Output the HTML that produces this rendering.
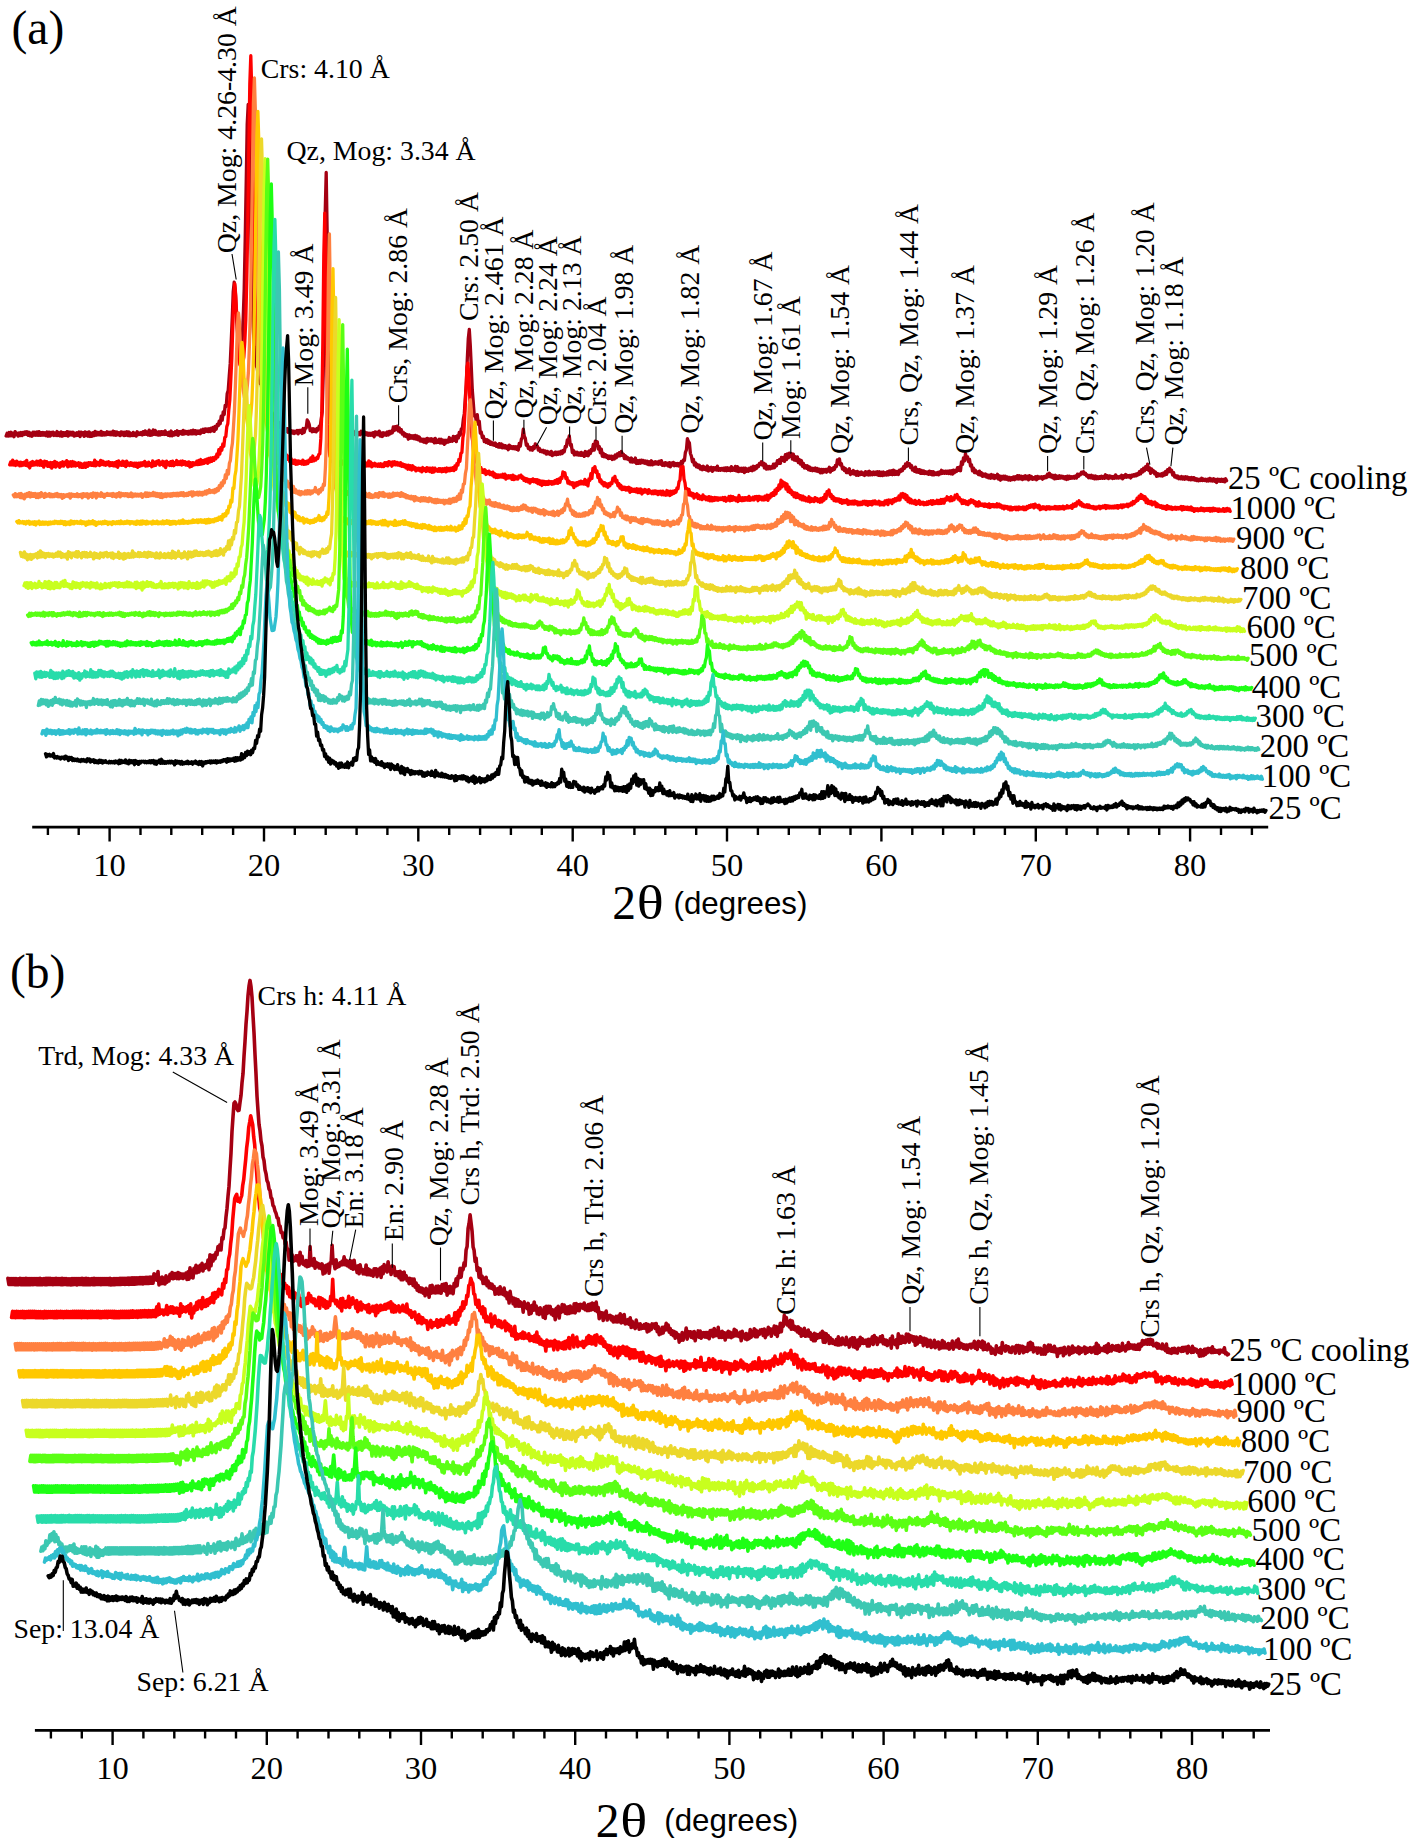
<!DOCTYPE html>
<html lang="en"><head><meta charset="utf-8"><title>XRD patterns</title><style>html,body{margin:0;padding:0;background:#fff}svg{display:block}</style></head><body>
<svg width="1417" height="1846" viewBox="0 0 1417 1846" font-family="'Liberation Serif', serif" fill="#000">
<rect width="1417" height="1846" fill="#fff"/>

<g fill="none" stroke-linejoin="round" stroke-linecap="round">
<path stroke="#A50012" stroke-width="3.30" d="M6.1 436.0l1-2.8l1 2.9l1-3.6l1 3.3l1-3.5l1 3.5l1-2.5l1 3.4l1-5.1l1 3l1-1.4l1 2.9l1-3.2l1 2.7l1-3.1l1 3.1l1-3.2l1 2.1l1-2.6l1 2.5l1-2.7l1 3.6l1-3l1 3.5l1-2.6l1 3l1-4.1l1 3l1-2.9l1 3l1-3.3l1 3.5l1-3.7l1 3.7l1-2.8l1 2.6l1-2.7l1 2.8l1-2.5l1 2.9l1-3.7l1 4.2l1-4.1l1 4l1-3.7l1 2.6l1-2.9l1 3.4l1-2.5l1 2.5l1-4l1 4l1-2.7l1 3.1l1-4l1 4.3l1-3.5l1 2.8l1-2.9l1 2.9l1-3.8l1 4.4l1-4.1l1 3l1-2.7l1 2.8l1-2.8l1 3.8l1-2.9l1 2.4l1-2.8l1 2.5l1-3.3l1 4.7l1-4.6l1 2.7l1-2.2l1 3.7l1-4.4l1 3.7l1-3.2l1 3.8l1-4.3l1 4.6l1-3.4l1 3.1l1-3.6l1 3l1-4.2l1 3.8l1-3l1 2.7l1-2.4l1 2.5l1-3.6l1 3.8l1-2.7l1 2.5l1-2.3l1 2.1l1-3.1l1 2.8l1-2.3l1 2.5l1-2.4l1 2.5l1-3.6l1 3.9l1-3.3l1 3.4l1-3.2l1 2.8l1-2.1l1 2.9l1-3.7l1 2.8l1-2.4l1 3.3l1-3.5l1 3.2l1-3.5l1 3.8l1-3.6l1 3.8l1-2.3l1 2l1.1-3.1l1 3.1l1-2.4l1 3l1-4.3l1 2.8l1-1.6l1 1.5l1-2.1l1 2.6l1-3.3l1 2.7l1-3.5l1 3.5l1-2.4l1 3l1-4.9l1 5.3l1-3.7l1 3.3l1-5.1l1 4.5l1-4l1 4.2l1-2.5l1 3l1-3.3l1 3.2l1-3.3l1 2.7l1-2.7l1 2.8l1-3.6l1 3.5l1-1.7l1 2.7l1-3.2l1 3.5l1-4.7l1 4.8l1-3.2l1 2.4l1-3.2l1 2.8l1-3.8l1 4.5l1-3.6l1 1.8l1-2.1l1 2.9l1-3.9l1 3.6l1-2.7l1 2.3l1-2.2l1 2.8l1-3l1 2.6l1-3l1 3.1l1-3.7l1 3.5l1-3.1l1 3.5l1-3.1l1 2.4l1-2.4l1 2.7l1-3.7l1 2.2l1-3l1 3.2l1-3.5l1 2.4l1-2.4l1 2.7l1-2.9l1 2.9l1-3.5l1 2.6l1-3.3l1 4l1-5.1l1 2.9l1-4.7l1 1.3l1-4.6l1 2.5l1-7.6l1 4.1l1-8.2l1 2.5l1-9.2l1 1.4l1-13.3l1-3l1-13.8l1-12.9l1-21.8l1-23l1-26.9l1-9.8l1 7.2l1 21l1 16.4l1 14.1l1 5.1l1 3.8l1-4.7l1-6.3l1-20.6l1-29.4l1-49.8l1-56.4l1-58.6l1-19.7l1 29.5l1 60.7l1 56.7l1 46.9l1 28.7l1 20l1 9.1l1 10l1 2.2l1 8l1 1.5l1 6.2l1 0.9l1 6.8l1-2.5l1 8.6l1-1.5l1 5.7l1-1.4l1 6.2l1-3.5l1 8.6l1-2l1 4.9l1-0.8l1 7l1-3.5l1 5.1l1-2.5l1 7.7l1-4.9l1 4.7l1-2.7l1 4.4l1-2.6l1 3.9l1-2.1l1 3.3l1-3l1 3.6l1-3.3l1 4l1-2.3l1 2.5l1-2l1 2.4l1-2.3l1 1.6l1-2.4l1 3.4l1-3.4l1 1.8l1-2.1l1 3.4l1-5l1 4l1-4.4l1-0.1l1-8l1 1.7l1 2.6l1 6.4l1-2l1 3.1l1-3l1 2.7l1-2.2l1 2.6l1-3.5l1 1.6l1-3.8l1 0.5l1-7.4l1-7.3l1-36.6l1-66.8l1-96.6l1-39.5l1 63.4l1 94.9l1 56.7l1 29.2l1 4l1 7.8l1-2.6l1 4.9l1-2l1 3.3l1-1.8l1 2.6l1-3.6l1 3.2l1-2.1l1 2.6l1-2.6l1 4.3l1-3.2l1 3.3l1-3.1l1 3.1l1-3.8l1 3.1l1-2.4l1 2.9l1-3.7l1 3.7l1-2.1l1 2.3l1-1.9l1 1.9l1-2.3l1 2.2l1-3.4l1 2.6l1-1.7l1 2.7l1-2.7l1 2.5l1-1.7l1 2.3l1-2.1l1 2l1-1.9l1 2.1l1-2.8l1 4.2l1-5l1 2.9l1.1-2.4l1 2.5l1-3.7l1 5l1-3.1l1 3.5l1-3.7l1 2.2l1-1.9l1 2.2l1-3.3l1 3l1-3.6l1 2.4l1-2.6l1 1.6l1-5.8l1 3.6l1-3.9l1 2.9l1-3.4l1 4.8l1-3.1l1 4.1l1-2.4l1 4.6l1-2l1 3.8l1-2.2l1 2.8l1-1.8l1 4.4l1-4.3l1 3.3l1-2.5l1 2.6l1-2.6l1 3l1-3.3l1 3.8l1-3.2l1 3.7l1-2.7l1 4.1l1-2.2l1 2.6l1-2.3l1 3.1l1-3.2l1 3.7l1-4.4l1 2.8l1-2.3l1 2.2l1-2.4l1 2.6l1-2.1l1 3.7l1-4.6l1 4.3l1-2.4l1 2.1l1-3.1l1 3.8l1-3.7l1 3.7l1-2.7l1 4l1-4l1 2.5l1-2.7l1 2l1-4.6l1 3.8l1-2.3l1 2.2l1-4.8l1 4l1-3.8l1 5.1l1-5.9l1 2.3l1-5.7l1 2.7l1-6.3l1-0.2l1-9.2l1-5.7l1-16l1-13.2l1-25.6l1-20.5l1-9l1 16.3l1 21.7l1 22.6l1 12.6l1 13.4l1-0.7l1 6.1l1-6.8l1 9.7l1-2.9l1 11.7l1-1.1l1 5.7l1-1.6l1 5.6l1-2.4l1 3.2l1-2.8l1 3.5l1-2.3l1 3.4l1-2.1l1 2.5l1-1.6l1 2.3l1-2.4l1 3.3l1-1.7l1 2.5l1-3.4l1 3.5l1-3.3l1 3.9l1-2.7l1 2.8l1-2.3l1 2.7l1-2.2l1 3.6l1-4.6l1 3.1l1-1.7l1 2.1l1-2l1 2.2l1-2.1l1 2.5l1-2.4l1 3.3l1-6.8l1 3l1-6.9l1-1.8l1-8.4l1 7l1 2l1 7.1l1-1.3l1 4.5l1-1.6l1 3l1-2.3l1 2.6l1-3.6l1 1.9l1-4.7l1 2.3l1-0.2l1 4.1l1-1.8l1 3.3l1-1.3l1 1.7l1-1.6l1 2.5l1-1.8l1 3.1l1-2.7l1 2.5l1-1.6l1 2.2l1-3.1l1 4.2l1-2.6l1 1.6l1-2.5l1 2.7l1-2.6l1 2l1-2.3l1 2.1l1-2.9l1 2.4l1-3.1l1 1.4l1-5.4l1 0.4l1-6.8l1 0.5l1-4.7l1 9.5l1-0.9l1 8.1l1-2.2l1 4.7l1-2.9l1 2.7l1-2.5l1 2.8l1-2.2l1 2.4l1-2.9l1 3l1-2.3l1 3.3l1-4.9l1 3.9l1-3.4l1 3.7l1-4.7l1 2.5l1-4l1 1.1l1-6.2l1 5.7l1-8.9l1 3.4l1-2.9l1 7.4l1-2.5l1 6.2l1-3.7l1 7.2l1-3.1l1 3.5l1-2.1l1 2.7l1-1.6l1 2.9l1-2.5l1 2.1l1-2.1l1 3.4l1-3.1l1 2.6l1-4l1 2.8l1-3.9l1 2.2l1-3.5l1 3.1l1.1-4.2l1 3.7l1-1l1 4.4l1-2.8l1 3l1-1.5l1 2.2l1-1l1 3.3l1-3.8l1 4.1l1-2.3l1 2.2l1-4l1 5.5l1-3l1 2.9l1-3l1 2.8l1-3.1l1 2.4l1-2.1l1 2.8l1-2.2l1 2.7l1-2.5l1 3.4l1-2.9l1 3.1l1-4l1 4l1-2.6l1 1.8l1-2.3l1 2l1-1.7l1 2.3l1-3.1l1 2.8l1-3.3l1 4.6l1-2.2l1 2.4l1-2.9l1 2.4l1-1.8l1 2.9l1-3.5l1 4.3l1-3.9l1 2.1l1-2.7l1 3.3l1-2.2l1 2l1-2.1l1 2.6l1-2.6l1 2.7l1-4.6l1 2l1-3.6l1 0.6l1-8.2l1-2.5l1-11.1l1 2.8l1 1.5l1 10.5l1 2.6l1 5.7l1-2.5l1 5.8l1-2.4l1 4.2l1-2.4l1 3.1l1-2.4l1 3.9l1-2.4l1 3l1-3.4l1 2.9l1-1.7l1 2.6l1-4.1l1 5l1-3.2l1 2.2l1-2.8l1 4.1l1-3.6l1 2.1l1-2l1 2.2l1-3.9l1 4.3l1-2l1 1.8l1-1.8l1 1.6l1-1.8l1 2.4l1-2.7l1 2.8l1-3l1 2.7l1-2.2l1 2.5l1-4l1 3.7l1-2.3l1 2.2l1-3.9l1 4.6l1-4.4l1 5.1l1-3.4l1 2.8l1-2.9l1 3.2l1-3.3l1 4.5l1-4.5l1 3.3l1-2.4l1 2.3l1-3.1l1 2.2l1-3.1l1 3.4l1-4.4l1 3.5l1-3.4l1 2.1l1-3.1l1 1.3l1-3.3l1 1.2l1-2.8l1 3.3l1-2.2l1 5.1l1-3.8l1 5l1-3l1 2.7l1-2.4l1 2.3l1-2.1l1 1.4l1-3.9l1 3.5l1-3.7l1 1.9l1-5.3l1 2.9l1-3.7l1 3.6l1-5.9l1 2.9l1-3l1 4l1-6.7l1 5l1-5.8l1 3.9l1-4.7l1 3.1l1-2.7l1 5.6l1-4.9l1 6l1-3.4l1 3.8l1-3.7l1 5.7l1-3l1 4.5l1-3.6l1 5.8l1-3l1 4.7l1-2.4l1 2.7l1-2.5l1 3.9l1-2.8l1 3.5l1-2.3l1 2.6l1-2.3l1 2.2l1-2.6l1 3.1l1-2.6l1 3.1l1-2.4l1 3.6l1-3.4l1 3.3l1-3.2l1 2.3l1-2.3l1 2.7l1-3l1 1.8l1-3.7l1 4.8l1-3.6l1 1.8l1-2.5l1 1.6l1-3.9l1 1.1l1-6.8l1 4l1-5l1 6.3l1-1.5l1 5.4l1-1.8l1 3.4l1-2.1l1 4.1l1-2.6l1 2.6l1-3.8l1 5.7l1-2.9l1 2l1-3.1l1 3.5l1-2.3l1 3.5l1-3.8l1 3.9l1-2.9l1 2.2l1-2.6l1 2.5l1-1.6l1 2.6l1.1-3.8l1 2.9l1-2.7l1 3.1l1-3.7l1 3.5l1-2.3l1 2.2l1-2.7l1 2.6l1-2.5l1 2.5l1-2.9l1 3.7l1-3.6l1 3.7l1-3.2l1 3.3l1-3.6l1 3.1l1-2.3l1 2.2l1-3.2l1 3.1l1-3.9l1 3.3l1-3.5l1 3.9l1-4.5l1 4.3l1-3.3l1 3l1-2.8l1 3.1l1-4.3l1 1.5l1-2.5l1 1.5l1-3.9l1 1.5l1-4.3l1 2.5l1-4l1 3l1-1.8l1 3.9l1-2.2l1 4.8l1-2.1l1 3.1l1-4.1l1 5l1-2.5l1 2.8l1-2.8l1 3.8l1-3l1 3l1-2.5l1 2.7l1-1.9l1 1.8l1-1.5l1 2.2l1-3.1l1 3.1l1-2.6l1 3.3l1-3.1l1 3l1-1.8l1 1.5l1-2.1l1 2.5l1-3l1 2l1-3.6l1 3.1l1-2.1l1 1.9l1-2.1l1 2.1l1-1.9l1 2.2l1-2.6l1 2.8l1-2.9l1 3.3l1-4l1 2.6l1-2.3l1 1.2l1-3.9l1 2.7l1-3.2l1 3.5l1-8.9l1 2.6l1-6.6l1 3.2l1-7.5l1 5.4l1-2.2l1 4.9l1-2.3l1 6.7l1-1.2l1 6.1l1-2.9l1 4.7l1-2.5l1 2.8l1-1.1l1 2.7l1-3.4l1 3.8l1-2.3l1 3.6l1-2.4l1 2.1l1-2.1l1 3.1l1-2l1 2.9l1-2.6l1 2.9l1-3.7l1 3.3l1-2.7l1 3.4l1-2.7l1 2l1-3.5l1 4.8l1-3.2l1 4.3l1-3.8l1 2.6l1-2.9l1 3l1-2.8l1 3l1-2.3l1 3l1-2.6l1 2.9l1-2.7l1 2l1-2.7l1 2.8l1-3l1 2.2l1-3.3l1 3.4l1-3.2l1 3.1l1-2.7l1 3.4l1-3.2l1 2.5l1-3.2l1 3.2l1-2.7l1 3.7l1-4.2l1 3l1-2.2l1 2.9l1-1.7l1 1.2l1-2.2l1 3l1-3.3l1 2.2l1-1.6l1 1l1-1.3l1 2.5l1-2.6l1 1.5l1-2l1 1.5l1-3.5l1 2.4l1-3.2l1 3.4l1-1.7l1 2.7l1-2.2l1 3.4l1-3.6l1 3.2l1-2.3l1 2.1l1-2.5l1 2.3l1-2l1 1.9l1-1.4l1 2.1l1-2.1l1 2.9l1-3.4l1 2.9l1-2.8l1 2.2l1-1.7l1 1.4l1-1.5l1 1.6l1-2.2l1 2.1l1-4l1 2.3l1-2.3l1 0.6l1-2.5l1 1.5l1-2l1 2.7l1-1.1l1 2.7l1-0.9l1 2.6l1-2.2l1 2.4l1-2.6l1 2.9l1-2.2l1 2.9l1-2.9l1 2.7l1-1.9l1 1.8l1-2l1 1.7l1-2l1 1.9l1-1.8l1 1.8l1-3.4l1 3.1l1-2.1l1 2.8l1.1-2.7l1 1.9l1-1.4l1 2.1l1-1.9l1 1.6l1-3.3l1 3.1l1-1.5l1 1.6l1-1.7l1 1.3l1-2.4l1 3.5l1-3l1 1.6l1-2.9l1 2.7l1-1.7l1 1.5l1-1.5l1 2.5l1-2.9l1 1.3l1-1.7l1 1.4l1-2l1 1.6l1-2.3l1 1.3l1-3.2l1 2.4l1-4.1l1 2.2l1-3.7l1 2.4l1-3.9l1 2.6l1-5.2l1 6.1l1-2.6l1 5.7l1-4.6l1 3.2l1-1.3l1 3.1l1-1.7l1 4.3l1-2.8l1 2.2l1-1.5l1 1.5l1-2.1l1 2.4l1-3.1l1 2.1l1-3.6l1 2.9l1-4.8l1 2.2l1-3.6l1 3.4l1-1.3l1 4.7l1-2.4l1 4.4l1-1.4l1 2.3l1-1.9l1 2.7l1-1.8l1 1.9l1-2.4l1 2.7l1-2.2l1 2.3l1-2.4l1 2l1-1.7l1 2.5l1-1.9l1 2.2l1-2.4l1 2.1l1-2l1 2.5l1-1.7l1 2.1l1-1.4l1 1.7l1-1.5l1 1.2l1-2.2l1 2.2l1-1.4l1 1.3l1-1.2l1 1.9l1-1.8l1 1.6l1-2.5l1 2.5l1-1.8l1 1.9l1-2.3l1 2.5l1-1.7l1 3l1-3.3l1 1.9l1-1.7l1 2l1-2.2l1 2.1l1-1.9l1 2.5l1-3.2l1 2"/>
<path stroke="#FF0000" stroke-width="3.30" d="M9.7 464.9l1-2.9l1 2.9l1-4.8l1 4.9l1-3.1l1 3.6l1-4.4l1 3.8l1-2.5l1 3.4l1-3.7l1 3.5l1-3l1 2.4l1-3.1l1 3.5l1-5l1 5.6l1-2.4l1 4.4l1-5.7l1 3.2l1-4l1 3.6l1-2.7l1 2.3l1-3.6l1 3.9l1-3.6l1 3.8l1-4.7l1 4.8l1-3.3l1 5.1l1-5.9l1 3.8l1-3.4l1 4.8l1-3.5l1 3.7l1-4.1l1 5.6l1-5.5l1 3.9l1-5.2l1 5.9l1-4.8l1 3.5l1-2.5l1 3.9l1-4.5l1 3.2l1-4.2l1 4.3l1-3.9l1 2.4l1-4l1 6.2l1-4.8l1 4.1l1-4.3l1 4.4l1-4.7l1 4.3l1-3.5l1 3.7l1-2.7l1 2.1l1-2.6l1 4.3l1-3.8l1 4.1l1-3.3l1 3.1l1-4.1l1 4.3l1-4.3l1 3.3l1-3.8l1 2.5l1-2.4l1 2.7l1-2.5l1 2.7l1-5.4l1 5.7l1-3.9l1 2.7l1-2.3l1 3.1l1-5.2l1 4.2l1-3.4l1 3.8l1-2.7l1 3l1-2.9l1 2.3l1-2.9l1 4.1l1-3.2l1 2.8l1-2.6l1 3.1l1-3.3l1 3.5l1-4.5l1 5.7l1-6.3l1 4.1l1-2.5l1 2.8l1-4.3l1 4.2l1-3.4l1 4.8l1-5.6l1 4.1l1-2l1 2.4l1-3l1 2.8l1-2.1l1 2.8l1-3l1 3.2l1-3.1l1 4.1l1-4.2l1 3.1l1-3.3l1 2.7l1-2.9l1 2.4l1-3.7l1 4.7l1-3.1l1 2.9l1-3.7l1 3.1l1-1.6l1 3.1l1-6l1 5l1-3.4l1 3l1-4l1 2.2l1-3l1 4.6l1-2.8l1 1.8l1-2.9l1 4.5l1-3.9l1 5.7l1-6.5l1 3.8l1-2.1l1 2.7l1-3.9l1 3.9l1-4.3l1 4.5l1-3.1l1 2l1-4.1l1 4.1l1-2.7l1 2.6l1.1-3.2l1 3.7l1-4l1 3.2l1-2.6l1 3.4l1-2.6l1 3l1-3.5l1 5.1l1-4.2l1 3.4l1-3.5l1 2.4l1-2.2l1 1.6l1-3.2l1 3.3l1-4.1l1 3.8l1-4.8l1 4.5l1-3.4l1 2.9l1-3.6l1 2.7l1-3.5l1 4.2l1-5l1 3.7l1-4l1 3.4l1-3.6l1 2.6l1-3.1l1 1.5l1-4.5l1 2.7l1-7.3l1 4.4l1-6.4l1 2.5l1-6.3l1 2.4l1-8.8l1-1l1-9.9l1-2.9l1-13.9l1-10l1-20.1l1-21.1l1-32l1-26.8l1-16.1l1 12.8l1 21l1 23.5l1 13l1 10.5l1 2.1l1 2l1-5.6l1-5.7l1-15.3l1-22.2l1-41.1l1-55.6l1-73.1l1-65.9l1-28.4l1 38.1l1 66.4l1 70.9l1 50.8l1 37.7l1 19.6l1 15l1 6.6l1 9l1 3.8l1 6.9l1 2.2l1 6.3l1 2.7l1 6.7l1 2.6l1 6.4l1 1.5l1 7.3l1 1.1l1 6.5l1-0.4l1 6.8l1-1.7l1 6.8l1 0.4l1 7.3l1-2.6l1 7.5l1-4.6l1 8l1-3.4l1 6.1l1-1.7l1 6.2l1-3.3l1 4.2l1-2.9l1 5.1l1-3.5l1 5.1l1-2.9l1 3.1l1-3.3l1 4.3l1-3.5l1 3.1l1-3l1 2.4l1-1.8l1 2.4l1-3.9l1 4.3l1-2.9l1 2.6l1-2.9l1 2.4l1-3.5l1 1.6l1-3.8l1 3.5l1-5.4l1 4.8l1-2.4l1 1.6l1-2.5l1 0.9l1-3.9l1-0.6l1-15l1-26.5l1-68.6l1-89l1-41.7l1 64.5l1 87.3l1 59.5l1 20.4l1 11.2l1-0.6l1 5.8l1-2.3l1 2.6l1-1.9l1 2.9l1-2.5l1 4l1-2.4l1 3.6l1-3.3l1 2.4l1-3.3l1 2.8l1-2.6l1 2.8l1-2.3l1 2.4l1-2.8l1 3.7l1-3.1l1 2.8l1-3l1 3.7l1-3l1 3l1-4l1 4.6l1-2.5l1 1.6l1-2.4l1 3.1l1-2.6l1 1.9l1-3l1 4l1-2.8l1 2.6l1-5l1 4.9l1-3.8l1 4.8l1-3.1l1 2.2l1-2.6l1 2.7l1-1.8l1 2l1-2.2l1 2.2l1-2.4l1 2.8l1-2.5l1 2.4l1-3.8l1 2.6l1-2.7l1 3.3l1-4.2l1 2.9l1-2.3l1 3.9l1-4.3l1 2.9l1-3.1l1 3.2l1-2.5l1 2.7l1-2.2l1 2.6l1-2.7l1 3.6l1-2.3l1 2.4l1-1.8l1 3l1-2.5l1 4l1-3.9l1 3.9l1-3.4l1 4.2l1-4.2l1 3.2l1-1.6l1 3.5l1-2.7l1 1.9l1-1.8l1 2.4l1-2.3l1 3.4l1-4.3l1 3l1.1-1.8l1 2.8l1-3.9l1 3.3l1-2.8l1 3.4l1-3.2l1 4l1-4.3l1 4l1-3.8l1 2.7l1-1.4l1 1.8l1-2.7l1 2.7l1-2.6l1 3.1l1-3.1l1 2.6l1-2.8l1 3.3l1-3.8l1 3l1-2.6l1 2.4l1-2.5l1 2l1-2.7l1 3l1-4.6l1 3.3l1-5.7l1 1.6l1-5.8l1 1.8l1-7.9l1-0.8l1-14.7l1-5.5l1-19.2l1-21.1l1-24.3l1-4.5l1 12.6l1 25.9l1 17.3l1 17.5l1 6l1 12.7l1-2.9l1 9.9l1-4.6l1 8.3l1-2l1 4.7l1-1.1l1 4.9l1-2.5l1 2.9l1-3.1l1 4.8l1-3l1 1.9l1-2.3l1 3.5l1-2.1l1 2.5l1-2.9l1 4.6l1-2.9l1 3.7l1-2.6l1 2.6l1-2.5l1 2l1-2.1l1 2.1l1-2.8l1 3.3l1-3.3l1 4.9l1-3.3l1 2.3l1-2.4l1 2.2l1-2.1l1 3.6l1-4.2l1 4.4l1-3.3l1 2.7l1-2l1 2.1l1-3.1l1 1.1l1-2l1 3.2l1-1.4l1 3.5l1-2.2l1 3.1l1-2.6l1 3l1-2.2l1 3.6l1-3.4l1 1.7l1-2.5l1 2.8l1-2.1l1 2.7l1-2.7l1 4l1-3.3l1 3.9l1-3.2l1 4.5l1-4.4l1 3.3l1-2.9l1 3l1-2.8l1 2.7l1-3.2l1 2.6l1-2.2l1 2.7l1-2.5l1 2l1-3.2l1 2.6l1-3.6l1 3.7l1-4.3l1 3.4l1-5l1 1.2l1-6.6l1 3.5l1-2.8l1 5.9l1-1.2l1 5.7l1-2.2l1 3l1-1.4l1 2.3l1-2l1 4.9l1-4.5l1 2.7l1-3.3l1 2.4l1-3.1l1 2.2l1-3l1 2.8l1-2.2l1 2.3l1-4.7l1 5.1l1-3.4l1 4.9l1-7l1 1.4l1-6.7l1 4.9l1-10.2l1 3l1-4.7l1 5.8l1-1.6l1 6.8l1-3l1 7.3l1-2.1l1 3.9l1-1.5l1 3.5l1-2.9l1 3.3l1-2.2l1 3.3l1-3.4l1 2l1-3.2l1 1l1-5.5l1 2.1l1-3.8l1 5.8l1-1.9l1 5.5l1-2.2l1 4.5l1-2.8l1 4.3l1-2.5l1 2.3l1-2.2l1 2.9l1-2.5l1 2.5l1-2.8l1 5l1-4l1 3.1l1-2.2l1 2l1-2l1 2.7l1-3.1l1 3.8l1-3.4l1 3.3l1-3.5l1 5l1-3.8l1 2l1-2.7l1 2.6l1-1.8l1 3.2l1-3.8l1 3.2l1-1.6l1 2.4l1-2.6l1 2.7l1-2.9l1 2.7l1-2.4l1 3.4l1-3.2l1 2.6l1-2.7l1 3.4l1-3.6l1 3.8l1-2.5l1 2.8l1-4.7l1 4.4l1.1-3.6l1 4.2l1-4.2l1 3l1-3.2l1 2.2l1-2.6l1 1.5l1-4.2l1 0.6l1-6.8l1-1.8l1-13l1 0.7l1-1.2l1 12.5l1 3.8l1 8.8l1-3l1 6.2l1-5.4l1 5.8l1-2.4l1 3.1l1-2.4l1 4.6l1-3.6l1 2.3l1-3l1 4.7l1-3.1l1 3.6l1-2.4l1 3l1-4.8l1 3.8l1-1.8l1 2.9l1-2.4l1 2.8l1-3.5l1 4.3l1-3.8l1 3.8l1-3.1l1 2.7l1-3l1 2.5l1-2.2l1 2.4l1-2.3l1 1.7l1-1.7l1 1.6l1-1.9l1 2.9l1-3.1l1 3.8l1-2.7l1 1.6l1-3.6l1 4.4l1-4.6l1 4l1-3.6l1 3l1-1.9l1 2.9l1-2.7l1 3.5l1-6l1 4.9l1-2.6l1 2.9l1-2.9l1 2.7l1-2.9l1 2.4l1-2.4l1 2.6l1-3.8l1 3.9l1-2.2l1 1.7l1-2.6l1 2.8l1-3.4l1 2.3l1-2.4l1 4.2l1-4.3l1 2.8l1-2.3l1 3l1-2.8l1 2.9l1-3.7l1 3.2l1-4.3l1 5.2l1-4.9l1 2.4l1-4l1 2.1l1-3.2l1 2.6l1-5.3l1 3.8l1-5.6l1 2.1l1-5.6l1 4.1l1-8.8l1 6.8l1-5l1 3.7l1-2.6l1 6.2l1-5.2l1 7.5l1-4.3l1 5.3l1-2.4l1 4.4l1-2.3l1 4.5l1-3.8l1 4.7l1-4.2l1 3.9l1-2.2l1 3.7l1-3.1l1 4.2l1-3.7l1 3.9l1-2.7l1 3.4l1-2.4l1 2.8l1-4.4l1 5.2l1-3.6l1 2.8l1-2.3l1 2.7l1-3.9l1 2.9l1-2.1l1 3l1-2.4l1 3.1l1-3.7l1 3.3l1-4.2l1 2.6l1-5.7l1 4.1l1-6.9l1 1.6l1-3.3l1 6.4l1-2.2l1 4.4l1-2.1l1 4.1l1-2.3l1 2.8l1-2.4l1 2.3l1-2l1 3.4l1-2.8l1 3.7l1-2.9l1 2.4l1-2.3l1 2.1l1-2.8l1 4.6l1-3.3l1 2.9l1-2.6l1 2.6l1-2.9l1 3l1-3.1l1 2.7l1-1.9l1 3.1l1-2.7l1 2.5l1-2.4l1 2.3l1-3.2l1 2.5l1-2.6l1 3.3l1-3.1l1 3.7l1-3.6l1 2.6l1-2.6l1 3.3l1-3.8l1 2.6l1-2.8l1 3l1-1.9l1 1.9l1-2.6l1 3.7l1-2.7l1 2.4l1-2.3l1 2.6l1-4.1l1 2.7l1-3.2l1 4.2l1-4.6l1 2.4l1-2.2l1 3.4l1-3.9l1 2.2l1-3.2l1 2.2l1-2.8l1 1.9l1-4l1 4l1-6.1l1 2.9l1-3.3l1 4.2l1-3.3l1 5.3l1-4.2l1 6.2l1-3.5l1 4.5l1-3.3l1 3.7l1.1-2.2l1 2.6l1-3.1l1 4l1-2.7l1 1.7l1-2.9l1 3.8l1-2.1l1 1.8l1-1.8l1 2.6l1-2l1 1.7l1-2.5l1 2.3l1-2.8l1 2.1l1-2.8l1 3.6l1-3.7l1 3l1-2.2l1 1.9l1-3.1l1 3.3l1-3.1l1 3l1-4l1 3.7l1-3.8l1 3.8l1-4.2l1 1.2l1-3.4l1 2.9l1-1.9l1 3.1l1-4.3l1 4l1-2.2l1 1.3l1-4.4l1 1.9l1-2.7l1 4.6l1-1.9l1 3.7l1-1.4l1 4l1-3.3l1 3l1-2.5l1 3.4l1-2.4l1 2.9l1-3.7l1 2l1-3.2l1 2.4l1-1.6l1 3l1-1.8l1 4.2l1-3.4l1 3.6l1-4.3l1 3.7l1-1.6l1 1.6l1-1.5l1 2.4l1-2.4l1 2.3l1-1.8l1 2.6l1-3.2l1 3.6l1-2.9l1 2l1-2.1l1 2.4l1-2.1l1 2.1l1-3.1l1 3l1-2.7l1 3l1-1.9l1 2.9l1-2l1 2.9l1-2.7l1 1.7l1-1.4l1 2.4l1-2.1l1 3l1-2.9l1 2.9l1-2.3l1 1.4l1-1.8l1 2.5l1-2.4l1 2.4l1-2.7l1 2.1l1-1.5l1 1.5l1-2.2l1 2.9l1-2.6l1 2.3l1-3l1 1.7l1-2.6l1 1.7l1-2.3l1 1.8l1-2.2l1 3.3l1-3.7l1 2.6l1-1.3l1 2.2l1-2.5l1 4.5l1-2.6l1 1.8l1-2.2l1 2.2l1-1.8l1 2.4l1-2.7l1 1.9l1-2l1 2.4l1-1.8l1 1.3l1-1.3l1 1.4l1-2.3l1 2.6l1-2.2l1 2.3l1-2.5l1 2.2l1-2.1l1 1.8l1-2.3l1 2.9l1-2.4l1 1.4l1-2.3l1 2.1l1-1.5l1 1.2l1-1.9l1 2.7l1-4.1l1 2.3l1-2.9l1 2.4l1-4.1l1 1.6l1-2.8l1 4.1l1-2.3l1 3.5l1-1.8l1 2.4l1-1.5l1 1.9l1-2.3l1 2.7l1-2.5l1 2.8l1-1.2l1 1.5l1-1.6l1 2.4l1-1.9l1 2.1l1-2.1l1 0.9l1-1.7l1 2.5l1-2.2l1 1.2l1-1.8l1 1.7l1-2.1l1 3l1-2.7l1 2.1l1-1.8l1 1.8l1-1.6l1 1.6l1-1.7l1 1.7l1-2l1 1.9l1-2.2l1 2.6l1-2.5l1 1.5l1-2.3l1 2.9l1-2.9l1 1.8l1-1.7l1 1.2l1-1.9l1 2.4l1-2.4l1 1.1l1-2.5l1 2l1-3.4l1 2l1-2.4l1 0.5l1-3.3l1 1.9l1-4l1 2.2l1-3.9l1 3.8l1-2.4l1 3.8l1-2.9l1 5.9l1-3.7l1 4.5l1-2.2l1 2.6l1-2.5l1 3.5l1-2.7l1 1.7l1-1.8l1 4.5l1.1-2.8l1 3l1-1.5l1 2.1l1-1.7l1 2.5l1-2l1 2.4l1-2.1l1 2.9l1-3.8l1 3.2l1-2l1 2l1-1.9l1 2.6l1-1.8l1 1.2l1-1.7l1 2.1l1-1.8l1 1.4l1-1.5l1 1.5l1-2.4l1 3.5l1-3.3l1 2.7l1-2.2l1 2.2l1-2.3l1 2.5l1-2.1l1 2.4l1-2.9l1 3.3l1-1.9l1 3l1-2.7l1 1.7l1-1.7l1 2.1l1-1.9l1 1.5l1-2.4l1 2.5l1-2.1l1 2.6l1-2.2l1 1.5l1-1.7l1 1.8l1-1.9l1 2.8l1-2.8l1 2.5l1-2.9l1 2.5l1-1.9l1 1.8l1-1.4l1 2.3l1-2.4l1 2.1l1-1.2l1 1.2l1-2.5l1 2.8l1-2.5l1 2.2l1-2.7l1 2.3l1-1.7l1 2.4"/>
<path stroke="#FF8040" stroke-width="3.30" d="M13.3 495.0l1 1.8l1-3.2l1 3.2l1-2.3l1 2.1l1-2.9l1 3.9l1-4.1l1 4.3l1-2.9l1 3.9l1-4.6l1 2.6l1-3.4l1 2.8l1-3.5l1 4.3l1-3.8l1 3.2l1-2.8l1 2.8l1-2.9l1 4l1-3.6l1 3.7l1-3.9l1 3.2l1-4.3l1 3.5l1-2l1 3.3l1-4l1 3.1l1-2.1l1 1.7l1-2.5l1 3.2l1-2.6l1 2.6l1-2.3l1 2.1l1-2.7l1 2.3l1-2.7l1 3.2l1-2.2l1 2.3l1-2.3l1 3.9l1-3.7l1 2.5l1-2.3l1 1.3l1-1.6l1 1.9l1-2.6l1 4.2l1-4.2l1 2.3l1-1.8l1 1.9l1-1.7l1 1.8l1-2.7l1 3l1-2.1l1 1.8l1-2.3l1 3.6l1-4l1 2.5l1-2.2l1 2.6l1-2.8l1 4.2l1-3.7l1 2l1-2.6l1 3.7l1-4.5l1 3.1l1-2.6l1 4.6l1-4.7l1 2.8l1-1.9l1 2.1l1-3.5l1 3.6l1-2.2l1 3l1-3l1 1.3l1-2.1l1 2l1-1.3l1 1.4l1-1.7l1 2.7l1-3l1 2.7l1-2.1l1 3l1-3.5l1 2.4l1-3.2l1 4.1l1-3.6l1 2.3l1-1.8l1 1.9l1-2.1l1 2.3l1-2.2l1 2.9l1-2.6l1 2.2l1-3.2l1 3.9l1-2.8l1 1.9l1-2.1l1 2.2l1-1.9l1 1.8l1-1.7l1 1.7l1-2.2l1 3.6l1-2.9l1 1.5l1-3.1l1 3.6l1-3.5l1 3.3l1-3l1 2.5l1-2.4l1 2.1l1-3.1l1 3.3l1-2.6l1 3.1l1-2.7l1 3l1-2.8l1 3.7l1-3.8l1 4l1-3.3l1 2.3l1-2.7l1 2.7l1-2.7l1 1.9l1-1.9l1 2.4l1-2.5l1 2.2l1-2.6l1 2.1l1-2l1 2.3l1-2.6l1 2.7l1-2.8l1 2.1l1-2.5l1 2.8l1-2.9l1 3.3l1-2.2l1 1.8l1-2.2l1 1.9l1-2.7l1 1.9l1-2.5l1 4.2l1-4.2l1 3.1l1-2.2l1 1.7l1-2.3l1 2.9l1-3l1 2.6l1-2.3l1 2.7l1-2.9l1 1.8l1-2.8l1 2.9l1-3.3l1 2.1l1-3.2l1 2.8l1-1.8l1 1.5l1-2.1l1 2.7l1-3.4l1 2.3l1-3.3l1 2.2l1-4.9l1 2.4l1-5.2l1 3l1-5.2l1 2.2l1-7.9l1 3.4l1-8.1l1.1 3.8l1-10.9l1-2.8l1-10.9l1-6.2l1-15.2l1-16.4l1-26.5l1-28l1-32.1l1-12.3l1 9l1 25.5l1 19.9l1 16.9l1 7.5l1 6l1-2l1-1.8l1-8.8l1-12.5l1-27.1l1-37.7l1-61.3l1-72.1l1-70.9l1-25.4l1 34.9l1 74.5l1 68.5l1 55.7l1 34.3l1 24.3l1 11.5l1 11l1 4.6l1 8.1l1 3.5l1 6.9l1 2.4l1 6.1l1 3.2l1 6.2l1 0.4l1 7.5l1 0.9l1 8.1l1-0.6l1 7.4l1-1.6l1 7.9l1-0.7l1 9.3l1-3.6l1 8.2l1-5.6l1 9.2l1-2.7l1 7.3l1-4l1 5.7l1-2.9l1 5.3l1-3.7l1 5.5l1-4.7l1 6.1l1-3l1 3.6l1-1.8l1 2.8l1-2.8l1 3.7l1-3.2l1 2.2l1-1.6l1 1.7l1-3l1 3l1-3.3l1 3l1-2.9l1 3.3l1-3.1l1 2l1-2.4l1 0.9l1-4l1 4.6l1-1.6l1 3.3l1-4.1l1 2.3l1-3.9l1 1.8l1-5.7l1 1.3l1-17.5l1-27.6l1-70.3l1-91.5l1-44.6l1 67.5l1 90.6l1 61.8l1 18.9l1 14.7l1-1.8l1 5.3l1-2.1l1 4.8l1-2.6l1 2.8l1-2.8l1 2.8l1-2.3l1 3.3l1-2.4l1 2.1l1-3l1 3l1-1.5l1 1.8l1-2.6l1 3.2l1-3.5l1 3.4l1-2.1l1 2.9l1-2.9l1 2.1l1-2.5l1 2.7l1-2.9l1 4.3l1-5.4l1 4.4l1-3.2l1 3.5l1-2.1l1 2.8l1-3.5l1 3.8l1-2.5l1 2.7l1-2.4l1 1.8l1-3.2l1 3.1l1-3.1l1 3.7l1-4.8l1 3l1-2.7l1 3.2l1-3.6l1 4.1l1-2.6l1 1.7l1-1.5l1 3.1l1-3.4l1 3.3l1-3.1l1 2.5l1-3.6l1 2.9l1-2.4l1 1.9l1-2.1l1 2.2l1-2.1l1 3l1-3.8l1 3.5l1-2.3l1 2.9l1-2.1l1 3.1l1-2.1l1 2.5l1-1.7l1 2.3l1-2.5l1 2.9l1-2.5l1 4.3l1-4.2l1 3.3l1-2l1 2.4l1-1.8l1 2.6l1-3.4l1 2.9l1-3.1l1 3.1l1-2.8l1 3.2l1-2.3l1 2.8l1-3.7l1 2.9l1-2l1 3.1l1-2.1l1 2.8l1-3.1l1 3.2l1-3.3l1 3l1-2.3l1 2.2l1-1.9l1 2.1l1-2.2l1 3.6l1-3.5l1 2.5l1-2.4l1 2.6l1-3.9l1 4.1l1-4l1 2.7l1-3.6l1 3.2l1-3.3l1 2.9l1-4.8l1 3.2l1-5.7l1 5.1l1-8.8l1 2.1l1-8.3l1-0.2l1-10.3l1-4.8l1-21.8l1-18.9l1-24l1-4.1l1 11.7l1.1 24.9l1 16.7l1 16.7l1 5.5l1 9.8l1 0l1 6.3l1-1.4l1 5.9l1-2.3l1 6.1l1-2.7l1 5.3l1-2.4l1 4.2l1-3.7l1 3.1l1-3.6l1 4.8l1-2.2l1 3.2l1-2.9l1 3.5l1-3.8l1 3.5l1-2.4l1 3.2l1-3l1 3.3l1-1.8l1 2.5l1-2.8l1 3.4l1-2.3l1 2.6l1-2.8l1 3l1-2.3l1 3.6l1-2.6l1 3l1-3.3l1 3l1-2.3l1 2.1l1-2.7l1 3.1l1-3l1 1.9l1-3.4l1 3.2l1-4.4l1 3.6l1-3l1 4.5l1-2.5l1 3.3l1-2.4l1 2.6l1-2.7l1 4l1-4.1l1 2.6l1-2.3l1 3.6l1-2.6l1 3.7l1-3.1l1 3.6l1-3.1l1 3l1-3.9l1 5.5l1-4.4l1 2.8l1-1.7l1 2.3l1-1.8l1 1.9l1-2.4l1 3.2l1-3.8l1 4.4l1-3.1l1 1.9l1-3.4l1 4.2l1-3.8l1 1.9l1-3.5l1 2.6l1-4l1 1.8l1-6.4l1 0.4l1-5.1l1 6.8l1-0.6l1 5l1-0.5l1 4.3l1-3.1l1 4.6l1-3.1l1 3.6l1-2.1l1 2.3l1-2.4l1 2.2l1-2.1l1 1.9l1-2.9l1 2.8l1-3.3l1 2.3l1-1.8l1 1.6l1-3.9l1 2.3l1-3.7l1 3.5l1-6.4l1 1.7l1-6.3l1 2l1-6.4l1 7.7l1-5.6l1 7l1-1.9l1 5.3l1-1.7l1 5.4l1-2l1 2.9l1-1.5l1 2.5l1-1.7l1 3.1l1-2l1 1.3l1-3.7l1 4.1l1-4.9l1 0.5l1-5.2l1 3.8l1-1.3l1 5.8l1-2.5l1 4.7l1-1.4l1 2.5l1-2.8l1 3.8l1-3.4l1 3.5l1-1.9l1 4.4l1-4.8l1 3l1-2.8l1 2.9l1-2.7l1 3.1l1-1.2l1 2.4l1-2.3l1 3.2l1-4.4l1 4.9l1-5l1 3.4l1-2.4l1 1.8l1-2.1l1 2.5l1-1.9l1 2.6l1-2l1 3.3l1-2.7l1 3l1-3.1l1 3.1l1-3.3l1 3.6l1-3.4l1 2.8l1-1.8l1 3.4l1-3.4l1 3.5l1-3.3l1 2.3l1-3.8l1 4.2l1-2.3l1 3.5l1-3.8l1 2.2l1-3.3l1 3.2l1-2.3l1 1.5l1-3.3l1 3.7l1-5.5l1 2.3l1-5.7l1-0.3l1-10.3l1-1.5l1-11.6l1 10.2l1 3.8l1 10.3l1 0.6l1 5.9l1-2l1 5.7l1-2.8l1 3.8l1-3.4l1 3.8l1-3.2l1 2.8l1-1.5l1 3.3l1-2.7l1 2.8l1-2.2l1 2.1l1-2l1 2l1-3.4l1 3.5l1-1.9l1 2.4l1-4l1 3.8l1-2.1l1 1.8l1-1.7l1.1 3l1-2.7l1 2.3l1-2.2l1 2.1l1-1.9l1 3.3l1-3.5l1 2.5l1-2.3l1 1.9l1-2.5l1 3.2l1-3.6l1 3.1l1-2.1l1 1.8l1-2.3l1 4.3l1-4.9l1 2.9l1-2.1l1 2.1l1-2.4l1 2.6l1-2.2l1 1.8l1-1.9l1 3.3l1-3.6l1 2.6l1-2.5l1 2.9l1-2.8l1 1.7l1-2.8l1 3.3l1-3.7l1 3.5l1-3.9l1 2l1-2.3l1 2.2l1-1.5l1 2.6l1-2.4l1 2.3l1-2.9l1 2.7l1-2l1 2.5l1-3.6l1 2.7l1-2.6l1 3.4l1-4.2l1 3.3l1-3.4l1 2.4l1-3.9l1 3.3l1-6.4l1 3.9l1-3.5l1 2.4l1-5.8l1 4.9l1-6.9l1 4.4l1-6.9l1 5.9l1-5.7l1 5l1-4.1l1 8.5l1-6.4l1 6.2l1-4.4l1 7.7l1-4.6l1 4.2l1-3l1 4.4l1-2.3l1 2.5l1-1.4l1 2.4l1-2.7l1 4.3l1-2.5l1 3.1l1-2.4l1 2.8l1-1.5l1 1.9l1-3.2l1 3.4l1-2.5l1 2.1l1-2.3l1 2.6l1-1.6l1 1.8l1-2.3l1 1.9l1-2.5l1 2.6l1-3.9l1 3.5l1-3.3l1 3l1-3.1l1 2.7l1-6.5l1 3.9l1-6.9l1 4.5l1-1.5l1 4.9l1-2l1 4.2l1-2.1l1 4l1-4.3l1 3.9l1-1.8l1 2.2l1-2.8l1 2.5l1-2.1l1 3.1l1-2.5l1 2.6l1-2.7l1 2.4l1-2.3l1 3.6l1-2.7l1 2.2l1-2l1 2.2l1-3.3l1 3.5l1-2.9l1 3.2l1-2.6l1 3.3l1-4.5l1 3.3l1-2.8l1 3.7l1-2.9l1 2.4l1-2.2l1 2.8l1-2.2l1 1.9l1-1.7l1 2.4l1-3.2l1 3l1-3.2l1 2.9l1-1.9l1 3.6l1-4.5l1 3.8l1-3.5l1 4l1-3.3l1 2.8l1-2.3l1 1.8l1-2l1 2.6l1-4.1l1 3.9l1-4.5l1 2.8l1-2.3l1 1.8l1-2.7l1 1.3l1-2.7l1 2.4l1-4.3l1 2l1-3.7l1 1.9l1-4.5l1 3l1-2.2l1 5.1l1-2.7l1 4.4l1-3.3l1 6.3l1-3.4l1 3.5l1-4l1 4l1-2.7l1 3.7l1-4.8l1 3.9l1-2.4l1 3l1-2.1l1 2.8l1-3.7l1 3.2l1-2.8l1 3.5l1-3.5l1 2.8l1-2.9l1 3.1l1-3.1l1 2l1-1.6l1 2.1l1-3.3l1 2.9l1-2.7l1 3.1l1-2.8l1 3l1-2.5l1 2.2l1-3l1 2.7l1-3.4l1 1.5l1-5l1 2.7l1-3.9l1 4.1l1-2.2l1 4.8l1-3.3l1 2.1l1-4l1 2.3l1-3.8l1.1 2.3l1-1.7l1 4.6l1-1.8l1 4.2l1-2.7l1 3.1l1-2.3l1 2.7l1-2.9l1 2.8l1-3l1 2l1-4l1 3.8l1-4.1l1 4.5l1-2.8l1 4.8l1-2.6l1 2.5l1-1.9l1 2.5l1-2.3l1 2.7l1-1.7l1 1.8l1-2.1l1 2.3l1-2.4l1 2.7l1-1.7l1 2.7l1-2.8l1 4l1-4l1 4.2l1-3.6l1 2.2l1-2.7l1 2.8l1-1.8l1 3.2l1-2.5l1 2.9l1-2.9l1 3.8l1-3.7l1 2.4l1-1.7l1 2l1-1.8l1 2l1-2.3l1 1.9l1-2.4l1 2.2l1-2.9l1 3.5l1-2.5l1 2.6l1-2.6l1 1.8l1-1.7l1 2.1l1-2.8l1 3l1-2.8l1 2.6l1-2.8l1 2.8l1-2.1l1 1.9l1-2.2l1 1.9l1-2.2l1 2l1-2.6l1 1.5l1-1.7l1 4.2l1-3.2l1 1.7l1-3.1l1 4l1-1.9l1 1.7l1-1.9l1 1.9l1-3l1 3.1l1-2.4l1 2.1l1-3.6l1 3.2l1-2.6l1 3.3l1-3l1 3.1l1-2.2l1 2.6l1-2.8l1 2.3l1-2.7l1 3.1l1-2.7l1 1.3l1-1.6l1 1.6l1-1.6l1 3.1l1-3.5l1 3.1l1-2.9l1 2.5l1-3.1l1 1.6l1-2.6l1 2.3l1-4.1l1 1.3l1-2.9l1 2.1l1-1.5l1 3.7l1-1.4l1 3l1-1.8l1 2.8l1-2.3l1 2l1-3.4l1 3.6l1-1.9l1 2l1-2.3l1 2.5l1-1.9l1 2.4l1-1.9l1 2.4l1-2.5l1 2l1-2.1l1 2.8l1-3.4l1 3.3l1-3.3l1 1.8l1-1.9l1 2l1-2.4l1 3.3l1-3.5l1 2.5l1-2.1l1 1.8l1-2.3l1 2.6l1-2.1l1 1.9l1-1.7l1 2.4l1-2.2l1 1.2l1-2.2l1 3.3l1-3.1l1 1.8l1-2l1 1.8l1-2.8l1 2.1l1-2.8l1 2.2l1-3.4l1 1.8l1-2.8l1 1.6l1-3.7l1 4.4l1-5.9l1 2.4l1-5.2l1 4.3l1-2.2l1 3.6l1-2.8l1 3.3l1-2.4l1 4l1-2.3l1 3l1-1.8l1 2.7l1-2.7l1 2.3l1-1.5l1 2.2l1-1.6l1 2.9l1-1.3l1 2.3l1-1.5l1 2l1-1.2l1 1.8l1-1.9l1 3.3l1-2.7l1 2.4l1-3.7l1 3l1-1.3l1 1.4l1-1.8l1 3.7l1-3.5l1 1.6l1-1.1l1 2l1-3.6l1 3.1l1-1.7l1 1.9l1-2.3l1 2.7l1-1.5l1 1.9l1-1.5l1 2l1-3.2l1 3l1-3.3l1 2.7l1-1.9l1 2.1l1-2l1 1.6l1-1.2l1 1.7l1-1.6l1 1.5l1-1.1l1.1 2.4l1-2.7l1 2.5l1-2.5l1 1.3l1-1.2l1 1.9l1-1.6l1 2l1-2.1l1 1.9l1-2.8l1 3.6l1-3.1l1 2.6l1-2.2l1 3l1-2.1l1 1.7l1-2l1 2.5l1-2.1l1 1.2l1-1.4l1 1.7l1-2.1l1 2.1l1-1.8l1 2.2l1-2.1"/>
<path stroke="#FFC800" stroke-width="3.30" d="M16.8 521.5l1 1.4l1-2.3l1 2.4l1-1.3l1 1.1l1-1.2l1 1.8l1-1.6l1 2.2l1-2.5l1 1.6l1-1.9l1 3l1-2.2l1.1 1.8l1-1.9l1 2.5l1-2.6l1 3.2l1-3l1 1.3l1-2.2l1 3.4l1-2.2l1 1.9l1-2.3l1 2.3l1-2.1l1 1.8l1-1.6l1 2.3l1-2.5l1 1.9l1-1.9l1 1.6l1-1.6l1 1.5l1-2.4l1 1.9l1-1.5l1 1.9l1-1.8l1 1.9l1-2.4l1 2.1l1-1.7l1 2.9l1-2.9l1 3.1l1-2.6l1 1.9l1-1.9l1 2.4l1-3.6l1 2.9l1-2.4l1 2.5l1-2.4l1 1.6l1-1.6l1 1.8l1-1.4l1 1.5l1-2.4l1 2.8l1-2.1l1 1.9l1-1.5l1 3.2l1-3.3l1 2.3l1-3.1l1 2.7l1-2.3l1 1.9l1-2.7l1 3.2l1-2.3l1 3.7l1-3l1 1.5l1-1.8l1 1.4l1-1.5l1 1.9l1-2.2l1 1.9l1-2.4l1 2.2l1-1.6l1 2.7l1-2.4l1 1.5l1-1.4l1 2.3l1-2.9l1 1.9l1-1.4l1 1.6l1-2l1 1.9l1-2.2l1 2.3l1-2.7l1 2.5l1-1.6l1 1.7l1-1.9l1 1.6l1-2.2l1 2l1-1.7l1 2.6l1-2.4l1 1.5l1-1.3l1 1.9l1-1.7l1 2.4l1-3.3l1 2.7l1-2.3l1 2.8l1-3.2l1 3l1-3.1l1 2.5l1-2l1 2.6l1-2.8l1 2.4l1-1.8l1 1.2l1-1.2l1 2.1l1-2.9l1 2.4l1-1.7l1 1.6l1-2.3l1 2.8l1-2l1 1.7l1-1.6l1 1.7l1-2.7l1 2.9l1-2.4l1 1.8l1-2.6l1 2.6l1-2.2l1 3.2l1-2.7l1 2.4l1-2.6l1 2.1l1-2l1 2.5l1-2l1 1l1-1.9l1 2.4l1-2.6l1 2.3l1-3.3l1 3.5l1-2.1l1 1.7l1-1.6l1 1.8l1-1.9l1 1.5l1-1.6l1 1.5l1-2.8l1 2.5l1-1.8l1 1.5l1-2.1l1 2.6l1-2.6l1 2l1-2.3l1 2.5l1-2l1 2.2l1-2.6l1 3.3l1-3.5l1 3.1l1-3.4l1 3.2l1-2.7l1 2l1-2.1l1 2.1l1-2.9l1 1.9l1-2.4l1 1.9l1-3.1l1 2.2l1-2.8l1 3.5l1-5.6l1 2.2l1-3.1l1 2.1l1-5l1 2.4l1-7l1 1.2l1-7.2l1 1.9l1-14.2l1 0.6l1-12.4l1-5.2l1-14.3l1-16.1l1-26.3l1-28.9l1-31.3l1-11.6l1 8.4l1 25.1l1 20.4l1 16.6l1 7.3l1 5.8l1-1.4l1-0.9l1-9.9l1-12.4l1-25.7l1-38.7l1-59.5l1-71.5l1-70.3l1-24.1l1 33.3l1 72.8l1 68.1l1 54.7l1 34.8l1 23.4l1 11.2l1 11.9l1 4.5l1 7.5l1 3.4l1 6.5l1 3.2l1 5.8l1 2.3l1 6.1l1 2l1.1 6.7l1 0.1l1 7.8l1-1l1 8.7l1 0.7l1 8.2l1-2.5l1 9l1-2.5l1 7.8l1-4l1 6.8l1-5.2l1 8.7l1-3.8l1 6l1-3.1l1 4.4l1-3.5l1 5.6l1-2.1l1 4.2l1-3.5l1 4.2l1-2.2l1 2.3l1-3l1 5.3l1-3.8l1 2.4l1-2.4l1 3l1-1.8l1 2.8l1-2.8l1 2l1-2.4l1 2.1l1-3.2l1 2.2l1-2.7l1 1.4l1-4.4l1 5l1-2.7l1 3l1-3.1l1 2.1l1-3.3l1 0.6l1-5.1l1 2.4l1-17.4l1-25.5l1-71.2l1-89.9l1-41.7l1 65.4l1 87.8l1 60.5l1 19.1l1 13.4l1-0.5l1 5.4l1-3.6l1 4.5l1-2.9l1 3.6l1-2.7l1 4.2l1-4.1l1 5.1l1-3.1l1 2.5l1-2.8l1 3l1-3.4l1 4.4l1-3.2l1 2.2l1-2.1l1 2.5l1-2.8l1 2.2l1-2.7l1 3.9l1-3.1l1 3.1l1-3.6l1 3.1l1-2.3l1 1.8l1-2.5l1 2.6l1-2.9l1 3.3l1-2.7l1 2.2l1-1.7l1 2.6l1-2.3l1 2.3l1-2.5l1 1.5l1-2.1l1 3.6l1-4.4l1 4.4l1-4.5l1 4.4l1-2.8l1 3.8l1-3.7l1 1.8l1-1.8l1 2.3l1-2.3l1 3.3l1-5l1 5l1-3.1l1 2.6l1-2.9l1 2.5l1-2.9l1 2l1-2.6l1 3.4l1-3.7l1 3.5l1-1.8l1 2.3l1-2l1 2.9l1-2.5l1 3.1l1-2.6l1 2.5l1-2.2l1 3.6l1-3.4l1 3.5l1-2.2l1 2.4l1-2.8l1 3.3l1-3.8l1 3.1l1-2.9l1 3l1-1.6l1 2.8l1-3.5l1 3.7l1-2.6l1 3.1l1-2.2l1 3.2l1-3.6l1 3.6l1-2.6l1 1.8l1-2.3l1 2.7l1-3l1 3.1l1-2.6l1 2.4l1-2.6l1 2.1l1-2.8l1 3l1-2.4l1 2.6l1-3.7l1 3.7l1-1.9l1 1.7l1-2.6l1 3.9l1-3.1l1 2.4l1-4.6l1 3.5l1-3.3l1 2.7l1-6l1 2.7l1-6.6l1 4.5l1-7.3l1 0.5l1-8.1l1-2.3l1-18.5l1-12l1-23.7l1-19.6l1-10.1l1 16.6l1 21.5l1 22.4l1 9.9l1 14l1 3.2l1 7.2l1-0.8l1 8.9l1-3.8l1 5.1l1-1.9l1 4.9l1-2.5l1 3.4l1-1.2l1 3.6l1-2.9l1 2.8l1-3.4l1 4.1l1-2.2l1 3.2l1-2.9l1 4.4l1-5.1l1 4l1-1.6l1 2.7l1-2.5l1 2.8l1-3.8l1 5.5l1-3.9l1 2.6l1-2.7l1 3l1-2.1l1 3.2l1-2.4l1 2.1l1-2.5l1 3.1l1-3.4l1.1 2.5l1-2.1l1 2.6l1-2.7l1 2.5l1-2.4l1 1.5l1-4.4l1 3.2l1-0.7l1 4.3l1-4.4l1 3.9l1-1.7l1 2.9l1-2.7l1 2.6l1-1.7l1 2.4l1-2.8l1 4.2l1-2.6l1 3l1-3.7l1 3.5l1-3.2l1 2.6l1-2.5l1 3l1-3.8l1 5.4l1-4.2l1 4l1-4.3l1 4.7l1-3l1 3.2l1-3.6l1 3.4l1-2.6l1 2.2l1-3l1 2.6l1-3.2l1 2.9l1-2.5l1 1l1-3.6l1 1.3l1-8l1 3.9l1-6.8l1 6.8l1-1.3l1 5.3l1-1.4l1 5l1-2.2l1 4.8l1-2.9l1 2.5l1-2.3l1 2.7l1-3.2l1 3.3l1-3.6l1 4.6l1-3l1 2.3l1-3l1 2.5l1-3.5l1 2l1-4.4l1 3.8l1-4.5l1 1.2l1-6.2l1 3.2l1-6.8l1 1.6l1-5.7l1 4.9l1-4.3l1 9l1-3l1 7.3l1-2.6l1 6.4l1-2.7l1 2.7l1-1.5l1 2.8l1-3l1 3.1l1-1.8l1 3l1-4.1l1 3l1-3.6l1 0.6l1-4.9l1 3l1-3.1l1 8.5l1-2.4l1 4.4l1-3.1l1 4.1l1-3.7l1 2.9l1-1.8l1 2.6l1-3.5l1 3.7l1-2.9l1 3.8l1-3.1l1 2.4l1-1.4l1 2.4l1-1.9l1 2.3l1-2.9l1 3.6l1-2.9l1 2.7l1-3.6l1 3.7l1-1.8l1 3.1l1-3l1 2.7l1-2.2l1 3.4l1-2.8l1 1.9l1-1.8l1 2.3l1-2.9l1 2.7l1-1.9l1 3l1-2.6l1 1.9l1-3l1 3.4l1-3.2l1 2.9l1-1.8l1 2.4l1-2l1 1.8l1-1.3l1 2l1-2l1 3l1-2.7l1 1.9l1-4.5l1 3.8l1-2.2l1 1.3l1-4.4l1 2.2l1-6.2l1 1.1l1-11l1-4.3l1-9.2l1 11.2l1 1.5l1 12.4l1-1.7l1 7.7l1-1.7l1 4.2l1-2.1l1 2.9l1-2l1 2.6l1-2l1 2.3l1-2.7l1 3.9l1-2.4l1 3.1l1-3.4l1 4.5l1-3.7l1 2.5l1-2.9l1 2.6l1-2.7l1 4l1-2.3l1 2.4l1-2.2l1 3.2l1-2.8l1 2.8l1-2.1l1 1.7l1-3.8l1 5.4l1-4.3l1 4.1l1-3.7l1 2l1-3.6l1 4l1-2.4l1 3.3l1-3.6l1 2.5l1-3.1l1 3.6l1-2.2l1 2.6l1-2.6l1 2.4l1-3.4l1 3.8l1-2.9l1 2.1l1-2.3l1 2.1l1-2l1 2l1-1.8l1 1.9l1-2l1 2l1-1.9l1 2l1-3.3l1 3.4l1-3.2l1 2.3l1-3l1 2.1l1-1.8l1 4.4l1-3.7l1.1 3.5l1-3.4l1 1.9l1-2.7l1 2.3l1-2.6l1 2.3l1-3.7l1 2l1-2.9l1 3.1l1-2.5l1 4.7l1-6l1 3.4l1-3.5l1 2.8l1-4.7l1 3.2l1-5.5l1 3.8l1-6.5l1 2.8l1-6.8l1 5.6l1-6.4l1 4.6l1-3.2l1 5.3l1-6l1 6.6l1-3.1l1 8.2l1-6.3l1 5.5l1-2.6l1 4.6l1-3.5l1 4.3l1-1.9l1 2.5l1-1.9l1 3.3l1-2.9l1 3.4l1-2l1 2.6l1-1.8l1 2.6l1-3l1 3.6l1-2.4l1 2.2l1-1.9l1 2.8l1-3.8l1 4.1l1-3l1 2.7l1-3.5l1 3.7l1-4l1 2.3l1-1.8l1 2.6l1-3.8l1 3l1-4.3l1 2.1l1-4.6l1 0.5l1-4.8l1 4.3l1-1.6l1 5.5l1-0.8l1 3.6l1-1.2l1 3.6l1-3.7l1 3.9l1-3.3l1 3.7l1-3l1 3.2l1-3.6l1 3.9l1-2.7l1 2.9l1-3.6l1 3.1l1-1.9l1 1.9l1-2.6l1 3.1l1-3.5l1 3.4l1-1.7l1 2.7l1-2.5l1 2.6l1-2.6l1 2.8l1-2.7l1 2.7l1-1.9l1 1.7l1-2.4l1 2.7l1-3l1 3.8l1-4.3l1 2.6l1-2.4l1 3.3l1-3.6l1 3.8l1-2.5l1 2.9l1-3.9l1 3.3l1-3l1 2.6l1-3.3l1 3.6l1-3.7l1 2.7l1-2.7l1 3.3l1-2.9l1 2.3l1-2.7l1 3.6l1-4.3l1 2.8l1-2.6l1 2.5l1-2l1 2.1l1-2.5l1 1.2l1-4.8l1 5.5l1-6.2l1 2.2l1-4.3l1 3.4l1-7.5l1 7.7l1-3.8l1 5l1-1.7l1 4.1l1-3.4l1 4.4l1-2.7l1 4.1l1-2.8l1 2.3l1-1.8l1 3.9l1-3.5l1 2.2l1-2.9l1 2.7l1-2.1l1 1.9l1-3.1l1 4.2l1-3.7l1 3.6l1-2.5l1 2l1-2.1l1 2.4l1-2.3l1 2.4l1-2.9l1 2l1-1.8l1 2.2l1-3.2l1 2.4l1-2.8l1 3.1l1-3.2l1 2.1l1-2.9l1 2.5l1-4.6l1 3l1-4.1l1 3.8l1-1.8l1 4.9l1-4.6l1 3.3l1-3.7l1 3.6l1-8.4l1 5.1l1-3.1l1 5.2l1-0.6l1 2.8l1-2l1 3.1l1-3.9l1 3.4l1-2.3l1 2.1l1-4.3l1 3.6l1-3.7l1 2.9l1-3.4l1 4.4l1-0.7l1 3.8l1-3.3l1 2.6l1-2.4l1 3.6l1-2.1l1 2.6l1-2.6l1 1.6l1-2.7l1 3.9l1-3.7l1 3.7l1-3l1 3.7l1-3.3l1 2.6l1-1.4l1 3.4l1-3.1l1 1.8l1-2.8l1 3.4l1-2.1l1 2l1-2.6l1.1 3.3l1-2.7l1 1.6l1-2l1 2l1-2.1l1 3.2l1-3.5l1 3.2l1-2.2l1 3.1l1-3.1l1 2.2l1-2.4l1 3l1-1.8l1 2.4l1-2.9l1 2.6l1-3.1l1 2.3l1-2.2l1 2.4l1-2l1 1.7l1-1.4l1 1.8l1-2.8l1 2.4l1-2.8l1 3.2l1-3.7l1 3.7l1-3.6l1 2.6l1-2.9l1 2.7l1-0.7l1 2l1-2.6l1 2.5l1-1.8l1 2.1l1-2.5l1 2.5l1-1.8l1 1.5l1-1.8l1 1.9l1-2.4l1 2.2l1-2.2l1 2.2l1-2l1 2.9l1-3.6l1 3l1-2.8l1 2.1l1-2.1l1 1.8l1-1.8l1 2.2l1-3.4l1 3.3l1-2.4l1 2.3l1-2.6l1 2.1l1-2.6l1 3.2l1-3.1l1 2l1-2.7l1 1.4l1-2.5l1 1.1l1-3.5l1 2.8l1-3.4l1 4.4l1-1.6l1 3.3l1-2.2l1 2.2l1-2.3l1 2.9l1-2.5l1 2.7l1-2l1 2.7l1-2.1l1 2.4l1-2l1 2.5l1-3.4l1 2.6l1-2.4l1 2.8l1-2.3l1 2.5l1-2.8l1 2.5l1-2.1l1 1.8l1-2.2l1 2.3l1-2.4l1 2.3l1-1.9l1 1.4l1-1.4l1 1.6l1-2.2l1 3.1l1-2.7l1 2.4l1-2.1l1 2.1l1-1.8l1 1.5l1-2.2l1 1.7l1-1.8l1 0.9l1-1.7l1 2l1-2.9l1 1.5l1-2.1l1 1.3l1-3.1l1 2.1l1-3.4l1 3.2l1-3.5l1 2.1l1-4.7l1 1.9l1-3.1l1 2.7l1-3l1 4.1l1-2l1 3.8l1-2.3l1 3.5l1-1.5l1 2.5l1-1.9l1 2.3l1-2.8l1 1.8l1-2.4l1 2.8l1-2.5l1 4.3l1-1.4l1 2.3l1-1.3l1 2.2l1-1.3l1 2.1l1-2.2l1 2.6l1-2.8l1 2.3l1-1.9l1 2.1l1-1.4l1 2.9l1-2.1l1 1.4l1-1.3l1 2.2l1-2.2l1 1.8l1-2.7l1 2.8l1-2.2l1 1.9l1-1.6l1 2l1-1.7l1 2.3l1-2.4l1 2.2l1-3.1l1 2.4l1-1.6l1 1.8l1-1.9l1 3.6l1-3l1 2.3l1-2.3l1 1.7l1-2.4l1 2.8l1-2.3l1 1.7l1-1.6l1 2.3l1-1.5l1 1.4l1-1.3l1 1.6l1-1.6l1 1.9l1-2l1 1.8l1-1.8l1 2.3l1-2.8l1 1.7l1-1.9l1 2.2l1-2.2l1 2.6l1-1.9l1 2.6l1-3.5l1 3.2l1-1.9l1 2.7l1-2.6l1 2.4l1-2.3l1 1.5l1-2"/>
<path stroke="#ECD82A" stroke-width="3.30" d="M20.4 552.4l1 3.9l1-3.1l1 3.8l1-5.2l1 6l1-3.7l1 5.7l1-5l1 4.1l1-4.5l1 4.9l1-4.5l1 3.1l1-3.5l1 2.2l1-2.9l1 4.3l1-5.6l1 4.8l1-6.4l1 6.1l1-4.4l1 4.2l1-3.3l1 4.2l1-4l1 2.5l1-2.7l1 3.1l1-2.5l1 2.4l1-2.4l1 3.1l1-2.9l1 2.1l1-3.2l1 3.2l1-4.3l1 4.1l1-3.8l1 5.2l1-3.8l1 3.2l1-2.4l1 2.6l1-3.2l1 5.3l1-7.5l1 4.5l1-3.4l1 5l1-4.7l1 2.5l1-2.7l1 3.7l1-4.9l1 5.5l1-5.6l1.1 4.5l1-2.3l1 4.1l1-5.2l1 3.5l1-3.8l1 4.5l1-4.3l1 4.5l1-3.3l1 2.7l1-4.2l1 4l1-2.3l1 4.9l1-6l1 4.8l1-4l1 3.9l1-3.2l1 3.8l1-5.4l1 3.7l1-3.1l1 3.7l1-4.2l1 2.7l1-3.2l1 4.5l1-3.2l1 2.4l1-2.9l1 4.5l1-4.9l1 5.7l1-4.3l1 2.9l1-2.3l1 2.5l1-5.1l1 6.2l1-4.6l1 4l1-3.5l1 4.8l1-5.8l1 5l1-4.2l1 3l1-3.6l1 3.8l1-3.4l1 3.2l1-6.3l1 6.2l1-3.9l1 3.2l1-2.2l1 2.1l1-3.7l1 4.2l1-3.9l1 3.5l1-2.6l1 2.5l1-3.8l1 4.3l1-3.8l1 4.4l1-5.1l1 4l1-3.5l1 3.6l1-2.9l1 2.8l1-2.3l1 3.9l1-5l1 4.8l1-3.3l1 3.8l1-5.3l1 4.3l1-2.2l1 2.5l1-3.8l1 4.1l1-3.4l1 2.8l1-3.8l1 4.2l1-3.8l1 4.4l1-7l1 6.3l1-5.1l1 5.8l1-4.8l1 2.9l1-5l1 5.1l1-2.5l1 4.3l1-4.3l1 3.4l1-5.4l1 5.1l1-2.9l1 4.9l1-7l1 5l1-4.7l1 4.9l1-4.7l1 3.9l1-5.1l1 4.3l1-4.5l1 4.4l1-2.8l1 2.8l1-3.1l1 2.5l1-2.4l1 3.2l1-2.8l1 2.6l1-3.6l1 3l1-3.7l1 3.9l1-2.7l1 4.1l1-4l1 3.1l1-4.4l1 4.2l1-4.8l1 5.2l1-4.9l1 3.9l1-6l1 4.9l1-3.3l1 4.9l1-6.4l1 2.4l1-4.4l1 2.6l1-8.5l1 8.2l1-8.9l1 4.7l1-7.4l1 1.7l1-8.9l1 2.9l1-10.7l1-0.6l1-11.1l1-4.7l1-16.3l1-15.2l1-25.6l1-26.7l1-31.1l1-11.2l1 7.6l1 24.3l1 19.5l1 16l1 6.4l1 5.3l1-1.2l1-1.6l1-10.1l1-11.9l1-27.1l1-38.4l1-61.1l1-72.1l1-71.2l1-25.5l1 35.1l1 74.2l1 68.1l1 55.6l1 34.3l1 24.4l1 12.5l1 11.7l1 3.3l1 8.2l1 2l1 8.7l1 1.7l1 6.1l1 2.4l1 7.4l1 1.3l1 6.4l1 0.5l1 8.1l1-1.1l1 8.9l1 0.1l1 8.6l1-2.5l1 9.7l1-3.7l1 7.3l1-6l1 8.1l1-2.5l1 7.3l1-2.8l1 6.4l1-5.5l1 6.9l1-2.2l1 6.2l1-6.6l1 4.7l1-2.9l1 4.2l1-3l1 3.3l1-1.5l1 2.8l1-2.8l1 3.3l1-3.2l1 4.3l1-4.8l1 3.8l1-3.9l1 2.6l1-2.1l1 3.5l1-3.2l1 4.4l1-5.4l1 1.4l1-3.8l1.1 4.1l1-3.1l1 2.9l1-4.5l1 3.6l1-5.5l1 2.2l1-9.3l1-5.8l1-35.9l1-65l1-96.6l1-38.8l1 62.3l1 95.4l1 55l1 28.3l1 4.7l1 7.2l1-2.8l1 5.7l1-2.8l1 5l1-3.6l1 4l1-3.4l1 3.7l1-4l1 3.6l1-3l1 2.9l1-2.2l1 2.8l1-2.8l1 2.7l1-3.2l1 2.2l1-2l1 3.4l1-3.9l1 3.9l1-3.6l1 3.4l1-2l1 2.8l1-2.8l1 2.9l1-2.5l1 4l1-4l1 2.4l1-2.9l1 1.7l1-2.3l1 3.9l1-4l1 2.8l1-2.8l1 2.2l1-2.4l1 3.5l1-3.8l1 4.3l1-3.3l1 4.5l1-3.9l1 3.3l1-3.6l1 2.6l1-2.8l1 3.7l1-3.9l1 3.4l1-3.7l1 4.4l1-5.4l1 3.9l1-3.2l1 5.5l1-4.6l1 4.5l1-4.4l1 2.3l1-3.6l1 4.2l1-3.5l1 3.5l1-4.6l1 5.7l1-3.4l1 2.8l1-2.6l1 3.2l1-2.5l1 2.6l1-3.8l1 4.8l1-2.7l1 3.5l1-4.2l1 4.2l1-2l1 2.3l1-2.1l1 2l1-4.5l1 5l1-2.2l1 4.1l1-6.4l1 5.4l1-3.2l1 2.6l1-2.2l1 2.6l1-1.9l1 2.3l1-2.1l1 2.8l1-3.9l1 4.2l1-2.9l1 2.6l1-5l1 5.2l1-5.2l1 5.6l1-3.9l1 3.4l1-2.6l1 3l1-3.3l1 4.1l1-4.9l1 3.6l1-2.9l1 2.2l1-3.2l1 3.2l1-4.2l1 4.1l1-4.2l1 1.8l1-3.2l1 3.6l1-7l1 1.9l1-7.1l1-0.1l1-9.9l1-0.7l1-16.9l1-13.9l1-23.4l1-20.4l1-9.1l1 16.9l1 20.4l1 24.4l1 10.8l1 13.3l1-1.4l1 9.9l1-2.6l1 10.3l1-1.8l1 6.3l1-5l1 6.3l1-3.1l1 6.4l1-5l1 4.4l1-1.6l1 2.7l1-1.8l1 3.4l1-3.8l1 3.5l1-2.4l1 4l1-2.6l1 3.9l1-4.4l1 4.4l1-3.5l1 2.4l1-2l1 2.2l1-3.7l1 3.6l1-3.6l1 3.6l1-3.8l1 4.3l1-2.5l1 3.2l1-2l1 2.9l1-3.1l1 2.7l1-3.4l1 4.4l1-4.3l1 4l1-4.2l1 3.6l1-4.5l1 2.7l1-1.6l1 4.7l1-2.7l1 3.7l1-3.1l1 3.4l1-4.4l1 5.2l1-3.8l1 2.8l1-2.2l1 2.9l1-2.3l1 3.7l1-3.7l1 3.7l1-4.6l1 4.7l1-3.6l1 3.1l1-2.7l1 3.8l1-3.3l1 2.3l1-2.3l1 3.6l1-5.6l1 5.9l1-3.2l1 2.7l1-2.1l1 4.5l1-4.6l1 2.5l1-4l1.1 3.6l1-4.1l1 1.6l1-3.5l1 0.6l1-6.7l1 2.8l1-5.6l1 5.7l1-2l1 7.2l1-1.8l1 4.4l1-1.9l1 2.7l1-2.4l1 3.7l1-3l1 4.1l1-3.1l1 5l1-6.4l1 5l1-2.7l1 2.3l1-3.4l1 3.4l1-3.8l1 2l1-3.4l1 1.4l1-3.7l1 2.9l1-5l1 1.7l1-4.8l1 0.4l1-7.5l1 4.7l1-3.3l1 8.3l1-3.9l1 8.5l1-2.8l1 4.8l1-1.8l1 3.8l1-1.7l1 3.1l1-2.2l1 3.5l1-3.5l1 2.8l1-3.7l1 2.1l1-4.2l1 2.2l1-6l1 4.6l1-3.7l1 7.8l1-2.4l1 3.9l1-1.9l1 4l1-3.3l1 3.3l1-2.3l1 2.3l1-1.6l1 2.7l1-2.2l1 3.4l1-5.2l1 6.1l1-6.1l1 5.3l1-2.4l1 3l1-4.2l1 3.2l1-3.7l1 3.7l1-4.1l1 3.8l1-3.8l1 5.1l1-2.9l1 3.5l1-3l1 2.9l1-2l1 2.8l1-3l1 2.8l1-2.6l1 2.3l1-2l1 4l1-4.5l1 3.1l1-3.4l1 3.9l1-4l1 3.9l1-2.7l1 2.6l1-3.2l1 2.5l1-3l1 3.8l1-3.1l1 2.8l1-2.1l1 2l1-3.1l1 3.1l1-3l1 2.2l1-4.9l1 1.3l1-5.2l1 0.2l1-12.6l1-1.3l1-10.4l1 9.8l1 5l1 11.9l1-2.3l1 6.7l1-1.9l1 4.1l1-1.6l1 3.4l1-3.1l1 3.6l1-1.8l1 3.6l1-3.6l1 3.7l1-3.3l1 4.1l1-4.5l1 3.8l1-3.3l1 4.5l1-3.1l1 3.5l1-2.6l1 3.7l1-3.3l1 2.9l1-2.3l1 2.9l1-3.2l1 2.8l1-2.7l1 2.7l1-4.8l1 4.4l1-3.1l1 3.2l1-4l1 4l1-2.9l1 2.7l1-2.7l1 4.4l1-5.2l1 3.6l1-2.8l1 2.9l1-4.1l1 4.1l1-3l1 3.3l1-2.7l1 3.3l1-2.7l1 2.3l1-1.9l1 2.4l1-2.6l1 2l1-3.8l1 3.3l1-3.3l1 2.9l1-2.9l1 3l1-2l1 4.8l1-4.8l1 1.9l1-3.4l1 3.3l1-4.2l1 4l1-4.2l1 4.8l1-3.6l1 1.8l1-2.7l1 4.3l1-5.5l1 4.4l1-2.8l1 4.4l1-5.1l1 3.1l1-3.2l1 4.3l1-5.1l1 2.5l1-4.4l1 3.2l1-4.8l1 2.1l1-4.5l1 4.5l1-7.8l1 4.7l1-5.4l1 3.3l1-3.7l1 3.2l1-7.6l1 7.8l1-4.8l1 8.6l1-4.7l1 6.6l1-4.4l1 5.3l1-2.1l1 5l1-3.4l1 4.5l1-4l1 3.2l1-4.5l1 5.4l1-1.7l1.1 4.1l1-3.8l1 2.8l1-3.6l1 3.6l1-3.4l1 3.5l1-3l1 4.6l1-3.1l1 4.1l1-4.6l1 2.7l1-3l1 3l1-2.9l1 3.5l1-3.5l1 2.4l1-3.1l1 3l1-3.3l1 2.9l1-3.4l1 3.2l1-5.7l1 1.2l1-5.7l1 6.7l1-5.1l1 7.2l1-1.8l1 4.2l1-2.7l1 2.8l1-1.6l1 2.7l1-1.9l1 4.1l1-4.4l1 3.5l1-2.3l1 2.9l1-3.7l1 2.7l1-3.7l1 4.6l1-5.8l1 6l1-4.2l1 4.4l1-2.8l1 3.5l1-3.8l1 5.3l1-4.5l1 2.9l1-2.1l1 2.7l1-4.4l1 4l1-3.9l1 3.7l1-3.1l1 2.3l1-2.6l1 3.2l1-3l1 2.7l1-1.9l1 1.7l1-3.1l1 3.6l1-2.5l1 2.7l1-3.7l1 3.6l1-3.3l1 2.4l1-2.4l1 2.4l1-3.3l1 4.9l1-4.6l1 5.8l1-5.6l1 3.5l1-2.6l1 4.4l1-4.8l1 1.8l1-4.3l1 4.4l1-3.3l1 3.9l1-5l1 3.3l1-5.1l1 5.1l1-7.8l1 6.3l1-8.1l1 8.1l1-8.1l1 5.7l1-2.4l1 3.3l1-2.1l1 4l1-2.6l1 4.1l1-5.6l1 5.9l1-3.5l1 4.2l1-2.6l1 2.3l1-2.1l1 2.9l1-4.1l1 5l1-3.7l1 3.9l1-3.5l1 3.2l1-2.4l1 3.2l1-5.1l1 4.1l1-4.5l1 4.5l1-3.4l1 3.4l1-4.2l1 3.5l1-3.5l1 4.5l1-3.4l1 2.8l1-2.7l1 2.9l1-3.5l1 3.8l1-5.8l1 4.2l1-5.2l1 2.2l1-4.8l1 4.9l1-1.6l1 4.5l1-4.7l1 3.9l1-4.6l1 3l1-4.7l1 3.4l1-1.5l1 3.7l1-2.4l1 4.4l1-3.1l1 3l1-3.6l1 2.9l1-3l1 3.5l1-5.2l1 3.3l1-3.8l1 4.9l1-4.9l1 4.3l1-3.1l1 4.8l1-2.8l1 4l1-2.9l1 4.5l1-3.6l1 4.5l1-3.6l1 2.5l1-2.6l1 3.3l1-3.7l1 3.7l1-2.5l1 3.6l1-3.9l1 2.9l1-1.9l1 3.2l1-3.7l1 2.8l1-2.9l1 5.5l1-4.4l1 3.3l1-4.1l1 2.7l1-2.1l1 3l1-3.3l1 4.6l1-3.4l1 2.4l1-2.4l1 3l1-2.9l1 2.7l1-2.4l1 2.8l1-3.4l1 3.2l1-2.6l1 2.6l1-2.8l1 2.7l1-3.8l1 3.4l1-2.4l1 2.4l1-3.3l1 3.5l1-2.1l1 2.6l1-2.8l1 2.4l1-2.2l1 1.6l1-2.6l1 1.8l1-3.3l1 2.1l1-2.6l1 3.6l1-2.3l1 4.3l1-2.8l1 2.7l1-3l1 2.6l1-2.6l1.1 2.8l1-1.9l1 2.6l1-3l1 2.8l1-2.7l1 1.8l1-1.8l1 1.7l1-1.3l1 2.2l1-2.6l1 2.6l1-2.9l1 2.6l1-2.9l1 1.9l1-1.7l1 2.5l1-3.7l1 3.1l1-2.2l1 2.4l1-2.3l1 1.7l1-2.5l1 2l1-2.3l1 2.7l1-2.9l1 1.5l1-3l1 1l1-2.7l1 3.4l1-3l1 3.7l1-2l1 2.6l1-2.3l1 3.3l1-1.5l1 1.8l1-1.7l1 1.9l1-1.8l1 2.4l1-3.2l1 2.7l1-2.3l1 2.7l1-2.1l1 1.7l1-2.1l1 2.5l1-2.2l1 2.9l1-2.5l1 1.8l1-2.3l1 2.5l1-2.1l1 2.1l1-2.6l1 2.8l1-3.2l1 2.3l1-2.3l1 1.7l1-2.3l1 2.4l1-2.4l1 3l1-3.1l1 2l1-1.2l1 1.6l1-1.9l1 1.9l1-1.9l1 2.1l1-3.6l1 2.5l1-1.8l1 1.7l1-2.6l1 1.5l1-2.1l1 1.4l1-2.8l1 1.6l1-3.7l1 1.5l1-3.5l1 1.3l1-3.2l1 3.3l1-3.5l1 2.8l1-2.1l1 4.2l1-1.8l1 2.8l1-2.4l1 3.8l1-1.2l1 2.3l1-2.1l1 1.9l1-2.2l1 2.8l1-1.1l1 2.3l1-1.1l1 2l1-1.9l1 3.2l1-2.2l1 2.7l1-2.3l1 1.8l1-1.8l1 2.6l1-2l1 2l1-1.2l1 2.1l1-2.2l1 2l1-1.7l1 2.1l1-1.7l1 2.3l1-2.5l1 2.1l1-2.4l1 2l1-1.2l1 1.5l1-2.1l1 1.8l1-1.3l1 2.1l1-1.9l1 2.2l1-2.6l1 1.8l1-2.4l1 2.5l1-2.8l1 2.4l1-1.6l1 1.9l1-1.6l1 1.4l1-1.9l1 2.7l1-2.4l1 2.9l1-2.7l1 1.8l1-1.6l1 2.4l1-3.8l1 3.7l1-1.9l1 1.9l1-2.7l1 3.7l1-2.5l1 1.6l1-1.2l1 2.3l1-2.1l1 1.6l1-2.4l1 2.2l1-1.9l1 2.6l1-2.6l1 1.8l1-1.4l1 1.4l1-2.1l1 1.6l1-1.5"/>
<path stroke="#C8FF1E" stroke-width="3.30" d="M24.0 585.8l1-2.9l1 4.3l1-4.5l1 5.7l1-5.5l1 4.6l1-4.8l1 5.8l1-4.5l1 3.1l1-3.8l1 4.6l1-3.8l1 3.2l1-5.8l1 4.9l1-2.8l1 4.2l1-3.6l1 3l1-5.6l1 5.8l1-5.3l1 6.3l1-7l1 7.5l1-6.5l1 5.7l1-4.2l1 4.7l1-6.2l1 5.2l1-5.1l1 5.1l1-2.8l1 3l1-5.5l1 3.5l1-4.6l1 5.3l1-6l1 5.7l1-2.6l1 3l1-2.4l1 3.9l1-3.4l1 3.9l1-6.6l1 5.1l1-4.3l1 4.8l1-4.6l1 4.1l1-3.3l1 4.6l1-5.2l1 3.2l1-3.9l1 3.4l1-2.8l1 3.9l1-4.1l1 4l1-3.3l1 4.5l1-5.7l1 4.5l1-3.7l1 3.7l1-3.4l1 4.5l1-5.2l1 5.1l1-2.6l1 3.5l1-4.8l1 4.6l1-3.5l1 2.4l1-4.1l1 4.2l1-3.3l1 2.5l1-3.1l1 3.9l1-4.3l1 2.6l1-2.9l1 2.4l1-2.6l1 3.2l1-3l1 4.2l1-4.5l1 3.8l1-3l1 2.7l1-2.8l1 3.6l1-3.7l1 3.4l1.1-4.8l1 5l1-4.6l1 4.5l1-3.6l1 3.7l1-2.4l1 2.6l1-4.8l1 6.2l1-6.4l1 5.5l1-3.8l1 3.9l1-4.8l1 7.1l1-7.8l1 5.6l1-4.7l1 3.3l1-4.8l1 4.8l1-3.8l1 3.3l1-3.4l1 4.4l1-3.5l1 3.9l1-2.3l1 2.6l1-2.8l1 2.3l1-3.1l1 2.9l1-5.4l1 6.4l1-3.5l1 3.4l1-4l1 3.8l1-3.5l1 3.8l1-4.6l1 3.8l1-3.4l1 2.9l1-3.3l1 4.2l1-4.1l1 3.5l1-2.7l1 4.8l1-6.2l1 4.8l1-5.1l1 4.4l1-4.1l1 5.2l1-5l1 4.9l1-4.6l1 5.3l1-6.9l1 5.1l1-3l1 3.9l1-4.3l1 3.9l1-3.5l1 4.6l1-6.1l1 6l1-4.5l1 4l1-4.8l1 3.5l1-5.5l1 6.1l1-6.3l1 4.2l1-4.1l1 2.9l1-2.2l1 3.5l1-3.1l1 5.3l1-4.5l1 4.3l1-5.1l1 3.5l1-3.9l1 3.4l1-4.5l1 3.5l1-3l1 2.3l1-2.6l1 2.2l1-3.9l1 5.4l1-7.4l1 3.9l1-4.6l1 4.6l1-8.1l1 5.6l1-5.2l1 3.4l1-7.7l1 5.3l1-10.3l1 2.3l1-9.1l1-0.4l1-9.2l1-2.8l1-13.5l1-8.9l1-20.6l1-21.8l1-31.4l1-27.5l1-15.4l1 12.1l1 20.4l1 24.9l1 11.8l1 10.8l1 1.4l1 1.3l1-5.2l1-6.4l1-17l1-23.1l1-44l1-57.3l1-77.6l1-69.6l1-29.4l1 39.5l1 71.2l1 74.3l1 53.6l1 40.2l1 19.5l1 17l1 7.2l1 8.2l1 4.1l1 7.1l1 1.5l1 8.8l1 1.7l1 6.1l1 2.6l1 6.2l1 2.1l1 6.7l1-0.4l1 8.6l1-1.1l1 9l1-1.6l1 9.2l1-5l1 10.8l1-3.6l1 7.1l1-2.1l1 6.2l1-2.9l1 7l1-3.7l1 6l1-3.7l1 3.9l1-3.1l1 4.8l1-4.3l1 6.1l1-6.3l1 8l1-6.4l1 4.9l1-3.3l1 4l1-5.4l1 5l1-2.3l1 2.4l1-3.2l1 3.5l1-2.8l1 2.9l1-3.8l1 5.4l1-6.3l1 2.9l1-4.8l1 3.4l1-2.2l1 4l1-3.2l1 4.9l1-6.7l1 2.3l1-7.1l1 0.8l1-15.5l1-27.5l1-73l1-94l1-44.4l1 68.4l1 91.7l1 64.4l1 19.5l1 15.3l1-2.7l1 7.6l1-5l1 5.4l1-2.7l1 3.7l1-3.2l1 3.9l1-3.2l1 2.8l1-3.8l1 4.1l1-2.8l1 2.9l1-2.9l1 4l1-4l1 3.9l1-2.9l1 2.9l1-3l1 3.2l1-3l1 2.5l1-3.7l1 3.6l1.1-2.8l1 2.6l1-2.7l1 4.2l1-3.5l1 3.6l1-5.2l1 5l1-2.6l1 2.3l1-2.9l1 2.7l1-5l1 5.4l1-3.4l1 2.9l1-2.5l1 3l1-3.4l1 2.5l1-4.6l1 4l1-2.5l1 2.7l1-3.4l1 5.2l1-3.5l1 3.6l1-3.6l1 4l1-6.7l1 6.3l1-5l1 3.8l1-2.9l1 2.9l1-3.2l1 2.4l1-4.7l1 4.8l1-3.6l1 3.3l1-2.2l1 3.4l1-2.6l1 3.6l1-4.1l1 4.5l1-2.4l1 2.6l1-1.9l1 4.7l1-4l1 2.9l1-2.7l1 3.2l1-3.3l1 4.4l1-4.5l1 3.8l1-3.4l1 4.1l1-5.2l1 3.6l1-2.4l1 2.7l1-2.1l1 3.3l1-2.8l1 4l1-3.9l1 3.9l1-3.3l1 3.3l1-4.2l1 5.1l1-3.6l1 4.8l1-3.8l1 3.3l1-3.4l1 2.9l1-4.2l1 3.4l1-3.9l1 4l1-2.8l1 2.7l1-2.4l1 2.6l1-2.2l1 4.5l1-5.3l1 2.3l1-2.5l1 1.7l1-3.8l1 2.8l1-5.4l1 3.5l1-7.6l1 5.1l1-7l1 2.8l1-13.3l1 3.5l1-16.5l1-4.4l1-18.8l1-19.9l1-25.1l1-4.2l1 12l1 26.3l1 17.7l1 18.7l1 4.6l1 10l1-0.2l1 8.9l1-2.6l1 7.9l1-2.4l1 6.5l1-3.8l1 4.6l1-3.5l1 5l1-2.8l1 4.2l1-3.4l1 5.3l1-4.7l1 5.3l1-5.2l1 6l1-5.2l1 4.5l1-3.8l1 3.3l1-3.3l1 4.2l1-3.3l1 4.1l1-2.9l1 5l1-3.9l1 3l1-4.5l1 4.9l1-4.1l1 2.2l1-3.5l1 4.7l1-4.6l1 4.5l1-2.6l1 3.4l1-2.8l1 4.3l1-7.6l1 5.8l1-4.2l1 1.9l1-2.9l1 4.3l1-4.5l1 5.9l1-2.8l1 3l1-3l1 3.1l1-3.9l1 4.2l1-2.3l1 3.1l1-3.5l1 4.2l1-3.1l1 5.1l1-6l1 5.3l1-3.8l1 3.3l1-2.6l1 2.4l1-4.7l1 5l1-2.2l1 3l1-3.3l1 2.8l1-2.6l1 4.2l1-4.7l1 4.1l1-3.8l1 5.8l1-6l1 3.5l1-5l1 4.6l1-3.2l1 1.6l1-5.5l1 2.3l1-9.4l1 4.9l1-2.9l1 7.2l1-1.3l1 5.4l1-1.8l1 3.8l1-2.1l1 2.9l1-4.4l1 4.9l1-4.2l1 3.9l1-3l1 2.7l1-2.8l1 3.6l1-3.3l1 2l1-3.4l1 2.9l1-4l1 5.5l1-5.6l1 3.4l1-5.4l1 1.8l1-6.4l1 1.5l1-7.3l1 3.5l1-7.5l1 9.4l1-3.6l1 7.5l1-3.7l1 7.7l1.1-1.5l1 5.8l1-4.6l1 5.8l1-3.9l1 6.4l1-6l1 4.6l1-3.8l1 2.4l1-3.5l1 2.2l1-6.4l1 5.6l1-6.5l1 6.1l1-1.7l1 6.9l1-4.8l1 3.7l1-2.4l1 3.9l1-2.6l1 3.5l1-3.9l1 3.6l1-2.3l1 2.1l1-3.2l1 4l1-4.9l1 4.6l1-3.7l1 3.3l1-2.5l1 4l1-3.2l1 3.2l1-3.3l1 4.3l1-2.8l1 3.9l1-3.4l1 3.2l1-3.8l1 3l1-3.2l1 3.7l1-2.9l1 2.3l1-3l1 4l1-3.6l1 4.1l1-3l1 2.8l1-2.4l1 3l1-3.6l1 4.1l1-3l1 4l1-3.2l1 3l1-4.3l1 2.8l1-3.1l1 2.5l1-4l1 3.8l1-4.1l1 3.7l1-3.2l1 3.9l1-4.5l1 4.3l1-6.8l1 3.4l1-11.1l1 1.5l1-14.3l1 0.7l1-0.1l1 13.9l1-0.2l1 9.4l1-1.4l1 5.9l1-2.3l1 2.7l1-3l1 4.7l1-5.4l1 5.2l1-3.2l1 5l1-4.2l1 4.4l1-3.2l1 2.9l1-2.3l1 2.2l1-2.3l1 3.5l1-3.3l1 2.6l1-3l1 3.3l1-3.7l1 4.1l1-4.5l1 4.5l1-2.4l1 3.7l1-3.4l1 2.6l1-2.4l1 2.6l1-1.9l1 3l1-3.4l1 3.7l1-4.4l1 3.5l1-3.7l1 4l1-4.3l1 6l1-5.2l1 2.8l1-2.5l1 3.4l1-5.1l1 5.5l1-3.6l1 2.4l1-2.9l1 3.3l1-2.9l1 5.2l1-5.1l1 3.1l1-3.7l1 4.7l1-4.9l1 3.4l1-3.2l1 2.3l1-2.9l1 3.4l1-2.8l1 3.7l1-3.4l1 2.8l1-3.9l1 6.1l1-6.4l1 3.4l1-3.7l1 4.6l1-4l1 2.3l1-3.1l1 3.2l1-3.2l1 2.1l1-4.6l1 4.3l1-2.9l1 2.5l1-4.7l1 3l1-4.5l1 5l1-6.8l1 3.4l1-6.3l1 6l1-6.4l1 3.7l1-5.4l1 2.8l1-5.1l1 5l1-4.6l1 7.5l1-7.2l1 7.5l1-2.4l1 5.2l1-2.7l1 8.9l1-6.3l1 4.5l1-2.8l1 3.2l1-2.8l1 4.1l1-4.6l1 5l1-2.3l1 3.1l1-4.1l1 2.9l1-3.3l1 4.3l1-4.2l1 3.9l1-2.2l1 2.4l1-2.1l1 2.8l1-3.2l1 5.9l1-6.3l1 3.3l1-2.6l1 4.6l1-5.5l1 3.6l1-3.5l1 1.6l1-3l1 3.3l1-4.8l1 2.3l1-6.2l1 3.3l1-4.1l1 6.7l1-3l1 7.1l1-4.3l1 4.4l1-3.4l1 4.2l1-3.1l1 3.9l1-2.4l1 3.5l1-4.2l1 4.6l1-2.9l1 2.5l1.1-2.1l1 3.1l1-4.7l1 5.4l1-4.6l1 4.4l1-3.3l1 2.2l1-2.9l1 3.2l1-2.9l1 3.2l1-4.2l1 3.5l1-2.1l1 2.2l1-4.3l1 5.7l1-3.5l1 3.8l1-4.4l1 3.4l1-2.9l1 4.6l1-3.6l1 4.6l1-3.7l1 3l1-4.2l1 3.1l1-2.8l1 3.2l1-3.9l1 3l1-3.4l1 2.9l1-2.7l1 2.5l1-3.5l1 4.4l1-4.3l1 5.3l1-7.2l1 5.5l1-3.8l1 3l1-3.3l1 3.6l1-5.3l1 4.4l1-4.4l1 2.6l1-4.1l1 3l1-5.2l1 2.8l1-5l1 4.1l1-5.9l1 6.9l1-3l1 4.7l1-2.3l1 5.4l1-4.2l1 4.3l1-3.1l1 3.8l1-4.1l1 4.8l1-3.4l1 3.9l1-3.4l1 4.2l1-3.7l1 2.4l1-3l1 3.4l1-3.9l1 3.6l1-4l1 4.1l1-2.3l1 3.3l1-3.3l1 2.9l1-2.2l1 2.5l1-4l1 3.8l1-3.2l1 3.3l1-3.6l1 3l1-4.8l1 5.8l1-4.7l1 2.6l1-3.5l1 1.9l1-3.6l1 1.6l1-3.9l1 3.1l1-2.2l1 4l1-4.2l1 4.5l1-4.7l1 4.8l1-5.1l1 3.5l1-5.5l1 6.9l1-2.7l1 3.4l1-1.8l1 4.5l1-4.1l1 3.6l1-3.9l1 4.1l1-3.3l1 3.3l1-3.8l1 2.8l1-4.3l1 4.8l1-3.2l1 4.3l1-3.2l1 4.6l1-3.6l1 3.7l1-4.1l1 4l1-1.9l1 2.7l1-2.5l1 3.8l1-3.8l1 3.1l1-3.6l1 2.9l1-4.3l1 4.4l1-3.4l1 5.1l1-3.4l1 2.4l1-2.2l1 2.5l1-2.1l1 1.9l1-3.1l1 3.2l1-1.7l1 2.4l1-3.7l1 3.8l1-2.7l1 3.1l1-3.5l1 3.3l1-3l1 3.1l1-2l1 4l1-3.9l1 2.4l1-2.3l1 2.5l1-3.1l1 3.1l1-3.5l1 3.6l1-3.3l1 3.1l1-3.1l1 2.8l1-2.8l1 3.1l1-3.4l1 4l1-4.2l1 2.4l1-2.4l1 2.4l1-1.9l1 1.9l1-3.4l1 3.3l1-2l1 2.3l1-2.8l1 3.5l1-3.8l1 4.4l1-2.9l1 2.4l1-4.2l1 5.1l1-3.5l1 2.5l1-2.4l1 3.1l1-2.8l1 2l1-2.7l1 2.8l1-1.9l1 2.8l1-3.2l1 2.9l1-2.5l1 1.8l1-2.2l1 1.8l1-2.6l1 2.7l1-2.2l1 2.5l1-2.7l1 2.4l1-3.2l1 3.2l1-3.1l1 1.7l1-2.3l1 1.8l1-3.3l1 1.9l1-3.7l1 1.4l1-1.7l1 2.8l1-2.9l1 4.7l1-1.1l1 3.1l1-1.8l1 2.1l1-1.7l1 2.1l1.1-1.6l1 1.9l1-2.5l1 1.7l1-1.6l1 1.3l1-1.4l1 1.2l1-1.9l1 2.1l1-1.7l1 2.5l1-2.1l1 1.6l1-1.8l1 2l1-1.7l1 1.4l1-1.7l1 2.1l1-2.3l1 2l1-3l1 2.1l1-1.9l1 2.6l1-2.7l1 1.9l1-2.2l1 2.3l1-2l1 2.3l1-2.3l1 1.8l1-2.2l1 1.7l1-1.8l1 1.7l1-2l1 2.6l1-3l1 1.4l1-1.9l1 1.6l1-2.5l1 1.1l1-3.9l1 2.3l1-4.4l1 1.2l1-3.1l1 4.7l1-5.6l1 2.7l1-1.6l1 4l1-2.4l1 4.6l1-2.3l1 3.3l1-1.6l1 1.7l1-2.2l1 3l1-2.5l1 2l1-2.3l1 4l1-2.1l1 2.7l1-1.2l1 2l1-2.4l1 3.5l1-2l1 2.9l1-2.9l1 2.2l1-2.3l1 3.3l1-2.8l1 2.7l1-2.6l1 3.8l1-2.3l1 1.2l1-1.8l1 2.4l1-1.2l1 1.1l1-2l1 1.9l1-2l1 2.6l1-2.5l1 2.2l1-2.7l1 3.5l1-3.6l1 2.7l1-2l1 2.2l1-1.9l1 2.2l1-2.6l1 2.7l1-3.4l1 2.8l1-1.2l1 1.4l1-2.1l1 2.4l1-3l1 2.9l1-1.9l1 1.9l1-1.6l1 1.9l1-1.5l1 1.7l1-1.6l1 1.3l1-2l1 3.4l1-3.4l1 2.6l1-2.3l1 2.6l1-2.1l1 2l1-2.4l1 2.2l1-2.3l1 2.9l1-4.5l1 3.5l1-3.1l1 4.5l1-3l1 2.9l1-2.5l1 2.3"/>
<path stroke="#5AFF14" stroke-width="3.30" d="M27.6 615.0l1 1.5l1-3.2l1 2.8l1-2.8l1 2.1l1-1.6l1 1.1l1-2l1 2.5l1-2.3l1 2l1-1.9l1 2.5l1-2.5l1 2.5l1-3.4l1 3.9l1-3.2l1 2.1l1-2l1 2.4l1-2.8l1 2.1l1-2.2l1 3.3l1-3.3l1 2.8l1-1.5l1 2.3l1-2.6l1 1.7l1-1.6l1 1.9l1-2.4l1 1.7l1-2.2l1 2.4l1-2.2l1 1.5l1-2.2l1 2.3l1-2.4l1 2.9l1-1.9l1 2.6l1-3.1l1 2.1l1-1.8l1 2.7l1-2l1 3l1-4.4l1 4.3l1-3l1 2.5l1-3.5l1 2.9l1-2.9l1 3.2l1-3.2l1 1.9l1-1.3l1 1.9l1-1.8l1 1.7l1-1.4l1 2.3l1-2.5l1 1.4l1-2l1 2.2l1-2.3l1 2.8l1-2l1 3.1l1-3.7l1 2.8l1-1.9l1 1.5l1-1.8l1 1.8l1-2.2l1 2l1-1.9l1 2.3l1-1.8l1 1.2l1-1.5l1 1.4l1-1.7l1 1.7l1-2.4l1 3.3l1-2.9l1 3.6l1-3l1 3.2l1-2.7l1 1.4l1-1.4l1 1.5l1-1.9l1 1.4l1-1.7l1 1.4l1-1.5l1 2.4l1-2.9l1 2.1l1-1.4l1 2.2l1-2.9l1 2.9l1-1.6l1 3l1-3.7l1 2.8l1-2.4l1 1.7l1-2.9l1 2.7l1-3.4l1 3.9l1-3.2l1 2.8l1-2.6l1 3.1l1-2.9l1 2.3l1-1.5l1 3.1l1-3.8l1 2.1l1-1.4l1 1.3l1-1.2l1 2.1l1-2.6l1 2.1l1-1.8l1 1.7l1-1.8l1 2.2l1-2.2l1 2l1-2.4l1.1 1.9l1-1.6l1 2.1l1-3.2l1 2.6l1-2.4l1 2.1l1-1.8l1 2.5l1-2.8l1 2.3l1-2.1l1 2.6l1-2l1 2.3l1-2.5l1 2.1l1-1.5l1 2.5l1-3l1 1.7l1-2.9l1 3.3l1-2l1 1.4l1-2.3l1 2.8l1-2.2l1 1.5l1-2.6l1 2.5l1-1.5l1 2.2l1-2.6l1 1.5l1-1.8l1 3.6l1-3.5l1 2.5l1-2.2l1 2.9l1-3.1l1 2.2l1-2.9l1 3.3l1-3.9l1 2l1-2.5l1 2.4l1-2.5l1 2.2l1-3l1 2.4l1-2.9l1 1.3l1-2.7l1 1.1l1-4.3l1 3.9l1-4.9l1 2.1l1-4.6l1 1.8l1-5l1 2l1-7.6l1 1.5l1-7.9l1 1.6l1-9l1-3.4l1-10.7l1-7l1-14.1l1-15.4l1-23.6l1-26l1-28.3l1-11.4l1 5.1l1 20.1l1 14.6l1 13l1 3.8l1 2.4l1-4.7l1-6.2l1-17.1l1-24.2l1-44.8l1-59.7l1-79.9l1-71.6l1-30.1l1 40.2l1 73.7l1 76l1 54.9l1 40.1l1 21.6l1 16.8l1 7.2l1 9.2l1 3.9l1 8.2l1 2.8l1 7l1 2.7l1 6.9l1 2.4l1 6.8l1 2.4l1 7.6l1 1.4l1 8.9l1 0.3l1 8.3l1 0l1 7.1l1-0.3l1 6.8l1-0.8l1 7.5l1-2.4l1 6.3l1-2l1 9.8l1-3.7l1 8.2l1-4.4l1 4.9l1-1.8l1 5.6l1-3.7l1 5.2l1-4.1l1 4l1-2l1 2.9l1-2.3l1 3.5l1-1.8l1 3.1l1-2.6l1 3.1l1-3.4l1 2.7l1-2.1l1 1.8l1-3.4l1 3.7l1-3.8l1 2.2l1-3l1 0.7l1-2.7l1 3.5l1-1.9l1 2.8l1-5.1l1 2.7l1-4.1l1 1.1l1-8.2l1-8.6l1-38.1l1-74.7l1-106.9l1-45.1l1 71.5l1 105.4l1 62.8l1 32.2l1 2.4l1 8.4l1-0.8l1 4.9l1-3l1 2.9l1-2.2l1 3.4l1-1.8l1 3.2l1-3l1 4.1l1-3.2l1 3.6l1-3l1 2.7l1-3l1 2.9l1-2.5l1 2.6l1-3.7l1 4.5l1-2.8l1 3.2l1-3.1l1 2.8l1-2.4l1 2.7l1-2.9l1 2.8l1-2.6l1 2.5l1-3.3l1 2.6l1-2.3l1 1.9l1-2l1 2.1l1-4l1 4.1l1-3.1l1 3l1-2.3l1 2.9l1-3.2l1 2.9l1-2.7l1 4.5l1-3.3l1 4.7l1-5.1l1 3.8l1-4l1 2.2l1-2.1l1 2.7l1-2.7l1 2.2l1-2.6l1 2.7l1-2.1l1 2.6l1-4.3l1 2.7l1-3.7l1 4.2l1-3.2l1 2.3l1-3.1l1 3.2l1-2.6l1.1 4.9l1-2.1l1 2.7l1-2.7l1 3.6l1-3.3l1 3.1l1-2l1 2.5l1-1.8l1 3.2l1-3.8l1 3.5l1-2.6l1 2.6l1-2.7l1 2.5l1-1.5l1 2l1-2.2l1 2.5l1-1.5l1 1.8l1-2.7l1 2.9l1-1.6l1 2.6l1-3.4l1 3.8l1-3.5l1 2.5l1-3.1l1 3.6l1-3.4l1 3.2l1-3.6l1 4.1l1-1.8l1 2.6l1-3.7l1 3l1-2.2l1 2.1l1-2.7l1 2.2l1-3.3l1 2.8l1-2.2l1 3.3l1-4.9l1 4l1-3l1 3.6l1-5.6l1 2.8l1-3.8l1 2.1l1-6.3l1 2.2l1-7.6l1 3.6l1-12.3l1-1.7l1-17.6l1-15l1-25l1-20.9l1-9l1 16.7l1 23l1 23.6l1 10.6l1 13.9l1 0.2l1 13.1l1-5.6l1 8.4l1-4.4l1 7.1l1-1.2l1 5.7l1-2.5l1 4.5l1-3l1 4.8l1-3.2l1 3.9l1-2.7l1 2.6l1-1.8l1 3.5l1-3.2l1 3.8l1-2.5l1 3.2l1-2.4l1 2.2l1-2.3l1 2.9l1-2.1l1 2.6l1-2.4l1 2.4l1-2.7l1 2.6l1-2.9l1 3.1l1-2.9l1 2.8l1-1.9l1 2.2l1-1.3l1 2.4l1-2.4l1 2.3l1-1.7l1 1.8l1-2.9l1 2.1l1-4.7l1 3l1-4.6l1 2.4l1-0.8l1 4.3l1-1.4l1 3.6l1-2.7l1 2.6l1-2.2l1 3.4l1-4.2l1 2.5l1-2.1l1 3.4l1-2l1 5l1-4.1l1 3.8l1-2.3l1 2.3l1-1.9l1 3.9l1-3.7l1 1.9l1-2.6l1 2.6l1-2.4l1 3l1-2l1 1.8l1-3.4l1 4.2l1-2.9l1 2.2l1-2.4l1 2.6l1-2.6l1 2.1l1-2.7l1 2.1l1-4l1 1.5l1-6.1l1 1l1-6.9l1 6l1-1.5l1 6.7l1-2.6l1 5.9l1-2.9l1 5.1l1-4.7l1 4.6l1-3.7l1 3.4l1-2l1 2.3l1-2.7l1 2.8l1-3.2l1 3.2l1-5.1l1 5l1-3.8l1 2.6l1-4.1l1 2.8l1-5.9l1 1.1l1-7.5l1 3.9l1-6.9l1 6.1l1-4.8l1 6.4l1-0.3l1 6.1l1-3.3l1 7.1l1-3.7l1 4.2l1-1.8l1 2.9l1-2.6l1 3.3l1-3l1 2.4l1-2l1 2.2l1-2l1 2.2l1-3l1 0.9l1-4l1 0.6l1-1.9l1 5l1-2.9l1 6.2l1-2.6l1 3.6l1-3.7l1 4.9l1-2.9l1 4.5l1-4.8l1 3.1l1-2.3l1 2.7l1-3.1l1 2.9l1-2.8l1 3.1l1-2.2l1 3l1-2.7l1 2.7l1-1.7l1 2.5l1-2.3l1 2.5l1-2.3l1.1 3.6l1-3l1 2l1-1.4l1 2.5l1-2.6l1 2l1-2.2l1 2.7l1-2.3l1 3.6l1-3.1l1 2.1l1-2.9l1 3.9l1-3.5l1 2.2l1-2l1 2l1-2.5l1 2.9l1-2.4l1 1.7l1-1.7l1 2.6l1-2.5l1 2.7l1-2.4l1 2.2l1-3.1l1 2.9l1-2.3l1 1.3l1-2.8l1 2.4l1-5.6l1 1.3l1-7.7l1-2.2l1-12l1 2.1l1 2.2l1 13.2l1 0.3l1 9l1-3.5l1 4.7l1-1.3l1 2.9l1-4l1 6.1l1-3l1 3.1l1-3.2l1 3.1l1-2.1l1 2.4l1-3.9l1 3.6l1-2.4l1 3.3l1-3.3l1 3.7l1-2.4l1 1.9l1-1.7l1 3.8l1-5.3l1 3.8l1-2.5l1 2l1-2.9l1 3l1-1.9l1 2.3l1-2.1l1 2.7l1-2.4l1 2.6l1-2.2l1 2.2l1-2.5l1 2.2l1-2.1l1 2.8l1-3.7l1 2.8l1-2.2l1 2.6l1-2.6l1 2.6l1-2.9l1 2.4l1-2.5l1 2.9l1-3.2l1 2.6l1-4.3l1 4.8l1-3.6l1 3.4l1-2.2l1 1.9l1-4.5l1 3.7l1-2.3l1 1.8l1-2.3l1 2.2l1-3l1 2.7l1-4.1l1 2.6l1-2.6l1 3l1-2l1 2.9l1-1.7l1 1.9l1-2.2l1 3l1-3.3l1 2.3l1-2.7l1 2l1-2.6l1 2.1l1-3.7l1 2.1l1-3.7l1 3.1l1-6.1l1 3.6l1-5.3l1 3.4l1-4.2l1 1.6l1-3.9l1 5.8l1-7.7l1 5.5l1-3.7l1 8.1l1-5.1l1 6.2l1-4.5l1 5.9l1-5.3l1 7.2l1-3.6l1 3l1-2.6l1 3.7l1-1.5l1 3.2l1-1.6l1 2.5l1-2l1 2.6l1-1.7l1 2.3l1-2.4l1 1.9l1-2.9l1 3.3l1-2.5l1 2.2l1-2.6l1 2.9l1-1.9l1 3.2l1-3.7l1 3.8l1-3.5l1 2.7l1-1.9l1 1.8l1-3.8l1 3.8l1-1.7l1 2.1l1-2.9l1 1.2l1-2.3l1 1.4l1-5.9l1 3l1-7.9l1 5.2l1-4.2l1 7.9l1-2.4l1 5l1-2.3l1 3.9l1-2.3l1 3.2l1-2l1 3l1-2.4l1 2.6l1-3.1l1 2.2l1-2.7l1 2.8l1-2.9l1 3.4l1-1.9l1 2l1-2.4l1 2.9l1-1.8l1 2.6l1-4.1l1 3.2l1-2.6l1 2.8l1-2.8l1 3.3l1-3.1l1 3.7l1-4l1 3.3l1-2.9l1 3.5l1-3.6l1 3.5l1-3.4l1 4.4l1-4.8l1 3.8l1-3.3l1 3.9l1-4.9l1 3.7l1-2.8l1 3.3l1-2.1l1 3.5l1-3.9l1 2.1l1-2.1l1 3.4l1-3.5l1.1 1.4l1-2.7l1 2.4l1-2.7l1 2.7l1-2.8l1 4.1l1-5l1 1.7l1-2.9l1 2.9l1-4.9l1 1.3l1-3.7l1 2.5l1-4.7l1 6.2l1-4.1l1 5.3l1-1.9l1 4.2l1-2.9l1 3.6l1-2.1l1 3.4l1-2.6l1 3.6l1-4.6l1 3.4l1-3.1l1 5.7l1-3.4l1 3.1l1-3.1l1 2.5l1-3.3l1 3.1l1-4.2l1 3.7l1-2.3l1 2.1l1-2.4l1 3l1-3.1l1 2.6l1-3.1l1 5.6l1-4.6l1 2.4l1-3l1 3.4l1-4.8l1 4.4l1-2.8l1 2.5l1-4.8l1 3.5l1-2.1l1 2.6l1-3.5l1 1.3l1-3.3l1 3.6l1-5.1l1 3.5l1-7l1 5.7l1-5.4l1 7.2l1-6l1 4.2l1-5.9l1 3.6l1-4.3l1 5.9l1-2l1 3.3l1-2.3l1 4.5l1-3.8l1 4l1-3.4l1 2l1-2.1l1 4.2l1-2.3l1 3.1l1-2.1l1 3.9l1-2.9l1 3l1-1.8l1 2.1l1-2.7l1 3.3l1-1.9l1 2l1-2.3l1 2.6l1-1.9l1 3.6l1-3.2l1 3l1-2.3l1 2.2l1-2.1l1 3.9l1-4.3l1 2.7l1-3.4l1 4.5l1-3.3l1 2.2l1-2l1 2.7l1-2.2l1 2.5l1-2.3l1 2.5l1-3.3l1 2.7l1-1.8l1 3.1l1-4.8l1 4.2l1-3.9l1 4l1-2.5l1 2.5l1-2.9l1 3.7l1-3.6l1 2.2l1-1.6l1 2.7l1-2.8l1 1.6l1-2.3l1 2.5l1-2.3l1 2.7l1-2.2l1 2.2l1-3.2l1 2.3l1-1.9l1 1.9l1-1.6l1 1.7l1-2.2l1 1.5l1-2.8l1 2.8l1-2.3l1 2.7l1-2.2l1 3.2l1-2.4l1 2.1l1-2l1 2.4l1-2.6l1 2.8l1-1.9l1 2.1l1-2l1 1.6l1-2l1 2.5l1-2.5l1 1.8l1-3.8l1 3.1l1-2.3l1 3l1-2.9l1 3l1-2.2l1 2.2l1-2.2l1 1.4l1-2.2l1 2.1l1-2.3l1 1.7l1-3.4l1 1.7l1-2.8l1 1.4l1-2.7l1 3.1l1-2.9l1 3.6l1-2.4l1 3.5l1-2.2l1 2.7l1-1.7l1 2.6l1-2.2l1 2.1l1-1.5l1 2.3l1-2.9l1 3.5l1-3.3l1 2.8l1-1.7l1 1.6l1-1.9l1 2.3l1-2.1l1 1.8l1-3.1l1 3l1-2.2l1 1.6l1-1.6l1 1.9l1-2.5l1 2.7l1-2.2l1 2.1l1-2.3l1 1.4l1-2.2l1 3.1l1-2.3l1 1.8l1-2.4l1 2.2l1-1.7l1 1.7l1-2.1l1 1.3l1-2.5l1 2.4l1-1.6l1 1.3l1-2.4l1 2.1l1-3.1l1 1.7l1-2.5l1.1 2.4l1-3.4l1 1.7l1-5l1 4.6l1-5l1 1.8l1-3.1l1 2.4l1-3.7l1 5.3l1-1.7l1 4.4l1-2.5l1 3.5l1-2.1l1 2.9l1-2.7l1 2.8l1-1.6l1 2.8l1-3.9l1 3.4l1-3.6l1 3.7l1-3.8l1 1.6l1-1.8l1 3.1l1-1.8l1 2.8l1-1.4l1 2.5l1-2.3l1 3.8l1-2l1 2.1l1-2.2l1 2.3l1-2.1l1 2.8l1-3.3l1 2.5l1-2l1 2.1l1-1.4l1 2.1l1-1.8l1 1.6l1-2.4l1 3.3l1-2l1 2.5l1-2.9l1 2l1-1.6l1 2.4l1-2.3l1 1.4l1-1.6l1 2.6l1-2.4l1 1.7l1-2.4l1 3.1l1-2.1l1 2.7l1-2.9l1 2.5l1-1.5l1 1.7l1-1.3l1 1.1l1-1.7l1 1.7l1-1.6l1 1.5l1-2.6l1 2.5l1-1.3l1 1.7l1-2.1l1 1.8l1-1.7l1 2.1l1-1.7l1 1.7l1-3.3l1 3.3l1-1.7l1 1.2l1-1.3l1 1.3l1-1.3l1 1.6l1-0.8l1 1.9l1-2.1"/>
<path stroke="#1EFF14" stroke-width="3.30" d="M31.2 642.8l1 1.9l1-2.5l1 2.5l1-1.9l1 2.3l1-2.9l1 2.6l1-3.8l1 3.7l1-2.1l1 2.1l1-1.9l1 1.3l1-2l1 2.3l1-3.5l1 3.9l1-2.2l1 1.7l1-2.1l1 2.9l1-2.3l1 1.8l1-3.2l1 4.2l1-2.7l1 3.4l1-3.8l1 2.6l1-1.7l1 2.5l1-5.2l1 4.5l1-1.9l1 2.8l1-4.3l1 3.5l1-3.1l1 2.4l1-2.1l1 3.2l1-2.5l1 2.2l1-2.2l1 2.7l1-4.1l1 3.5l1-2.2l1 1.6l1-3.1l1 4.3l1-3.5l1 2.6l1-2.5l1 2.4l1-2l1 3.5l1-3.3l1 3.4l1-3.9l1 2.8l1-3.2l1 4.2l1-4.3l1 3.3l1-2.9l1 2.2l1-3.5l1 2.6l1-2.3l1 2.4l1-1.9l1 2.4l1-2.8l1 4.6l1-4.9l1 4.6l1-4.6l1 3.6l1-2.5l1 2.4l1-3.2l1 3l1-2.7l1 3.1l1-2.6l1 3.1l1-2.5l1 3.3l1-3.1l1 2.8l1-2.8l1 2.4l1-3.5l1 3.6l1-4.9l1 3.9l1-2.7l1 2.9l1-3.1l1 2.9l1-2.2l1 2.4l1-2.3l1 2.6l1-2.4l1 2.1l1-2.6l1 3.1l1-3.6l1 2.7l1-2.3l1 1.9l1-2l1 3.5l1-4.1l1 4.1l1-3l1 2.4l1-2.2l1 3.6l1-2.7l1 1.9l1-2.4l1 2l1-3.4l1 3.2l1-3.8l1 3.3l1-2.3l1 2.6l1-2.8l1 3.6l1-4l1 3.4l1-3.7l1 4l1-3.6l1 3.6l1-3.3l1 2.9l1-2.1l1 1.7l1-4.2l1 4.8l1-2.8l1 2.5l1-5.1l1 4.8l1-2.2l1 2.7l1-4.3l1 4.4l1-3.1l1 3.5l1-3l1 3.5l1-4.1l1 2.7l1-3.4l1 3.7l1-3.3l1 3.4l1-2.1l1 2.6l1-2.7l1 1.9l1-2.9l1 2.6l1-2.6l1 3.8l1-3.9l1 2.3l1-3l1 2.9l1-3.5l1 3.3l1-2.4l1 2.6l1-1.9l1 2.1l1-2.4l1 2.5l1-3.3l1 3l1-3.8l1 3.2l1-2.9l1 2.9l1-2.8l1.1 2.4l1-2.8l1 3.5l1-3.6l1 2.1l1-3.4l1 2.7l1-3.2l1 2.9l1-3.4l1 4.1l1-5.7l1 2.4l1-5.4l1 2.6l1-4.3l1 2.5l1-5.1l1 5.9l1-7.7l1 1.4l1-7.5l1 2.1l1-7.6l1-0.8l1-11.5l1-2.8l1-12l1-7.9l1-18.4l1-18.3l1-27.4l1-23.5l1-13.6l1 9.4l1 14.2l1 17.6l1 8.1l1 6.7l1-0.4l1 0.1l1-8.1l1-7.3l1-17.7l1-26.1l1-45.1l1-61.6l1-81.5l1-72.8l1-30.8l1 40.6l1 74.5l1 77.5l1 55.7l1 41.4l1 22.1l1 16.1l1 7.7l1 9.3l1 4.5l1 7l1 3.2l1 6.4l1 3l1 7.1l1 2.7l1 7.7l1 1.5l1 6.4l1 2.8l1 7.4l1-0.2l1 8.1l1 1.3l1 7.7l1-0.1l1 7.4l1-0.7l1 7.9l1-1.9l1 7.5l1-3.1l1 6.5l1-2.1l1 5.5l1-1.6l1 4.4l1-4.1l1 6.4l1-2.9l1 3.7l1-2.3l1 3.4l1-2.1l1 3.8l1-2.5l1 4.7l1-3.7l1 3.9l1-3.2l1 3.1l1-2.6l1 2.6l1-2l1 2.9l1-4.1l1 3.2l1-3.2l1 2.1l1-3.9l1 4.4l1-5.2l1 3.9l1-4.3l1 4.3l1-3.8l1 3.4l1-4.3l1 3.6l1-9.4l1 1.9l1-16.6l1-33.4l1-80.4l1-104.6l1-48.6l1 75.8l1 101.4l1 68.7l1 24.3l1 13l1 0.2l1 6.5l1-1.2l1 3.3l1-2.2l1 3.8l1-3l1 2.6l1-2.1l1 2.2l1-2.5l1 3.5l1-2.7l1 2.7l1-2.7l1 3.3l1-3l1 3.6l1-4.6l1 5.5l1-3.6l1 2.8l1-2.6l1 3.7l1-3.3l1 2.5l1-1.9l1 2.7l1-4l1 4.2l1-3.4l1 2.9l1-2.7l1 2.9l1-3.6l1 3.1l1-2.3l1 2.6l1-2.8l1 2.9l1-1.7l1 1.8l1-2.3l1 2.4l1-2.4l1 3.3l1-3.2l1 1.7l1-3l1 5.2l1-3.7l1 1.5l1-3.5l1 3.6l1-3.1l1 2.9l1-4l1 3.2l1-2.5l1 5l1-5.3l1 3.1l1-1.9l1 1.2l1-2.3l1 2.1l1-1.8l1 2.2l1-2.6l1 4.3l1-2.4l1 3.1l1-2.2l1 2.9l1-2.2l1 3.8l1-2.7l1 2.3l1-2.9l1 3.6l1-4.4l1 3.4l1-1.8l1 3.5l1-3.5l1 2.3l1-1.4l1 3.5l1-4.4l1 4.9l1-3.9l1 3.9l1-3.5l1 2.1l1-1.7l1 2.1l1-2.2l1 2.7l1-2.4l1 3l1-3.2l1 3.4l1-4.1l1 4.5l1-3l1 1.8l1-1.7l1 2.7l1-2.7l1 2.7l1-3.6l1 4.5l1-3.8l1.1 2.5l1-4l1 2.8l1-1.8l1 1.7l1-2.2l1 1.6l1-2.9l1 3.2l1-5.1l1 3.8l1-4.3l1 1.6l1-7.2l1 3.4l1-7.5l1 1.5l1-10.6l1-4.3l1-15.2l1-14.7l1-25.8l1-22l1-9.3l1 17.6l1 23.6l1 23.8l1 10.1l1 16.7l1 0l1 13.8l1-4.6l1 5.8l1-6.6l1 8.3l1-2.7l1 8.2l1-4.3l1 5.9l1-1.6l1 3.4l1-1.9l1 3.8l1-3.6l1 4.4l1-2.3l1 2.2l1-1.8l1 2.8l1-2.1l1 2.1l1-3.1l1 2.9l1-1.1l1 2.9l1-2.5l1 1.9l1-1.7l1 2.8l1-2.5l1 2.7l1-3.5l1 4.2l1-2.8l1 3.2l1-3l1 2l1-3.6l1 4.1l1-2.1l1 2.2l1-2.7l1 2.7l1-2.6l1 2.2l1-3l1 0.3l1-7.2l1 4.2l1-5l1 6.7l1-0.2l1 4.2l1-1.7l1 3.1l1-2l1 3.7l1-5.2l1 3.1l1-2.7l1 2.7l1-2.7l1 3.9l1-3.2l1 5.5l1-3.2l1 3.4l1-1.9l1 3.3l1-3.1l1 2.3l1-3.5l1 3.5l1-3l1 3.4l1-4.9l1 5.1l1-2.2l1 2.5l1-2.3l1 2.7l1-2.5l1 2.3l1-2.5l1 1.4l1-2.9l1 2.7l1-3l1 2.1l1-6.1l1 3.1l1-8l1 1.5l1-6.4l1 8.7l1-1.2l1 7.9l1-2.7l1 5.8l1-3.7l1 4l1-3.5l1 2.3l1-1.8l1 1.4l1-2.6l1 4.1l1-3l1 2.7l1-3.2l1 4.1l1-5.6l1 3.4l1-4.5l1 2.1l1-5.9l1 3.5l1-7.5l1 1.6l1-8.7l1 6.4l1-3.7l1 10.3l1-2.7l1 6.1l1-1.2l1 3.7l1-1.7l1 3.7l1-1.3l1 4.5l1-3.9l1 3l1-2.9l1 2.7l1-3.7l1 3.7l1-1.9l1 1.8l1-3l1 2.4l1-3.1l1 1.4l1-5.2l1 3.1l1-3.3l1 6.8l1-1.5l1 5.2l1-3.8l1 3.7l1-1.8l1 1.8l1-2.7l1 3.1l1-1.9l1 2l1-1.8l1 2.6l1-2.3l1 2.9l1-3.1l1 2.3l1-2l1 2.5l1-2.4l1 2.9l1-2.9l1 4.4l1-3.7l1 2.8l1-2.2l1 4.2l1-4.7l1 3.5l1-3.4l1 2.9l1-3l1 2.9l1-1.9l1 2.1l1-2.3l1 2.8l1-2.1l1 2.5l1-2.3l1 2.9l1-3.3l1 3.2l1-3.3l1 3.1l1-1.9l1 1.3l1-3.5l1 3l1-2.5l1 2.2l1-1.7l1 2.9l1-2.5l1 2l1-2.1l1 3l1-3.6l1 1.9l1-3.3l1 2l1-5.2l1 1.4l1-6.3l1-3.3l1-12.4l1 4.8l1 1.1l1.1 12.9l1-0.9l1 8l1-0.9l1 3.6l1-1.4l1 3.2l1-1.5l1 2.5l1-1.7l1 2.1l1-1.8l1 2.2l1-2.3l1 3.4l1-4.1l1 3.2l1-2l1 2.5l1-2.6l1 3.6l1-2.4l1 2.8l1-3.1l1 2.5l1-1.9l1 1.7l1-1.8l1 2.7l1-4.1l1 2.8l1-3.2l1 3.2l1-2.8l1 4.2l1-2.5l1 2.9l1-2.6l1 2l1-2.9l1 3.8l1-2.7l1 2l1-2.1l1 2.3l1-2.2l1 2.7l1-3.9l1 2.7l1-2.6l1 2.4l1-2.5l1 2.9l1-2.4l1 2.7l1-3.1l1 2.7l1-2.8l1 2.5l1-3.4l1 3.6l1-3.3l1 3.1l1-3.6l1 2.7l1-2.2l1 2.6l1-4.6l1 2.1l1-3l1 2.2l1-3.3l1 3.4l1-1.8l1 3.4l1-2.9l1 4l1-3.7l1 3.4l1-4.4l1 3.1l1-3.4l1 4l1-5l1 2.4l1-4.1l1 4.8l1-7.5l1 3.2l1-4.9l1 2.1l1-5l1 3.2l1-4.8l1 4.9l1-4.6l1 3.8l1-2.8l1 5.4l1-2.2l1 7.2l1-3.5l1 5.8l1-3.8l1 4.1l1-2.3l1 3.4l1-3.5l1 2.9l1-2.7l1 3l1-1.4l1 2.1l1-2.5l1 3.2l1-2.4l1 4.3l1-3.3l1 2.9l1-3.4l1 4.2l1-3.1l1 3l1-4.2l1 4.5l1-2.5l1 2.4l1-3.3l1 4.6l1-3.6l1 2.8l1-3l1 2.6l1-2.8l1 2.1l1-2.7l1 2.4l1-3.2l1 2.8l1-1.8l1 2l1-3.1l1 2.6l1-5.2l1 1.8l1-6.5l1 3.4l1-2.8l1 6.3l1-1.6l1 4.1l1-0.9l1 3.2l1-2.5l1 3.2l1-2.9l1 4l1-3.2l1 3l1-2.8l1 2.2l1-2.3l1 3.2l1-2.5l1 1.9l1-3.1l1 4.4l1-3.3l1 3.9l1-4.3l1 4.1l1-3.2l1 2.8l1-3.7l1 3.3l1-2.8l1 4.2l1-4.3l1 3.1l1-2.9l1 3l1-3.3l1 3.1l1-3.3l1 2.6l1-1.9l1 2.3l1-1.8l1 2.9l1-4.3l1 4.3l1-3.9l1 3l1-2.2l1 2.7l1-2.5l1 2.6l1-2.7l1 2.2l1-1.9l1 1.9l1-2.4l1 1.4l1-3.1l1 2.3l1-2.5l1 2.5l1-2.8l1 2.8l1-4.3l1 2.1l1-4.7l1 2.3l1-3.9l1 2.9l1-4l1 7.4l1-3.8l1 4l1-3.1l1 4.3l1-1.6l1 2.4l1-2.5l1 3.2l1-2.6l1 3l1-2.7l1 3.3l1-2.7l1 2.8l1-1.9l1 2.2l1-2.3l1 2.5l1-4.5l1 4.7l1-4l1 2.9l1-2.7l1 2.9l1-3.8l1 3l1-2l1.1 2.5l1-2.1l1 3.1l1-3l1 2.9l1-4l1 4.5l1-4l1 3.4l1-3.4l1 2.3l1-1.9l1 3.4l1-3.2l1 1.8l1-2.4l1 4.4l1-5l1 2.9l1-3.5l1 2.2l1-3.1l1 4.2l1-6.2l1 1.6l1-4.6l1 4.5l1-6l1 3.5l1-4.7l1 6.6l1-6.6l1 4.4l1-3.8l1 7.1l1-4l1 3.8l1-3.5l1 5.4l1-3.8l1 5.2l1-3.7l1 3.7l1-1.9l1 3.7l1-4l1 4.4l1-2l1 3l1-2l1 2.1l1-1.6l1 3.1l1-3l1 3.2l1-2.6l1 2.1l1-1.8l1 1.8l1-2.4l1 2.8l1-1.8l1 3.1l1-2.8l1 2.3l1-2.6l1 2.5l1-1.8l1 2.3l1-2.9l1 3.1l1-2.1l1 2.5l1-2l1 2.4l1-3.3l1 2.7l1-1.2l1 1.1l1-2.3l1 3l1-2l1 3.7l1-4.5l1 2l1-1.8l1 2.2l1-2l1 3l1-2.7l1 2.3l1-3.8l1 3.7l1-2.4l1 2.1l1-2.4l1 2l1-1.7l1 2l1-1.6l1 2.1l1-2.8l1 2.1l1-2.2l1 2.4l1-2l1 1.5l1-1.9l1 1.2l1-3.3l1 3.6l1-3.1l1 3l1-2l1 3.3l1-2.7l1 2.4l1-1.9l1 2.4l1-2.6l1 3.2l1-3l1 2.8l1-3l1 2.7l1-2.9l1 2.3l1-1.5l1 2.4l1-2.4l1 1.7l1-3.3l1 3l1-3.3l1 2.3l1-2.3l1 2.9l1-3l1 2.1l1-2.8l1 1.8l1-2.1l1 1.1l1-3.3l1 2.1l1-3.8l1 4l1-3l1 5.2l1-2.3l1 2.7l1-1.5l1 2.1l1-1.4l1 2.4l1-2.4l1 3l1-2.1l1 1.8l1-2.8l1 2.8l1-2.3l1 2.2l1-1.7l1 1.4l1-1.4l1 1.3l1-1.7l1 2.1l1-2l1 1.4l1-1.5l1 2.1l1-1.8l1 1.4l1-2.8l1 2.4l1-1.6l1 2.2l1-2.1l1 1.8l1-3.2l1 2.8l1-2.5l1 3.5l1-4l1 3l1-2.1l1 1.7l1-2l1 2.2l1-1.7l1 1.5l1-2.2l1 2.2l1-3.2l1 2l1-2.3l1 1.2l1-2.1l1 1.7l1-3.3l1 2.4l1-4l1 1.4l1-4.6l1 2.7l1-3.5l1 3.3l1-4.8l1 5.7l1-2.3l1 4.6l1-2.8l1 4.1l1-1.4l1 2.2l1-1.5l1 2.3l1-1.8l1 2.6l1-2.2l1 2.6l1-3.3l1 2.9l1-1.9l1 1.4l1-2.3l1 1.7l1-3.6l1 2.7l1-2.9l1 3.3l1-1l1 2.9l1-1.8l1 3.6l1-3.2l1 3l1-1.7l1 1.8l1-1.8l1 2.5l1-1.9l1.1 2.7l1-2l1 1.8l1-2.2l1 2.4l1-2l1 2.5l1-2.7l1 1.7l1-1.8l1 2.3l1-3.4l1 3.4l1-1.2l1 2l1-2.7l1 4l1-3.1l1 2.5l1-2.2l1 2.2l1-2.8l1 2.4l1-2.8l1 2.8l1-1.9l1 1.9l1-2.2l1 1.7l1-1.8l1 1.9l1-2.1l1 1.9l1-2l1 2.7l1-2.3l1 3l1-2.5l1 2.8l1-2l1 2.4l1-2.9l1 1.6l1-1.8l1 1.8l1-1.8l1 2.4l1-3.2l1 3l1-2l1 1.7l1-1.4l1 1.1l1-1.8"/>
<path stroke="#28DCAA" stroke-width="3.30" d="M34.8 673.1l1 5.7l1-7l1 4.8l1-4.4l1 5l1-5.8l1 5.9l1-4.5l1 3.7l1-4.2l1 4.2l1-3.7l1 2.8l1-2.5l1 4.2l1-7l1 7.1l1-5.3l1 6.4l1-5.3l1 5.3l1-5.5l1 5.2l1-5.4l1 4l1-3.7l1 5.6l1-7.6l1 6.7l1-4.8l1 2.9l1-4.5l1 4l1-4.8l1 4.8l1-3.5l1 4l1-4.5l1 6.7l1-5l1 4.6l1-3.8l1 4.3l1-5.6l1 7.6l1-6l1 4l1-4.4l1 1.9l1-4.7l1 6l1-4.9l1 4.1l1-3.1l1 3.6l1-7l1 7.4l1-5.4l1 5.4l1-4.7l1 4.7l1-4.5l1 4.1l1-6.4l1 4.8l1-4.8l1 5.8l1-4.6l1 5.4l1-5.1l1 4.1l1-3.3l1 3.6l1-4l1 4.3l1-5.4l1 4.7l1-4.5l1 5.2l1-3.5l1 4.5l1-3.5l1 3.4l1-4.1l1 4.9l1-4.7l1 5.7l1-5.8l1 4.7l1-6l1 4.7l1-5.1l1 5.6l1-4.8l1 3l1-4l1 5.6l1-7.4l1 5.1l1-3l1 5.3l1-6.1l1 5.2l1-4.6l1 5l1-5.9l1 3.1l1-4.1l1 6.7l1-6.1l1 4.6l1-4.6l1 5.3l1-4.3l1 4.3l1-3.1l1 3.9l1-5.8l1 5.5l1-3.2l1 2.6l1-3.3l1 3.2l1-5.4l1 7.9l1-5.9l1 4.3l1-6l1 5.3l1-3.5l1 3l1-2.9l1 3.6l1-4.6l1 5.3l1-6.5l1 5l1-2.6l1 4.1l1-7.8l1 6.9l1-2.9l1 5.5l1-6.7l1 7.3l1-7.3l1 5.6l1-6.4l1 6.5l1-5.5l1 4.9l1-4.7l1 5.3l1-5.9l1 4.7l1-4.8l1 5.1l1-4.6l1 3.8l1-3.2l1 4.3l1-4.4l1 2.9l1-3.1l1 3.4l1-4.4l1 3.5l1-3.7l1 3.9l1-3l1 3.4l1-3.5l1 3.5l1-3.6l1 4.9l1-5.7l1 4.4l1-4.8l1 5.6l1-4.1l1 2.7l1-3.3l1 3.4l1-3.9l1 4.8l1-5.9l1 5.5l1-4l1 4.4l1-3.5l1 5.3l1-5.3l1 5.4l1-8.5l1 4.7l1-3.2l1 1.6l1-3.1l1 2.9l1-4.5l1 5.6l1-7.1l1 4.1l1-6.8l1 4.7l1-5.9l1 3.9l1-7.4l1 5.2l1-8.3l1 5l1-9.8l1 3.5l1-9.5l1 2l1-10l1 2.5l1-13.4l1-4.8l1-14.2l1-12.1l1-21.3l1-22.5l1-25.3l1-10l1 3l1 17.4l1 11.9l1 11.1l1 2.2l1 1.6l1-6.2l1-7l1-17.1l1.1-24.6l1-45.8l1-60.2l1-79.8l1-71.6l1-30.8l1 40.2l1 72.5l1 77.7l1 54.1l1 40.6l1 21.9l1 17l1 7.1l1 9.3l1 4.1l1 7l1 3.2l1 7.4l1 2.7l1 6.5l1 1.6l1 8.4l1 1.6l1 6.4l1 2.9l1 7.4l1-0.2l1 10.9l1-1.3l1 8.4l1-2l1 10.6l1-5l1 9l1-2.6l1 12.8l1-6.8l1 6.7l1-2.8l1 6.1l1-4.7l1 6l1-3.9l1 6.8l1-3.2l1 4.7l1-1.7l1 4.5l1-3.7l1 6.6l1-4.7l1 4.8l1-4l1 3.3l1-2.9l1 5.5l1-5.4l1 3.3l1-4.8l1 4.4l1-4.4l1 3.2l1-4.2l1 3.3l1-4.2l1 1.8l1-3.9l1 6.3l1-1.9l1 3.2l1-3.5l1 2l1-4.7l1 4l1-9.5l1 4.5l1-9l1-7l1-40.7l1-74.8l1-109.5l1-44.6l1 72.5l1 106.2l1 63.5l1 34.5l1 2.6l1 8.3l1-3.9l1 7.1l1-3.2l1 4.7l1-4.9l1 5.7l1-3l1 3.9l1-2.8l1 4.6l1-5.8l1 5.1l1-2.6l1 2.6l1-3.8l1 3.6l1-2.6l1 2.8l1-2.5l1 3.9l1-5l1 5.8l1-5.8l1 4.3l1-2.5l1 2.9l1-3.2l1 2.3l1-4.1l1 4.7l1-3.3l1 3.9l1-4.2l1 3.3l1-3.5l1 3.9l1-5l1 4.8l1-2.7l1 3.4l1-3.7l1 3.2l1-2.9l1 3.8l1-5.1l1 7.3l1-5.7l1 3.5l1-2.4l1 3.5l1-4.7l1 2.9l1-3.7l1 4.2l1-5.2l1 5.3l1-5.3l1 6l1-4.3l1 4.6l1-6.5l1 4.9l1-5.5l1 4.3l1-3.8l1 5.5l1-4.8l1 5l1-3.7l1 3.7l1-3.2l1 3.5l1-3.3l1 3.8l1-4.6l1 5.2l1-3.7l1 5.2l1-4.2l1 2.8l1-2.4l1 3.1l1-2.7l1 3.8l1-4.1l1 5.6l1-3.9l1 1.7l1-2.5l1 3.3l1-3.3l1 2.7l1-2.5l1 3.9l1-4.7l1 4.9l1-4.3l1 4.1l1-3.4l1 5l1-4.9l1 4.8l1-4.8l1 4.5l1-3.6l1 4.2l1-3.4l1 1.7l1-3.2l1 3.4l1-4.4l1 3.9l1-3.3l1 4.2l1-4l1 3.8l1-3.5l1 3l1-5.6l1 3.8l1-4.4l1 2.5l1-4.9l1 3.9l1-7.3l1 4l1-8.9l1 0.5l1-10.1l1-2.7l1-16.5l1-15.4l1-26.5l1-22.4l1-9l1 17.1l1 24l1 23.8l1 11.5l1 17.5l1 0l1 11.9l1-5.3l1 8.9l1-5.1l1 5.5l1-4.5l1 10.7l1-4.5l1 10.4l1-6.7l1 4.8l1-4.1l1 6.4l1-5.4l1.1 4.6l1-3.2l1 4.8l1-3.6l1 4.4l1-3.6l1 3.8l1-4.8l1 4.9l1-2l1 3.8l1-3.4l1 5.1l1-5.6l1 4l1-2.9l1 2.7l1-4l1 4.7l1-3.7l1 2.9l1-1.8l1 3.3l1-3.7l1 3.8l1-3.8l1 3.9l1-2.7l1 2.1l1-3.8l1 4.4l1-5.8l1 4.5l1-7.2l1 2.2l1-9.2l1 5.9l1-0.4l1 5.5l1-2.9l1 6l1-1.7l1 3.9l1-4.1l1 3.2l1-2.6l1 1.8l1-3.6l1 6.9l1-4.4l1 4.1l1-3.1l1 4.9l1-5.8l1 5.7l1-3l1 2.7l1-4l1 4.7l1-3.5l1 4.2l1-3.8l1 2l1-2.8l1 4.2l1-2.8l1 2.9l1-3.5l1 3.9l1-3.7l1 3.8l1-4.5l1 3.6l1-3l1 2.3l1-4l1 2.8l1-7.8l1 2.2l1-9.3l1 4.9l1-3.2l1 10l1-1.8l1 5.9l1-4.3l1 6l1-3.7l1 3.2l1-2.8l1 3.5l1-2.1l1 3l1-3.4l1 3.2l1-4.2l1 4l1-7.5l1 5.5l1-5.9l1 4l1-7.3l1 3.8l1-8.6l1 3.4l1-6l1 3.9l1-2.1l1 9l1-5.2l1 9.5l1-2.8l1 5.9l1-4l1 5.9l1-5.5l1 5.7l1-4.4l1 2.9l1-2.6l1 3.2l1-4.9l1 6.5l1-3.6l1 2.6l1-2.5l1 2.7l1-3.8l1 3.6l1-6.1l1 4.3l1-5.8l1 4.1l1-2.3l1 6.1l1-2.3l1 5.1l1-3.9l1 3.4l1-2.4l1 4.8l1-4.1l1 3.5l1-3.5l1 3.7l1-3.6l1 5.4l1-4.3l1 3.6l1-4.4l1 4.7l1-2.6l1 2.5l1-3.2l1 4.2l1-3.9l1 3.7l1-3.4l1 5.7l1-7.3l1 4.7l1-2.6l1 4l1-4.3l1 3.4l1-2.8l1 2.9l1-2.4l1 5.2l1-5.3l1 3.4l1-4.3l1 3.2l1-4.4l1 6l1-3.4l1 4.5l1-5.7l1 4.6l1-3.8l1 3l1-2.9l1 3.7l1-3.7l1 3.5l1-3.8l1 3.6l1-2.8l1 2.6l1-3.3l1 2.4l1-4.5l1 3.3l1-6l1 4.9l1-9.3l1 3l1-12.4l1-3l1-5.1l1 11.9l1 0.6l1 9.8l1-1.1l1 6.7l1-3.9l1 5l1-2.1l1 4.6l1-2.8l1 4.1l1-4.3l1 5.4l1-3.8l1 4.2l1-3.6l1 3.1l1-2.1l1 3.4l1-4.3l1 3.3l1-3.2l1 3.4l1-3.9l1 3.3l1-2.8l1 3.3l1-3.4l1 4.8l1-4.7l1 3.2l1-2.2l1 3.1l1-3.2l1 4.4l1-3.9l1 4l1-4.6l1 6.2l1-5.2l1 3.2l1-3.7l1 5l1-4.1l1.1 3.4l1-4.9l1 3.3l1-2.2l1 2.2l1-3.5l1 2.7l1-2.5l1 3l1-3l1 4l1-5.4l1 5.3l1-3.1l1 2.7l1-3.8l1 4.4l1-3.7l1 3.6l1-3.7l1 3.2l1-3.8l1 3.9l1-4.9l1 3.9l1-6.3l1 2.4l1-4.2l1 5.6l1-4.3l1 3.6l1-2.3l1 3l1-5.5l1 4.9l1-3.8l1 4.1l1-4l1 3.1l1-3.3l1 4.6l1-6.5l1 5.3l1-6.5l1 2.8l1-6.2l1 4.3l1-8.3l1 6.3l1-7.4l1 5l1-5l1 9.8l1-8.8l1 6.7l1-2.9l1 5.9l1-2.3l1 4.9l1-3l1 4.9l1-2.4l1 4.9l1-3.4l1 3.2l1-2.6l1 3.9l1-3.3l1 3.2l1-4.1l1 5.8l1-5.2l1 7.7l1-4.9l1 4.1l1-5.7l1 4.6l1-4.3l1 4l1-3.4l1 3.5l1-3.7l1 4.7l1-4l1 3.2l1-3.5l1 2.7l1-3.4l1 3l1-2.5l1 2.5l1-2.1l1 2.2l1-3.6l1 3.6l1-3.1l1 4.3l1-3.8l1 2.1l1-5.4l1 6.2l1-8.6l1 3.5l1-7l1 5.8l1-3.9l1 9.5l1-5.1l1 4.8l1-2.3l1 3.2l1-3.1l1 5.1l1-3.4l1 5l1-5.4l1 5.5l1-4.6l1 3.1l1-3.7l1 3.7l1-2.3l1 2.9l1-3.2l1 3.4l1-3.7l1 3.3l1-2.9l1 2.7l1-2.5l1 3.6l1-3.5l1 3.6l1-3l1 4l1-4.2l1 4l1-3.6l1 3.5l1-4.9l1 4l1-3.7l1 4.2l1-3.7l1 3.4l1-3.1l1 2.6l1-4.4l1 4.5l1-2.2l1 3.3l1-3.1l1 3.5l1-3.9l1 4.9l1-5.5l1 2.5l1-5l1 4.4l1-2.9l1 5.7l1-6.1l1 3.5l1-5.2l1 3.6l1-4.6l1 1.8l1-4l1 2.1l1-4.5l1 4.5l1-3.2l1 5.6l1-5.5l1 6.3l1-3.5l1 7l1-4.5l1 3.1l1-4.3l1 5.3l1-4.3l1 4.2l1-4l1 4.7l1-4.3l1 3.7l1-2.5l1 4.2l1-5.6l1 4.5l1-2.4l1 3.3l1-4.3l1 4.9l1-4.5l1 3.7l1-3.9l1 3.9l1-3l1 3l1-3l1 3.8l1-5l1 4.7l1-5.4l1 5.7l1-4.6l1 3l1-2.7l1 4.6l1-4.3l1 2.7l1-3.9l1 4.8l1-5.2l1 4.6l1-4.4l1 2.7l1-4.4l1 3.3l1-5.1l1 3.8l1-3.1l1 2.6l1-5.5l1 3.5l1-7.2l1 2l1-5.9l1 6.7l1-5.5l1 6.1l1-4.5l1 7.2l1-3.9l1 4.6l1-4.6l1 4.6l1-3.1l1 5.2l1-5.1l1 7.2l1-3.1l1.1 5.6l1-3.5l1 3.4l1-3l1 4.1l1-4.4l1 6l1-3.6l1 2.8l1-2.1l1 3.5l1-3.7l1 3.3l1-3.7l1 3.4l1-2.5l1 3l1-3l1 3.5l1-3.5l1 4.2l1-3.7l1 2.6l1-2.8l1 2.9l1-1.9l1 2.3l1-3l1 3.2l1-3.2l1 4.4l1-3.1l1 3.4l1-3.4l1 2.7l1-2l1 3.2l1-5.1l1 3.4l1-2.3l1 2.9l1-3.8l1 3.5l1-3.2l1 3.4l1-2.3l1 3.4l1-3.3l1 3.7l1-4.9l1 3.8l1-1.6l1 3l1-3.5l1 3.5l1-4l1 2.7l1-2.1l1 1.9l1-2.6l1 3.4l1-3.8l1 2.7l1-2.7l1 2.8l1-3.1l1 2.2l1-2.7l1 1.6l1-1.8l1 3.5l1-2.6l1 3.2l1-3.9l1 3.4l1-1.9l1 2.7l1-3.4l1 3.7l1-3.7l1 2.2l1-2l1 1.7l1-1.7l1 1.8l1-2l1 2.9l1-2l1 1.9l1-2l1 1.2l1-2l1 1.8l1-3.3l1 2.4l1-2.8l1 1.7l1-2.2l1 1.7l1-4.2l1 2.3l1-3.4l1 3.6l1-3.3l1 3.7l1-1.3l1 3.1l1-1.1l1 2.1l1-1.1l1 3.1l1-3.1l1 1.8l1-1.4l1 1.3l1-1.6l1 2.1l1-1.7l1 1.9l1-1.8l1 1.6l1-1.7l1 2.6l1-3.7l1 3.7l1-2l1 1.3l1-2.2l1 2.5l1-2.5l1 3.2l1-3.6l1 2.2l1-2.4l1 2.2l1-2.1l1 1.9l1-2.3l1 2.3l1-1.8l1 1.9l1-1.9l1 1.7l1-2.5l1 2.5l1-2.4l1 3l1-2.5l1 1.3l1-1.7l1 1.8l1-2.3l1 1.1l1-2.2l1 1.3l1-3l1 3.2l1-4.6l1 2.4l1-3.7l1 2.8l1-4.3l1 1.6l1-5.1l1 5.5l1-2.6l1 3.9l1-2.5l1 3.6l1-1.4l1 3.8l1-2.9l1 2.7l1-0.6l1 2.2l1-1.4l1 1.9l1-1.4l1 1.8l1-2.9l1 3.4l1-1.9l1 1.4l1-2.2l1 1.4l1-3.2l1 1.2l1-2.8l1 1.3l1-2l1 4.2l1-1.9l1 2.9l1-0.7l1 3.2l1-2.1l1 2.6l1-2.2l1 2.8l1-2.4l1 2l1-1.4l1 1.9l1-2.1l1 2.4l1-2.4l1 2.2l1-3.1l1 3l1-1.8l1 1.4l1-1.8l1 2.1l1-1.5l1 2.8l1-2.8l1 1.9l1-1.6l1 2.1l1-1.6l1 2l1-2l1 1.9l1-2.3l1 2l1-1.9l1 2l1-1.9l1 3.2l1-3l1 1.6l1-1.8l1 2l1-1.7l1 1.9l1-2.9l1 2.6l1-2.7l1 2.7l1-2.9l1 3.4l1-2.1l1 2.1l1-1.6l1.1 2l1-2.8l1 2.8l1-1.9l1 1.9l1-1.8l1 2.1l1-2.4l1 2.2l1-2.1"/>
<path stroke="#3CC8B2" stroke-width="3.30" d="M38.3 705.5l1-4.7l1 4.2l1-5.6l1 4.5l1-4.1l1 3.8l1-3.5l1 4.7l1-4.5l1 6.1l1-5.2l1 3.7l1-4.6l1 5l1-6l1 3.7l1-5.6l1 4.9l1-2.5l1 3l1-3.6l1 4.9l1-4.2l1 5.1l1-4.8l1 3.4l1-2.7l1 4.1l1-4.5l1 4.8l1-4.2l1 4.9l1-3.9l1 4l1.1-3.5l1 2.5l1-4.5l1 5.6l1-7.3l1 4.2l1-2.6l1 4.7l1-4.2l1 3.8l1-3.3l1 2.7l1-2.2l1 5.5l1-5.7l1 2.2l1-2.5l1 3.2l1-3.5l1 2.8l1-5.5l1 5.8l1-4.3l1 3.2l1-3.7l1 4.8l1-4.1l1 3.9l1-4.2l1 5.1l1-4.7l1 3.8l1-3.7l1 4l1-4.7l1 5.2l1-2.4l1 4.2l1-5.6l1 5.9l1-6.4l1 4.5l1-4.6l1 5l1-4.3l1 3.8l1-5.7l1 5.9l1-4.5l1 5.3l1-5.7l1 4.3l1-4.5l1 3.9l1-5.6l1 6.2l1-4l1 5.2l1-5.5l1 5.4l1-4.3l1 4.5l1-4.9l1 2.2l1-4.6l1 4.8l1-4.6l1 4.7l1-3.3l1 3.4l1-4.4l1 6.1l1-5.3l1 2.9l1-3l1 3.7l1-2.4l1 3l1-5.1l1 6l1-3.1l1 3.8l1-4.6l1 4.7l1-5.8l1 4.4l1-2.4l1 2.5l1-3.9l1 2.8l1-2.9l1 2.9l1-2.7l1 2.5l1-4.6l1 4.6l1-4.4l1 4l1-2.9l1 3.7l1-4.3l1 5.4l1-4.3l1 3.7l1-4.6l1 4.6l1-3.8l1 2.8l1-2.2l1 2.8l1-3.6l1 3l1-2.9l1 5.1l1-5.1l1 3.6l1-3.9l1 4.3l1-4.2l1 4.3l1-3l1 3.2l1-3.9l1 3.8l1-4.9l1 4l1-4.4l1 4.8l1-3l1 5l1-6.1l1 5.3l1-4.8l1 5l1-5l1 2.9l1-4.3l1 6.5l1-5.3l1 3l1-2.9l1 2.7l1-4.4l1 4.4l1-3.3l1 4.1l1-5.7l1 5.2l1-4.7l1 4.1l1-4.4l1 3l1-3.2l1 3.1l1-3.6l1 3.5l1-2.3l1 2.1l1-2l1 3.1l1-4.2l1 3.8l1-3.3l1 3.4l1-5.4l1 2.9l1-5.4l1 4.4l1-5.2l1 3.7l1-4.9l1 3.4l1-5l1 3.3l1-5.7l1 3l1-6.5l1 1.7l1-7.4l1 6.5l1-13.2l1 1.5l1-13.2l1-1.3l1-13.2l1-6.6l1-17.1l1-17.2l1-25.3l1-21l1-13.3l1 7.1l1 12.4l1 14.4l1 5.9l1 6.7l1-3l1-1.4l1-11.5l1-13.3l1-28.6l1-40.3l1-64l1-75.1l1-75.5l1-27l1 36.8l1 76.9l1 69.6l1 59.8l1 36.7l1 24.8l1 12.3l1 12.2l1 4.2l1 8.8l1 3.5l1 8.2l1 2.3l1 6.6l1 2.7l1 6.6l1 2.1l1 6.4l1 2.9l1 6.4l1 0.8l1 7.7l1 2l1 8l1-0.4l1 7.2l1-1.4l1 9.2l1-2.7l1 7.7l1-2l1 7.5l1-4.5l1 8.6l1-3.8l1 6.4l1-3.2l1 6.6l1.1-5.3l1 10.1l1-6.2l1 6.6l1-5.1l1 4.5l1-4.3l1 5.6l1-4.6l1 3.8l1-1.7l1 4l1-3l1 3.3l1-3l1 3.1l1-3.9l1 3.5l1-2.8l1 2.9l1-5.3l1 2.8l1-5.8l1 3.9l1-2.5l1 4.8l1-3.7l1 4l1-4.2l1 2.7l1-3.6l1 3l1-7.2l1 3l1-10.8l1-3.8l1-39.9l1-73.9l1-106.2l1-44.2l1 68.7l1 105.2l1 62.6l1 31.3l1 4.5l1 8l1-2.7l1 8.9l1-5.4l1 4.6l1-3.6l1 4.9l1-3.8l1 3.5l1-2.6l1 2.9l1-4l1 4.7l1-4.4l1 3.8l1-2.9l1 3.8l1-3.9l1 2.5l1-2.9l1 4.4l1-4.7l1 4.1l1-4.1l1 4.8l1-3.3l1 3.1l1-3.1l1 3.3l1-2.8l1 3.9l1-4.2l1 3.9l1-4.6l1 4.4l1-3.3l1 2.2l1-2.7l1 2.8l1-3l1 3.4l1-3.4l1 4.3l1-3.4l1 3.2l1-4.5l1 3.8l1-5.1l1 6.5l1-4.2l1 2.4l1-1.9l1 1.9l1-2.9l1 3.7l1-3.5l1 2.6l1-4.5l1 4.6l1-4.8l1 6.8l1-5.6l1 5.2l1-4.7l1 3.3l1-3.4l1 3.2l1-3.3l1 4.6l1-2.5l1 2.8l1-2.9l1 3.5l1-3.8l1 4.8l1-4.6l1 3.3l1-3.7l1 4.3l1-4.1l1 6.2l1-3.7l1 3.7l1-3.6l1 4.9l1-3.4l1 3.3l1-3.5l1 4.1l1-3.9l1 3.1l1-3.6l1 3.6l1-3.9l1 5.6l1-5.4l1 2.7l1-2l1 6l1-6.4l1 3.6l1-3.1l1 3l1-3.4l1 3l1-3.2l1 3.1l1-3.7l1 4.6l1-4.1l1 3.2l1-4.4l1 4.9l1-1.9l1 2.3l1-4.7l1 5.1l1-5.2l1 3.9l1-3.3l1 2.3l1-4l1 4.5l1-8.4l1 2.1l1-9.2l1 3.6l1-7.5l1 0l1-13.7l1-9.1l1-21.3l1-23.6l1-26.7l1-5.7l1 13.2l1 31.1l1 19.2l1 19.5l1 3.6l1 17.2l1-1.7l1 7.8l1-3.4l1 4.7l1-6.1l1 4.5l1-4.4l1 9.2l1-2.9l1 6.6l1-2.8l1 5.1l1-1.5l1 5.8l1-4.5l1 4.4l1-3.2l1 4.3l1-4.8l1 5.5l1-4.9l1 4.5l1-3.7l1 3.8l1-4l1 4.9l1-3.9l1 3.2l1-3.5l1 6.5l1-5.9l1 4.6l1-2.7l1 3l1-2.8l1 3.2l1-3.3l1 4.3l1-5.6l1 4.2l1-4.3l1 6.2l1-4.3l1 2.3l1-4.8l1 4.3l1-3.9l1 2.2l1-8.4l1 2.4l1-5.5l1 5.6l1 0.5l1 6.8l1-3.4l1 5.5l1-4.7l1 5.6l1.1-2.4l1 3l1-3.9l1 0.8l1-4.7l1 8.1l1-5.8l1 7.7l1-5l1 4l1-2.7l1 2.6l1-3.5l1 3.4l1-3.6l1 4.8l1-3.8l1 3.5l1-2.7l1 2.8l1-3.1l1 5.7l1-4.6l1 2.8l1-2.6l1 4.7l1-5.1l1 3.8l1-4l1 2.7l1-4.2l1 4.4l1-5.9l1 3.7l1-6.9l1 1.3l1-9.7l1 8.1l1-8.7l1 10.6l1-1.6l1 5.8l1-1.3l1 4l1-2.8l1 4.4l1-3.6l1 3.3l1-3l1 5.2l1-6.7l1 4.9l1-2.9l1 3.6l1-6l1 2.8l1-3.9l1 2.3l1-6.3l1 2.8l1-7.3l1 3.2l1-5.5l1 6.7l1-5.8l1 8.4l1-3.8l1 6.3l1-3.1l1 6.7l1-2.8l1 5.2l1-2.1l1 3.9l1-4.7l1 4l1-3.8l1 5.1l1-3.6l1 4.6l1-4.2l1 4.9l1-6.1l1 4.9l1-5.5l1 4.2l1-4.5l1 5.2l1-7.9l1 5.1l1-2.8l1 5.1l1-1.6l1 5.5l1-6.2l1 5.7l1-3.5l1 3.4l1-2.8l1 3.4l1-3.1l1 4.4l1-4.9l1 5.6l1-4.7l1 3l1-2.4l1 4.6l1-5.9l1 4.4l1-4.6l1 5.9l1-6.3l1 5.5l1-2.7l1 3.7l1-4.3l1 3.6l1-4l1 3.6l1-2.2l1 2.8l1-3.5l1 4.7l1-4.2l1 4l1-2.9l1 4.1l1-3l1 2.9l1-3.9l1 4.3l1-3.2l1 3.4l1-2.8l1 2.5l1-4.2l1 3.4l1-2.7l1 4.2l1-3.6l1 2.6l1-3.1l1 4.5l1-4.2l1 3.4l1-3.5l1 3.3l1-4.1l1 4.5l1-5.1l1 1.6l1-7.8l1 3.9l1-12l1-1.7l1-12.1l1 13.2l1 1.1l1 15.7l1-7.6l1 7.8l1-1.1l1 3.7l1-3.5l1 5.2l1-3.2l1 3.5l1-2.6l1 3.8l1-3.2l1 4l1-3.4l1 2.2l1-2.2l1 3.7l1-4.1l1 3.5l1-2.9l1 6.4l1-6.3l1 3.9l1-2.3l1 3.6l1-3.3l1 3.9l1-5.4l1 3.3l1-2.1l1 2.8l1-3.4l1 4.4l1-5.4l1 4.4l1-3.3l1 2.8l1-3.9l1 4.9l1-5.9l1 4.8l1-3.3l1 4.1l1-5.3l1 5l1-3.6l1 3l1-3.7l1 3.7l1-2.6l1 3.6l1-3.8l1 2.6l1-2.3l1 2.1l1-3l1 2.5l1-4.6l1 5.7l1-3l1 1.9l1-2.2l1 3.4l1-4l1 2.3l1-2.9l1 2.4l1-3.4l1 1.8l1-5.4l1 3.6l1-2.4l1 4.5l1-3l1 4.8l1-3.3l1 4l1-4.5l1 2.4l1-3.4l1 3.9l1-4.2l1 2l1-4l1 3l1.1-5.3l1 4.2l1-6.2l1 2.6l1-6.9l1 8.3l1-9l1 5.1l1-5.5l1 4.8l1-3.1l1 8.9l1-7.6l1 6.3l1-2.7l1 4.2l1-4.1l1 6.4l1-2.9l1 3.7l1-2.6l1 4.9l1-5.6l1 6.7l1-2.9l1 3.1l1-3l1 5.5l1-4.9l1 2.7l1-2.9l1 3.2l1-2.8l1 4.2l1-3.9l1 3.1l1-2.4l1 2.4l1-2.9l1 3.5l1-2.9l1 3.6l1-3.4l1 2.8l1-3.1l1 3.3l1-2.8l1 3.5l1-4.2l1 2.4l1-2.9l1 3l1-3.4l1 3.9l1-4.7l1 4.8l1-4.4l1 4.3l1-5.1l1 1.5l1-6.3l1 2.8l1-7.1l1 7.8l1-1.1l1 6.6l1-2.6l1 3.5l1-3.3l1 4.4l1-4.7l1 7.3l1-4.8l1 4l1-3.3l1 3.6l1-3.9l1 4.1l1-6.1l1 6l1-4.4l1 4.4l1-3.8l1 2.7l1-3.8l1 4.5l1-4.5l1 5.8l1-3.3l1 3.6l1-3.6l1 2.6l1-3.1l1 4.1l1-4.1l1 4.1l1-4.6l1 3.4l1-2.7l1 3.5l1-4l1 3.2l1-3.5l1 4l1-3.2l1 2.5l1-2.6l1 3.1l1-3.7l1 4.9l1-4.8l1 3.2l1-3.8l1 3.2l1-3.5l1 2.4l1-2.6l1 2.5l1-3.2l1 3.3l1-5.2l1 4.8l1-6.2l1 5.2l1-7.1l1 3.9l1-4.6l1 3.7l1-5.9l1 6.2l1-3.2l1 5.3l1-2.7l1 4.1l1-3.8l1 5.5l1-2.6l1 3.3l1-4.5l1 4.9l1-3.2l1 2.7l1-3.3l1 4l1-3l1 4.2l1-4.6l1 3.5l1-2.2l1 2l1-3.1l1 2.9l1-3.4l1 3.8l1-3.1l1 3.1l1-3.2l1 3.6l1-3.9l1 4.1l1-4.6l1 2.9l1-3.4l1 3.8l1-3.8l1 4.8l1-3.1l1 3.2l1-4.2l1 4.7l1-5l1 6l1-4.9l1 3.4l1-4.1l1 3.6l1-4l1 2.7l1-3.6l1 3.2l1-4.6l1 4.2l1-4.6l1 1.5l1-5.7l1 4.4l1-5.7l1 3.7l1-6.6l1 4.5l1-4.4l1 5.7l1-5.2l1 5.6l1-3.7l1 6l1-4.2l1 6.4l1-2.1l1 5.7l1-5.2l1 5.4l1-3.3l1 5.1l1-2.6l1 2.4l1-1.9l1 2.8l1-2.9l1 3.5l1-3.9l1 4.5l1-2.7l1 1.8l1-2.3l1 2.3l1-2.2l1 3.7l1-3.2l1 2.6l1-2.1l1 3l1-3.1l1 4.3l1-4.5l1 4.2l1-3.5l1 2.3l1-2.2l1 3.1l1-3.2l1 5.4l1-5l1 2.9l1-1.9l1 2.9l1-3.8l1 3.6l1-3.8l1 4l1-3.7l1 3.2l1-2.7l1 3.6l1.1-2.6l1 1.7l1-2.1l1 2.7l1-2.6l1 2l1-2.3l1 3.9l1-3.8l1 1.8l1-2.9l1 2.3l1-2.2l1 2.5l1-2.1l1 2.4l1-2.3l1 2l1-2l1 2l1-2.1l1 1.9l1-3.3l1 3.1l1-2.4l1 2l1-3.1l1 3.2l1-2.1l1 2.2l1-1.9l1 1.9l1-1.3l1 2.1l1-2.9l1 3.3l1-3.4l1 2.6l1-2.4l1 2.2l1-2.5l1 3.2l1-2.4l1 2.7l1-2.7l1 1.4l1-1.5l1 1.4l1-2.2l1 2.2l1-1.9l1 1.9l1-2l1 1.6l1-3.8l1 2.7l1-4l1 2l1-2.7l1 2.1l1-1.7l1 3.1l1-0.9l1 3.3l1-3.8l1 3.5l1-1.8l1 3.1l1-2.2l1 1.8l1-1.9l1 2.4l1-2.8l1 2.5l1-3.2l1 3.2l1-2l1 2.2l1-2.5l1 2.8l1-2.5l1 2.6l1-2.1l1 1.7l1-2.5l1 4.1l1-3.8l1 2.9l1-3.3l1 2l1-1.3l1 2.7l1-2.8l1 1.5l1-1.8l1 2.8l1-2.7l1 1.8l1-2l1 1.8l1-1.6l1 1.5l1-3.3l1 3.7l1-2.3l1 1.7l1-2.8l1 2.8l1-3.3l1 1.6l1-2.1l1 1.7l1-2.3l1 1l1-2.8l1 3.5l1-4.7l1 1.8l1-4l1 2.1l1-5.7l1 5.9l1-5.6l1 4.1l1-1.6l1 4.9l1-2.5l1 3.9l1-2.4l1 3.9l1-2.7l1 4.3l1-2.1l1 1.8l1-1.8l1 1.7l1-1.7l1 2.4l1-2.2l1 1.7l1-2.1l1 2.1l1-2.5l1 1.1l1-3.6l1 1.7l1-3.8l1 3.5l1-1.7l1 4.2l1-2.3l1 3.9l1-1.3l1 1.9l1-1l1 2l1-2l1 2.9l1-2.7l1 2.3l1-1.1l1 1.6l1-2.5l1 2.8l1-1.5l1 1.9l1-2.3l1 1.8l1-1.8l1 2.5l1-2.7l1 2.1l1-1.9l1 2.1l1-2.3l1 2.5l1-2l1 1.8l1-2.3l1 2.6l1-1.6l1 1.7l1-2l1 1.7l1-2.1l1 2.4l1-1.4l1 2l1-2.4l1 2.2l1-2l1 2.6l1-2.1l1 1.6l1-1.1l1 1.7l1-2.3l1 1.7l1-2.5l1 2.6l1-2.1l1 2.2l1-2.2l1 2l1-1.3l1 2l1-1.8l1 1.7l1-2.4l1 1.8"/>
<path stroke="#30BFCF" stroke-width="3.30" d="M41.9 733.9l1-3.3l1 2.5l1-2.5l1 4.7l1-6.2l1 4.1l1-2.8l1 2.8l1-3l1 3.6l1-3.1l1 2.7l1-2.7l1 3.7l1-3.5l1 2.2l1-3.3l1 4.7l1-3.9l1 3.5l1-3.4l1 3.1l1-2.5l1 2l1-2.4l1 2.3l1-3.5l1 4.4l1-4l1 2.9l1-2.8l1 3l1-3.8l1 2.7l1-2.3l1 4.2l1-6.1l1 5.7l1-2.5l1 2.8l1-3.9l1 3.5l1-3.9l1 5.3l1-5.3l1 3.6l1-2l1 2.3l1-3.5l1 4l1-3.1l1 2.2l1-2.4l1 2.3l1-3.6l1 3.3l1-2.2l1 2.4l1-2.6l1 2.4l1-2.1l1 2.2l1-2.7l1 4.3l1-4.7l1 3.5l1-2.1l1 2.9l1-3.2l1 2.6l1-2.9l1 3l1-2.3l1 2.4l1-4l1 4.1l1-3.5l1 4.4l1.1-3.8l1 2.5l1-2.2l1 2.6l1-3l1 3.4l1-2.8l1 3.5l1-3.8l1 2.2l1-1.9l1 1.8l1-1.9l1 3.1l1-6l1 5.3l1-3.1l1 2.4l1-3.2l1 3.3l1-2.9l1 4.8l1-4.9l1 2.4l1-1.6l1 1.9l1-2.3l1 4.5l1-4.1l1 2.6l1-3.3l1 2.5l1-2.3l1 2.7l1-2.6l1 3.3l1-2.8l1 3.1l1-3l1 3l1-3.1l1 4.4l1-4.9l1 3l1-2.2l1 3.1l1-3.3l1 3.2l1-2.9l1 2.8l1-3.1l1 2.5l1-3.3l1 3.8l1-2.9l1 2.7l1-2.8l1 4.9l1-5.1l1 3.8l1-4.4l1 3.6l1-4.2l1 2.4l1-3l1 3.4l1-4.1l1 3.6l1-2.6l1 3.6l1-3.6l1 3.7l1-3l1 2.2l1-2.6l1 4.3l1-3.4l1 3.5l1-3.6l1 1.9l1-2l1 2.8l1-4l1 2.9l1-2.2l1 2.4l1-3.1l1 4.5l1-4.2l1 2.5l1-2.5l1 2.8l1-2.8l1 3.8l1-2.6l1 2.2l1-2l1 1.9l1-1.9l1 3.8l1-4.8l1 2.5l1-2.5l1 3.7l1-3.6l1 4.3l1-4l1 2l1-2.8l1 2.7l1-3.7l1 3l1-1.9l1 2.8l1-4.8l1 4.4l1-3.8l1 1.5l1-3.7l1 5.4l1-4.1l1 2l1-3.4l1 3.9l1-4.6l1 2.6l1-4.9l1 4.8l1-8.3l1 2.9l1-5.4l1 6l1-10.3l1 3.2l1-10l1 5.8l1-8.6l1 4.7l1-13.5l1-2.2l1-11.8l1-6.6l1-15.8l1-17.2l1-24.4l1-20.5l1-12.7l1 7.5l1 12.3l1 14.9l1 6.4l1 6.5l1-0.1l1-0.5l1-6.6l1-6.6l1-14.9l1-19.8l1-37.9l1-48.6l1-65l1-57.2l1-25.3l1 34l1 57.6l1 60.8l1 43.5l1 32.5l1 17.1l1 13.8l1 6l1 9l1 2.1l1 6.3l1 3.4l1 5.8l1 2.6l1 6.9l1 3l1 6.1l1 2.5l1 6.4l1 2.4l1 7.6l1 1.6l1 7.4l1-0.5l1 8.8l1-1.2l1 11.8l1-4.4l1 7.5l1-3.1l1 8.5l1-2.6l1 6.3l1-2.5l1 6.1l1-4.3l1 5.4l1-3l1 5.2l1-1.9l1 4.9l1-2l1 2.9l1-2.1l1 4.1l1-3.1l1 4.4l1-4.7l1 3.6l1-1.7l1 2.5l1-2.4l1 2l1-1.6l1 2.5l1-2.9l1 1.5l1-2.8l1 2.1l1-4.9l1 2.2l1-0.4l1 3.8l1-3.7l1 3.6l1-2.4l1 1.1l1-3.5l1 3.4l1-5.6l1 0.5l1-9.4l1-6.1l1-39.9l1-76.1l1-107.2l1-45.4l1 72l1 106.3l1 62.6l1 30.8l1.1 5.5l1 9l1-1.2l1 3.9l1-2.5l1 3.6l1-1.9l1 3l1-2.1l1 2.9l1-3l1 3.1l1-3.4l1 3l1-2l1 2.7l1-2.1l1 1.9l1-2.1l1 3l1-3.5l1 3.5l1-4.2l1 4.5l1-2.3l1 2.7l1-2.9l1 2.9l1-3.2l1 2.3l1-3.1l1 4.1l1-3.6l1 3.2l1-2.3l1 2.2l1-2.6l1 3.1l1-2.4l1 3.8l1-4.3l1 2.5l1-3.9l1 4.7l1-4l1 3.3l1-2.8l1 4l1-4.4l1 3.7l1-3.1l1 2.6l1-2.4l1 2.6l1-2.1l1 1.9l1-2.2l1 2.2l1-2.1l1 2.5l1-4.4l1 4.1l1-4l1 3l1-2.7l1 2.2l1-2.7l1 3.9l1-3.1l1 5.8l1-4l1 3.3l1-3l1 5.1l1-5.1l1 3.4l1-2.6l1 4l1-2.9l1 2.1l1-1.7l1 2.8l1-2.3l1 3.1l1-3.3l1 3.7l1-3.2l1 3.3l1-2.8l1 2.2l1-2.1l1 2.6l1-2.3l1 3l1-3l1 4.4l1-5.8l1 5l1-3.5l1 3.1l1-1.6l1 1.2l1-2.9l1 3.5l1-2.8l1 2.4l1-2.1l1 2.1l1-1.8l1 2.7l1-3.4l1 2.6l1-2.1l1 2.7l1-3.4l1 3.1l1-2.7l1 2.6l1-2.7l1 2.7l1-3.1l1 2.9l1-4.5l1 2.3l1-5.6l1 3.4l1-4.8l1 4.1l1-8l1 3.3l1-9.4l1 0.4l1-15.1l1-5.7l1-19.5l1-21l1-24.2l1-5.9l1 12.5l1 27l1 17.7l1 17.6l1 5.6l1 10.2l1 1.3l1 5.6l1-4.4l1 5.4l1-5.9l1 8l1-1.4l1 9.6l1-4.4l1 7.3l1-3.5l1 3.1l1-2.2l1 3l1-1.6l1 3.2l1-3l1 3.9l1-3.9l1 3.3l1-1.5l1 2.1l1-1.6l1 2.3l1-2l1 3.7l1-4.1l1 4.3l1-2.3l1 2.5l1-2.4l1 1.7l1-2.2l1 3.4l1-2.8l1 2.5l1-3l1 3.8l1-2.3l1 2.2l1-3.6l1 2.8l1-1.8l1 2.1l1-2.8l1 1.7l1-4.4l1 0.7l1-7l1-0.4l1-4.8l1 9.7l1 0.2l1 6.9l1-3.8l1 5.6l1-4.4l1 4.5l1-4.8l1 2.9l1-3.5l1 3.2l1-5l1 4.8l1-1.1l1 5.2l1-2.5l1 3l1-2.2l1 2.1l1-3l1 3l1-1.5l1 1.9l1-2l1 2.6l1-2.2l1 2.5l1-2.5l1 3.1l1-2.4l1 1.4l1-1.8l1 2.9l1-2.7l1 2.4l1-4.2l1 4l1-3.6l1 2.8l1-5.1l1 1.1l1-5.4l1-0.3l1-8.3l1 6.3l1-2.6l1 8.1l1 0l1 5.6l1.1-3l1 3.8l1-1.2l1 4.2l1-4.4l1 3.7l1-2.9l1 2.8l1-4.1l1 2.7l1-1.8l1 1.6l1-2.5l1 4l1-5.1l1 1.6l1-3.9l1 1.1l1-6.6l1 4.6l1-7.9l1 3.2l1-2.2l1 6.8l1-2.8l1 6l1-1.3l1 5l1-2.6l1 3.4l1-1.4l1 3.3l1-3l1 2.4l1-1.8l1 3.8l1-3.3l1 2.6l1-1.8l1 2.5l1-2.8l1 3.2l1-2.6l1 1.6l1-3.5l1 2.5l1-5.4l1 3.8l1-1.8l1 4.8l1-1.1l1 2.4l1-1.3l1 2.6l1-2.6l1 1.9l1-1.5l1 1.5l1-2.2l1 3.1l1-2.2l1 3.6l1-3.1l1 2.9l1-3.1l1 3.6l1-2l1 2.9l1-3.2l1 2.3l1-2l1 2l1-2l1 2.9l1-2.3l1 1.8l1-1.5l1 2.1l1-2.4l1 1.9l1-3.2l1 3.8l1-2.5l1 2.6l1-2.6l1 2.6l1-2.3l1 4.3l1-3.5l1 2.2l1-2.1l1 2.3l1-1.9l1 2.7l1-3.2l1 2.4l1-2.7l1 3.1l1-2.4l1 2.5l1-3.4l1 3.7l1-3.2l1 2.1l1-3.3l1 3.5l1-3.7l1 2.2l1-4.1l1 2.3l1-8.1l1 0.9l1-10.9l1-0.9l1-8.8l1 12l1 0.3l1 12.3l1-1.4l1 7.9l1-2.6l1 3.6l1-1.1l1 2.9l1-2l1 3.4l1-4.2l1 3.9l1-2.2l1 2.9l1-2.9l1 2.8l1-2.3l1 2.3l1-2l1 2.7l1-3.3l1 2l1-1.7l1 2.4l1-2l1 2.5l1-2.8l1 2.5l1-2.7l1 3l1-3.1l1 2.7l1-2.3l1 2.5l1-4.5l1 4.5l1-3.2l1 2.8l1-2.3l1 4.1l1-3.7l1 2.6l1-2.6l1 3.6l1-3.9l1 2.1l1-1.8l1 2.6l1-3.4l1 2.9l1-2.3l1 2l1-2.4l1 3.2l1-2.7l1 2.7l1-2.8l1 2.5l1-1.9l1 1.5l1-1.9l1 2.2l1-2.3l1 1.4l1-3.1l1 1.9l1-4.3l1 5l1-5.5l1 1l1-5.7l1 4.3l1-3.4l1 5l1-2.1l1 4.2l1-3.2l1 3l1-2.5l1 3l1-4.2l1 4.6l1-4.9l1 2.6l1-3.8l1 2.7l1-4.2l1 3.6l1-7.4l1 5.3l1-4.6l1 4.6l1-7.7l1 5.8l1-5.7l1 6.3l1-6.7l1 6l1-2.6l1 3.5l1-4.2l1 8.2l1-5.9l1 4l1-2.3l1 4.7l1-3.7l1 3.3l1-2.6l1 4l1-2.2l1 3.4l1-2.2l1 5.2l1-4.1l1 3.2l1-2.4l1 5.2l1-4.8l1 3.2l1-4l1 4.6l1-2.7l1 3l1-2.2l1 2.2l1-2.3l1 2l1.1-2.8l1 2.8l1-3.8l1 4l1-2.8l1 2.3l1-2.3l1 3.2l1-4.3l1 3.8l1-3l1 3.3l1-3l1 2.8l1-2.3l1 2l1-4.7l1 3l1-7.1l1 2.1l1-5l1 4l1-3l1 9.5l1-2.5l1 3.8l1-2.5l1 4.1l1-1.9l1 2.2l1-2.9l1 3.3l1-1.7l1 2.9l1-4.7l1 5.1l1-3.8l1 2.3l1-3.3l1 4l1-2.9l1 2.4l1-2.1l1 3.8l1-2.7l1 1.8l1-2.2l1 4.5l1-4l1 1.9l1-2l1 1.7l1-1.5l1 1.9l1-1.7l1 2l1-2l1 2.7l1-2.8l1 3.7l1-3.1l1 2.2l1-3.2l1 2.8l1-3.4l1 2.7l1-2.6l1 4.6l1-4.4l1 1.6l1-2.2l1 4l1-3.1l1 1.3l1-2.6l1 2.2l1-1.6l1 1.9l1-3.3l1 2l1-3.2l1 3.1l1-5.4l1 2.7l1-5.8l1 4.2l1-3.9l1 4.6l1-4.1l1 3.8l1-1.2l1 4.4l1-3.1l1 4.6l1-2.7l1 2.7l1-1.8l1 2.6l1-2.3l1 3.1l1-2.6l1 2.4l1-4.6l1 5.7l1-4.4l1 2.8l1-1.6l1 2l1-1.8l1 3.5l1-4.8l1 4.9l1-3.3l1 2.2l1-2.4l1 2.1l1-2.7l1 3.3l1-2.6l1 2.5l1-1.7l1 1.8l1-2.6l1 2.3l1-3l1 2.9l1-2.1l1 2.6l1-3.8l1 3.7l1-2.6l1 1.4l1-2.7l1 2.7l1-4l1 3.1l1-2.5l1 2.2l1-3.5l1 2.1l1-3.7l1 2l1-5.1l1 1.5l1-5.1l1 1.8l1-5.2l1 5.3l1-7.6l1 6.5l1-4.9l1 7.9l1-3.3l1 6.2l1-1.8l1 5.6l1-2.1l1 3.8l1-1.8l1 3.2l1-2.6l1 4l1-4.1l1 4l1-3l1 3.1l1-2.9l1 4.2l1-2.4l1 2.1l1-2.2l1 3.3l1-2.5l1 3.1l1-3.9l1 3.1l1-2.1l1 2.4l1-2.2l1 2.6l1-3.5l1 3.5l1-1.9l1 2.2l1-2.4l1 2.7l1-2.7l1 2.9l1-2.7l1 2.5l1-1.9l1 2.2l1-2.5l1 3.3l1-2.8l1 2l1-1.6l1 2.4l1-3.3l1 3l1-2.5l1 2l1-2.3l1 1.7l1-3.1l1 2.6l1-3l1 3.5l1-2.7l1 3l1-2.4l1 3.2l1-2.3l1 1.7l1-3l1 3.9l1-3.4l1 2.5l1-2.8l1 2.7l1-3.6l1 3.5l1-2.1l1 2.1l1-2.1l1 2.3l1-3.1l1 2.4l1-3.4l1 0.9l1-2.6l1 3.4l1-1.4l1 2.2l1-2l1 2.7l1-2.1l1 3.5l1-3.4l1 2.2l1-1.4l1 2.1l1-2.5l1 3.1l1.1-3l1 2.7l1-3l1 2.1l1-1.2l1 2.2l1-2.1l1 1.7l1-2l1 1.4l1-2.5l1 2.1l1-2.3l1 0.9l1-2.6l1 1.4l1-3.5l1 3.2l1-4.3l1 3.8l1-1.7l1 2.7l1-1.9l1 3.7l1-2.4l1 2.7l1-2l1 2.6l1-2l1 2l1-1.8l1 1.8l1-2.1l1 2.5l1-2.5l1 2.7l1-1.9l1 1.7l1-2.6l1 2.2l1-2.1l1 2.3l1-2.4l1 2.1l1-1.8l1 1.7l1-2.3l1 2.3l1-1.7l1 1.5l1-1.7l1 1.4l1-1.2l1 1.4l1-1.8l1 2.4l1-2.3l1 1.6l1-1.6l1 1.8l1-2.9l1 2.2l1-2.5l1 2.7l1-2.2l1 1.8l1-1.9l1 2l1-2l1 1.2l1-2.9l1 3l1-3.2l1 1.4l1-3.5l1 3.8l1-5l1 1.4l1-3.7l1 1.9l1-3.1l1 3.2l1-2.7l1 2.7l1-2.2l1 5.4l1-2.6l1 5.3l1-3.1l1 2.4l1-2l1 3.2l1-1.9l1 2.6l1-2.2l1 3.2l1-3.7l1 2.4l1-1.9l1 1.4l1-2.2l1 2.3l1-3.3l1 1.8l1-4.2l1 3.1l1-4.2l1 3l1-1.2l1 3.6l1-0.9l1 2.6l1-1.9l1 3l1-2l1 3.5l1-1.6l1 1.8l1-1.8l1 1.6l1-1.1l1 1.6l1-2.7l1 3l1-1.8l1 2.1l1-2.1l1 2.1l1-1.9l1 2l1-2.4l1 2.1l1-2.6l1 4.3l1-2.9l1 2.2l1-1.8l1 1.4l1-2.1l1 3.2l1-3.4l1 2l1-2l1 1.7l1-1l1 1.6l1-2.4l1 2.5l1-1.4l1 1.8l1-1.9l1 3.1l1-2.7l1 2.2l1-3.3l1 3.1l1-2.7l1 2.8l1-2l1 1.4l1-2.2l1 2.3l1-1.3l1 1.9l1-2.7l1 3"/>
<path stroke="#000000" stroke-width="3.30" d="M45.5 753.8l1 3.1l1-2.4l1 1.3l1-1.5l1 1.8l1-1.1l1 1.4l1-2.9l1 4.5l1-1.6l1 1.6l1-1.4l1 1.4l1-0.8l1 1.9l1-2l1 0.9l1-1l1 2l1-2.9l1 2.4l1-1.5l1 3.5l1-3.1l1 1.9l1-1.8l1 3.1l1-1.9l1 1.8l1-1.3l1 1.5l1-1.6l1 2l1-1l1 1.5l1-2.1l1 1.4l1-1.3l1 1.6l1-1.3l1 1.8l1-2.9l1 2.1l1-1.9l1 3.1l1-2.1l1 1.3l1-1.6l1 2.9l1-2.1l1 2l1-1.5l1 1.9l1-2.8l1 2.2l1-1.8l1 2.6l1-2.1l1 1.2l1-1.5l1 1.8l1-0.4l1 0.8l1-1.6l1 1.5l1-1.3l1 1.2l1-1.3l1 1.6l1-2l1 1.6l1-1.3l1 2.4l1-3.6l1 3.1l1-2.7l1 2.1l1-1.4l1 1.4l1-2.7l1 3.2l1-1.8l1 2.6l1-3.6l1 2.5l1-2.1l1 2.2l1-2.2l1 4l1-4.2l1 2.8l1-1.9l1 3l1-3l1 1.6l1-1.7l1 0.5l1-0.6l1 1.5l1-1.4l1 1.5l1-1.3l1 1l1-1.7l1 2.1l1-2.2l1 1.8l1-2l1 3.4l1-2.8l1 3.1l1-2.9l1 1.1l1-2.4l1 3.3l1-4l1 3.9l1-2l1 2.2l1-1.7l1 1.5l1.1-1.7l1 1.4l1-1.7l1 1.7l1-1.7l1 1.7l1-1.2l1 3.2l1-4.1l1 2.4l1-1.9l1 1.7l1-1.4l1 2.4l1-2.6l1 2.8l1-1.7l1 1.2l1-1.6l1 1.4l1-2.3l1 2.6l1-1.5l1 0.9l1-1.4l1 2.4l1-2.3l1 1.1l1-1.9l1 2.4l1-1.3l1 2.3l1-3l1 2.9l1-2.9l1 4.5l1-3.8l1 1.4l1-2l1 1.3l1-1.5l1 0.9l1-1.4l1 2.2l1-2.2l1 1.7l1-1.5l1 1.4l1-1.8l1 2.4l1-2.1l1 1.2l1-1.2l1 1.2l1-1.8l1 1.2l1-2l1 1.2l1-1.4l1 2.9l1-3.6l1 2.7l1-2.5l1 1.9l1-1.7l1 1.1l1-1.9l1 3l1-3.7l1 3.1l1-2.9l1 2.2l1-2.3l1 2.4l1-6.5l1 5.6l1-4.2l1 2.6l1-5.3l1 3.3l1-4.4l1 3l1-2.5l1 3.1l1-4.6l1 2.5l1-4.5l1 0.4l1-8.1l1 2.9l1-7.7l1 1.3l1-7.8l1 2.1l1-16.6l1-6.6l1-12.4l1-18.2l1-36l1-35.1l1-26.8l1-20.8l1-19.5l1-2.3l1-7.3l1 3.7l1-1.2l1 5.5l1 9.5l1 14.3l1 4.9l1-13.6l1-18.5l1-19.8l1-33.8l1-31.6l1-33.6l1-30.3l1-24.2l1-13.9l1-11.5l1 24.4l1 52.4l1 51l1 31.6l1 31.7l1 26.1l1 19.3l1 14.8l1 19.4l1 11.9l1 9.9l1 4.5l1 11.7l1 6l1 9.6l1 5.6l1 8l1 4.4l1 8.6l1 2.2l1 7.8l1 4.2l1 7.8l1 0.1l1 7.1l1-0.8l1 9.3l1-0.1l1 11.9l1-4l1 8.6l1-1.1l1 5.9l1-0.5l1 5.3l1-0.7l1 7.1l1-2.7l1 5.3l1-2.5l1 5.6l1-4.2l1 6.1l1-4.1l1 2.8l1-1.8l1 3l1-1.6l1 3.6l1-2.2l1 4.4l1-5.2l1 4.1l1-4.2l1 3.9l1-1.6l1 1.9l1-3.2l1 3.2l1-5.2l1 5.8l1-4.2l1 0.9l1-2.4l1 3.1l1-6.9l1 2.4l1-3.2l1 2.7l1-10.1l1-2.5l1-23.3l1-33.4l1-94.4l1-123.9l1-55.7l1 88.4l1 121.2l1 79.8l1 28.9l1 19.2l1-4.5l1 10.9l1-4l1 4.3l1-2.4l1 3.7l1-3.9l1 6l1-3.1l1 2.9l1-1.3l1 2.1l1-3.5l1 4.3l1-2.2l1 3.8l1-3.2l1 2.1l1-2.7l1 3.3l1-3l1 5.5l1-5.5l1 3.9l1-2.1l1 3.8l1-3.1l1 2.8l1-4.7l1 5.2l1-1.7l1 4.9l1-6.6l1 6.6l1-5.1l1 6.7l1-5.7l1 2.5l1-2.9l1 3.5l1-1.2l1 3.7l1-4l1.1 3.3l1-2.3l1 2.4l1-2.2l1 1.3l1-1.2l1 2.2l1-2.7l1 2.4l1-2.3l1 4.8l1-3.3l1 3.3l1-3.2l1 2.4l1-3.4l1 2.4l1-1.4l1 2.5l1-4.3l1 4.1l1-2.4l1 4l1-6.6l1 5.2l1-2.6l1 3.1l1-1.8l1 2.4l1-3.4l1 3.5l1-2.4l1 2.8l1-2.6l1 2.8l1-1.8l1 2.6l1-1.7l1 2l1-2.7l1 2.2l1-1.5l1 4.5l1-5.3l1 4.8l1-3.8l1 2l1-2.1l1 2.4l1-3l1 3.1l1-3.2l1 3l1-2l1 3.8l1-3.3l1 4.6l1-3.2l1 1.8l1-3.4l1 4.2l1-5.3l1 7.3l1-5.8l1 4.7l1-3l1 1.9l1-3.6l1 5.4l1-4.2l1 2.8l1-2.5l1 3l1-3.6l1 2.6l1-5.2l1 3.9l1-2.7l1 2.5l1-4.6l1 3.2l1-3.9l1 2.1l1-3.7l1 2l1-5.4l1 5.2l1-8.5l1-0.9l1-7.8l1 1.7l1-16.8l1-11.3l1-24.7l1-16.6l1-7.9l1 14.2l1 17.8l1 22.2l1 4.8l1 15.9l1-0.9l1 8.9l1-7.3l1 7.1l1-6.8l1 9.8l1 1l1 6.7l1-4.5l1 6.9l1-1.4l1 6.1l1-4.9l1 4.3l1-3.9l1 5.3l1-2.8l1 3.4l1-3.1l1 4.8l1-3.9l1 2.4l1-2.8l1 2.4l1-3.3l1 3.4l1-1.9l1 3.9l1-4.4l1 4l1-1.9l1 2.7l1-3l1 4.5l1-3.8l1 2.9l1-1.8l1 2.2l1-4.1l1 4.1l1-3.1l1 2.9l1-2.9l1 1l1-2.2l1 1l1-5.2l1 3.8l1-12.9l1 4.2l1-1.2l1 9.2l1-2.3l1 7.2l1-4.1l1 5.1l1-4.7l1 4.9l1-2.6l1 2.5l1-6.1l1 1.5l1-0.8l1 4.3l1-1.6l1 4.7l1-3.2l1 3l1-1.1l1 2.6l1-3.6l1 5.1l1-3.9l1 2.5l1-3.2l1 3.9l1-3l1 4.3l1-4.6l1 3.2l1-0.7l1 2.6l1-3.6l1 1.6l1-3.9l1 3.5l1-3.1l1 1.2l1-2.2l1 2.1l1-4.1l1 1.4l1-9.4l1 3.3l1-7.8l1 6.2l1-3.2l1 11.5l1-3.9l1 5l1-1.6l1 4.6l1-4.4l1 4l1-3.3l1 3.7l1-3.3l1 3l1-3.1l1 3.9l1-4.8l1 4.6l1-4.6l1 5.8l1-7.2l1 5.1l1-6.5l1 4.4l1-9.1l1 4.4l1-7.6l1 5.7l1-7.5l1 11l1-7l1 8.1l1-6.8l1 5l1-4.5l1 2.7l1-3l1 9l1-5l1 6l1-1.6l1 5.3l1-5.2l1 7.6l1-5.7l1 5.3l1-4.5l1 1l1.1-4.2l1 3.1l1-2.9l1 2.9l1-7.8l1 7.5l1-4.4l1 7.6l1-4.5l1 4.5l1-1.8l1 3.3l1-3.4l1 4.1l1-5.1l1 5l1-2.2l1 2.1l1-3.1l1 5.7l1-3l1 1.3l1-1.4l1 2.8l1-2.9l1 2.4l1-1.7l1 2.4l1-1.8l1 2.1l1-1.7l1 2.1l1-4.7l1 5.4l1-2.4l1 4.2l1-6.6l1 7l1-5.6l1 2.7l1-4.8l1 5l1-3.5l1 3.5l1-5.3l1 7.6l1-5.6l1 3l1-3.2l1 5.4l1-5l1 5.5l1-4.7l1 4.7l1-4l1 3.6l1-4.8l1 3.7l1-3.7l1 3.3l1-2.4l1 1.4l1-2.6l1 2.4l1-4.8l1 3.5l1-2.6l1 1.5l1-7.7l1 3.8l1-12.7l1-2.1l1-11l1 16.3l1-0.2l1 8.5l1 0l1 5.1l1-1.1l1 5.2l1-3.5l1 2.4l1-0.9l1 1.1l1-2.8l1 3.8l1-3.6l1 0.9l1-4.5l1 5.1l1-0.8l1 5.4l1-4l1 2.8l1-3.7l1 3.9l1-3l1 1.6l1-2.5l1 1.9l1-2.6l1 3.4l1-3.6l1 4l1-2.5l1 5.4l1-4.4l1 4l1-5.6l1 3.3l1-3.2l1 3.9l1-2.6l1 3l1-2.1l1 3.1l1-5l1 4.4l1-4.8l1 3.6l1-1.8l1 2l1-4l1 4.8l1-5.2l1 4.6l1-1.6l1 1.4l1-1.9l1 4l1-4.3l1 3.7l1-3.9l1 2.2l1-3.3l1 3.2l1-3.6l1 3.2l1-3.9l1 2.5l1-3.2l1 2l1-2.5l1 1.8l1-4.6l1 0.6l1-4.2l1 9l1-4.3l1 4l1-4.1l1 4.3l1-0.6l1 2l1-4.5l1 3.2l1-2.7l1 4.2l1-5.2l1 5.1l1-4.7l1 3.1l1-1.8l1 2.1l1-3.8l1 4.1l1-7.1l1 6.8l1-6.8l1 6l1-6l1 2.3l1-8.3l1 10.8l1-8.2l1 5.4l1-7.9l1 6.9l1-5.5l1 8.4l1-6.7l1 7l1-3.2l1 5.2l1-2.7l1 4.1l1-6.1l1 4.6l1-4l1 7.8l1-8.2l1 6.3l1-2.8l1 2.7l1-4.9l1 5.1l1-3.1l1 5.8l1-4.6l1 2.6l1-2.9l1 2.8l1-2.3l1 3.2l1-3.8l1 2.8l1-2.1l1 5.1l1-5.8l1 4.7l1-5.2l1 4.9l1-2l1 2.2l1-3.3l1 2.1l1-2.3l1 1.1l1-2.6l1 1.7l1-6.6l1 1.6l1-6.2l1 4.2l1-2.2l1 6l1-4.1l1 7.1l1-2.3l1 7l1-3.7l1 2.8l1-2.7l1 5.1l1-3.6l1 2.6l1-1.8l1 2.7l1-4.9l1 3.3l1-3.8l1 4.1l1-4.4l1 5.3l1-2l1.1 2.1l1-3.7l1 4.8l1-3.9l1 2.2l1-4.5l1 5.2l1-2.6l1 1.7l1-1.2l1 2.9l1-3.5l1 2.9l1-2.3l1 1.2l1-2l1 4.6l1-5.1l1 2.7l1-1.4l1 2.1l1-2.7l1 2.8l1-2.9l1 4.7l1-3.5l1 2.5l1-2.7l1 2.8l1-4.6l1 2.6l1-3.9l1 4.1l1-2l1 3.1l1-4.5l1 5.6l1-4.8l1 2.2l1-3.4l1 6.1l1-7.3l1 7.3l1-9.5l1 4.5l1-4.8l1 5.8l1-6.2l1 3.3l1-2l1 5.7l1-3.7l1 2.8l1-1.4l1 2.6l1-3.1l1 4.9l1-4.3l1 4.2l1-4.7l1 3.8l1-2.8l1 2.5l1-1.8l1 5.5l1-6.4l1 3.6l1-1.4l1 4.3l1-6.9l1 5.8l1-2.6l1 2.7l1-3.7l1 3.9l1-4l1 4l1-3.4l1 2.5l1-1.3l1 4l1-4.9l1 2.5l1-1.6l1 3.5l1-4.6l1 3.6l1-5.2l1 3.8l1-4.1l1 3.3l1-3.1l1 3.6l1-2.7l1 1.7l1-5l1 5.2l1-6.4l1 1.1l1-5.9l1 3.6l1-6.9l1 3.3l1-9.3l1 3.3l1-5.2l1 7.4l1-3.3l1 9.8l1-3.5l1 6.9l1-3.7l1 7.9l1-7.8l1 6.5l1-0.4l1 4l1-2.9l1 2.7l1-4.1l1 3.7l1-1.8l1 2.3l1-1.9l1 3.6l1-5.8l1 5.7l1-3.8l1 3l1-2.1l1 4.8l1-6.6l1 4.7l1-2l1 2.7l1-2.5l1 1.7l1-2.7l1 3.6l1-2.3l1 1.2l1-1.5l1 3.5l1-4.4l1 1.2l1-2l1 3.1l1-2l1 2.4l1-1.1l1 2.2l1-1.6l1 3.5l1-6.3l1 6.4l1-4.3l1 1.5l1-3.1l1 4.7l1-4.4l1 5.3l1-3.9l1 2.4l1-1.8l1 2l1-1.7l1 3.6l1-5.2l1 3.6l1-3l1 2.7l1-3l1 2.2l1-2.4l1 3.8l1-3.6l1 4.3l1-4.3l1 3l1-2.6l1 3.3l1-3l1 1.4l1-2.2l1 2.5l1-2.7l1 0.3l1-1.8l1 1.7l1 0.2l1 2.5l1-0.4l1 1l1-2.1l1 1.9l1-1.3l1 3.2l1-3.3l1 0.8l1-1.9l1 2.1l1-1.1l1 0.8l1-0.7l1 1.1l1-2.6l1 4.2l1-4.6l1 2.6l1-1.9l1 1.5l1-1.6l1 1.5l1-2.7l1 1.9l1-3.2l1 3.5l1-2.1l1 0.5l1-2.4l1 1.1l1-3l1 4.3l1-1.9l1 2.8l1-1.2l1 3.7l1-3.1l1 2.1l1-1.3l1 1.4l1-1.1l1 1.9l1-1.6l1 0.9l1-1.4l1 1.4l1-2.3l1 3.3l1-2.2l1 2.1l1-2l1 2.2l1.1-1.3l1 0.9l1-1.2l1 2.1l1-2.2l1 2l1-2.1l1 1.8l1-1.3l1 1.9l1-2l1 1.6l1-1.3l1 1.8l1-1.6l1 1.2l1-1.4l1 1.5l1-1.5l1 1.6l1-3.4l1 2.1l1-1.8l1 1.4l1-1.9l1 1.7l1-1.2l1 1.8l1-1.7l1 2.7l1-3.1l1 1.4l1-2.3l1 2.4l1-4.7l1 3.6l1-4.5l1 2.9l1-4.8l1 2.9l1-4.2l1 2.3l1-3.4l1 2.3l1-2.2l1 2l1-0.5l1 2.7l1-0.4l1 3l1-3.1l1 4.3l1-2.1l1 3.3l1-1.5l1 1.1l1-0.4l1 0.8l1-2.7l1 2.9l1-3.5l1 3.1l1-4.5l1 0.7l1-3.8l1 3l1-1.4l1 4.8l1-1.7l1 3.3l1-2.5l1 3.7l1-1.5l1 2.9l1-2.2l1 3.6l1-3.2l1 3.4l1-3l1 1.6l1-1.5l1 2.2l1-2.8l1 3.8l1-2.7l1 1.9l1-3.7l1 2.8l1-1.7l1 1.2l1-0.9l1 1.1l1-1.2l1 1.7l1-1.1l1 3l1-2.3l1 2.6l1-2.5l1 1.3l1-1.8l1 2.2l1-3.4l1 1.8l1-1.7l1 3.8l1-2.9l1 1.7l1-1.6l1 2.7l1-3.9l1 3.2l1-0.8l1 2.2l1-2.3l1 1.5l1-1.8l1 1.1l1-1.4l1 1.5l1-1.6l1 2.5l1-1.8"/>
<path stroke="#A50012" stroke-width="3.60" d="M7.9 1278.4l1 6.1l1-6l1 6l1-6l1 6l1-5.9l1 6l1-6.1l1 6.1l1-5.9l1 5.9l1-6.2l1 6.2l1-6.1l1 6.2l1-6.2l1 6.1l1-6.2l1 6.3l1-6.1l1 6l1-6.1l1 6.1l1-6l1.1 6.2l1-6.3l1 6l1-6l1 6.2l1-6.2l1 6.2l1-6.3l1 6.4l1-6.1l1 5.9l1-6l1 6l1-6.2l1 6.2l1-6.4l1 6.2l1-6l1 6.1l1-6l1 6.2l1-6.2l1 6l1-6.2l1 6.2l1-6l1 5.9l1-5.8l1 6.1l1-6.3l1 6.4l1-6.3l1 6l1-5.9l1 6.2l1-6.1l1 6l1-6l1 6.2l1-6.3l1 6l1-6l1 5.9l1-6l1 6.4l1-6.4l1 6l1-6l1 6l1-6.1l1 6.3l1-6.1l1 6.1l1-6.3l1 6.2l1-6l1 6.2l1-6.1l1 5.9l1-6l1 6l1-6.3l1 6.3l1-6.1l1 6l1-6l1 5.9l1-5.9l1 6.1l1-6.1l1 5.9l1-5.9l1 6l1-6l1 6l1-6l1 6.1l1-6.2l1 6.5l1-6.2l1 6l1-6.1l1 6.1l1-6.2l1 6l1-6l1 6l1-6.1l1 6l1-6.1l1 6l1-6l1 6.1l1-6.1l1 6l1-6.3l1 6.5l1-6.4l1 6l1-6.2l1 6.3l1-6.3l1 6.2l1-6.3l1 6.2l1-6.2l1 6l1-6.2l1 6.2l1-6.2l1 6.3l1-6.4l1 6l1-6.3l1 6.2l1-6.1l1 6.2l1-6.4l1 6.1l1-6.1l1 6.1l1-9.5l1 6l1-5.2l1 5.8l1-8.8l1 13.4l1-6.9l1 5.8l1-6.8l1 6.4l1-5l1 5.6l1-8.3l1 6.4l1-4.6l1 3.5l1-6.7l1 4l1-5.7l1 6.2l1-5.3l1 4.6l1-4.6l1 5.1l1-6l1 6.1l1-5.3l1 4.6l1-3.9l1 4.4l1-4.3l1 3.3l1-4.3l1 6.2l1-7.6l1 7.4l1-11.4l1 9.3l1-6.6l1 7.5l1-9.7l1 4.4l1-7.4l1 7.5l1-6l1 5.2l1-6.7l1 4.7l1-6.6l1 7.5l1-5.6l1 2.9l1-3.6l1 2.8l1-7.3l1 9.6l1-15l1 11l1-10.1l1 5.5l1-6.1l1 3.8l1-6.5l1 2.4l1-8.2l1 3.5l1-5.3l1 5.3l1-12.5l1 1.5l1-9.3l1-1.9l1-10.9l1-8.4l1-12.1l1-10.2l1-17.4l1-15.7l1-21.7l1-14.5l1-13.8l1-1.1l1 2l1 4.9l1 1.7l1-0.3l1-7.9l1-6.8l1-12.8l1-9l1-17.5l1-14.7l1-17.3l1-12.7l1-16l1-9.5l1-5.7l1 6.2l1 10.6l1 18.3l1 17.2l1 21.8l1 19.3l1 22.2l1 14.6l1 13.8l1 6.3l1 10.2l1 5l1 11l1 3.6l1 9.2l1 3.9l1 7.1l1 1.9l1 6.3l1 1.5l1 7.2l1 1.3l1 6.5l1 1.4l1 4.3l1 2.1l1.1 4.6l1 0.3l1 7.4l1 0.5l1 6.4l1-0.2l1 5.6l1-3.9l1 10.2l1-1.9l1 7.5l1-0.6l1 11.1l1-7.7l1 7.4l1-5.1l1 6.7l1-3.8l1 2.7l1-4.6l1 5.1l1-5.2l1 9.3l1-12.8l1 10.7l1-6.6l1 7.8l1-2l1 3.5l1-5.1l1 6.1l1-5.9l1 5.4l1-19.6l1 18.5l1-2.9l1 3.5l1-7.1l1 9.8l1-6l1 3.8l1-2.6l1 4.5l1-3.4l1 4l1-4.7l1 10.1l1-7.9l1 6.8l1-7.7l1 4.8l1-5.8l1 9l1-10.4l1 0.2l1-17.7l1 18.1l1 0.2l1 5.2l1-9.1l1 7.6l1-3.4l1 2.5l1-3.5l1 2.1l1-3.7l1 3.3l1-7.7l1 7.8l1-4.4l1 5.4l1-4.2l1 5.4l1-6.4l1 7.7l1-6.8l1 7.9l1-9l1 8.3l1-2.4l1 6.3l1-6.8l1 8.1l1-8.9l1 6.1l1-1.7l1 4.5l1-3.8l1 4l1-9l1 9.8l1-6l1 6l1-4.8l1 5.1l1-3.7l1 4.8l1-7.4l1 5.1l1-5.1l1 7.8l1-7.1l1 5.2l1-6.6l1 9.3l1-10.6l1 7l1-9.2l1 6.1l1-2.7l1 4l1-10.3l1 9.1l1-3.6l1 7.3l1-8.8l1 5.7l1-4.7l1 8.7l1-3.6l1 3.8l1-3.8l1 6l1-6.5l1 8.4l1-6.9l1 6.9l1-7.6l1 6.3l1-2.8l1 5.1l1-2.2l1 5.2l1-5.3l1 4.8l1-4.1l1 6.3l1-6.3l1 8l1-4.2l1 7.2l1-4.7l1 6.1l1-3.8l1 4.3l1-3.8l1 5l1-3.6l1 6.1l1-7.5l1 4.1l1-1.7l1 6.7l1-11.4l1 7.3l1-8l1 7.5l1-4.4l1 4.7l1-6.7l1 6.3l1-6.5l1 6.6l1-5.8l1 6.4l1-8.8l1 5.8l1-6.2l1 6.8l1-7.4l1 11.7l1-8.3l1 6l1-6.7l1 6.5l1-5.3l1 6.2l1-10.2l1 3.3l1-7.8l1 6.8l1-9.3l1 1.4l1-9.5l1 8.8l1-8.8l1 1.2l1-6.8l1 3.1l1-15.9l1-3.4l1-18.1l1-5l1-8.5l1 8.4l1 8.2l1 15.5l1 3.3l1 11.1l1-3.2l1 12.2l1-2.6l1 9.4l1-8.4l1 10.1l1-2.7l1 7.2l1-5.1l1 5.3l1-6.4l1 8.6l1-4.8l1 6.7l1-4.2l1 4.7l1-3.9l1 4.9l1-2.7l1 7.7l1-5.1l1 4.5l1-5l1 5.5l1-7.4l1 7l1-3.4l1 4.1l1-6.3l1 7.7l1-3.3l1 6.2l1-5.5l1 9.8l1-11.6l1 7.7l1-1.6l1 6.3l1-5.5l1 7.8l1-7.1l1 6.9l1-6l1 6.3l1-4.4l1.1 4.4l1-2.8l1 8.7l1-10.2l1 3.9l1-1.4l1 4.3l1-5.3l1 10.9l1-8.2l1 7.3l1-8.1l1 5l1-8.3l1 7.9l1-3.8l1 7.6l1-5.3l1 6l1-6.7l1 5.5l1-2.9l1 6.9l1-9.6l1 10.8l1-12.2l1 7.2l1-7l1 5.9l1-5.9l1 7.6l1-4.3l1 5.8l1-5.4l1 9.5l1-11.2l1 7.1l1-9.1l1 11.6l1-9.5l1 3.7l1-7.7l1 6.7l1-6.2l1 8.1l1-6.1l1 6.7l1-6.9l1 6.6l1-7.3l1 6.5l1-3.2l1 3.1l1-8.8l1 9.2l1-9.3l1 6.8l1-5.6l1 5.9l1-6.5l1 3.6l1-3.2l1 3.8l1-5.4l1 6.7l1-3.6l1 4.5l1-6.1l1 5.9l1-6.3l1 5.9l1-7l1 6.1l1-5.3l1 6.6l1-8.3l1 9.5l1-4l1 11l1-6.2l1 2.9l1-2.4l1 7.5l1-7.4l1 4l1-5.9l1 8.9l1-4.3l1 2l1-2.3l1 4.5l1-3.4l1 5.5l1-4.3l1 4l1-5.3l1 5.6l1-5.9l1 5.6l1-7.8l1 9l1-7.3l1 6.5l1-7.5l1 9.3l1-4l1 3.7l1-3.9l1 4.7l1-6.7l1 9.8l1-6.1l1 5.6l1-3.8l1 5.4l1-8.5l1 5.9l1-2l1 5.3l1-5.5l1 5l1-3l1 2.4l1-3.6l1 3.7l1-4.5l1 8.1l1-7.3l1 6.4l1-5.8l1 4.2l1-5.5l1 3.1l1-3l1 4.5l1-5l1 8.1l1-4.8l1 7.8l1-4.8l1 3.9l1-6.4l1 5.7l1-5.9l1 2.9l1-6.7l1 6.4l1-4.6l1 7l1-3.6l1 5.7l1-3.4l1 4.9l1-4.2l1 6.7l1-5.7l1 4.3l1-2.5l1 7.8l1-6.9l1 5.1l1-7.8l1 7.6l1-6.7l1 1.5l1-6.8l1 11l1-7.5l1 3.2l1-3l1 5.5l1-5.1l1 5.7l1-6.4l1 9.2l1-6.9l1 2.5l1-5.4l1 6.3l1-6.1l1 7.1l1-5.4l1 3.8l1-3.9l1 4.4l1-4.6l1 4.9l1-4.7l1 6.1l1-8.2l1 4.9l1-5.1l1 6.3l1-8.2l1 7.2l1-4l1 3.8l1-8.1l1 10.1l1-5.4l1 5.4l1-6.3l1 6l1-4.4l1 7.1l1-6.9l1 3.9l1-5.6l1 5.7l1-4.7l1 5.4l1-4.4l1 3.3l1-7.2l1 6.3l1-5.2l1 5.5l1-2.8l1 3.4l1-4.3l1 8.5l1-9.5l1 5.6l1-2.4l1 4.4l1-5.3l1 6l1-5.3l1 4.3l1-9l1 7.5l1-4.8l1 3l1-6.5l1 7.8l1-6.2l1 6.4l1-4.9l1 2.6l1-4.4l1 2.7l1-3.2l1 5.8l1-6.4l1.1 8.6l1-7.4l1 4.6l1-7.5l1 5.7l1-4.1l1 7.4l1-7.2l1 2.4l1-5.4l1 8.1l1-7.6l1 9.8l1-9.1l1 5l1-9l1 8.5l1-8.6l1 3l1-10.8l1 8.2l1-6l1 7.3l1-3.4l1 5.4l1-6.6l1 9l1-8.2l1 8l1-2.9l1 3.8l1-2.8l1 4.7l1-5l1 6.3l1-4.6l1 7.6l1-6.1l1 5.2l1-7l1 8l1-5l1 4.5l1-5.7l1 6.1l1-3.5l1 6.6l1-4.5l1 5.9l1-7.3l1 7.4l1-6.5l1 3.9l1-3.4l1 2.7l1-4.1l1 4l1-6l1 10.7l1-9.1l1 9.4l1-8.7l1 5.9l1-3.9l1 7.7l1-5.7l1 5.3l1-3.6l1 4.1l1-1.9l1 2.9l1-4.9l1 5.4l1-8.1l1 8.1l1-5.7l1 5.3l1-6.5l1 5.7l1-3.2l1 4.1l1-7.3l1 6.8l1-3.1l1 6l1-8.1l1 3.8l1-5l1 9l1-9.1l1 9.7l1-7l1 8.6l1-9.1l1 6l1-8.7l1 6.2l1-4.6l1 4.7l1-3.1l1 2.7l1-2.9l1 5.7l1-6.5l1 6.5l1-6.7l1 4.2l1-6.6l1 7.6l1-8.9l1 6l1-3.7l1 6.6l1-5.4l1 2.7l1-4.9l1 4.9l1-5.9l1 7.9l1-3.9l1 4.5l1-4.1l1 5.4l1-4l1 2.1l1-4.9l1 9.3l1-12l1 7.5l1-2.6l1 3.6l1-4.7l1 7.8l1-13.8l1 9.7l1-7.4l1 6.9l1-6.9l1 6l1-4.4l1 4.8l1-8.5l1 6.6l1-6.4l1 7.9l1-6.6l1 3.8l1-3l1 4.7l1-4.2l1 8.3l1-8.2l1 6.9l1-5.6l1 3.8l1-5.4l1 5.5l1-4l1 7.4l1-7.4l1 6.3l1-5.5l1 7.4l1-6.2l1 5.5l1-5.4l1 7.2l1-3.3l1 2.1l1-5.9l1 7.3l1-5.1l1 3.6l1-4.2l1 7l1-5.7l1 4.6l1-7.4l1 7.3l1-5.7l1 5.7l1-3.2l1 3.3l1-4.4l1 5.6l1-5l1 3.1l1-6.1l1 8l1-5.2l1 2.8l1-6l1 6.2l1-7.8l1 9.2l1-5.4l1 3.9l1-2.7l1 4.3l1-3.5l1 4l1-3.9l1 4.4l1-4.4l1 1.5l1-2.2l1 3.6l1-3.9l1 2.8l1-5.5l1 7l1-5.2l1 6.3l1-8.2l1 5l1-3.7l1 4.8l1-6.3l1 8.8l1-7.6l1 7l1-2.8l1 3.4l1-5.8l1 4.7l1-1.8l1 6.4l1-4.7l1 4.3l1-2.5l1 4l1-8.5l1 5.8l1-3l1 3.7l1-4.6l1 5.5l1-10.8l1 6.9l1-2.6l1 4.3l1-5.2l1 3.6l1-2.7l1.1 5.1l1-3.6l1 4.2l1-5.4l1 2.4l1-2.2l1 5.8l1-7.5l1 4.6l1-4.7l1 7.7l1-7.1l1 4.6l1-4.4l1 6.3l1-5.4l1 4.2l1-3.8l1 3.8l1-8.2l1 6.7l1-7.6l1 6.8l1-5.5l1 8.3l1-4.2l1 2.8l1-2.5l1 5.2l1-5.2l1 3.8l1-3.5l1 5.8l1-4.3l1 4.3l1-8.5l1 8.5l1-7l1 4.4l1-6.4l1 5.5l1-5.3l1 5.9l1-3.4l1 3.8l1-5.3l1 5.6l1-3l1 7.5l1-7.3l1 3.9l1-4.5l1 3.6l1-3.8l1 7.5l1-8.6l1 6.6l1-3.8l1 1.9l1-4.8l1 7.6l1-6.3l1 4.8l1-7.2l1 6.4l1-4.5l1 3.6l1-3l1 3.9l1-5.5l1 6.8l1-5.6l1 4.1l1-3.3l1 2.1l1-4l1 6.5l1-5.4l1 4.1l1-3.6l1 2.6l1-3.5l1 4.7l1-4.3l1 3.4l1-4.4l1 6l1-9.8l1 10.2l1-8.1l1 6.8l1-4.3l1 2.5l1-1.8l1 2l1-4l1 4.7l1-5.7l1 7l1-8.8l1 7.3l1-4.4l1 4.2l1-5.3l1 3.7l1-2.7l1 3.4l1-4.1l1 4.6l1-4.9l1 5.7l1-3.8l1 2.8l1-6.9l1 5.7l1-2.2l1 4.1l1-5.5l1 3.4l1-6.3l1 5.8l1-3.7l1 3.3l1-2.9l1 3.7l1-3.7l1 4.1l1-3.7l1 3.7l1-5l1 5.3l1-5.8l1 2.4l1-5.6l1 3.9l1-3.5l1 3l1-3.7l1 4l1-4.5l1 4.5l1-4.9l1 4.8l1-4.1l1 5.7l1-1l1 1.3l1-2.7l1 4.8l1-4.1l1 4l1-1.5l1 2.1l1-4.5l1 4.9l1-2.8l1 4.5l1-6.7l1 8.2l1-3.5l1 4l1-3.2l1 3.8l1-4.6l1 3.8l1-4.2l1 4.3l1-3.2l1 3.7l1-4.8l1 2l1-1.7l1 2.7l1-3.8l1 3.7l1-3.8l1 2.9l1-3.2l1 5.9l1-6.7l1 5l1-2.7l1 3.9l1-6.1l1 5.9l1-3.8l1 2.5l1-1.7l1 3.2l1-1.7l1 5.4l1-6.7l1 6.5l1-5.2l1 4.8l1-6.3l1 5.2l1-5.5l1 3.8l1-4.4l1 3.2l1-2.9l1 3.9l1-5.8l1 5.7l1-2.8l1 2.4l1-1.4l1 1.4l1-1.8l1 3.3l1-3.4l1 1.6l1-1.3l1 1.7l1-4.4l1 5.8l1-0.9l1 2.2l1-0.7"/>
<path stroke="#FF0000" stroke-width="3.60" d="M11.6 1317.5l1-6.1l1 6.1l1-6l1 6.1l1-6.2l1 6.1l1-6l1 6l1-6l1 6l1-6.1l1 6.2l1-6l1 6l1-6l1 5.9l1-6.1l1 6.1l1-6.2l1 6.1l1-6l1 6.1l1-6.1l1 6.2l1-6.1l1 6.1l1-6l1 6l1-6l1 6.2l1-6.1l1 6.2l1-6.6l1 6.3l1-6.1l1 6.2l1-6.1l1 5.9l1-6l1 6l1-5.9l1 6.1l1-6.1l1 6l1-6.2l1 6.2l1-6.1l1 6l1-6.1l1 6.1l1-6l1 6.2l1-6.2l1 6l1-6.2l1 6.1l1-5.9l1 6l1-6l1 6l1-6.1l1 6l1-6.2l1 6.2l1-6.2l1 6.2l1-6.1l1 6.1l1-6l1 6.2l1-6.2l1 6l1-6.1l1 6.1l1-5.9l1 6.1l1-6.1l1 5.9l1-6.1l1 6.2l1-6.1l1 6l1-5.9l1 6l1-6.2l1 6.2l1-6.1l1 6.4l1-6.3l1 6.1l1-6.1l1 6l1-6.1l1 6l1-6l1 6.2l1-6.2l1 5.9l1-6l1 6.1l1-6l1 6.2l1-6.2l1 6.2l1-6l1 6l1-6l1 6l1-6.2l1 6l1-6.2l1 6.2l1-6l1 6.1l1-6.1l1 6l1-6.1l1 6.2l1-6.4l1 6.2l1-6.4l1 6.3l1.1-6l1 5.9l1-6l1 6.3l1-6.4l1 5.9l1-6.2l1 6.2l1-6.1l1 5.9l1-6.2l1 6.3l1-6l1 6.1l1-6.3l1 6l1-5.9l1 6l1-6.1l1 5.9l1-6.2l1 6.4l1-9.8l1 8.1l1-10.9l1 10l1-4.1l1 3.2l1-3.1l1 4.7l1-4.7l1 3.6l1-8.2l1 9l1-6.7l1 4.6l1-5.6l1 5.6l1-5.5l1 6.2l1-4.7l1 4.3l1-4.7l1 5.1l1-4.3l1 7.4l1-12.5l1 8.7l1-5.9l1 4.7l1-3.5l1 4.1l1-5l1 3.9l1-5.2l1 8l1-9.6l1 14l1-9.3l1 4.4l1-6.6l1 3.6l1-7.7l1 6.8l1-8l1 5.2l1-5.4l1 7.8l1-11.2l1 9.2l1-5.6l1 5.4l1-6.6l1 5.5l1-6.4l1 4.2l1-5.3l1 4.1l1-8.6l1 9.2l1-10.1l1 5.7l1-5.8l1 4.1l1-7.3l1 4.5l1-3.6l1 4.8l1-11.3l1 4.7l1-9.3l1 3.5l1-12.6l1-0.6l1-10.7l1-4.5l1-10.9l1-8.2l1-15.1l1-11.1l1-10.1l1-2.5l1-1.9l1 6.8l1-0.4l1 1.3l1-3.8l1-2.7l1-10l1-5.7l1-10.6l1-9.7l1-12.1l1-7.6l1-12.2l1-5.5l1-6.3l1 4.6l1 4.2l1 12.2l1 8l1 15.9l1 12.2l1 15l1 9.5l1 10.7l1 4.1l1 6.9l1 4l1 8.3l1 2l1 6.6l1 2.1l1 4.6l1 0l1 5.1l1 0.2l1 7.2l1-3.3l1 9.3l1-4.6l1 9.7l1-3.4l1 5.9l1-2.8l1 6.2l1-1.9l1 9.3l1-6.1l1 10.3l1-4.5l1 5l1-2.6l1 7.9l1-6.3l1 9.4l1-3.5l1 4.6l1-7.9l1 6.7l1-3.9l1 5l1-3.5l1 8.5l1-8.5l1 10.8l1-6.5l1 8l1-5.7l1 4.5l1-5.3l1 3.8l1-5.7l1 5.1l1-9.9l1 5.7l1-3.3l1 6l1-3.1l1 4.4l1-3.8l1 6.6l1-3.7l1 3.2l1-7.9l1 10.9l1-10.5l1 6.7l1-5.6l1 7.6l1-6.2l1 7.8l1-6.4l1 5.9l1-5.6l1 3.5l1-9.1l1 4l1-21l1 21.4l1-0.9l1 3.8l1-3.3l1 5.5l1-3.2l1 5l1-9l1 12.2l1-12.7l1 8.4l1-4.9l1 5.8l1-6.5l1 5.4l1-10.1l1 11.2l1-8.5l1 5.3l1-6.5l1 5.4l1-1.9l1 6.8l1-7.5l1 11.1l1-8.6l1 6.7l1-7.8l1 7.9l1-5.4l1 3.1l1-1.8l1 3.2l1-3.3l1 6.3l1-7.5l1 8.2l1-4.6l1 2.8l1-4.6l1 5.2l1-5.2l1 9.3l1-10.2l1.1 7.4l1-6.5l1 4.3l1-5.4l1 4.5l1-3.4l1 3l1-4.8l1 4.7l1-5.1l1 3.9l1-4.9l1 4.9l1-6.3l1 10.1l1-7.7l1 8l1-6.5l1 6.2l1-4.7l1 2.7l1-3.9l1 6l1-3.6l1 2l1-5l1 5.7l1-3.8l1 4.8l1-8l1 8.9l1-3l1 5.1l1-4.2l1 6.7l1-4.8l1 3.2l1-3.9l1 7.5l1-2.3l1 5.7l1-8.4l1 8.1l1-5.6l1 6.7l1-5.9l1 4.5l1-2.1l1 2.6l1-1.9l1 8.5l1-6.4l1 3l1-5.6l1 7.2l1-5.1l1 3.3l1-3.1l1 2.5l1-5.4l1 7.5l1-6.6l1 5.5l1-6.7l1 5.2l1-4.3l1 4.8l1-5.2l1 2.4l1-5.2l1 5.4l1-6.9l1 8.3l1-4.2l1 2.4l1-3.7l1 3.5l1-9.3l1 11.6l1-12.1l1 8l1-10l1 5.7l1-8.6l1 3.5l1-8.9l1 6.6l1-6.8l1 2.7l1-9.2l1 1.1l1-10.7l1-1l1-6.3l1 3.5l1 1.6l1 10.4l1 0.9l1 9.6l1-4l1 7l1-7.1l1 10.5l1-2.3l1 5.4l1-7l1 10.8l1-8.9l1 13l1-5.5l1 5.5l1-3l1 3.4l1-8l1 12.8l1-7.4l1 4.2l1-7.7l1 7.3l1-2.3l1 4.8l1-5.4l1 6l1-5.1l1 6.4l1-4.4l1 3.4l1-5.7l1 9.8l1-7.5l1 6l1-4.4l1 6l1-4.3l1 8.9l1-5.9l1 6.5l1-9.8l1 13l1-5.6l1 5l1-3.9l1 2.6l1-3.5l1 4.2l1-6.1l1 6.4l1-5.4l1 4.8l1-2.4l1 3l1-4.6l1 7l1-4.5l1 3.9l1-3.4l1 4.5l1-6l1 6.3l1-9.5l1 10.2l1-5.6l1 7.3l1-4.8l1 5.2l1-3.1l1 4.1l1-3.5l1 9.1l1-10.9l1 5.9l1-4.5l1 4.5l1-4.7l1 4.3l1-4.1l1 8.4l1-9.6l1 4.5l1-2.9l1 7.9l1-7.8l1 5.4l1-4l1 4.9l1-5.8l1 6.4l1-7.4l1 7.2l1-7.8l1 5.5l1-8.9l1 11l1-10.3l1 5.1l1-8l1 11.7l1-8.8l1 5.5l1-6.6l1 9.5l1-4.7l1 3.1l1-2.3l1 2.9l1-4.2l1 6l1-6l1 3.7l1-7.7l1 6.2l1-8.1l1 7.8l1-6.6l1 7.2l1-6.6l1 6.4l1-8.2l1 9.6l1-10.3l1 5.7l1-2.8l1 5.3l1-6.3l1 6.9l1-4.5l1 7.2l1-4.6l1 5.6l1-2.5l1 5.4l1-4.6l1 7.7l1-7.2l1 7.6l1-4.2l1 6.1l1-8.4l1 7.6l1-5.7l1 8.8l1-10.8l1 8.2l1-7.6l1 5.2l1.1-6.5l1 7l1-6.1l1 8.2l1-8.5l1 8.6l1-7l1 10l1-9.1l1 8.1l1-7.8l1 8.2l1-8.2l1 8l1-5.3l1 3.8l1-3.3l1 8.1l1-8.5l1 8.7l1-9l1 8.1l1-4.2l1 6.7l1-5.8l1 3.6l1-5l1 5.1l1-3.9l1 6.4l1-5.4l1 3.6l1-3l1 6.2l1-6.4l1 5l1-5.9l1 8.9l1-10.1l1 10.1l1-5.6l1 4.1l1-2.1l1 8l1-9.4l1 5.2l1-6.2l1 6.4l1-3.3l1 1.6l1-3.3l1 4.8l1-3.9l1 2.3l1-3.9l1 5l1-3.4l1 5.5l1-7.1l1 6.2l1-5.6l1 9.6l1-10l1 8.9l1-6.8l1 4.6l1-3.9l1 5.1l1-5l1 1.9l1-2.2l1 2.6l1-6.5l1 8.1l1-7.2l1 6l1-4.6l1 4.4l1-9.3l1 8.9l1-2.5l1 6.2l1-6.7l1 7l1-7.3l1 3.6l1-8l1 8.6l1-6.3l1 5.6l1-7.5l1 10.2l1-8.7l1 9.1l1-6.1l1 5.2l1-7l1 5.8l1-6l1 10.8l1-9.6l1 7.2l1-7.8l1 6.5l1-6l1 6.5l1-5.6l1 10.5l1-10.1l1 5.8l1-5.3l1 5l1-7.8l1 8.7l1-7.9l1 6.3l1-4l1 2l1-6.6l1 7.3l1-5.2l1 6.9l1-5.1l1 3l1-2.2l1 6.3l1-4.8l1 2.9l1-4.5l1 5.1l1-7.5l1 6l1-6.5l1 7l1-4l1 4.5l1-11.4l1 10.3l1-6.3l1 9.4l1-9.1l1 4.7l1-5.5l1 6.8l1-6l1 4.8l1-5.7l1 8.7l1-9.1l1 3l1-4.7l1 7l1-10l1 5.7l1-2.5l1 5l1-4.3l1 2.8l1-8.7l1 9.5l1-4.5l1 2.1l1-8.2l1 5.1l1-3.6l1 3.9l1-4.7l1 3.8l1-7.1l1 9.4l1-4.7l1 9.2l1-10l1 5.9l1-4.9l1 12.5l1-8.5l1 5.3l1-3.1l1 8.4l1-10.7l1 7.8l1-5.3l1 7.4l1-5l1 4.5l1-4.7l1 5.6l1-5l1 3.8l1-4.3l1 5l1-5.5l1 7.6l1-3.2l1 3.3l1-3.1l1 3.7l1-3.9l1 3.9l1-6.8l1 4.9l1-2l1 7l1-8.8l1 11.5l1-9.7l1 6.3l1-2.4l1 3.5l1-7.1l1 10.7l1-7.2l1 6.3l1-8.8l1 7.4l1-9.3l1 6.6l1-6.7l1 7.9l1-6.9l1 4.9l1-4.8l1 6.4l1-4l1 3.4l1-5.8l1 4.7l1-2.5l1 5.1l1-3.8l1 6.3l1-8l1 7.1l1-5.4l1 6.1l1-6.2l1 8.6l1-7.8l1 4.2l1-5.3l1 6l1-9.4l1.1 8l1-4.8l1 4.6l1-5.6l1 6.6l1-6.5l1 6.8l1-5.2l1 5.6l1-7.8l1 6.9l1-6.5l1 6.1l1-5.3l1 5l1-7l1 6.5l1-4.2l1 7.3l1-6l1 3.4l1-1.9l1 6.7l1-7.1l1 2.9l1-2.5l1 3.2l1-3.4l1 1.5l1-4.3l1 4.6l1-7.5l1 9l1-6.8l1 5.7l1-4.6l1 5.1l1-4.2l1 3.3l1-9l1 9.3l1-6.2l1 5.8l1-7.9l1 4.8l1-3.6l1 5l1-5.4l1 8.9l1-6.3l1 2.8l1-3.7l1 5.9l1-3.3l1 7.3l1-10.8l1 6.6l1-7.9l1 7.3l1-2.5l1 4.7l1-4.7l1 6.4l1-5.3l1 6l1-5.3l1 5.6l1-5.2l1 3.5l1-6.4l1 5l1-2.6l1 2.4l1-6.1l1 5.6l1-5l1 9.2l1-8.4l1 8.5l1-8.6l1 7.1l1-3.2l1 5.4l1-7.2l1 3.6l1-6.3l1 7.5l1-6.8l1 5.2l1-5.8l1 4.7l1-3.1l1 7.9l1-5.2l1 6.1l1-4.6l1 4.3l1-6.4l1 6.3l1-8.2l1 7.3l1-5.8l1 6l1-3.3l1 2.1l1-4.1l1 8.1l1-8.4l1 5.9l1-3.5l1 1.7l1-2.9l1 1.3l1-7.4l1 8.1l1-4.9l1 4.6l1-3.2l1 6.3l1-7.3l1 5.4l1-3.6l1 3.3l1-4.1l1 9.1l1-6.6l1 5.4l1-6.9l1 9.5l1-7.4l1 7l1-5.8l1 4.6l1-2.8l1 7.1l1-7.5l1 3.3l1-5.5l1 8.4l1-6.2l1 1.9l1-2.9l1 6l1-6l1 3.2l1-4.4l1 3.7l1-1.1l1 2.3l1-5.1l1 6.9l1-7.7l1 7.4l1-6.6l1 4.1l1-3.3l1 4l1-3.9l1 4.5l1-2.8l1 3.4l1-3.3l1 5.7l1-4.3l1 1.3l1-3l1 2.9l1-7.1l1 6.3l1-3.3l1 5.3l1-4.4l1 7.8l1-7.5l1 8.1l1-8.8l1 5.1l1-2.3l1 5l1-7l1 6.6l1-5.1l1 3.9l1-3.9l1 3.8l1-3.1l1 2.3l1-3.7l1 3.6l1-4.6l1 6.3l1-4l1 2.6l1-2.1l1 2.7l1-4.1l1 4.1l1-7l1 4.6l1-3.3l1 3.2l1-5.1l1 7.2l1-3.8l1 2.7l1-5l1 4.4l1-3.8l1 6.6l1-5.8l1 2.7l1-3l1 3.2l1-6.4l1 7.7l1-4.7l1 5.5l1-7.3l1 5.5l1-3.4l1 2.7l1-3l1 4l1-5.9l1 5.8l1-4.2l1 4.4l1-7.1l1 5.3l1-2.9l1 4.2l1-4.7l1 3.1l1-2.4l1 2.6l1-4.7l1 5.6l1-4.3l1 2.8l1-2.9l1 4.4l1-7.1l1 7.7l1-7.4l1 6.4l1.1-2.1l1 2.9l1-4.5l1 3.9l1-7.6l1 6.1l1-3.2l1 1.8l1-3l1 3.6l1-3.6l1 3.1l1-6.5l1 5.4l1-3.8l1 5.2l1-3.9l1 3.9l1-5.3l1 6.9l1-4.3l1 4.5l1-4.8l1 2.8l1-4.7l1 6l1-8.1l1 4.1l1-2.9l1 2.7l1-3.1l1 2.5l1-3.5l1 2.1l1-3.1l1 4.6l1-3.2l1 1.9l1-2.7l1 2.8l1-1.8l1 1.4l1-2.2l1 3.3l1-4.7l1 9.9l1-7.7l1 7.4l1-4.1l1 3.1l1-3.5l1 6.6l1-5l1 2.7l1-3.5l1 3.7l1-4.9l1 3.7l1-3.7l1 3.6l1-1.9l1 4.7l1-4l1 4.3l1-5.7l1 5.4l1-2.1l1 3.9l1-5.5l1 2.9l1-1.2l1 2.6l1-4.9l1 5.1l1-3.4l1 3.1l1-1.6l1 1.4l1-3l1 3.9l1-5.3l1 6.3l1-5.4l1 4.7l1-3.5l1 5.6l1-5.5l1 5.3l1-4l1 2.4l1-5.6l1 5.8l1-3.8l1 2l1-3.1l1 3l1-3.2l1 4.3l1-1.9l1 3.8l1-3.7l1 4.3l1-4.2l1 4.3l1-5.9l1 5.4l1-5.2l1 4.9l1-2.5l1 3.4l1-4.2l1 4.1l1-3.5l1 4.6l1-6.1l1 4.4l1-4l1 2.8l1-4.1l1 4.8l1-5.9l1 4.4"/>
<path stroke="#FF8040" stroke-width="3.60" d="M15.3 1343.8l1 6.2l1-6.4l1 6.1l1-6.2l1 6.3l1-6.2l1 6.1l1-6l1 6l1-6l1 6l1-5.9l1 6l1-6.1l1 6.1l1-6.1l1 5.9l1-5.8l1 6.1l1-6.2l1 6l1-6l1 5.9l1-5.9l1 5.9l1-5.9l1 6l1-5.9l1 5.9l1-5.9l1 6.1l1-6.1l1 6l1-6.1l1 6.1l1-6.1l1 6.2l1-6.3l1 6.1l1-6l1 6l1-6.2l1 6.3l1-6.3l1 6.1l1-6l1 6l1-5.8l1 6l1-6.1l1 6l1-6.1l1 6l1-6l1 6l1-6.2l1 6.1l1-6.2l1 6.2l1-6l1 6.1l1-6.1l1 6.2l1-6.2l1 6.2l1-6.2l1 6.4l1-6.5l1 6.2l1-6.1l1 6.2l1-6l1 6.1l1-6.2l1 6.2l1-6l1 6.3l1-6.5l1 6.2l1-6.1l1 6.2l1-6.2l1 6l1-6.1l1 6.2l1-6.2l1 6l1-6.1l1 6.1l1-6.2l1 6.4l1-6.3l1 6.2l1-6l1 6l1-6l1 6.4l1-6.5l1 6.2l1-6.2l1 6.1l1-6l1 6.3l1-6.4l1 6.1l1-6.1l1 6.2l1-6.1l1 6.2l1-6.3l1 6.3l1-6.3l1 6.1l1-6.4l1 6.3l1-6.1l1 6.1l1-6.2l1 6.1l1-6.1l1 6.1l1-6.2l1 6.1l1-6l1 6.2l1-6.2l1 5.9l1-6.3l1 6.4l1-6.3l1 6.1l1-6.1l1 6l1-6l1 6l1-6.2l1 6.2l1-6.1l1 6.1l1-6.2l1 6l1-6.4l1 6.2l1-6.3l1 0.3l1 5.8l1-5l1 2.4l1-7.2l1 8.1l1-6l1 6.1l1-6.5l1 4.7l1-8.7l1 8.5l1-7.1l1 7.8l1-5.8l1 9.4l1-8l1 5.7l1-7.4l1 9.1l1-5.5l1 7.1l1-10.6l1 7.9l1-7.2l1 5l1-3.7l1 3.5l1-8.1l1 8l1-4.6l1 6.3l1-8.9l1 5.9l1-7.2l1 8.9l1-9.3l1 7.4l1-9.1l1 8.2l1-4.6l1 4.4l1-6.6l1 3.7l1-6.4l1 6.5l1-6.1l1 5.5l1-6.8l1 6.8l1-6.7l1 4l1-7.8l1 12.2l1-13.1l1 10l1-6.9l1 5.4l1-8.9l1 3.9l1-5.2l1 7.1l1-11l1 6.5l1-7.7l1 3.2l1-7.2l1 5.4l1-7.5l1 1.6l1-9.1l1-2.8l1-9.5l1-4.5l1-12.7l1.1-6.9l1-13.4l1-11.7l1-11.8l1-3l1-2.8l1 4.6l1-0.4l1 4l1-4.8l1-1.9l1-8.8l1-5l1-10.9l1-7.8l1-11.7l1-8.3l1-12.7l1-5.7l1-8.7l1 1.3l1 2.3l1 10.8l1 8.5l1 15l1 11.6l1 16.6l1 9.8l1 11.6l1 3.7l1 8.4l1 2.7l1 7l1 4.5l1 6.1l1 2l1 5l1 0.7l1 6.9l1-0.7l1 6.8l1-4l1 9.7l1-5.4l1 11l1-3.3l1 7l1-4.5l1 8.8l1-5.3l1 8.3l1-4.8l1 6.6l1-2.4l1 7.1l1-6.3l1 13.7l1-9.9l1 12.4l1-6.8l1 8.2l1-6.4l1 4.6l1-3.5l1 5.7l1-5.2l1 6.5l1-2.8l1 5.7l1-11.6l1 9l1-3.9l1 10.3l1-7.7l1 5.7l1-6.4l1 3.7l1-7.5l1 3.2l1 0l1 6.4l1-3.9l1 4.5l1-4.6l1 8.5l1-9.7l1 9.1l1-4.1l1 5.1l1-7.6l1 5.7l1-6.1l1 6.9l1-5.6l1 3.8l1-6.2l1 5.2l1-4.5l1 3.4l1-10.6l1-8.9l1 9.4l1 11.6l1-3.6l1 3.9l1-4l1 4.5l1-4.9l1 4.1l1-3.4l1 4.2l1-5.7l1 5.1l1-4.1l1 3.5l1-5.3l1 5l1-8.5l1 7.7l1-3.3l1 3.8l1-5.1l1 6.5l1-6.4l1 6l1-4.8l1 7.5l1-4.4l1 6l1-4.5l1 9.1l1-12l1 8.1l1-4.4l1 7.5l1-9.8l1 9.2l1-9.7l1 11.1l1-9.5l1 6.5l1-10.6l1 8.2l1-5.4l1 10.5l1-10.1l1 7.8l1-5.5l1 4.7l1-8.7l1 8.5l1-5.4l1 4l1-6.2l1 7.7l1-5.8l1 5.3l1-3.5l1 1.3l1-8.2l1 8.9l1-3.8l1 5.8l1-5.2l1 5.1l1-2.7l1 4.9l1-5.4l1 2.1l1-2.3l1 3l1-3.6l1 6.3l1-4.1l1 5.4l1-9l1 12.6l1-8.1l1 7l1-5.7l1 6.7l1-4.6l1 5.2l1-4.9l1 8.8l1-6.8l1 5.2l1-4.9l1 3.8l1-2.4l1 4.5l1-5.8l1 6.2l1-6.9l1 10.6l1-6.9l1 4.4l1-2l1 6.6l1-8l1 4.1l1-5l1 6l1-3.3l1 3.3l1-3.2l1 5.9l1-9.9l1 9.5l1-3l1 5.9l1-7l1 4.7l1-5.6l1 10.1l1-11.9l1 7.7l1-10.3l1 5.5l1-3.1l1 1.5l1-4.3l1 8.7l1-9.9l1 5.1l1-6.7l1 7.4l1-7.4l1 2.3l1-9.2l1 5.1l1-7.9l1 2.1l1-9.5l1 2.1l1-10.3l1 4.6l1-11.9l1 1.6l1-3.7l1 6.4l1 1.4l1 14.1l1-4.4l1.1 7l1-3.2l1 10.2l1-6.7l1 7.9l1-3.2l1 8.8l1-6.3l1 4.6l1-2.8l1 9.3l1-8.8l1 7l1-6.7l1 6.2l1-3.9l1 2.9l1-3.6l1 5.8l1-6.1l1 8l1-3.6l1 4l1-6.2l1 6.9l1-2.7l1 2.6l1-4.1l1 5.5l1-1.7l1 7.4l1-7.4l1 7.5l1-11.5l1 8.7l1-5.9l1 6.7l1-6.6l1 11.8l1-6.2l1 4.5l1-3.9l1 8.3l1-6.9l1 6.5l1-5.9l1 6.1l1-7.8l1 7.3l1-3.5l1 4.6l1-2.7l1 3.5l1-8.5l1 10.7l1-5.5l1 2.5l1-3.5l1 6.8l1-7.5l1 5.4l1-3.2l1 4.6l1-6l1 8.1l1-5.8l1 6.1l1-5.1l1 6.5l1-4.6l1 5.4l1-6.2l1 4.5l1-5.1l1 5.2l1-4.6l1 7.5l1-9.8l1 7.7l1-3.6l1 6.1l1-6.5l1 3.3l1-1.6l1 6.3l1-6.6l1 6.2l1-7.7l1 4.4l1-4l1 4.9l1-6.4l1 5.2l1-6l1 5.4l1-5.5l1 6.1l1-6.3l1 6.1l1-6l1 7.8l1-7l1 9.4l1-6.4l1 3.8l1-6.6l1 6.2l1-5.2l1 4.9l1-7.1l1 5.9l1-5.7l1 3.2l1-5.1l1 2.8l1-6.1l1 7l1-4l1 3l1-3l1 3.7l1-3.4l1 5.8l1-4.5l1 4.9l1-4.8l1 6.4l1-3.3l1 2.6l1-1.9l1 9.1l1-10.3l1 9.7l1-8l1 11l1-10.1l1 6.8l1-5.1l1 7.9l1-5.5l1 4.2l1-2l1 2.2l1-4.4l1 6.3l1-7l1 6.7l1-4.5l1 5.8l1-7.3l1 9.6l1-6.5l1 3.7l1-2.9l1 1.9l1-5.4l1 4.9l1-3.3l1 2.3l1-3.1l1 5.2l1-5.5l1 10.1l1-8.1l1 7.6l1-4.8l1 4.8l1-3.9l1 4.3l1-5.6l1 3.7l1-3.2l1 5.3l1-5.3l1 7.2l1-5.4l1 4.9l1-5.2l1 8l1-7.6l1 6.2l1-4.1l1 6.1l1-10.2l1 8.4l1-5.7l1 6.9l1-10.1l1 9.9l1-6.2l1 5.1l1-3.5l1 4.3l1-4.5l1 6.9l1-3.8l1 2.7l1-4l1 5.5l1-6.2l1 6.3l1-6.8l1 4.1l1-6.3l1 10.3l1-11.7l1 9.9l1-5.7l1 5.9l1-6.5l1 6.9l1-4.4l1 4l1-2l1 4.1l1-6.5l1 5.5l1-8l1 8.3l1-3.1l1 5.1l1-6.1l1 4.5l1-4.8l1 3.5l1-2.8l1 2.8l1-7.1l1 7.6l1-2.8l1 5.8l1-5.9l1 5.6l1-4.8l1 2.9l1-4.2l1 4.5l1-2.9l1 3.8l1-5.1l1 4.1l1-3.2l1 4l1-5.4l1.1 4l1-4.6l1 5.4l1-3.1l1 5l1-4l1 1.9l1-4.9l1 3.2l1-3.9l1 4.2l1-6.1l1 6.4l1-2.5l1 6.3l1-5.3l1 6.7l1-6.3l1 3.7l1-4.1l1 2.6l1-9.1l1 9.1l1-3.2l1 5.9l1-5.4l1 4.9l1-5.4l1 3.9l1-7.6l1 7.5l1-5.3l1 3.4l1-6.9l1 8.9l1-4.6l1 5.9l1-6.8l1 4.7l1-6l1 5.2l1-5.6l1 7.4l1-6.6l1 3.7l1-3.9l1 4l1-4.3l1 4.5l1-4.6l1 4.8l1-7.7l1 7.7l1-6.1l1 6.7l1-7.9l1 7.5l1-11.6l1 8.7l1-7l1 9.6l1-12l1 6.3l1-2.7l1 4l1-5.2l1 1.2l1-4.2l1 4.9l1-6.8l1 8.8l1-8l1 5.6l1-7.4l1 11.9l1-5.8l1 3l1-5.1l1 5.2l1-3.2l1 3.9l1-4.9l1 10.1l1-7.6l1 5.3l1-3.4l1 6.7l1-2.6l1 4.2l1-5.7l1 8.4l1-6.9l1 4.7l1-4.9l1 9.3l1-10.5l1 6.8l1-3.7l1 5.7l1-6l1 5.1l1-4.1l1 3.4l1-8.7l1 6.9l1-4.2l1 4.3l1-5.5l1 9.5l1-8.7l1 6.5l1-2.6l1 4.1l1-8.2l1 8.3l1-5.6l1 3.9l1-3.3l1 4.8l1-8.8l1 10.4l1-6.6l1 11.4l1-6.9l1 3l1-4.1l1 4.2l1-5.9l1 6.8l1-4.9l1 6.6l1-10.1l1 11.6l1-8.3l1 6.5l1-4.1l1 5.3l1-5.3l1 4.5l1-7l1 8.8l1-10.5l1 5.4l1-6.7l1 10.8l1-9.5l1 6.2l1-2.5l1 5l1-5l1 2.7l1-5.2l1 9.7l1-7.2l1 3.1l1-6.7l1 8.7l1-7.5l1 8.4l1-7.2l1 5.2l1-4.1l1 4.9l1-3.6l1 3l1-2.7l1 3.8l1-5.3l1 6.6l1-5.2l1 5.4l1-4.2l1 1.3l1-4.3l1 9.1l1-8.6l1 4.7l1-5.3l1 4.1l1-6.9l1 6.8l1-3.9l1 4.2l1-8.4l1 11.2l1-7.8l1 4.3l1-8.5l1 7.3l1-4.6l1 6.2l1-6.6l1 3.4l1-3.8l1 6.6l1-6l1 3.8l1-5.6l1 5.4l1-4.2l1 6.6l1-7.5l1 5.3l1-3.4l1 3.5l1-6.5l1 8.9l1-3.7l1 3.7l1-3.7l1 7.1l1-5.2l1 3.8l1-4.4l1 8.5l1-10.8l1 7.8l1-7.7l1 5.5l1-2.6l1 4.7l1-7.8l1 8.7l1-5.1l1 5.9l1-4.6l1 2.9l1-4.2l1 3.2l1-2l1 3.3l1-5.1l1 4.9l1-3.3l1 5.9l1-4.9l1 3.2l1-3.8l1 3.7l1-5.2l1 4.3l1-5.8l1 4.8l1-4.9l1.1 9.1l1-10.9l1 7.2l1-2.9l1 3.3l1-3.5l1 6.1l1-4.5l1 4.5l1-5.2l1 5.7l1-4.7l1 5.5l1-7.6l1 6.6l1-6.2l1 3.1l1-4.3l1 3.6l1-4.9l1 6.3l1-6.9l1 12l1-7.5l1 5.7l1-4.6l1 5.6l1-5.3l1 8l1-9.2l1 5.9l1-7.3l1 6.6l1-4.5l1 8l1-7.8l1 3.3l1-3.1l1 6.3l1-9l1 6.1l1-7.6l1 7.6l1-3.3l1 4.3l1-6.2l1 7.6l1-5.7l1 3.8l1-3.9l1 4.3l1-7.4l1 6.8l1-2.9l1 5.7l1-8l1 7.8l1-4.8l1 3.9l1-2.3l1 2.2l1-3.5l1 5.6l1-5.5l1 4.7l1-6.7l1 4.3l1-2l1 4.6l1-4.8l1 6l1-4.9l1 4.5l1-4.4l1 2.8l1-4.6l1 4.8l1-4.8l1 4.8l1-7.6l1 5.4l1-2.1l1 2.6l1-2.5l1 2.6l1-1.3l1 2.5l1-3.2l1 3.8l1-2.1l1 2l1-4.1l1 4.5l1-4.3l1 3.1l1-5l1 4.4l1-5.4l1 6.6l1-3.8l1 1.9l1-2.9l1 4.1l1-4l1 2.7l1-4.8l1 5.6l1-4.9l1 7.6l1-8.8l1 5.5l1-4.2l1 3.3l1-4.1l1 5.1l1-3.6l1 4.8l1-4.3l1 5.3l1-6.9l1 6.4l1-3.5l1 1.9l1-6.2l1 7.2l1-5.3l1 5.9l1-4.9l1 5.1l1-5.7l1 6.9l1-5.8l1 3.7l1-7.6l1 7.8l1-6.6l1 4.9l1-2.2l1 4.9l1-8.4l1 7.4l1-5.6l1 4.1l1-3.3l1 3.7l1-7.2l1 5.7l1-5.2l1 4.5l1-5l1 5.2l1-4.2l1 5.2l1-3.5l1 3.4l1-2.5l1 1.7l1-4l1 4.8l1-5.6l1 4.4l1-2.9l1 1.5l1-4.5l1 7.6l1-4.8l1 4.2l1-6.5l1 5.5l1-4.3l1 4l1-3.3l1 2.3l1-3.5l1 2.2l1-2.8l1 1.7l1-4.3l1 4l1-4l1 3.1l1-3.4l1 4.4l1-4.4l1 1.6l1-2.5l1 5.6l1-6.6l1 4.8l1-3.8l1 5.3l1-4.1l1 4l1-4.1l1 5.6l1-7l1 6.3l1-4l1 4.9l1-1.6l1 1.8l1-2.1l1 6.1l1-5.7l1 3.7l1-3.8l1 4.6l1-1.7l1 3.4l1-5.8l1 4.6l1-3.8l1 5.5l1-4.3l1 3.2l1-3.3l1 3l1-2.4l1 4l1-4l1 3.4l1-2.8l1 4.7l1-5l1 3.6l1-5.7l1 3.9l1-2.3l1 5.7l1-5.3l1 4.5l1-3.9l1 5l1-4.9l1 2.1l1-3.3l1 4.5l1-4.3l1 4l1-4.2l1 3l1-2.5l1 4l1-3.1l1.1 2.5l1-2.1l1 3.1l1-3l1 2.9l1-1.9l1 2.6l1-5l1 5.4l1-3.9l1 1.9l1-2.5l1 2.7l1-1.7l1 3.5l1-5.4l1 7.1l1-5.9l1 3.6l1-3.6l1 2.9l1-2.4l1 4.9l1-6.9l1 5.5"/>
<path stroke="#FFC800" stroke-width="3.60" d="M18.9 1370.7l1 6.3l1-6.1l1 5.9l1-6.2l1 6.3l1-6.2l1 6.1l1-6l1 6l1-6.1l1 6.1l1-6l1 6l1-6.1l1 6.1l1-6.2l1 6.2l1-6.1l1 6l1-6l1 6.1l1-6.3l1 6.2l1-6.1l1 6.1l1-6l1 6.2l1-6.4l1 6.4l1-6.1l1 5.8l1-6.1l1 6.2l1-6.2l1 6.5l1-6.4l1 6.1l1-6.2l1 6.4l1-6.1l1 6l1-6.3l1 6.2l1-6.1l1 6l1-5.9l1 6l1-5.9l1 6l1-6l1 6.1l1-6.2l1 6.2l1-6.1l1 6l1-6l1 6.1l1-6.1l1 6.1l1-6.2l1 6.1l1-6.3l1 6.4l1-6.1l1 6.1l1-6.1l1 5.9l1-6l1 6.1l1-6.1l1 6.1l1-6l1 6l1.1-6.1l1 6.1l1-6.1l1 6.2l1-6.1l1 6.2l1-6.1l1 6l1-5.9l1 6l1-6.1l1 6.1l1-6.4l1 6.2l1-5.9l1 5.9l1-6l1 6l1-5.9l1 6.1l1-6.1l1 6.1l1-6.5l1 6.3l1-6l1 6.1l1-6.4l1 6.6l1-6.2l1 6l1-6.2l1 6.1l1-6.1l1 6l1-6.1l1 6.2l1-6.1l1 6l1-6l1 6l1-6l1 6l1-6l1 5.9l1-6.3l1 6.3l1-6.2l1 6.1l1-6.1l1 6l1-6.1l1 6.1l1-6l1 6.1l1-6.2l1 6l1-6.3l1 6.4l1-6.4l1 6.2l1-6.1l1 6l1-6.1l1 6.2l1-6.5l1 6.2l1-6.2l1 6.2l1-6.3l1 6l1-6.2l1 2.5l1-5.1l1 8.4l1-8.6l1 8.7l1-8l1 8.7l1-8.7l1 8.8l1-6.4l1 5.1l1-5.4l1 6.6l1-4.7l1 7.1l1-6.3l1 6.2l1-7.8l1 2.8l1-5.7l1 8.8l1-5.2l1 2.6l1-3.1l1 3.7l1-5.3l1 1.8l1-1.8l1 2l1-4l1 7.5l1-7.5l1 6.3l1-7l1 6.9l1-5.8l1 3.4l1-7.9l1 5.3l1-6.8l1 9.9l1-9.1l1 8.8l1-9.9l1 7.7l1-7.4l1 8.6l1-11.3l1 5.4l1-8.7l1 9.1l1-7.1l1 6.1l1-5.7l1 5.2l1-8.1l1 8l1-8l1 4.8l1-9.2l1 7.6l1-10l1 8.3l1-6.8l1 2.4l1-7.7l1 5l1-6.8l1 2.2l1-11l1 1.2l1-13.3l1 2.7l1-13.6l1-6.1l1-13.9l1-9.1l1-15.1l1-4.8l1-3.1l1 4l1-0.5l1 4l1-3l1-1.4l1-7.2l1-5.3l1-9.7l1-7.7l1-11.8l1-8.2l1-11.5l1-6.6l1-8.6l1-0.3l1 0.4l1 10.4l1 8.4l1 13l1 11.1l1 15.2l1 10.9l1 13.2l1 4.4l1 7l1 2.7l1 7.8l1 2.3l1 8l1 0.9l1 4.8l1 1.8l1 3.8l1 0.1l1 7.6l1-1.2l1 6.1l1-3l1 6.1l1-2.3l1 6.8l1-2.2l1 9.3l1-3.1l1 8.4l1-1.9l1 8.2l1-6.4l1 8.9l1-10.6l1 10.2l1-1l1 8l1-8.2l1 9.7l1-7l1 7.3l1-7.4l1 4.8l1-8l1 9.6l1-4.5l1 4l1-2.1l1 7.5l1-7.9l1 7.6l1-10.1l1 8.2l1-8.9l1 11.3l1-9.3l1 5.3l1-27.7l1 27.5l1-5.4l1 10l1-8.8l1 7.6l1-6l1 7.3l1-6.5l1 8.9l1-11.1l1 8l1-6.3l1 9.4l1-8.3l1 8.1l1-4.2l1 5.6l1-5.3l1 4.3l1.1-8.2l1-2.3l1-26.5l1 28.8l1-2.2l1 7.5l1-3.1l1 4l1-4.2l1 3.4l1-2.4l1 5.9l1-6l1 4l1-5.3l1 3.9l1-3.1l1 3.3l1-5.2l1 5.2l1-3.6l1 5.4l1-7.7l1 9.1l1-10.8l1 13.3l1-7l1 3.5l1-2.7l1 5l1-5.8l1 5.5l1-5.6l1 7.9l1-6.4l1 3.3l1-5.9l1 9l1-6.9l1 2.7l1-6.3l1 8.8l1-6.7l1 4.8l1-9.3l1 12l1-5.2l1 4l1-3.8l1 7.5l1-11.3l1 9.2l1-8.7l1 8.7l1-7.9l1 8.2l1-8l1 9.1l1-9.1l1 5.4l1-7.3l1 5.4l1-1.9l1 5.9l1-6.1l1 5l1-3.1l1 3.6l1-5l1 5.1l1-8.4l1 10.9l1-4.6l1 3.5l1-3.9l1 6.1l1-3.8l1 8.4l1-11.6l1 6.9l1-4.7l1 3.5l1-5.1l1 6.1l1-5.1l1 7.4l1-7.5l1 6.1l1-6.5l1 9.1l1-8.5l1 11.3l1-4.7l1 5.6l1-6.3l1 8.1l1-1.6l1 6.6l1-9.4l1 8.8l1-8.3l1 8.4l1-9.4l1 2.6l1-4.4l1 7.1l1-3.8l1 4.8l1-4.7l1 4.7l1-6.1l1 9.3l1-8.1l1 5.2l1-3.2l1 6l1-6.9l1 4.7l1-5.8l1 5.5l1-6.3l1 5.6l1-9.2l1 5.9l1-9.1l1 11.4l1-9.4l1 3.9l1-3.9l1 2.4l1-11.1l1 7.2l1-5.7l1 3.4l1-7l1 8l1-13.8l1 0.5l1-7.5l1-4.2l1-10.8l1 1.6l1-1.9l1 10.5l1 2.2l1 11.5l1-1.9l1 6.2l1-4l1 8.9l1-2.4l1 10.1l1-7.9l1 5.5l1-7l1 11.3l1-8.2l1 9.9l1-6.6l1 5.5l1-5.4l1 11.5l1-9.2l1 9.2l1-9.1l1 7.4l1-5.9l1 8.5l1-6.5l1 6.7l1-5.4l1 4.6l1-3.8l1 6l1-4.1l1 4l1-3.2l1 5.9l1-3.6l1 6l1-2.3l1 4.2l1-6l1 4.8l1-3.9l1 4.8l1-6.1l1 7l1-5.6l1 5.5l1-4.8l1 8.5l1-9.2l1 6.9l1-7.1l1 7.5l1-3.7l1 4.8l1-8.6l1 7.4l1-3.5l1 6.8l1-10.4l1 8.4l1-0.8l1 4.4l1-3.3l1 4.4l1-7l1 10.1l1-4.9l1 3.8l1-4.4l1 3.3l1-4.7l1 5l1-4.4l1 6.5l1-5.3l1 4.2l1-4.1l1 4.5l1-5l1 7.4l1-8l1 6.5l1-5l1 3.5l1-6.2l1 8.8l1-5.5l1 4.2l1-3.4l1 4l1-5.5l1 8.2l1-10.3l1 5.2l1-3.9l1 4.5l1-7l1 8.1l1-4.9l1 3.4l1.1-7.9l1 10.2l1-7l1 9.1l1-9.3l1 5.4l1-8.2l1 7.7l1-6.3l1 7.8l1-8.9l1 7l1-7.1l1 7.5l1-6.9l1 5.9l1-5.9l1 5.2l1-6.8l1 6.9l1-5.1l1 8.4l1-8.9l1 5.8l1-5l1 6.8l1-8l1 9.4l1-5.8l1 4.8l1-5.5l1 6.3l1-7.8l1 8.7l1-4.5l1 6.6l1-5.1l1 6.5l1-4.8l1 3.8l1-4.2l1 11.3l1-11.8l1 10.7l1-5.5l1 3.7l1-5l1 7.2l1-5.6l1 5l1-7l1 6.8l1-9.3l1 9.2l1-5.4l1 8l1-6.8l1 8.7l1-4.3l1 2.2l1-4.2l1 6.5l1-6.5l1 6.6l1-7l1 3.4l1-3.2l1 3.7l1-3.1l1 6.5l1-7.4l1 5.4l1-6.3l1 7.8l1-5.4l1 7.2l1-6.9l1 5.6l1-7.9l1 11.5l1-9.5l1 7.8l1-3.6l1 4.1l1-6.3l1 10.7l1-7.5l1 5.4l1-5.8l1 5.7l1-7.7l1 8l1-6.1l1 3.4l1-5l1 5l1-2.3l1 4.2l1-2.4l1 7.7l1-7l1 4.3l1-4.5l1 4.6l1-4.5l1 3.6l1-5l1 10.3l1-9.9l1 6.6l1-4.7l1 4l1-4.3l1 3.3l1-3.6l1 2.2l1-5.5l1 7.8l1-5.9l1 5.4l1-4.5l1 4.4l1-4.4l1 6.3l1-7.7l1 7l1-5l1 7.7l1-5.7l1 4.8l1-6.8l1 7.8l1-7.9l1 4.8l1-7l1 7l1-5l1 6.6l1-9.5l1 9.4l1-7.9l1 5.9l1-3.6l1 7.1l1-5.2l1 3.8l1-5.9l1 6.8l1-5.6l1 3.8l1-5.3l1 8.8l1-10.4l1 6.6l1-1.8l1 3.7l1-3.6l1 4.5l1-4.6l1 7l1-7l1 7.6l1-8.7l1 4.5l1-9.2l1 8.4l1-6.1l1 4.6l1-8.6l1 10.8l1-8.3l1 6.8l1-4.6l1 5.5l1-4.2l1 3.6l1-3.8l1 3.7l1-3.2l1 8.5l1-10.4l1 5l1-4.5l1 5.4l1-4.6l1 2.6l1-4.6l1 3.9l1-6l1 7.5l1-4.4l1 6.3l1-9l1 6.4l1-3.2l1 2.5l1-5.8l1 7.9l1-8.2l1 8.3l1-9l1 5.6l1-4.1l1 2.8l1-3.6l1 6.9l1-9.5l1 8.4l1-9.1l1 5.9l1-11.1l1 7.8l1-4.2l1 4.2l1-6.7l1 8.4l1-9.3l1 7.4l1-4.6l1 4.7l1-8.1l1 8.9l1-3.9l1 4.8l1-3.6l1 6l1-3.9l1 9.7l1-9.6l1 5.3l1-3.3l1 7.1l1-7.4l1 5.6l1-3.2l1 4.5l1-6.4l1 7.9l1-8.8l1 7.6l1-4.9l1 5.4l1-4.6l1 4.1l1.1-2.4l1 5.5l1-5.3l1 4.9l1-6.4l1 6.7l1-6.7l1 6.4l1-5.2l1 10l1-7.7l1 6.9l1-7.9l1 7.5l1-4.7l1 2.6l1-4.4l1 6l1-7.6l1 6.6l1-4.9l1 7.2l1-5.9l1 6.7l1-7.5l1 5.2l1-3.8l1 6.1l1-9l1 7.7l1-5.7l1 4.3l1-5.8l1 6.2l1-3.5l1 3.9l1-3.8l1 5.6l1-7.2l1 7.9l1-8.5l1 6.4l1-7.5l1 7.4l1-6.5l1 7.8l1-7l1 6.2l1-6.7l1 5.8l1-3.6l1 6.5l1-5.7l1 3.8l1-8.2l1 8.4l1-2.7l1 3.5l1-6.4l1 5.9l1-5.2l1 6.8l1-7.2l1 5.3l1-3.5l1 4.2l1-3.7l1 4.7l1-2.7l1 6.8l1-5.9l1 7.5l1-10.6l1 9.6l1-8.3l1 4.7l1-8.2l1 4.9l1-5.5l1 6.2l1-5.6l1 2.9l1-4.6l1 8l1-5.8l1 3.5l1-7.1l1 7.8l1-8.2l1 5.9l1-5.4l1 6.5l1-5.5l1 5.1l1-5.4l1 4.4l1-2.6l1 4.7l1-9.9l1 7.2l1-4l1 6.7l1-4.6l1 2.5l1-3.9l1 4.7l1-2.9l1 4.6l1-6.8l1 6.7l1-1.8l1 5.3l1-4.7l1 2.8l1-2.8l1 5.4l1-7.2l1 7.5l1-6.3l1 3l1-3.2l1 5.1l1-4.8l1 2.3l1-6.4l1 6.7l1-9.6l1 9.2l1-5.3l1 4.6l1-2.5l1 3.8l1-4.2l1 5.8l1-3.3l1 4.9l1-6l1 7.9l1-8.8l1 7.5l1-6.2l1 3.6l1-5.4l1 4.2l1-3.3l1 4.6l1-5l1 5.2l1-4.9l1 6l1-7.4l1 6.9l1-5.8l1 6.9l1-4.1l1 6.9l1-6l1 5.4l1-4.4l1 2.9l1-4.7l1 5.4l1-6.3l1 5.4l1-5.6l1 5.2l1-4.3l1 6l1-3.9l1 3.6l1-3.3l1 3.6l1-5.4l1 4.7l1-2.9l1 3.9l1-2l1 2.7l1-4.2l1 4.9l1-5.3l1 3.8l1-4.2l1 4.5l1-5.7l1 8l1-4.7l1 3.3l1-3.2l1 8.9l1-8.8l1 3.9l1-2.6l1 3.9l1-4.4l1 4.1l1-4.8l1 6.1l1-7.8l1 4.9l1-3.4l1 5.9l1-5.1l1 2.9l1-3.3l1 2.3l1-3.9l1 2.9l1-2.1l1 3.9l1-3.4l1 6.4l1-7.1l1 6.7l1-3.1l1 3l1-6.5l1 5.3l1-3l1 2.7l1-2l1 3.9l1-4.9l1 4.1l1-4.6l1 6.4l1-6.5l1 3.4l1-6.6l1 4.5l1-2.6l1 6.7l1-7l1 5.4l1-3.8l1 3.8l1-3.5l1 3.4l1-2.5l1 6.4l1-5.6l1 5.4l1-8.1l1 5.1l1.1-6.3l1 4.8l1-3.1l1 2l1-1.9l1 2.7l1-4.4l1 4.7l1-1.8l1 3.4l1-3.8l1 3.6l1-3.7l1 3.2l1-7l1 5.8l1-6.5l1 6.3l1-5l1 7.8l1-6.2l1 3.9l1-6.4l1 6.2l1-5.4l1 5.1l1-3.3l1 5.1l1-5.4l1 5l1-4l1 4l1-2.3l1 2l1-6.7l1 5.3l1-5.5l1 6.4l1-4.2l1 4.8l1-3.8l1 3.5l1-3.1l1 3.8l1-6.5l1 4.3l1-3.2l1 6.3l1-7.5l1 3.8l1-3l1 4.7l1-4.3l1 4.8l1-3.8l1 3.2l1-3.8l1 1.1l1-3.8l1 5.3l1-3.3l1 1.9l1-4.4l1 5.4l1-6l1 4.4l1-3.9l1 4.6l1-3.5l1 4.1l1-4.9l1 3.7l1-3l1 2.5l1-4l1 4.2l1-4.8l1 5.5l1-5l1 3.1l1-4.4l1 4.2l1-2.6l1 4l1-5.8l1 3.3l1-6.2l1 7l1-4l1 2.7l1-2.3l1 3.2l1-1.9l1 5.9l1-7.5l1 4.7l1-5.9l1 6.7l1-5.4l1 4.6l1-3.6l1 5l1-4.4l1 5.4l1-5.7l1 5.2l1-4.2l1 4.5l1-3.6l1 5.4l1-3.3l1 2.8l1-2.7l1 2.8l1-2.6l1 3.7l1-3.5l1 4.3l1-3.4l1 3.9l1-4.1l1 3.7l1-3.9l1 3.7l1-3.3l1 2.9l1-4.3l1 6.9l1-5l1 1.5l1-3.2l1 4.9l1-5.5l1 3.4l1-1.4l1 1.3l1-1.4l1 3.3l1-4.6l1 7l1-5.2l1 3.2l1-3.6l1 1.7l1-1.9l1 1l1-2.6l1 4.9l1-6.2l1 6.7l1-5.8l1 6l1-1.8l1 1.7l1-5.5l1 6.1l1-7.7l1 6.2l1-3.7l1 5.1l1-3.3l1 2.1l1-2.3l1 4.3l1-4.1l1 4.4l1-5l1 2.3l1-4.7l1 7.3l1-4.3"/>
<path stroke="#ECD82A" stroke-width="3.60" d="M22.6 1400.6l1 6.1l1-6.1l1 6l1-6.2l1 6.2l1-6.1l1 6l1-5.9l1 6l1-6.2l1 6.3l1-6.1l1 6l1-6.3l1 6.3l1-5.9l1 5.8l1-5.9l1 6l1-6.1l1 6.2l1-6.2l1 6.1l1-6.1l1 6.1l1-6.3l1 6.1l1-6l1 6l1-6.1l1 6.2l1-5.9l1 6.3l1-6.4l1 6.1l1-6l1 6.2l1-6.2l1 5.9l1-6l1 6.1l1-6l1 6l1-6.2l1 6.1l1-5.9l1 6.2l1-6.1l1 6l1-6l1 5.9l1-6l1 6.1l1-6.2l1 6l1-5.9l1 5.9l1-5.9l1 6l1-6l1 6l1-6.1l1 6.1l1-6.3l1 6.2l1-6.1l1 6.2l1-5.9l1 5.9l1-6l1 6.1l1-6.4l1 6.3l1-6l1 6l1-5.9l1 5.9l1-6l1 6l1-6l1 5.9l1-6l1 6.2l1-6.3l1 6.1l1-6l1 6.4l1-6.4l1 6.2l1-6l1 6l1-6.1l1 6.1l1-6l1 5.9l1-6.2l1 6.2l1-6.1l1 6.1l1-6.3l1 6.1l1-6l1 6l1-6.1l1 6.3l1-6l1 6l1-6l1 6.1l1-6.1l1 6.1l1-6.1l1 6l1-6l1 6l1-6l1 5.9l1-6.3l1 6.2l1-6.1l1 6.2l1-6.1l1 6l1-6.2l1 6.2l1-6.3l1 6.1l1-6.3l1 6.1l1-6l1 6.2l1-6.2l1 5.9l1-6l1 5.9l1-6l1 6l1-6.1l1 6l1-6.1l1 6l1-6.1l1 6l1-6.3l1 6.9l1-6.4l1 3.7l1-8.3l1 10.2l1-5.7l1 3.6l1-5l1 9.4l1-10.8l1 5.9l1-3.1l1 6.8l1-7.2l1 4.4l1-4.3l1 6.8l1-6l1 6.5l1-11l1 5.1l1-7.5l1 8.7l1-2.6l1 5.2l1-6.7l1.1 7.8l1-8.4l1 9.3l1-13.4l1 6.8l1-6.1l1 8.4l1-10l1 10.1l1-9.3l1 6.9l1-4.3l1 2.4l1-4.6l1 6l1-7.2l1 8.8l1-5.8l1 5.4l1-8.2l1 3l1-8.3l1 10.5l1-12.5l1 10.8l1-9.8l1 9.6l1-7.1l1 2.5l1-6.3l1 4.7l1-4.7l1 5.1l1-9.2l1 3.2l1-9.1l1 9.5l1-9.5l1 6.3l1-6.3l1 3.4l1-9.4l1 4.7l1-10l1 0.9l1-10.3l1-1.7l1-10.1l1-6.7l1-12l1-10l1-15.3l1-8.5l1-6.6l1 1.4l1 0.9l1 3.3l1 0l1-1.1l1-6.2l1-4.2l1-8.9l1-7.3l1-11.9l1-8.7l1-11.6l1-8.1l1-9.8l1-3l1-2.5l1 6.8l1 6.3l1 15.1l1 10.4l1 16.4l1 10.9l1 14.3l1 6.8l1 8.9l1 2.8l1 7.6l1 1.6l1 7.8l1 3.7l1 6l1 0.4l1 4.9l1 0.2l1 5.9l1 0.4l1 5.5l1-1.3l1 9.6l1-3l1 5.2l1-3.2l1 7.7l1-2.3l1 8.8l1-5.9l1 6.4l1-3.1l1 6.9l1-3.1l1 11.8l1-5.2l1 5.6l1-5.2l1 7.3l1-7.1l1 9l1-7.9l1 7.9l1-3.9l1 4.5l1-2.8l1 7.6l1-7.2l1 5.7l1-4.1l1 4l1-5.3l1 8l1-6.7l1 4.6l1-5.9l1 6.7l1-13.5l1 17.2l1-10.4l1 10.6l1-7.9l1 7l1-5.3l1 6.1l1-6l1 5.1l1-5.6l1 5.1l1-9l1 10.6l1-3.4l1 2.9l1-5.6l1 8l1-4.9l1 3.7l1-7l1 4.9l1-11.1l1-16.7l1 19.4l1 13.6l1-10.6l1 6.7l1-9.5l1 7.6l1-4l1 3.1l1-5.6l1 6.3l1-3.9l1 3.9l1-4.6l1 5.8l1-8l1 7.6l1-4.7l1 4.5l1-6.1l1 6.7l1-9.1l1 10.1l1-10.2l1 9l1-5.1l1 5.5l1-3.9l1 7.3l1-4.9l1 8.4l1-4.9l1 5.3l1-8.2l1 8.8l1-6.4l1 4.5l1-5.6l1 7.6l1-7.2l1 2.5l1-7.4l1 8.4l1-5.8l1 6.7l1-6l1 4.3l1-4.8l1 4.3l1-7.2l1 8.2l1-7.2l1 7.2l1-5.9l1 5.9l1-4.1l1 5.7l1-5.6l1 4.2l1-6.5l1 6.4l1-6.1l1 9.5l1-10.8l1 8.8l1-4.1l1 8.6l1-12.3l1 8.8l1-4.2l1 7.4l1-7.1l1 9.6l1-7.2l1 3.8l1-5.1l1 6.7l1-8.4l1 8l1-7l1 12.5l1-5.6l1 2.3l1-5.4l1 6.3l1-5.2l1 5.4l1-4.7l1 7.8l1-5.4l1 6.3l1-5.4l1 3.5l1-3.6l1.1 4l1-3.8l1 6.5l1-3.6l1 4.4l1-3.1l1 3l1-6.4l1 10.6l1-8.2l1 3.2l1-3.2l1 3.8l1-9.6l1 9l1-6l1 5.5l1-3.9l1 6l1-6l1 4.4l1-7.1l1 9.3l1-9l1 6.2l1-6.1l1 4.9l1-5.7l1 6.9l1-10.3l1 6.2l1-6.2l1 4.2l1-2.7l1 1.5l1-5.5l1 4.5l1-7.8l1 3.5l1-6.5l1 0.9l1-13.7l1 1.7l1-8.6l1 6.4l1-1.4l1 9.9l1 0.8l1 7.8l1-1.5l1 6.3l1-0.9l1 5.1l1-1.8l1 2.8l1-4.7l1 8.2l1-5.8l1 3.8l1-5.3l1 6.5l1-4.2l1 8.1l1-5.2l1 3.4l1-4.3l1 10.9l1-9.7l1 7.2l1-8.8l1 7.7l1-3.4l1 4.9l1-7.5l1 7.7l1-4.3l1 9.4l1-9.6l1 8.2l1-9.2l1 11.2l1-4l1 4.9l1-4.1l1 4.4l1-2.9l1 6.5l1-9.6l1 8.6l1-9.4l1 10.3l1-11.2l1 9.3l1-3.2l1 6.3l1-6.3l1 5.3l1-3.1l1 3.9l1-2.6l1 5.5l1-6.5l1 6.3l1-9.8l1 7.1l1-5.5l1 6.2l1-6.6l1 7.7l1-5.4l1 5.1l1-6.2l1 9.2l1-5.3l1 8l1-6.6l1 8.4l1-5.6l1 3.1l1-7l1 6.5l1-3.6l1 5.9l1-7.3l1 4.9l1-5l1 9.7l1-5.4l1 5.2l1-8.6l1 6.8l1-5.8l1 7.2l1-4.6l1 5.1l1-8.9l1 5.9l1-3.5l1 8.5l1-9.7l1 4.8l1-6l1 3.8l1-4.6l1 4l1-6.4l1 6.9l1-3.3l1 6.4l1-6.5l1 3.4l1-3.7l1 2.9l1-5.8l1 4.1l1-2.5l1 4.2l1-2.8l1 4.4l1-4.7l1 6.5l1-10.4l1 13.3l1-10.4l1 8l1-7l1 3.2l1-8l1 6l1-6.3l1 3l1-4.3l1 8l1-5.2l1 10.7l1-6.1l1 7.4l1-8l1 10.7l1-4.5l1 4.3l1-4.9l1 6.1l1-5.3l1 4.4l1-3.9l1 8.3l1-9.1l1 5.4l1-2.3l1 2.7l1-5.6l1 9.8l1-7.5l1 4l1-6.5l1 9.4l1-10.1l1 12.8l1-9.1l1 6.8l1-8.5l1 9.4l1-5.6l1 6l1-9.4l1 10.8l1-8.8l1 4.9l1-5.6l1 7.8l1-5.9l1 9.8l1-7.5l1 4.1l1-5.7l1 9.7l1-5.7l1 4.8l1-3l1 5.3l1-5.2l1 3.2l1-2.5l1 5.5l1-5l1 3.1l1-5.3l1 4.9l1-3.1l1 8.2l1-8.9l1 3.7l1-6.4l1 7.9l1-4l1 3.6l1-5.5l1 6.1l1-3.3l1 5.5l1-4.7l1 5.2l1-7.7l1.1 6.6l1-6.2l1 4.5l1-3.6l1 5.4l1-5l1 7.4l1-6l1 5.7l1-7.8l1 7.5l1-7.5l1 9.4l1-9.3l1 8.7l1-4.7l1 3.2l1-4l1 5.2l1-6.9l1 5.9l1-4.4l1 3.5l1-4.7l1 8.4l1-9l1 10.6l1-7.6l1 3.1l1-4.9l1 4.8l1-4.5l1 4.8l1-6.4l1 6.8l1-4.1l1 4.6l1-4.5l1 5.5l1-7.1l1 9.8l1-11.8l1 8.3l1-3.5l1 4.1l1-5.7l1 4.9l1-7.2l1 6.8l1-5.7l1 7.4l1-6.4l1 4.1l1-2l1 2.8l1-2.9l1 5.3l1-6.1l1 4l1-2.4l1 3.9l1-6l1 4.2l1-3.8l1 4.6l1-5l1 5.8l1-4.3l1 3.4l1-1.6l1 4.1l1-4.9l1 2l1-4.6l1 5.4l1-5.8l1 3.8l1-4.5l1 9.8l1-8.8l1 5.5l1-5.3l1 4.9l1-5l1 7.6l1-5.4l1 1.3l1-3.5l1 4.4l1-3.3l1 3.3l1-4.8l1 9.4l1-9.5l1 4.1l1-4.6l1 7.2l1-7.1l1 6l1-6.1l1 5.8l1-6.5l1 5.2l1-4.3l1 4.5l1-5.5l1 4.1l1-6.2l1 3.1l1-4.1l1 3.6l1-4.3l1 8.2l1-11.2l1 11.1l1-10.7l1 5.2l1-9.9l1 7.8l1-4l1 3.7l1-5.4l1 6.7l1-5.8l1 8.5l1-8l1 14l1-7.5l1 7.6l1-11.8l1 9.8l1-7.5l1 7.1l1-6.2l1 6.1l1-5l1 5.9l1-5.4l1 6.4l1-3.2l1 2.6l1-5.8l1 6.8l1-5.2l1 3.9l1-2.4l1 5.3l1-4.6l1 5.3l1-4.6l1 6.2l1-4.8l1 5l1-10l1 8.6l1-8.4l1 8.2l1-6.6l1 6l1-5.1l1 5.7l1-3.3l1 9.3l1-8.2l1 6.7l1-9.8l1 10.2l1-6.7l1 8.5l1-5l1 3.6l1-2.8l1 7.2l1-8.4l1 4.8l1-5.2l1 6.5l1-7.1l1 6.4l1-5.7l1 4.7l1-5.1l1 7l1-7.7l1 3.5l1-7.6l1 9.2l1-8.7l1 9.7l1-8.4l1 9.7l1-6.2l1 4.2l1-3.9l1 1.9l1-1.7l1 2.2l1-7.5l1 6.2l1-2l1 2.6l1-4l1 5.6l1-5l1 7.5l1-7.6l1 3.1l1-2.9l1 4.9l1-4.1l1 6.2l1-3.7l1 2.9l1-2.4l1 5l1-6.6l1 3.2l1-3.8l1 3.2l1-3.8l1 5.1l1-8.4l1 8l1-4.8l1 8.4l1-6.3l1 4l1-5.3l1 5.7l1-7.2l1 6.9l1-9.7l1 6.3l1-3.8l1 1.6l1-5.9l1 4.8l1-3.5l1 5.3l1-6.7l1 4.7l1-5.6l1 6.2l1-2.4l1.1 5.5l1-7l1 7.2l1-4.1l1 5.6l1-5.4l1 3.5l1-4.2l1 7.3l1-5.6l1 5.6l1-6.8l1 4l1-5.3l1 4.8l1-6.9l1 10.7l1-5.7l1 3.8l1-4.6l1 4l1-4l1 5.9l1-6l1 8.2l1-6.5l1 4.4l1-5.8l1 4.9l1-3.2l1 4.9l1-3.8l1 6.3l1-4.8l1 8.1l1-8.5l1 3.8l1-3.2l1 4.8l1-6.1l1 4.6l1-4.7l1 5.4l1-5l1 6.5l1-5.3l1 5.8l1-4.9l1 3.2l1-7.2l1 8.8l1-4.9l1 5.5l1-7.5l1 4.5l1-6.9l1 6.4l1-1.2l1 2.2l1-5.9l1 8.9l1-7.4l1 2.9l1-2.9l1 2.1l1-2.5l1 6.7l1-8.1l1 5.2l1-3.1l1 5.4l1-4.5l1 3.8l1-4.4l1 6.5l1-4.6l1 6.1l1-7.3l1 5.4l1-2.8l1 3.1l1-6.6l1 6.4l1-4.7l1 3.1l1-2.8l1 5.8l1-4.5l1 5l1-6.1l1 9.2l1-7.4l1 3.3l1-2.9l1 1.6l1-5.7l1 6.1l1-2.8l1 3.7l1-6.4l1 3.9l1-3.9l1 5.9l1-4.6l1 3.4l1-5.6l1 6.4l1-2.8l1 4.7l1-4.5l1 4.3l1-4.4l1 4.8l1-3.4l1 3.7l1-4.7l1 4.3l1-2.2l1 3l1-5.4l1 4.8l1-4.1l1 5.2l1-3.9l1 2.1l1-3.9l1 3.9l1-5.4l1 10.7l1-7.4l1 4.4l1-7.7l1 7.7l1-6.6l1 5.3l1-4.4l1 3.9l1-4.1l1 1.5l1-3.8l1 6l1-2.4l1 1.7l1-3.6l1 5.4l1-2.1l1 3.8l1-3.1l1 3l1-3.1l1 1.7l1-5.7l1 6l1-5.2l1 6.7l1-7.5l1 7.2l1-6.7l1 5.7l1-5.1l1 3.5l1-8.2l1 7.3l1-5.5l1 5.2l1-2.7l1 3.4l1-5.7l1 5.3l1-2.4l1 3.9l1-7.7l1 6.8l1-2.2l1 4.4l1-4.5l1 2.9l1-4.6l1 7.1l1-5.7l1 4.2l1-5.2l1 2.8l1-5.7l1 4.5l1-6l1 3.3l1-3.4l1 3.4l1-3.3l1 4l1-1.8l1 2.1l1-3.7l1 5.2l1-3.4l1 5.8l1-3.8l1 2.9l1-3.9l1 5l1-4.4l1 3.8l1-5.9l1 7.6l1-7.4l1 3.8l1-2.9l1 3.7l1-5.9l1 6.5l1-4.2l1 4.6l1-5.2l1 3.5l1-2.7l1 2.4l1-2l1 3.3l1-3.4l1 2l1-3.3l1 2.9l1-6.1l1 5.5l1-6l1 2.4l1-2.1l1 2.8l1-4.2l1 5.9l1-4.8l1 3.4l1-4.8l1 6.7l1-7.3l1 3.6l1-3.6l1 2.8l1-3.4l1 6.9l1-4.5l1 5.6l1-3.8l1.1 3l1-1.3l1 1.3l1-2.1l1 3.5l1-3.3l1 4l1-4.6l1 4.1l1-2.1l1 3.3l1-3.1l1 5.2l1-5.5l1 4.6l1-5.1l1 5.8l1-5.9l1 5.4l1-6.6l1 7.5l1-6.2l1 2.5l1-2.9l1 5.6l1-5.2l1 3.7l1-2.7l1 5.6l1-2.9l1 1.8l1-4.3l1 4l1-2.2l1 2.1l1-4.9l1 7.6l1-8l1 5.9l1-3.5l1 3.3l1-3.3l1 3.7l1-3.1l1 1.9l1-4l1 5.6l1-5.2l1 4.5l1-3l1 2.8l1-4.6l1 5.4l1-3.9l1 5.1l1-4.6l1 4.1l1-2.1l1 2.9l1-4.9l1 4.2l1-3.4l1 4.1l1-3.9l1 3.4l1-4.7l1 6l1-6.2l1 6.4l1-4l1 3.6l1-5.1l1 2.7l1-3.5"/>
<path stroke="#C8FF1E" stroke-width="3.60" d="M26.2 1430.2l1 6l1-5.9l1 6.1l1-5.9l1 6l1-6.2l1 6.2l1-6l1 5.9l1-6.2l1 6.3l1-6.1l1 6.2l1-6.2l1 6.2l1-6.1l1 6.1l1-6.1l1 5.9l1-6.1l1 6l1-5.9l1 6.2l1-6.3l1.1 6.1l1-6.2l1 6.3l1-6.1l1 6l1-6l1 6l1-5.9l1 6l1-5.9l1 5.9l1-6l1 6l1-6.1l1 6.2l1-6.5l1 6.2l1-5.9l1 6l1-6.1l1 6.1l1-6.2l1 6.2l1-6.1l1 6.2l1-6.3l1 6.2l1-5.9l1 6l1-6.1l1 6l1-6.1l1 6.1l1-6l1 5.9l1-5.9l1 6l1-6l1 6.2l1-6.4l1 6.3l1-6.1l1 6l1-6.2l1 6l1-5.9l1 6l1-6.2l1 6.1l1-6l1 6l1-6l1 6l1-6.1l1 6.2l1-6l1 6l1-5.9l1 6l1-6.2l1 6.3l1-6.1l1 6.1l1-6.2l1 6.2l1-6.2l1 6l1-6l1 6.1l1-6l1 6l1-6l1 6.1l1-6.2l1 6l1-6.1l1 6.1l1-6.1l1 6.1l1-6l1 6l1-6.2l1 6.2l1-5.9l1 6l1-6.3l1 6.2l1-6.1l1 6l1-5.9l1 6l1-6l1 5.9l1-6.3l1 6.3l1-6l1 5.8l1-6.2l1 6.2l1-6.1l1 6.1l1-6.1l1 6l1-6l1 6l1-6.4l1 6.5l1-6.5l1 6.2l1-6.2l1 6.1l1-6l1 5.9l1-6l1 6.2l1-6.4l1 6.2l1-6.1l1 5.9l1-6.2l1 4.5l1-8.5l1 7.4l1-4.3l1 4l1-4l1 3l1-4l1 8.8l1-9.2l1 8.6l1-7.6l1 7.4l1-9.7l1 8l1-2.8l1 2l1-4.5l1 4.6l1-6.7l1 6l1-7.1l1 10.8l1-9.7l1 6.2l1-10.1l1 9.5l1-5.4l1 5.1l1-6.2l1 5.6l1-5.1l1 4.9l1-5l1 6.8l1-8.7l1 4.4l1-8.9l1 11.8l1-9.8l1 7.9l1-5.1l1 1.4l1-1.8l1 2l1-3.5l1 1.5l1-4.1l1 2.9l1-8.4l1 9.4l1-12.4l1 7.8l1-5.2l1 8.5l1-11l1 8.5l1-8.5l1 9.9l1-8.6l1 10l1-12.2l1 4.7l1-5.4l1 3l1-8.7l1 4.1l1-4.5l1 5.3l1-13.5l1-1.4l1-9.8l1-1.7l1-11.6l1-7.7l1-12.9l1-9.9l1-15.9l1-9l1-8.9l1 2l1 0.7l1 4l1-1l1-0.7l1-6.9l1-3.7l1-10.5l1-7.9l1-12.2l1-9.6l1-12.8l1-8.4l1-11.1l1-4l1-2.5l1 5.7l1 7.8l1 15.2l1 10.2l1 16.6l1 12.9l1 14.8l1 9l1 9.2l1 2.9l1 8.5l1 3l1 8.1l1 1.7l1 6.7l1 0.4l1 7.7l1 0.8l1 6.6l1-1.6l1 7.2l1-2.8l1 7.7l1-3.1l1 7.1l1-4.2l1 9.7l1-5.3l1.1 11.3l1-6.6l1 9l1-3.7l1 8.5l1-4.6l1 9.1l1-1.1l1 4.3l1-3.9l1 8.3l1-7.9l1 7.7l1-3.3l1 4.3l1-3.9l1 4l1-3.3l1 8.6l1-7.6l1 6.6l1-5.7l1 7.1l1-6.7l1 7.3l1-4.1l1 3.3l1-5.8l1 5l1-9.8l1-9.9l1 12.3l1 9.3l1-4.5l1 7.3l1-8.1l1 8l1-5.9l1 4.9l1-3.8l1 4.4l1-9.3l1 8.1l1-2.8l1 3.5l1-7.1l1 11.5l1-6.4l1 8.4l1-8.4l1 7.1l1-12.9l1 1.1l1-22.6l1 23.3l1-0.2l1 6.3l1-8.2l1 11.8l1-12l1 7.1l1-4.6l1 4.6l1-4.4l1 8.4l1-12.1l1 6.9l1-3.5l1 5.8l1-6.7l1 10.7l1-6.6l1 3.1l1-3.7l1 10.3l1-10.4l1 5l1-3l1 9l1-10l1 8.8l1-6.9l1 5.8l1-4.8l1 5.3l1-5.3l1 2.9l1-2.5l1 2.9l1-2.4l1 3.2l1-3.7l1 5.2l1-4.3l1 3l1-2.5l1 3l1-6.6l1 5.9l1-4l1 4.6l1-5.6l1 5.4l1-7.4l1 8.4l1-3.7l1 4.1l1-2.7l1 4.2l1-4.7l1 3.2l1-6.8l1 10l1-8.8l1 6.1l1-8.8l1 8.9l1-4.5l1 7.3l1-5.9l1 4.2l1-5.2l1 7.8l1-6.8l1 6.6l1-4.8l1 7l1-8l1 5.5l1-5.5l1 7.6l1-8l1 8.2l1-5.8l1 5.6l1-3.1l1 3.7l1-3.5l1 4.8l1-4.1l1 6.6l1-4.7l1 4.7l1-3.9l1 3.6l1-3.7l1 8.6l1-6.8l1 7.7l1-10.7l1 10.2l1-6.3l1 3.7l1-2.5l1 4.7l1-5l1 6.4l1-8.1l1 11.3l1-6.4l1 3.2l1-6.9l1 10.2l1-11.2l1 6.5l1-6.2l1 3.6l1-7.7l1 7.8l1-5.4l1 4.3l1-5.4l1 8.8l1-10.8l1 6l1-5.9l1 3.2l1-5.1l1 9l1-11.9l1 5.3l1-6l1 3.1l1-11.5l1 6.8l1-7.3l1 1.1l1-9.9l1-1.9l1-12l1-0.9l1-4l1 12l1-1.8l1 13.2l1-2.8l1 8.8l1-3.1l1 10.4l1-3.9l1 7.5l1-5.1l1 5.8l1-4.3l1 5l1-2.7l1 4l1-1.9l1 3.5l1-2.4l1 4.4l1-3l1 11.2l1-8.1l1 5.1l1-6.4l1 8.3l1-10.4l1 9.7l1-6l1 4l1-3.8l1 6.6l1-4.8l1 8.5l1-5.1l1 3.6l1-4.4l1 10.2l1-11.1l1 7.4l1-4l1 7.5l1-9.3l1 6.5l1-3.7l1 10l1-7.7l1 6.4l1-5.6l1 6.5l1-3.2l1 4.2l1-6.3l1.1 7.5l1-3l1 3.3l1-2.6l1 5.8l1-10.8l1 7.4l1-3.6l1 8.6l1-8.1l1 4.9l1-6.3l1 6.9l1-3.3l1 3.5l1-6.6l1 6.6l1-5.3l1 4.3l1-4.9l1 5.2l1-6.5l1 10.3l1-7.8l1 7.2l1-5.8l1 11.5l1-10.6l1 5.7l1-2.8l1 4.8l1-8.7l1 7.1l1-7.9l1 7.2l1-2l1 4.7l1-8.3l1 5.1l1-6l1 8l1-9.9l1 8.9l1-7.3l1 8.1l1-5l1 3.4l1-2.2l1 4.3l1-3.9l1 5.8l1-6.4l1 3.5l1-2.3l1 6.5l1-9.4l1 1.9l1-8.7l1 14.7l1-12.6l1 7.5l1-7l1 10.6l1-11l1 10.3l1-8l1 5.3l1-4.2l1 6.4l1-10.4l1 7.8l1-5.9l1 5.2l1-6.1l1 6.8l1-4.3l1 4.6l1-6.2l1 14.2l1-7.2l1 8.6l1-6.9l1 5.2l1-8.3l1 6.9l1-4.4l1 3.5l1-3l1 3.6l1-4.5l1 5.8l1-4.6l1 5.5l1-4l1 3.6l1-5.3l1 5.5l1-2.6l1 4l1-5.6l1 6.4l1-2.1l1 6.4l1-7.8l1 6l1-4.4l1 4.6l1-4.7l1 7.1l1-8.7l1 6.8l1-7.8l1 7.5l1-3.9l1 3.8l1-4.1l1 3.4l1-4.2l1 8.5l1-9.1l1 5.2l1-5.4l1 8.4l1-6.2l1 6.8l1-5l1 3.9l1-6l1 9.3l1-6.2l1 6.8l1-3.9l1 3l1-6.9l1 8.5l1-5l1 7.3l1-8.1l1 4.5l1-2.5l1 3.7l1-6.8l1 10.1l1-9.2l1 6.1l1-3.9l1 5.4l1-6.4l1 5.8l1-5.9l1 6.2l1-3.5l1 8l1-6l1 2.9l1-2.6l1 3.7l1-3.3l1 4.3l1-6.7l1 7.9l1-7l1 9.3l1-14l1 10.1l1-9.2l1 9.2l1-8.5l1 8.2l1-8.1l1 10.9l1-7.1l1 5.2l1-5.6l1 6.1l1-6.2l1 6.8l1-6.3l1 4.7l1-5.7l1 7.4l1-6.2l1 4.5l1-4.8l1 5.3l1-4.8l1 3.7l1-2.4l1 4.4l1-8.5l1 7.5l1-3.3l1 3.1l1-6.1l1 8.1l1-8.1l1 11.7l1-6l1 3.6l1-4l1 8.7l1-13.6l1 8.5l1-5.2l1 7.8l1-11.1l1 6.4l1-8.7l1 6.6l1-2.9l1 6.5l1-6.4l1 6.7l1-8l1 8.8l1-7.1l1 4.3l1-2.7l1 2.8l1-4.2l1 3.7l1-4.8l1 5.5l1-7l1 6.6l1-7.4l1 5.9l1-2.1l1 3.8l1-4.7l1 7.6l1-7.1l1 2.3l1-1.3l1 4.2l1-7.2l1 6l1-7.3l1 4.8l1-3l1 2.9l1-5.3l1 5l1-1.9l1.1 3.5l1-5l1 4.6l1-4.6l1 5l1-7.6l1 5.3l1-3.3l1 6l1-6.2l1 5.1l1-9.8l1 10.8l1-7.7l1 3.8l1-6.2l1 1.9l1-5l1 7.6l1-10.4l1 10.6l1-6.2l1 5.4l1-4.5l1 3.9l1-2.5l1 3l1-3.1l1 6.6l1-7.5l1 6.3l1-3.8l1 5.8l1-2.2l1 6.9l1-5.2l1 3.8l1-3l1 4.6l1-7l1 5.6l1-5.7l1 5.9l1-4l1 4.8l1-6.2l1 11l1-11.7l1 9.5l1-9l1 11l1-8.2l1 6.5l1-4.9l1 8.1l1-8.6l1 6.1l1-5l1 5.3l1-4.8l1 4.3l1-4l1 4.7l1-6.6l1 11l1-10.1l1 5.3l1-6.8l1 9.2l1-3.6l1 2.4l1-3.4l1 4.3l1-3.7l1 4.9l1-4.7l1 4.6l1-4.1l1 2.9l1-3.7l1 1.9l1-6.2l1 7.1l1-3.3l1 4.2l1-5l1 3.8l1-6.1l1 7.6l1-6l1 7.6l1-7.6l1 4.6l1-2.8l1 4.1l1-3.2l1 3.6l1-5.1l1 5.7l1-3.9l1 5.7l1-7l1 3.7l1-6.2l1 5.2l1-4l1 6.3l1-8.4l1 7.3l1-5.3l1 7.7l1-4.4l1 3l1-4.4l1 7.2l1-9.2l1 5.7l1-7.1l1 8.2l1-6.4l1 7.5l1-5.5l1 5.2l1-4.2l1 4.6l1-5.5l1 4.3l1-6.3l1 5.4l1-6l1 5.7l1-3.1l1 6.1l1-7.1l1 3.9l1-6.2l1 6.4l1-7.6l1 6.1l1-5.2l1 5.7l1-8l1 7.3l1-9.2l1 13.3l1-8.5l1 4.9l1-6.9l1 5.6l1-5.6l1 6.3l1-4.6l1 4.4l1-2.7l1 3.8l1-5l1 10.9l1-8.5l1 3.1l1-4.1l1 4l1-3.6l1 3.9l1-2.2l1 5l1-5l1 3.4l1-3.9l1 3.7l1-3.1l1 2.9l1-4.6l1 4.9l1-2.5l1 4.2l1-6l1 5.7l1-7l1 12.3l1-8.1l1 5.2l1-5.9l1 6.8l1-8.2l1 7.4l1-9l1 8.1l1-7l1 10.6l1-8l1 6.2l1-3.7l1 5.4l1-7.1l1 5.6l1-5l1 5.1l1-7.5l1 8.8l1-5.1l1 2.8l1-6.3l1 8.4l1-4.7l1 4.8l1-7.2l1 5.4l1-7l1 6.2l1-2.4l1 3.6l1-4l1 4.1l1-6l1 5l1-7.6l1 7.8l1-4.7l1 8.7l1-5.9l1 1.9l1-1.8l1 2.1l1-1.2l1 4.9l1-6.8l1 4.6l1-7.1l1 8.3l1-2.3l1 4.3l1-5.1l1 5.2l1-5l1 6.5l1-5.9l1 7.7l1-8.8l1 6.3l1-6.1l1 4.1l1-2.9l1 6l1-7.3l1.1 4.2l1-3.8l1 7.4l1-5.6l1 2.5l1-4.4l1 4.4l1-4.4l1 5.9l1-6l1 3.2l1-4.6l1 5.5l1-3l1 2.6l1-2.6l1 5.1l1-6.8l1 4.9l1-5.2l1 5.6l1-7.6l1 7.4l1-4.2l1 3.6l1-4.1l1 5.4l1-3.7l1 4.1l1-4.8l1 6.8l1-8.6l1 5.9l1-5.4l1 6.3l1-8.3l1 5.7l1-2.6l1 3.9l1-6.2l1 8.3l1-4.7l1 3.2l1-5.5l1 5.8l1-5.6l1 3.5l1-2.9l1 4.1l1-6.4l1 8.2l1-8.9l1 8.8l1-7.7l1 6.5l1-5.2l1 3.7l1-7.2l1 7.1l1-3.6l1 4.6l1-2.4l1 6.6l1-4.7l1 2.1l1-3.6l1 3.4l1-5l1 3l1-5l1 4.6l1-4.9l1 4.2l1-4.3l1 3.6l1-4.9l1 5.6l1-2.4l1 4.3l1-4.4l1 3.9l1-5.3l1 6l1-4.1l1 3.2l1-3.6l1 3.3l1-5.4l1 5.8l1-4.3l1 3.3l1-3.9l1 3.7l1-3l1 3.7l1-5l1 5.5l1-5.1l1 5.1l1-4l1 1.4l1-6l1 5.9l1-4l1 3.8l1-2.5l1 3.5l1-3.9l1 5.6l1-8.5l1 7.7l1-5.8l1 2.8l1-1.9l1 2.2l1-4.3l1 4l1-5.7l1 6.1l1-3.4l1 4.7l1-6l1 6.5l1-7.9l1 3.5l1-4l1 4.3l1-1.9l1 1.9l1-4l1 4.8l1-5.2l1 3.5l1-2.7l1 2.4l1-3.9l1 3.2l1-2.7l1 4l1-4.7l1 4.8l1-3.8l1 5.1l1-3.6l1 4l1-2l1 4.7l1-5.6l1 6.7l1-7l1 6.5l1-5.1l1 5.4l1-7.1l1 4.3l1-1.7l1 3.1l1-4.9l1 4.6l1-1.9l1 2.7l1-3.1l1 3l1-2.4l1 2.7l1-1.3l1 3.3l1-1.7l1 3.5l1-4.7l1 3.8l1-4.7l1 3.6l1-3.9l1 1l1-1.8l1 3l1-3l1 4.2l1-3.5l1 2.1l1-2.2l1 4.6l1-4.5l1 5.8l1-5.4l1 2.6l1-4.9l1 5.6l1-3.8l1 2.7l1-1.3l1 4.3l1-4l1 3.6l1-3.7l1 2.7l1-2.1l1 5.4l1-6l1 5l1-4.4l1 4l1-3.6l1 2.8l1-2.6l1 5l1-5.1l1 4.2l1-5.7l1 4.1l1-2.7l1 5.2l1-5.4l1 3.3l1-3l1 5.5l1-6.6l1 6l1-5.7"/>
<path stroke="#5AFF14" stroke-width="3.60" d="M29.9 1461.4l1-6l1 6l1-6l1 6.2l1-6.3l1 6.3l1-6.2l1 6.1l1-6.2l1 6l1-5.9l1 6.2l1-6.2l1 6l1-6.1l1 6.4l1-6.1l1 6.2l1-6.2l1 6.2l1-6.3l1 6.1l1-6.3l1 6.5l1-6.4l1 6.1l1-6.1l1 6.1l1-6.1l1 6.1l1-6.1l1 6.1l1-6.2l1 6.2l1-5.9l1 6l1-6.1l1 6.1l1-6.1l1 6l1-6l1 6.1l1-6l1 6l1-6.3l1 6.1l1-5.9l1 6l1-6.2l1 6.1l1-6.1l1 6.3l1-6.2l1 6l1-6.1l1 6.2l1-6l1 6l1-6l1 6l1-6.2l1 6.3l1-6.1l1 6.2l1-6.5l1 6.3l1-6.1l1 6l1-5.9l1 6l1-6.1l1 6.2l1-6.1l1 6.2l1-6.2l1 6l1-5.9l1 6l1-6l1 6l1-6.2l1 6.3l1-6.4l1 6.3l1-5.9l1 5.9l1-6l1 6l1-6l1 6l1-6.1l1 5.9l1-5.9l1 6l1-6l1 6l1-6l1 6.3l1-6.4l1 6l1-5.9l1 6.2l1-6.2l1 6.3l1-6.3l1 6l1-6.1l1 6l1-6l1 5.8l1-6l1 6.1l1-6.2l1 6.1l1-6l1 6.3l1-6.4l1 6.3l1-6.2l1 6.1l1-6.3l1.1 6.2l1-6.1l1 6.1l1-6.5l1 6.5l1-6.3l1 6.3l1-6.4l1 6.1l1-6.1l1 6l1-6.1l1 6l1-6.1l1 6.1l1-6l1 6.1l1-6.2l1 5.9l1-6.4l1 6.1l1-6.4l1 6.3l1-4.3l1 7.8l1-7.8l1 6.8l1-6.5l1 8.5l1-12.6l1 6l1-4.8l1 4.8l1-6.7l1 8.6l1-10.6l1 10.6l1-8.4l1 5.1l1-3.4l1 3.7l1-7.4l1 10.9l1-8.7l1 3.8l1-8.4l1 8.7l1-5.9l1 5.9l1-3.6l1 4.3l1-7.1l1 4.9l1-4.6l1 4.6l1-7.3l1 7.4l1-7.7l1 5.1l1-8.9l1 9.7l1-4.8l1 3.2l1-5.8l1 7.4l1-8.7l1 4.7l1-4.5l1 5.4l1-7.1l1 2.7l1-3.6l1 5.5l1-6.5l1 6.8l1-7.4l1 7.8l1-10.3l1 7.6l1-7.5l1 2.7l1-6.2l1 3.6l1-9.1l1 5.5l1-5.8l1 4.8l1-9l1 5.4l1-9.2l1 3.8l1-6.8l1-0.2l1-13.6l1-5l1-12.6l1-8.8l1-13.6l1-12.7l1-17.8l1-11.5l1-8.3l1 2.8l1-0.7l1 5.4l1-0.1l1-0.7l1-6.7l1-5.8l1-10.4l1-9l1-15.7l1-9.6l1-14.8l1-10.7l1-12.1l1-4.2l1-4.6l1 9.2l1 7l1 17.1l1 12.7l1 17.5l1 15.5l1 17.3l1 10.6l1 9.4l1 4.5l1 8.8l1 3l1 9.2l1 3.4l1 6.9l1 2.8l1 4.9l1 1.6l1 6.9l1 0.5l1 6.6l1-0.8l1 7.6l1-1.7l1 4.1l1-0.4l1 8l1-2.2l1 6.7l1-3.3l1 7.6l1-2.2l1 5.3l1-3.4l1 12.5l1-7.7l1 12.1l1-7.6l1 6.8l1-3.3l1 11.6l1-12l1 10.8l1-6l1 11l1-7.8l1 13.3l1-8.4l1 3.2l1-2.1l1 2.8l1-5.5l1 5.5l1-4.1l1 6.7l1-7.7l1 5.5l1-6.3l1 3.9l1-15.2l1 15.3l1-8.5l1 10.3l1-6.7l1 5l1-2.7l1 6.5l1-9.9l1 8.1l1-4.6l1 5.8l1-3.8l1 4.4l1-5.3l1 4l1-2.4l1 4.2l1-5.2l1 6.6l1-6.9l1 4.5l1-18.1l1-11.7l1 18.7l1 11.3l1-4l1 5.9l1-6.7l1 6.9l1-8.2l1 7.2l1-7.7l1 9l1-7.4l1 5l1-9.9l1 8.9l1-7l1 7.8l1-4.2l1 6.1l1-3.1l1 9.6l1-9.7l1 5.9l1-4.5l1 8.4l1-9.9l1 7.1l1-5.2l1 8l1-6.3l1 3.5l1-6.5l1 8.2l1-5.9l1 4.4l1-5.8l1 6.9l1-4.6l1 4.8l1-6.3l1 9.4l1-8.4l1 9.9l1-7.9l1 6l1.1-10.9l1 7.5l1-7.1l1 7.7l1-3.7l1 5.1l1-7.1l1 5.5l1-6.9l1 6.5l1-2.7l1 2.3l1-7.2l1 9l1-3.5l1 9.8l1-14.8l1 7.8l1-6.8l1 6.2l1-5.5l1 8.3l1-7.2l1 5.7l1-2.4l1 3.3l1-5.3l1 5.1l1-4.2l1 7.6l1-6.8l1 6l1-1.5l1 5.1l1-5.2l1 5.8l1-6.2l1 6.7l1-6.7l1 6.7l1-2.8l1 5.5l1-6.2l1 7.4l1-2.8l1 7.3l1-7l1 8.1l1-8l1 3.6l1-6.8l1 6.8l1-3.5l1 3.3l1-2.5l1 4.7l1-8.6l1 11.4l1-7.9l1 4.8l1-4.2l1 6.7l1-6.7l1 8l1-6.8l1 3.5l1-2.8l1 2.2l1-5.1l1 9.2l1-10.3l1 8.2l1-7.9l1 3.4l1-6.1l1 2.4l1-4.8l1 6.5l1-8.5l1 2.2l1-9.8l1 7.7l1-6.3l1 4.7l1-9.2l1 4.1l1-5.5l1-0.3l1-8.9l1 1.6l1-14.8l1-0.8l1-3.1l1 8.6l1 0.1l1 15.8l1-6.1l1 13.5l1-4.1l1 6.3l1-5.2l1 9.4l1-2.9l1 6.1l1-5.6l1 8.6l1-5.6l1 4.2l1-5.5l1 6.6l1-6.5l1 8.2l1-3l1 5.5l1-5.5l1 9.1l1-8l1 8.2l1-5l1 8.6l1-7.8l1 9.7l1-6.6l1 4.7l1-5.4l1 7.4l1-11.1l1 7.7l1-6.2l1 9.3l1-5l1 6.7l1-6l1 8.6l1-8.9l1 6.9l1-3.7l1 3.8l1-6.1l1 10l1-5.9l1 6.8l1-4.1l1 6.6l1-4.8l1 5l1-5.3l1 3.8l1-4.5l1 8.2l1-6.6l1 2.8l1-2.2l1 3.8l1-5.8l1 8.2l1-8.2l1 10.8l1-6.8l1 5.2l1-1.9l1 3.2l1-3.8l1 5.3l1-9.4l1 12.5l1-12.1l1 7.9l1-8.2l1 10.3l1-7.5l1 6.8l1-4.5l1 6.9l1-5.6l1 5.3l1-6.9l1 5.7l1-6.7l1 6.3l1-4.3l1 3.9l1-6.5l1 7.2l1-6.6l1 5.7l1-4.3l1 5.6l1-5.7l1 3.3l1-4l1 4.5l1-5l1 5.6l1-4.3l1 6.3l1-7.2l1 5.5l1-5.3l1 7.5l1-7.1l1 3.4l1-4.6l1 6.7l1-5.9l1 4l1-4.6l1 8.5l1-10.3l1 6.6l1-7.1l1 7.1l1-8l1 4.2l1-4.1l1 9.1l1-9.7l1 4.2l1-6l1 10l1-8l1 7.4l1-4.7l1 10.1l1-5.9l1 5.1l1-3.6l1 3.9l1-5.3l1 7l1-8.2l1 6.8l1-1.8l1 5.4l1-6.7l1 6.2l1-4.5l1 6.7l1-4.6l1 3.7l1-3.7l1 5.4l1-6.8l1.1 8.6l1-6.6l1 5.1l1-7l1 4.5l1-6.5l1 9l1-5.6l1 8.2l1-6.6l1 6.7l1-6.3l1 6.8l1-4.5l1 2.6l1-5.2l1 5.9l1-4.9l1 6.1l1-3.6l1 3.2l1-5.1l1 5.5l1-5.5l1 10.7l1-8.1l1 6.7l1-6.4l1 7.7l1-10.1l1 12.2l1-9.2l1 6.3l1-4.5l1 6.8l1-6.8l1 8.7l1-8l1 7.4l1-5l1 3.1l1-4.4l1 7.4l1-9.5l1 7.1l1-4.8l1 4.7l1-4.5l1 9.1l1-8.8l1 5.9l1-5.5l1 8.4l1-6.4l1 3.9l1-3.7l1 3.7l1-4.4l1 5.2l1-6.4l1 6.8l1-3l1 4.4l1-8.2l1 8.3l1-7.4l1 3.8l1-1.9l1 1.9l1-3.3l1 6.9l1-7.3l1 9.5l1-10.2l1 5.7l1-2.7l1 4.1l1-6.6l1 4.8l1-3.9l1 4.6l1-5.5l1 5.2l1-4.4l1 4.6l1-4.5l1 4.5l1-5.2l1 3.9l1-1.7l1 8.4l1-8.3l1 5.1l1-5.2l1 7.6l1-8.8l1 5.9l1-5.3l1 4.1l1-6l1 9.6l1-8.2l1 6.9l1-9.8l1 8.1l1-4.4l1 5.3l1-6.2l1 4.9l1-5l1 7.2l1-8.7l1 7.7l1-6.1l1 6.3l1-6.4l1 7.8l1-6.8l1 6.2l1-6.7l1 8.2l1-6.1l1 4.8l1-6.8l1 5.1l1-5.7l1 5.6l1-2.9l1 4.7l1-6.1l1 3l1-4.8l1 7.7l1-6.9l1 4.2l1-4.4l1 4.2l1-4.2l1 5.6l1-9.1l1 7.8l1-9.8l1 8.7l1-7.2l1 6.3l1-4.4l1 3.7l1-4.4l1 6.4l1-6l1 7.3l1-5.6l1 6l1-5.6l1 5.2l1-8.3l1 5.6l1-5.4l1 5.7l1-7.1l1 5.8l1-5.5l1 5.1l1-6.1l1 5.9l1-8l1 3.4l1-5l1 6.9l1-5.6l1 5.2l1-7.8l1 8.9l1-7.7l1 12l1-8.9l1 8.9l1-7.6l1 8.9l1-6.9l1 9.6l1-9.9l1 7.6l1-4.6l1 7.8l1-7.1l1 6.2l1-6.5l1 7.2l1-4.8l1 3.3l1-2.6l1 4.4l1-4.2l1 2.9l1-4.1l1 7.5l1-9.8l1 7.9l1-6.5l1 4.1l1-7l1 9.9l1-6.1l1 7.2l1-5.2l1 5.6l1-5.1l1 4.1l1-2.4l1 4.1l1-4.4l1 4.2l1-5.2l1 8.3l1-4.3l1 3.8l1-3.3l1 3.2l1-3.4l1 3.7l1-6.4l1 4.6l1-4.1l1 7.2l1-9.2l1 8.1l1-5.6l1 4.4l1-4.7l1 5.2l1-9.3l1 8.2l1-2.6l1 5.5l1-5.9l1 5.2l1-7.2l1 7.6l1-4.3l1 3.9l1-2.7l1 4.8l1-9.5l1 8.3l1.1-4.6l1 3l1-8.8l1 7.1l1-2.8l1 5l1-6.8l1 9.2l1-6.1l1 4.7l1-4.5l1 9.4l1-8.1l1 4.8l1-6.9l1 4.6l1-3.9l1 6l1-6.6l1 5.7l1-5.8l1 10l1-10l1 3.5l1-6.1l1 4.8l1-3.4l1 5.3l1-3.5l1 2.5l1-4.4l1 5.9l1-7.2l1 6.8l1-4.8l1 3.4l1-2.6l1 4.9l1-5.5l1 5.9l1-5.8l1 4l1-6.2l1 5.5l1-6.6l1 4.6l1-9.2l1 9.3l1-5.5l1 6.6l1-3.5l1 2.9l1-7.6l1 8l1-3.5l1 6.8l1-5.7l1 4.3l1-5.4l1 6.6l1-7.3l1 8.3l1-6.8l1 6.7l1-3.7l1 8.3l1-8.3l1 5.1l1-6.4l1 6.8l1-5l1 3.5l1-4.6l1 7.1l1-9.8l1 8.4l1-6.5l1 7.8l1-3.5l1 2.2l1-5.4l1 8.8l1-7.1l1 3.8l1-4.6l1 4.5l1-5.7l1 4.2l1-5.1l1 4.8l1-3.2l1 9.4l1-8l1 3l1-3.8l1 5.7l1-4.8l1 6.5l1-6.8l1 7.7l1-8l1 5.4l1-8l1 9l1-3.6l1 3.9l1-8.8l1 9.7l1-5.8l1 5.3l1-4.2l1 4.9l1-6l1 5l1-7l1 4.9l1-5l1 6.6l1-5.4l1 3.4l1-5.6l1 9.4l1-5.7l1 5.2l1-2.4l1 2.9l1-2.7l1 3.5l1-2.9l1 6.2l1-8.9l1 4.7l1-4.1l1 6.7l1-4.7l1 4l1-5.2l1 4.6l1-2.3l1 2.1l1-2.7l1 5.2l1-6.3l1 3.7l1-3.4l1 7.8l1-8.4l1 6.6l1-6.2l1 5.2l1-5.2l1 4.5l1-6.5l1 6.9l1-5.4l1 4.7l1-2.9l1 3.7l1-2.5l1 3.4l1-3l1 4.5l1-8.8l1 6.3l1-4.6l1 3.7l1-5.7l1 5.9l1-5.4l1 3.8l1-3.3l1 2.3l1-2.4l1 2.5l1-3.1l1 5.5l1-4.7l1 5.6l1-5.6l1 5.6l1-3.9l1 4.4l1-5.7l1 3.4l1-7.8l1 7.2l1-3.2l1 4.9l1-6.5l1 7.6l1-4.2l1 2l1-4.9l1 8l1-5.1l1 2.3l1-2.6l1 2.8l1-1.9l1 2.3l1-3.2l1 3.1l1-6.3l1 8.4l1-5.5l1 2.6l1-2.4l1 3.1l1-3.5l1 5l1-3.8l1 5.1l1-5.6l1 2.9l1-4.1l1 5l1-3.6l1 1.6l1-2.6l1 3.9l1-3l1 4.7l1-6.4l1 3.9l1-3.5l1 3.1l1-3.2l1 2.7l1-2.4l1 5.6l1-6.4l1 5.2l1-6.7l1 7.4l1-4.1l1 3.9l1-3.5l1 3.8l1-4.3l1 1.1l1-2.8l1 3.5l1-4.2l1.1 3l1-4.2l1 5l1-4.6l1 5.3l1-5.3l1 3.8l1-3.6l1 8.3l1-9.4l1 7l1-4.9l1 5.6l1-4.8l1 6l1-7.7l1 3l1-4.2l1 4.5l1-5.5l1 4.1l1-4.7l1 4.6l1-3.9l1 4.1l1-4.2l1 5.8l1-4.4l1 2.2l1-1.7l1 2.4l1-5.9l1 4.1l1-4.7l1 5.2l1-4.9l1 5.4l1-6.2l1 1.9l1-4.2l1 6.3l1-3.1l1 3.3l1-3.5l1 4.4l1-2.1l1 4.2l1-7.3l1 6.7l1-4.7l1 6.6l1-4.5l1 2.1l1-3l1 3.8l1-2.5l1 3.7l1-4.5l1 4.4l1-2l1 3.6l1-4.1l1 3.2l1-2.6l1 3.8l1-4l1 5.2l1-2.1l1 4.7l1-4.8l1 2.2l1-4.2l1 4l1-5.8l1 7.7l1-5.2l1 4.2l1-6.6l1 6l1-5.4l1 4.3l1-4.4l1 4l1-5.2l1 6.3l1-4.6l1 3.4l1-1.6l1 3.5l1-2.6l1 2.5l1-3.3l1 4.2l1-3.9l1 2.8l1-3.2l1 4.1l1-4.5l1 5l1-3.6l1 4.7l1-5.1l1 3.3l1-3l1 2.1l1-3.7l1 6.8l1-5.1l1 2.1l1-2l1 1.8l1-4.8l1 4.8l1-2.6l1 3.1l1-3.2l1 4.1l1-2.4l1 5l1-5.6l1 3.4l1-2.1l1 2.4"/>
<path stroke="#1EFF14" stroke-width="3.60" d="M33.6 1485.8l1 6.2l1-6.2l1 6.1l1-5.8l1 6l1-6.1l1 5.9l1-6l1 6.1l1-6.1l1 6.1l1-6l1 6.1l1-6.1l1 6.1l1-6l1 6l1-6.1l1 6.1l1-6.1l1 6l1-6.2l1 6.1l1-6.1l1 6.1l1-5.9l1 6l1-6.1l1 6.1l1-6.1l1 6l1-6.2l1 6.2l1-5.9l1 6l1-6.1l1 6.3l1-6.1l1 6.2l1-6.3l1 6.1l1-6.1l1 6l1-6.3l1 6.2l1-6l1 6.1l1-6.1l1 6l1-6.1l1 6.2l1-6l1 6l1-6.1l1 6.1l1-6.1l1 5.9l1-5.9l1 6l1-6.2l1 6.3l1-6l1 6l1-6.1l1 6l1-6.1l1 6.4l1-6.2l1 6l1-5.9l1 6.1l1-6.2l1 6l1-5.9l1 5.9l1-6l1 6.3l1-6.3l1 6.2l1-6.1l1 6l1-6l1 6l1-6.3l1 6.5l1-6.3l1 6.1l1-6.1l1 5.9l1-5.9l1 6.3l1-6.3l1 6.2l1-6.4l1 6.4l1-6.2l1 6.1l1-6.2l1 6.2l1-6.5l1 6.6l1-6.3l1 6.1l1-5.9l1 6l1-6.1l1 6.1l1-6.1l1 6l1-6.3l1 6.1l1-6.3l1 6.4l1-6.2l1 6.2l1-6.3l1 6.1l1-6.1l1 6l1-6.1l1 6.1l1-6.1l1 6.1l1-6.3l1 6.3l1-6.4l1 6.1l1-6.1l1 6l1-6l1 5.9l1-6.3l1 6.5l1-6.2l1 6l1-6.4l1 6.4l1-6.3l1 6l1-6.3l1 6.1l1-6.3l1 6l1-6.2l1 1.8l1 7.3l1-10.4l1 9.2l1-9.8l1 9.7l1-7l1 5.4l1-5.2l1 5l1-4.6l1 2.7l1-4.7l1 7.3l1-9.8l1 6.3l1-3.3l1 3.9l1-3.7l1 4.1l1-6.4l1 6.8l1-5.5l1 6.6l1-10.1l1 6.8l1-7.4l1 4.2l1-3.9l1 4.7l1-3.7l1 9.1l1-10.4l1 6l1-6.1l1 6.2l1-6.6l1 2.2l1-4.6l1 3.2l1-3.9l1 5.5l1-6.8l1 3.2l1-3l1 5.4l1-5.2l1 2.3l1-5.8l1 6.9l1-5.9l1 6.8l1-9.3l1 5.1l1-8.9l1 5.2l1-6.4l1 5.9l1-9.4l1 3.6l1-8.4l1 6.7l1-6.6l1 5.6l1-12.5l1 8.5l1-7.2l1 1.5l1-10.2l1-2.5l1-13.1l1-5.2l1-11.8l1-10.9l1-14.5l1.1-14.5l1-17.9l1-12.6l1-8l1 1.6l1 0.8l1 6.4l1-3l1 1.4l1-8.7l1-7.2l1-13.6l1-8.7l1-15.2l1-12.6l1-17l1-10.4l1-12.8l1-4.8l1-1.7l1 8l1 10.6l1 17.6l1 15.3l1 19l1 17.2l1 17.4l1 11.6l1 11.3l1 3.8l1 10.7l1 4.6l1 8.6l1 4.6l1 7.4l1 1.9l1 5.3l1 2.4l1 6.2l1 2.2l1 6.3l1 0l1 5.4l1 1l1 4.4l1-1.5l1 6l1-0.3l1 6.9l1-1.7l1 6.7l1-2.6l1 8.4l1-3.2l1 10.4l1-3.7l1 10.7l1-5.1l1 7.1l1-10l1 8.4l1-4.3l1 6.1l1-3.7l1 8.4l1-3.2l1 6.6l1-10.7l1 10.7l1-5.9l1 4.9l1-5.8l1 6l1-5.1l1 5.6l1-3.9l1 5.9l1-10l1 10.6l1-11.4l1-10.7l1 12.6l1 8.8l1-4.6l1 7.7l1-10.8l1 9l1-7.5l1 6.7l1-3.8l1 6.8l1-7.8l1 8.1l1-4.7l1 4.1l1-4.6l1 4.8l1-5.3l1 5.4l1-10.4l1 7.6l1-12.9l1-16.1l1 19.9l1 8.8l1-3.3l1 10.1l1-9.8l1 4.8l1-6l1 6l1-6.2l1 3l1-3.1l1 4.4l1-3.7l1 5.5l1-5.8l1 6.1l1-6.4l1 12.4l1-9l1 5.4l1-3.3l1 3.8l1-3.2l1 4.6l1-5.3l1 5.6l1-8.4l1 6.9l1-2.1l1 4.6l1-5.7l1 6.6l1-5.6l1 8l1-6.8l1 5.2l1-9.5l1 10.8l1-6.3l1 7.8l1-9.4l1 7.9l1-10.1l1 11.3l1-13.8l1 10.5l1-6.3l1 6.3l1-5.4l1 6.8l1-8.2l1 6.1l1-6l1 4.3l1-10.5l1 9l1-2.2l1 8.3l1-11l1 7.4l1-4.5l1 4.9l1-4.7l1 8.1l1-6.4l1 3.2l1-5l1 8l1-3.8l1 9.1l1-8.7l1 4.5l1-5.4l1 6.6l1-7.4l1 7l1-3.7l1 5l1-5l1 7.4l1-5.5l1 4.3l1-1.6l1 7.4l1-9.5l1 8l1-5.4l1 6.8l1-4.1l1 8.2l1-8.8l1 7.5l1-5.7l1 5.3l1-4.7l1 5.4l1-8.1l1 8.7l1-4.3l1 5.3l1-8.2l1 6.4l1-3.6l1 4.6l1-6.3l1 6.4l1-7.3l1 8l1-7.3l1 4.1l1-5.5l1 4.6l1-5.7l1 5.2l1-4.2l1 2.4l1-2.6l1 3.4l1-9.6l1 7.9l1-8.6l1 6.4l1-11.8l1 6.8l1-5.4l1 1.5l1-10.1l1 10.6l1-13.4l1 5.5l1-12.7l1 4.9l1-10.9l1-3.7l1-10.3l1-1.8l1-0.1l1 10l1 0.2l1 16.1l1-3.8l1.1 11.3l1-3.2l1 6.8l1-5.1l1 11.2l1-5.8l1 5.8l1-1.9l1 7.5l1-4.9l1 4.9l1-7.3l1 9.4l1-3.6l1 8.2l1-6.9l1 5.1l1-7.1l1 12.6l1-6.7l1 7l1-5.9l1 5.4l1-6.7l1 8.1l1-4.1l1 7.3l1-7l1 8.2l1-8l1 8.7l1-11l1 8.8l1-4.1l1 7.3l1-7.4l1 9.5l1-6.7l1 3.7l1-2.6l1 4.7l1-6.5l1 7.8l1-3.4l1 8l1-8.6l1 8.4l1-4.9l1 3.1l1-3.5l1 5.8l1-5.5l1 6l1-6.3l1 10.8l1-10.8l1 6.8l1-4.2l1 3.9l1-7.1l1 8.2l1-3.7l1 7.2l1-10.6l1 9.6l1-6l1 4.4l1-5.2l1 11.5l1-7.5l1 4.1l1-5l1 5.1l1-4.2l1 6.4l1-5.9l1 4.1l1-4.2l1 5.1l1-4.1l1 8.6l1-9.1l1 5.1l1-7.6l1 9.3l1-5.6l1 4.3l1-5.1l1 8.1l1-8.3l1 5.6l1-6.1l1 4.7l1-2.4l1 4.8l1-8.1l1 8l1-6.9l1 6l1-4.8l1 5.1l1-8.1l1 7.6l1-6.7l1 4.2l1-2.5l1 4l1-5.2l1 3.5l1-5.6l1 4.2l1-3.2l1 4.1l1-8.3l1 10.6l1-8.4l1 2.5l1-2.9l1 4l1-4.8l1 7.2l1-8.4l1 11.9l1-9.5l1 9.9l1-5.8l1 3.9l1-3l1 6.7l1-2.9l1 2.3l1-3.1l1 7l1-6.7l1 6.6l1-7.2l1 5.3l1-7.2l1 6.8l1-5.6l1 9.6l1-7.8l1 4.1l1-2.2l1 5.5l1-4.6l1 4.8l1-4.9l1 4.9l1-8.3l1 7.3l1-4.6l1 9l1-7.7l1 4.7l1-2.9l1 5.2l1-5.2l1 5.4l1-3.4l1 4.1l1-5.1l1 6.3l1-3.3l1 4.1l1-3.7l1 4.9l1-4.6l1 4.3l1-3.5l1 7.7l1-7.3l1 6.4l1-5.9l1 6l1-4.7l1 1.6l1-2.1l1 4.9l1-9.8l1 8.5l1-4.1l1 3l1-5.5l1 8.8l1-8.4l1 5.6l1-2.5l1 6.6l1-8.8l1 9.3l1-5.8l1 4.8l1-3.4l1 8.5l1-10l1 6.1l1-5.8l1 5.6l1-2.6l1 2.2l1-3.2l1 4.5l1-3.8l1 4.3l1-5.9l1 8.7l1-5.7l1 6.8l1-7.7l1 3.7l1-3.9l1 4.8l1-6.3l1 3.5l1-1.8l1 5.8l1-9.6l1 7.7l1-10l1 9l1-4.7l1 8.9l1-11.6l1 11.3l1-7.5l1 5l1-7.8l1 6.5l1-8.9l1 10l1-4.3l1 3.9l1-3.4l1 8.2l1-6l1 4.4l1-5.1l1 2.8l1-4.3l1 5.7l1-6.4l1 7.3l1-5.9l1.1 5.1l1-8.9l1 9.2l1-7.2l1 5.8l1-5.9l1 10.9l1-8.5l1 4.1l1-2.9l1 4.4l1-5.5l1 4.9l1-7.2l1 3.3l1-2.9l1 4.5l1-4.9l1 3.7l1-3.6l1 4.2l1-2.8l1 3.5l1-4.8l1 7l1-9.5l1 7.3l1-5.4l1 7.6l1-5.7l1 3.4l1-4.4l1 4.9l1-4.3l1 2.3l1-7.2l1 10.1l1-7.9l1 6.3l1-4.5l1 2.9l1-3.9l1 5.8l1-4.4l1 3.7l1-6.1l1 6l1-4.5l1 2.8l1-3.8l1 5l1-5.5l1 7.1l1-3.4l1 5l1-9.5l1 5.4l1-7.7l1 8.5l1-9.9l1 6l1-7l1 6.1l1-6.2l1 3.1l1-3.4l1 2.2l1-5.1l1 5.8l1-2.8l1 3l1-4l1 4.5l1-6.8l1 9.4l1-8.1l1 8.3l1-6.1l1 7.6l1-2.8l1 5.2l1-7.9l1 8.9l1-6.8l1 9l1-5.8l1 5.6l1-8.7l1 8.2l1-5.9l1 6.7l1-4l1 4.7l1-3.9l1 3.5l1-5.6l1 7.1l1-7.7l1 8.7l1-3.3l1 3.6l1-8l1 6.2l1-2.9l1 5.1l1-9.8l1 12.8l1-12.3l1 13.3l1-12l1 7.2l1-5.3l1 11.2l1-7.9l1 3.9l1-4.1l1 7l1-5.2l1 2.7l1-5.6l1 8.1l1-6.4l1 6.1l1-4.8l1 4.8l1-4.2l1 8.6l1-7.7l1 4.5l1-4.8l1 4.1l1-2.7l1 6.2l1-9.4l1 5l1-6.9l1 11.3l1-6.9l1 4.6l1-4.6l1 2.9l1-3.8l1 4.8l1-6.2l1 4.2l1-2.6l1 5.2l1-5.4l1 6.4l1-5.4l1 3.8l1-3.6l1 4.8l1-7.8l1 3.9l1-5.5l1 10.1l1-11.3l1 9.1l1-5.9l1 8.5l1-8.3l1 8.1l1-7.9l1 4.3l1-3.6l1 3.6l1-5.6l1 5.7l1-5.7l1 6.2l1-4.6l1 6.7l1-9.5l1 5.8l1-7.2l1 9.6l1-6.2l1 8.5l1-5.1l1 2.6l1-6.6l1 8.2l1-7.1l1 6l1-7.4l1 5.4l1-2.7l1 3.2l1-4.8l1 5.2l1-3.6l1 3.9l1-5.4l1 6.7l1-9.1l1 6.6l1-6.4l1 8.8l1-5.5l1 7.7l1-7.1l1 6.5l1-6.3l1 7.4l1-7.2l1 4.3l1-5.5l1 8.2l1-7.3l1 6.3l1-6.2l1 5.1l1-3.2l1 4.5l1-4.6l1 3.1l1-3.1l1 5.3l1-6.9l1 3.4l1-2.6l1 4l1-2.6l1 5.4l1-6.2l1 9l1-9.6l1 9.5l1-7.8l1 3.5l1-5.9l1 6.4l1-5.1l1 5.5l1-6.1l1 5.6l1-5.7l1 6.7l1-6.7l1 7.2l1-3.8l1 4.5l1-3.1l1.1 0.9l1-4.3l1 4.5l1-2.7l1 7.8l1-8.5l1 7.9l1-5.6l1 1.8l1-5.5l1 6.8l1-4.6l1 2.9l1-4.1l1 4.2l1-7.3l1 6.6l1-5l1 4.8l1-2.3l1 4.5l1-2.6l1 6.6l1-8l1 5.3l1-3l1 3.9l1-5.6l1 5.1l1-4.4l1 4.4l1-5.2l1 5.4l1-3.2l1 2.8l1-2.9l1 4.9l1-5.1l1 5.5l1-2.4l1 1.6l1-2.2l1 5.1l1-7.4l1 8.5l1-8.6l1 4.7l1-6.8l1 6.2l1-3.9l1 7.9l1-7.1l1 5.5l1-7.4l1 7.1l1-8.7l1 7.5l1-6.1l1 5l1-4.5l1 7.3l1-5.2l1 3.3l1-4.7l1 3.9l1-3.3l1 5.6l1-8.3l1 5.5l1-2.6l1 2.1l1-4.9l1 5.3l1-3l1 7.6l1-6.4l1 2l1-1.9l1 5.4l1-4.6l1 3.4l1-6.9l1 6.1l1-3.9l1 5.1l1-6.3l1 4.9l1-3.8l1 4.6l1-5.3l1 6l1-5.1l1 7.2l1-8.9l1 4.5l1-1.5l1 4.2l1-7.1l1 9l1-10.2l1 6l1-6.4l1 6.3l1-5l1 7.7l1-6l1 2.9l1-2.6l1 2.1l1-4.5l1 7.3l1-4.7l1 3.9l1-4.2l1 5.6l1-5.9l1 4l1-3.1l1 5.2l1-5l1 3.2l1-4.2l1 2.6l1-5l1 8.4l1-7.4l1 5.8l1-7.2l1 5l1-1.9l1 4.1l1-4.3l1 4.8l1-6.2l1 6.9l1-8.1l1 2.7l1-3.6l1 3.3l1-1.8l1 3.1l1-5l1 3.7l1-4.7l1 6.1l1-5.4l1 5.9l1-6.3l1 5.2l1-5.4l1 7.8l1-7.9l1 6.9l1-3.3l1 6.2l1-5.2l1 6.8l1-6.8l1 3.6l1-4.1l1 2.9l1-4.1l1 2.6l1-2.9l1 3.6l1-3.2l1 4.1l1-7.4l1 6.1l1-6.8l1 6.6l1-2.8l1 1.3l1-5.6l1 6.2l1-4.7l1 3.9l1-6.4l1 4.7l1-3.4l1 4.5l1-4.9l1 3.3l1-4.6l1 3.4l1-5.3l1 4.7l1-2l1 3.2l1-3.5l1 3.8l1-2l1 3.7l1-4.6l1 5.5l1-5.9l1 4.6l1-3.1l1 4.4l1-2.7l1 2.6l1-1.4l1 4.8l1-5.3l1 4.5l1-4.1l1 3.7l1-2.1l1 4.2l1-4.4l1 5.1l1-3.7l1 2.4l1-3.6l1 4.3l1-3.2l1 1.4l1-1.9l1 3.3l1-5.9l1 5.5l1-2.9l1 2.2l1-1.9l1 2.8l1-4l1 1.5l1-4.4l1 5.5l1-2.5l1 3.9l1-4.9l1 5.3l1-1.7l1 3.5l1-5l1 4.5l1-3.2l1 4.3l1-3.8l1 1.7l1-2.8l1 3l1-3.3l1.1 6.1l1-7.9l1 6.3l1-3.4l1 3.9l1-2.2l1 2.7l1-4.7l1 6l1-4.3l1 2.3l1-2.4l1 2.4l1-1.9l1 1.3l1-3.5l1 3l1-2.8l1 2.2l1-2.1l1 5.5l1-4.5l1 3.2l1-3.2l1 4.2"/>
<path stroke="#28DCAA" stroke-width="3.60" d="M37.2 1516.1l1 6.2l1-6.3l1 5.8l1-6l1 6.3l1-6.2l1 6.1l1-6.2l1 6.3l1-6.2l1 6.1l1-6.3l1 6.2l1-6.4l1 6.4l1-6.1l1 6l1-6.2l1 6.3l1-6.1l1 6.1l1-6.2l1 6.2l1-6.3l1 6.3l1-6.3l1 6.1l1-5.9l1 5.8l1-5.8l1 5.9l1-6.4l1 6.5l1-6.1l1 6l1-5.9l1 5.9l1-6.1l1 6l1-6.1l1 6.1l1-6l1 6.1l1-6.2l1 6.2l1-6l1 6.1l1-6.1l1 6l1-6.1l1 6.1l1-6.1l1 6.3l1-6.2l1 6l1-6.1l1 6.1l1-6l1 5.9l1-5.9l1 6.1l1-6.1l1 6.1l1-6.1l1 6.1l1-5.9l1 5.9l1-6.1l1 6.2l1-6.1l1 6l1-6.1l1 6l1.1-6l1 6.1l1-6.1l1 6l1-5.8l1 6l1-6.2l1 6.1l1-6.1l1 6.2l1-6.3l1 6.1l1-5.9l1 6l1-6.2l1 6.1l1-6l1 6.1l1-6l1 6.1l1-6.3l1 6.1l1-6.1l1 6.1l1-5.9l1 6.2l1-6.3l1 6.2l1-6.1l1 6.2l1-6.2l1 6l1-6l1 6.1l1-6.1l1 6l1-6l1 5.9l1-6.1l1 6l1-6l1 6.1l1-6.4l1 6.1l1-6l1 6.3l1-6.6l1 6.1l1-5.9l1 5.8l1-6l1 6.1l1-6.1l1 6l1-6.2l1 6.2l1-6.1l1 6.1l1-6.2l1 6l1-6.1l1 6.1l1-6.1l1 6.2l1-6.1l1 6l1-6.3l1 6l1-6.3l1 6l1-6.5l1 2.3l1 3.1l1-7.1l1 7.5l1-10.1l1 7.6l1-4.1l1 3.1l1-4.7l1 5.7l1-9l1 6.8l1-4l1 6.8l1-7.3l1 5.3l1-5.2l1 6.7l1-8l1 6.2l1-4.6l1 6.2l1-6.6l1 4.9l1-6.4l1 6.9l1-6.6l1 5l1-5.6l1 10.6l1-9.2l1 4.6l1-3.9l1 3.2l1-9.5l1 10l1-5.6l1 8.5l1-9.6l1 9.1l1-8.1l1 5.6l1-7.5l1 1.6l1-3.8l1 6.7l1-10l1 7.8l1-6.5l1 4.6l1-4.4l1 8.1l1-10.9l1 7.4l1-6.2l1 3l1-10.6l1 10.6l1-8.7l1 3.5l1-7.3l1 2.2l1-5.3l1 3.7l1-9.8l1 3.9l1-8.1l1 2.2l1-9.1l1 0.7l1-15.7l1-5.1l1-10.7l1-10.7l1-14.8l1-14.9l1-19.7l1-14.2l1-10.7l1 0.1l1 1.7l1 4.7l1 1l1-0.2l1-7.5l1-6.1l1-12.8l1-8.4l1-16l1-12.7l1-16.5l1-12.9l1-13.2l1-7.8l1-5.3l1 5.9l1 10.6l1 17.3l1 15l1 20.3l1 17.5l1 20.2l1 12l1 12.3l1 6l1 10.8l1 2.7l1 11.6l1 3.7l1 7.5l1 1.9l1 7.1l1 1.5l1 6.4l1 2.8l1 6.1l1 1l1 5.2l1-0.9l1 7.7l1 0.7l1 5.2l1-2.7l1 6.5l1-2.9l1 11.3l1-1.8l1 10.5l1-7l1 11.3l1-4.4l1 7.2l1-1.9l1 7.5l1-8.2l1 7.2l1-3.7l1 4.9l1-1.7l1 5l1-5.7l1 5.3l1-5.7l1 6.7l1-3.3l1 6.7l1-4l1 8.2l1-9.7l1 6.4l1-4.7l1 5.2l1-4.2l1 3.7l1-8.7l1-12.9l1 16.1l1 6.2l1-4.8l1 7.2l1-10.2l1 9.2l1-5.3l1 6l1-2.8l1 7.5l1-6.8l1 4.8l1-3.2l1 4.6l1-6.1l1 9.5l1-6.8l1.1 1.8l1-7.7l1-0.3l1-25.4l1 28.6l1-2.1l1 8.2l1-5.9l1 6.5l1-6.6l1 8.4l1-5l1 3.5l1-6.1l1 4.2l1-3.6l1 3.2l1-3.8l1 2.2l1-4.5l1 5.4l1-7.7l1 9.8l1-7.2l1 7l1-7.8l1 5.1l1-2.3l1 4.9l1-4l1 4l1-2.2l1 7.3l1-5.9l1 4.9l1-3.7l1 4.8l1-8.4l1 11.8l1-11.9l1 9.2l1-4.8l1 3.6l1-4.4l1 5.5l1-9.3l1 8.5l1-5.6l1 4.1l1-7l1 12.3l1-13l1 6.7l1-4.4l1 6.4l1-5.7l1 4.1l1-4.2l1 2.7l1-6.6l1 9.9l1-8.5l1 6.5l1-3l1 8l1-4.7l1 3.8l1-2.8l1 4.8l1-4l1 4.4l1-5.9l1 4.6l1-6.1l1 5.6l1-2.6l1 5.3l1-7.4l1 6.7l1-5.3l1 10.3l1-7.1l1 5.4l1-9.9l1 12.3l1-8.5l1 5.7l1-8.8l1 10.3l1-7.2l1 8l1-8.4l1 9.3l1-3.4l1 4.1l1-7.7l1 8.4l1-4.9l1 6.7l1-6.3l1 5.1l1-6.2l1 7.5l1-5.4l1 5.3l1-4.7l1 3.9l1-4.7l1 5.4l1-3l1 7l1-9.5l1 4.8l1-6.1l1 6.2l1-4.5l1 6.1l1-6.3l1 2.3l1-3.4l1 3.1l1-4.4l1 7.1l1-14.6l1 13.3l1-13.4l1 10.4l1-11.4l1 4.9l1-5.9l1 4.4l1-9.7l1 5.5l1-8.8l1 1l1-6.3l1-0.9l1-10.6l1-3.5l1-11.7l1-3.2l1-1.1l1 9.7l1 4l1 10.4l1 1.7l1 9.2l1 1l1 9.9l1-5.7l1 7.5l1-2.5l1 9.9l1-7.8l1 4l1-8.1l1 10.2l1-4.7l1 9.2l1-8l1 8.1l1-7.9l1 10.7l1-5.8l1 5.5l1-6.1l1 6.7l1-3.3l1 6.1l1-5.4l1 7.1l1-6.3l1 5.3l1-5.4l1 6.9l1-6l1 9.4l1-3.6l1 4.3l1-4.6l1 5.8l1-8.9l1 8l1-2.7l1 2.7l1-4l1 7.4l1-9.6l1 8.9l1-6.8l1 11.7l1-7.1l1 2.7l1-2.7l1 6l1-6.1l1 7.2l1-5.6l1 6.3l1-6.1l1 7.5l1-5.7l1 8.3l1-9.2l1 6.4l1-7.4l1 11l1-11.2l1 10l1-7.5l1 8.9l1-6.9l1 7.4l1-7.1l1 6.2l1-5.4l1 4.4l1-3.6l1 3.6l1-2.9l1 3.7l1-5.4l1 4.7l1-4.8l1 9.5l1-5.6l1 3.7l1-4l1 4.3l1-4.7l1 4.6l1-3.9l1 5.5l1-4.5l1 2.7l1-4.7l1 6.2l1-8l1 5.2l1-6.2l1 9l1-10.6l1 10.2l1-8.9l1.1 4l1-3.7l1 4.6l1-7l1 6.6l1-5l1 6.5l1-4.3l1 8.1l1-9.3l1 7.3l1-9.9l1 6.1l1-4.9l1 3.2l1-2.9l1 5l1-8.1l1 7.6l1-4.2l1 3.1l1-5.1l1 4.6l1-2.3l1 5.2l1-7.3l1 7.3l1-3.4l1 6.4l1-3.2l1 8.5l1-6.9l1 4.5l1-5l1 4.7l1-3.2l1 6l1-7.2l1 8.6l1-4l1 3.8l1-6.6l1 6l1-3l1 2.1l1-4.4l1 5.2l1-2.9l1 5.4l1-5.8l1 5.7l1-4l1 4.1l1-5.9l1 5.9l1-5.5l1 5.2l1-4.1l1 9.5l1-7.8l1 4.7l1-3.7l1 3.5l1-2.3l1 6l1-4.8l1 4.1l1-4.7l1 5.4l1-4.7l1 7.5l1-6.2l1 5.2l1-6.8l1 6.3l1-5.2l1 5.8l1-2.2l1 3.6l1-4.4l1 6l1-5.4l1 6.8l1-12.1l1 11.4l1-7.3l1 6.1l1-4.6l1 9l1-10.7l1 6.1l1-4.7l1 4.3l1-1.7l1 2.3l1-5.1l1 8.7l1-6.5l1 5l1-5.1l1 7.8l1-5.9l1 3.4l1-5l1 4.2l1-4.3l1 3.6l1-2.2l1 5.2l1-4.8l1 5l1-6.1l1 8.2l1-4.4l1 5.4l1-4.4l1 3.3l1-6.4l1 7.4l1-8l1 5.3l1-7.9l1 7.3l1-7.2l1 9.3l1-6.1l1 4.7l1-6.6l1 7.2l1-7.6l1 10.7l1-8.4l1 2.5l1-5l1 4.8l1-3.1l1 3.5l1-3.8l1 8.1l1-10.2l1 6.4l1-3.6l1 3.3l1-3.4l1 6.8l1-7.8l1 4.1l1-4.1l1 5.4l1-5.1l1 6.7l1-6.9l1 9.2l1-8.8l1 6.1l1-3.5l1 4.3l1-4.2l1 7.7l1-9l1 8.5l1-9l1 6.4l1-7.1l1 5.8l1-8.5l1 6.7l1-3l1 3.9l1-5.4l1 7.3l1-6.6l1 7.9l1-7.8l1 7.8l1-7.3l1 6.3l1-8l1 4.8l1-5.3l1 3.7l1-5.5l1 10.4l1-5.7l1 5.4l1-5.7l1 4.6l1-4.8l1 7.1l1-7.1l1 3.8l1-6.5l1 5.9l1-5.8l1 9.8l1-8.1l1 4.4l1-4.7l1 8l1-9.2l1 4.1l1-6.5l1 10.4l1-11.9l1 8.3l1-5.7l1 4.5l1-7.2l1 3.4l1-5l1 3.2l1-5.4l1 7.9l1-7l1 3.6l1-3.3l1 4.4l1-4.7l1 4.7l1-3.2l1 6.5l1-3.6l1 2.4l1-3.5l1 5.3l1-4.8l1 5.3l1-4.9l1 7.7l1-3.5l1 4.4l1-3.1l1 6.7l1-6.3l1 8.4l1-7.2l1 3.9l1-8.4l1 8.1l1-7.6l1 11.9l1-9.6l1 4.8l1-5.3l1.1 6.4l1-6.6l1 5.3l1-3.8l1 7.2l1-7l1 4.5l1-2.2l1 7.1l1-11l1 9.1l1-3.2l1 4l1-6l1 10.3l1-6.6l1 3.4l1-3.5l1 6.6l1-8.3l1 6.2l1-3.7l1 4.6l1-8.9l1 7.6l1-5.9l1 4.4l1-3l1 3.7l1-4.7l1 6.4l1-2.9l1 4.7l1-6.5l1 2.8l1-4l1 6.8l1-8.3l1 9.3l1-5.6l1 4.4l1-3.6l1 6.2l1-7.1l1 2.6l1-5.7l1 7l1-7.2l1 9.4l1-6.3l1 5.9l1-8.4l1 7.7l1-6.7l1 6.7l1-4.3l1 7.5l1-8.8l1 4.6l1-2.8l1 4.6l1-4.4l1 4.5l1-5.5l1 6.8l1-7.6l1 6.9l1-4.9l1 3.3l1-6.8l1 9.8l1-6.9l1 8.9l1-10.1l1 5.5l1-9.2l1 8.6l1-3.1l1 6.1l1-5.7l1 4.6l1-5.5l1 4.6l1-8.3l1 10.2l1-7l1 4.3l1-6.3l1 6.4l1-8.7l1 10l1-13.1l1 8l1-5.3l1 5.5l1-4.1l1 3.1l1-2.6l1 3.7l1-4.3l1 6.8l1-2.7l1 2.7l1-3.1l1 5.6l1-5.3l1 2.5l1-4.5l1 7.6l1-7.6l1 6.6l1-3.5l1 5.6l1-8.7l1 7.5l1-4.5l1 6.1l1-8.7l1 8.7l1-4.7l1 3.1l1-5.7l1 5.1l1-4l1 3.9l1-4.9l1 5.4l1-7.5l1 8.2l1-9l1 6.9l1-3.3l1 4.1l1-3.5l1 5.6l1-6.7l1 9l1-6.4l1 6.2l1-6.9l1 4l1-3.8l1 4.7l1-3.7l1 6.9l1-8.3l1 6.2l1-9.5l1 8.4l1-5.7l1 4.9l1-3.7l1 6l1-4.9l1 4.7l1-2.7l1 5.5l1-6l1 6.4l1-7.7l1 2.3l1-3.3l1 5.5l1-5.3l1 6.8l1-5.5l1 4.3l1-3.3l1 3.3l1-1.4l1 3.9l1-8.3l1 9.9l1-7.9l1 4.7l1-2.5l1 6.8l1-10.1l1 11.4l1-9.2l1 4.8l1-3.7l1 5.9l1-6.5l1 4.6l1-5l1 6l1-2.4l1 4.2l1-4.1l1 4l1-4.3l1 5.2l1-8.8l1 6.6l1-2.1l1 5.1l1-8.8l1 5l1-2.3l1 2.5l1-6.6l1 6.4l1-4.3l1 4.1l1-4.9l1 4l1-3.6l1 4.6l1-2.2l1 5.2l1-8.6l1 8.5l1-9.4l1 6.6l1-4.1l1 5.9l1-4.7l1 4.2l1-4.5l1 7.4l1-6.1l1 4.6l1-5.5l1 3.3l1-5.1l1 5.5l1-8.1l1 9.8l1-4.9l1 2.8l1-5.7l1 4.9l1-3.6l1 4.9l1-4.8l1 4.2l1-3.1l1 2.1l1-3l1 4l1-5.9l1 9.5l1-6l1.1 3.4l1-3.8l1 3.8l1-6l1 5.4l1-5.8l1 4.8l1-6.1l1 6.6l1-3.9l1 3.1l1-3.6l1 4.3l1-3.4l1 3.7l1-1.5l1 1.9l1-4.4l1 5.6l1-5.9l1 5.6l1-3.6l1 3.6l1-4.6l1 4.5l1-5.9l1 4.7l1-4.3l1 3.5l1-3.9l1 7.2l1-5.8l1 3.7l1-2.5l1 3.6l1-6l1 4.2l1-3.7l1 4.3l1-5.4l1 4l1-5l1 7.6l1-7.5l1 3.8l1-5.6l1 6.1l1-6.9l1 5.2l1-2l1 2.9l1-2.9l1 2.1l1-2.6l1 3l1-6.3l1 5.7l1-2.2l1 4.5l1-5.1l1 4l1-6l1 6.9l1-5l1 3.4l1-4.1l1 7l1-6.6l1 3l1-3.8l1 5.2l1-5.6l1 3.3l1-3.1l1 3.9l1-4.5l1 3.6l1-3.1l1 2l1-4.9l1 5.2l1-5.2l1 3.1l1-6.1l1 4.1l1-5.3l1 7.3l1-7.7l1 6.1l1-2.4l1 1.9l1-3l1 4.1l1-2.3l1 5.7l1-4.9l1 7.7l1-5.8l1 6.1l1-7.9l1 4.7l1-2.9l1 5.6l1-4.4l1 2.4l1-2.1l1 2.8l1-2.3l1 3.9l1-4.4l1 6.4l1-4.8l1 3.2l1-2.5l1 2.7l1-3.9l1 4.5l1-2.1l1 1.6l1-2.9l1 2.4l1-2.4l1 3l1-4.1l1 5.6l1-5l1 5.6l1-3.1l1 2.3l1-3l1 3.1l1-3.5l1 2.5l1-3.9l1 5l1-2.1l1 2l1-3.6l1 3.8l1-4.5l1 6.7l1-4.9l1 3.5l1-5.7l1 4.8l1-0.7l1 1.2l1-1.3l1 2.8l1-4.9l1 4.7l1-4.5l1 3.9l1-3.9l1 3.8l1-5.2l1 3.7l1-3l1 2.8l1-2.9l1 5.2l1-5.6l1 3.2l1-1.2l1 1.8l1-1.7l1 2.1l1-6.3l1 4.9l1-3.6l1 6"/>
<path stroke="#3CC8B2" stroke-width="3.60" d="M40.9 1551.2l1-4.2l1 3.7l1-5l1 3.2l1-8.2l1 4.8l1-3l1 0.2l1-7.8l1 5.8l1-7.2l1 6.3l1-8.1l1 10.1l1-7.2l1 6.7l1-3.8l1 7.1l1-2.4l1 5.7l1-3.8l1 5.6l1-2.5l1 4.9l1-5.1l1 5l1-4.8l1 3.5l1-5l1 4.4l1-4.2l1 5.8l1-7.7l1 9.2l1-5.5l1 5.6l1-4.2l1 3.5l1-3l1 2.5l1-5.2l1 6.5l1-6.5l1 7.3l1-7.4l1 8.2l1-4l1 3.1l1-6.2l1 8.5l1-7l1 2.8l1-2.2l1 4.9l1-8.7l1 10.9l1-9.2l1 9.3l1-7.3l1 5.3l1-4.4l1 4.7l1-5.7l1 4l1-5.9l1 6l1-6.2l1 6.5l1-6.3l1 6l1-6.1l1 6l1-6.1l1 6.1l1-6.1l1 6.1l1-5.9l1 6l1-6l1 6l1-6.1l1 6.2l1-6.2l1 6l1-6l1 6.1l1-6.1l1 6l1-6.1l1 6l1-5.9l1 6l1-6.1l1 6.2l1-6l1 6.2l1-6.3l1 6.2l1-6.1l1 6.1l1-6.2l1 6l1-6.1l1 6.3l1-6.3l1 6l1-5.9l1 6l1-6.1l1 6.1l1-5.9l1 5.9l1-6.1l1 6.2l1-5.9l1 5.9l1-6.2l1 6.4l1-6.2l1 5.9l1-5.9l1 6.1l1-6.4l1 6.3l1-6.1l1 6l1-5.8l1 6l1-6.2l1 6.1l1-6.1l1 6.1l1-6.4l1 6.2l1-6.2l1 6l1-5.9l1 6l1-6.1l1 6l1-6.3l1 6.3l1-6.3l1 6l1-6.4l1 6.6l1-7l1 7l1-6.8l1 6.9l1-7l1 6.9l1-7l1 6.6l1-6.9l1 6.7l1-6.9l1 6.8l1-6.9l1 6.9l1-4.4l1 1.5l1-3.4l1 5.9l1-4.3l1 6.3l1-10.7l1 6.1l1-3l1 5.5l1.1-5.7l1 3.1l1-5.7l1 9.4l1-7.5l1 4.6l1-8.1l1 7.2l1-7.6l1 9l1-7.3l1 5.4l1-5.4l1 5.6l1-6.2l1 6.9l1-8.2l1 4.7l1-2.2l1 3.6l1-5.4l1 4.6l1-4.6l1 7l1-11.2l1 7.2l1-3.1l1 3.1l1-6l1 4.3l1-9.8l1 9.6l1-5.3l1 4l1-5.5l1 4.9l1-6.5l1 3.5l1-7l1 10.2l1-7.6l1 3.4l1-7.2l1 8.8l1-10.8l1 8.7l1-7.1l1 4.2l1-6.2l1 5.7l1-9.4l1 7.6l1-6.4l1 7.7l1-11.1l1 10.4l1-10.1l1 1.5l1-7.1l1 6.4l1-10l1 4l1-10.5l1 0l1-11.7l1-3.3l1-11.4l1-8.7l1-13.2l1-12.6l1-17.7l1-15.6l1-18.3l1-7l1-4.3l1 8l1 0.2l1 3.1l1-3.2l1-3l1-11.1l1-5.7l1-15.8l1-12l1-17.4l1-12.3l1-15.9l1-9.8l1-11l1 1.2l1 3.3l1 13.5l1 13.2l1 20.5l1 15.4l1 21.9l1 16.3l1 15.9l1 5.8l1 11.4l1 4.5l1 10.1l1 5.1l1 9.6l1 2.9l1 6.7l1 1.6l1 6l1 2.9l1 5.1l1 0.6l1 8.5l1-0.3l1 4.7l1 2l1 5.2l1-1.3l1 8.4l1-1.6l1 5l1 0.6l1 8.5l1-4.9l1 9.8l1-3.8l1 11.6l1-8.7l1 12.1l1-6.4l1 9l1-4.9l1 6.2l1-4l1 5.8l1-4.6l1 4.1l1-3.8l1 9.8l1-7.3l1 6l1-7.4l1 7.7l1-3.4l1 3l1-5.6l1 7.8l1-6.6l1 4.7l1-8l1 0.5l1 0.3l1 6.9l1-1.5l1 9l1-13.4l1 9l1-2.9l1 4.6l1-3.8l1 2.9l1-3.7l1 3.2l1-4.8l1 8.1l1-8.3l1 8.6l1-9.3l1 6.5l1-4.7l1 3.5l1-13.4l1-16.2l1 20.2l1 8l1-2.8l1 6.9l1-6.1l1 5.8l1-6.2l1 7.1l1-7.9l1 9.6l1-5.9l1 3.7l1-5.5l1 5.7l1-4.9l1 2.8l1-4.2l1 3l1-6.3l1 7.2l1-3.6l1 5.6l1-1.4l1 4.5l1-3.3l1 4.3l1-3l1 4.5l1-8.3l1 9.3l1-5.9l1 4.7l1-1.5l1 3.5l1-7.2l1 10l1-8.3l1 5.8l1-7.4l1 7.3l1-4l1 5.4l1-7.3l1 6.2l1-5.7l1 9.1l1-8.3l1 9.1l1-9l1 7.5l1-9.1l1 6.4l1-7.2l1 5.7l1-6.8l1 7.9l1-4.5l1 7.5l1-6.9l1 6.3l1-5.1l1 7.3l1-2.9l1 3.7l1-3.7l1 5.9l1-3.8l1 5.1l1-7l1 9.5l1-4.5l1 7.9l1.1-9l1 9l1-11.4l1 9.8l1-10.3l1 9.1l1-8.8l1 8.4l1-5.5l1 8.1l1-4l1 4.4l1-6.7l1 5.9l1-6.3l1 7.7l1-7.8l1 6.1l1-8l1 7.9l1-3.4l1 4l1-5l1 5.2l1-3.4l1 3.6l1-6l1 5.7l1-3.8l1 4.9l1-6.9l1 4.3l1-4.1l1 5.3l1-7.1l1 7.1l1-5.5l1 4.1l1-5.8l1 6l1-7.3l1 5.3l1-2.5l1 0.8l1-3.6l1 1.7l1-5.4l1 5.2l1-6.9l1 4l1-4.8l1 1.9l1-3.7l1 1.2l1-5.8l1 3.4l1-9l1 3.2l1-8.9l1 0l1-12.2l1 1.5l1-10.9l1-4.6l1-4.6l1 5.4l1 2.6l1 14.3l1 1.8l1 9.6l1-4l1 9.3l1-3.7l1 9l1-3.3l1 6.6l1-4.4l1 8l1-2.4l1 10.4l1-9.2l1 9.3l1-2.8l1 5l1-3.6l1 6.3l1-3l1 5.6l1-7.4l1 6.8l1-7.4l1 8.7l1-8.8l1 8.6l1-1.4l1 4.7l1-4.6l1 5.2l1-5.2l1 7.8l1-9.7l1 11l1-9.2l1 8l1-2.9l1 5.4l1-3.9l1 3.4l1-3.6l1 9l1-8l1 3.5l1-5.4l1 7.3l1-6.8l1 9.2l1-4.7l1 2.5l1-2.5l1 6.4l1-8.5l1 5.5l1-4.7l1 5.8l1-5.7l1 11.2l1-11.2l1 7.7l1-5.6l1 6l1-4.6l1 7l1-4.8l1 6.8l1-6.5l1 5.8l1-5.2l1 5.1l1-6.9l1 6.4l1-4.9l1 2.3l1-2.5l1 3l1-2.9l1 7.6l1-12.3l1 7.2l1-2.7l1 5.3l1-6.6l1 7.3l1-6.7l1 3.6l1-2.6l1 4.7l1-5.8l1 3.2l1-5.1l1 8.4l1-12.4l1 12.8l1-10.8l1 6.3l1-5.2l1 6.9l1-8.8l1 9.2l1-7.2l1 4l1-3.1l1 2.8l1-5.6l1 6.4l1-5.9l1 4l1-3.8l1 5.6l1-7.1l1 6.4l1-4.6l1 7.3l1-9.2l1 6.5l1-3.2l1 2.9l1-7l1 9.2l1-5.5l1 3.3l1-6.2l1 10.8l1-10.7l1 10l1-7.4l1 7.8l1-6.6l1 12.7l1-7.4l1 7.3l1-7.8l1 6.5l1-6.9l1 6.2l1-6l1 6.9l1-8.2l1 9l1-6.2l1 8.6l1-5.2l1 6.6l1-4.6l1 8.7l1-13.1l1 8.3l1-4.3l1 6l1-6.9l1 7.4l1-6.8l1 5.6l1-4l1 6.1l1-4.9l1 4.9l1-7.5l1 6.4l1-2.8l1 5.9l1-6l1 7.8l1-4.8l1 3.4l1-3.9l1 5.4l1-8.6l1 10.9l1-10.2l1 8.6l1-5.2l1 8.3l1-6.9l1 4.6l1.1-6.2l1 6.5l1-9.9l1 8.1l1-8.3l1 9l1-5.2l1 5.2l1-4.4l1 4.4l1-2.5l1 5.8l1-10.5l1 9.4l1-7.5l1 3.2l1-4.6l1 8.5l1-8.3l1 5.3l1-2.9l1 9.2l1-6.4l1 4.2l1-3.9l1 3.2l1-6l1 9.1l1-12l1 7.5l1-3.1l1 2.7l1-5.1l1 4.8l1-3.9l1 3.9l1-3.2l1 4.1l1-2.5l1 5.1l1-7.2l1 4l1-4.4l1 4.8l1-4.6l1 5.7l1-5.9l1 8.9l1-10.9l1 10.5l1-9.1l1 9l1-9.2l1 6.8l1-5.2l1 5.2l1-3.9l1 8l1-7l1 7.7l1-6.5l1 3l1-4.1l1 3.1l1-6l1 5.9l1-7.7l1 5l1-3.5l1 7.4l1-4.4l1 7.5l1-10.1l1 7.5l1-6.7l1 7l1-6l1 2.9l1-6.1l1 6.7l1-6.8l1 9.1l1-9.9l1 7.7l1-8.3l1 6.8l1-5.2l1 5.2l1-5.8l1 7.8l1-11l1 8.9l1-8l1 9.4l1-6.3l1 6.6l1-4.8l1 5.6l1-3.7l1 2.1l1-4.2l1 6l1-6.3l1 5.2l1-5l1 3.7l1-6.7l1 7.4l1-6.3l1 8l1-8.9l1 5.6l1-3.2l1 9l1-8.8l1 8.6l1-8.2l1 4.1l1-4.5l1 4.4l1-4.1l1 5.1l1-3.6l1 5.2l1-7.9l1 7.4l1-6.9l1 8.2l1-9.6l1 1.7l1-3.9l1 5.1l1-8l1 7.2l1-8.5l1 5.7l1-8.5l1 9.7l1-7.7l1 9.5l1-10.5l1 7.2l1-6.2l1 7.9l1-5.3l1 4.3l1-2.9l1 7.9l1-7.8l1 8.1l1-6.2l1 6.6l1-1.8l1 4.9l1-7.5l1 7.1l1-4.1l1 6.7l1-6.8l1 5.4l1-3.9l1 6l1-3.9l1 3.5l1-4.5l1 11l1-10l1 7l1-6.9l1 10l1-9l1 5.1l1-9.7l1 9l1-3.8l1 2.9l1-3.8l1 7.3l1-8.4l1 5.9l1-5.9l1 7.7l1-5.5l1 4l1-2.8l1 3.4l1-3.6l1 4.5l1-4.4l1 7.7l1-9.2l1 4.1l1-4.2l1 3.8l1-3.5l1 4.2l1-5.5l1 10l1-5.2l1 3.8l1-4.6l1 9l1-10.6l1 8.1l1-6.2l1 4.3l1-5.9l1 6.7l1-9.1l1 9.8l1-9.9l1 6.5l1-6.6l1 8l1-6.4l1 6.2l1-6.5l1 3.1l1-4l1 5l1-3.6l1 7.6l1-7.4l1 3.8l1-2.5l1 2.3l1-4.3l1 5.5l1-6.1l1 12.3l1-9.2l1 5.8l1-5.9l1 8.1l1-6.8l1 3.4l1-3.9l1 4.1l1-9.1l1 10.8l1-5.6l1 3.4l1-4.2l1 6.4l1.1-7.1l1 6.8l1-6.1l1 6.1l1-4.1l1 2.3l1-7.2l1 9.3l1-10.2l1 7.5l1-5.7l1 6.6l1-12l1 11.1l1-8.1l1 5.5l1-7l1 4.4l1-6.1l1 7.3l1-4.2l1 4.8l1-4.3l1 6l1-2l1 6.4l1-6.3l1 2.7l1-5.5l1 7.6l1-7.7l1 5.9l1-6.6l1 5.6l1-1.1l1 6.1l1-6l1 5.6l1-7.5l1 7.4l1-5l1 4.4l1-4.8l1 4.6l1-7.9l1 8.4l1-3.7l1 5.7l1-8.2l1 10.1l1-7l1 3.1l1-7.3l1 9.9l1-7.3l1 6.1l1-4.4l1 5.5l1-7.1l1 4.7l1-4.1l1 7.9l1-8.2l1 9.1l1-9.4l1 7.5l1-3.6l1 4.6l1-6.2l1 4.6l1-3.1l1 3.6l1-4.3l1 5.1l1-6l1 6l1-5.5l1 7.2l1-7.2l1 3.8l1-3.3l1 1.4l1-6.7l1 8.3l1-5.2l1 4.8l1-4.1l1 4.1l1-6l1 8.1l1-4.3l1 3.3l1-4.6l1 6l1-4.4l1 5.5l1-5.2l1 6.2l1-5.8l1 3.4l1-3l1 3.8l1-3.2l1 2.7l1-2.4l1 2.4l1-2.9l1 6.1l1-5.2l1 3.8l1-3.4l1 3.6l1-6.1l1 4.2l1-4.5l1 5.2l1-3.4l1 3.3l1-4.3l1 3.3l1-1.4l1 3.6l1-4.3l1 4l1-5.3l1 3.9l1-3.2l1 3.7l1-3.4l1 5.6l1-6.5l1 9.1l1-7.7l1 4.4l1-3.4l1 4.1l1-4.3l1 5.1l1-6.1l1 5l1-3.5l1 4.1l1-7l1 4.2l1-5.6l1 5.4l1-2.9l1 2.4l1-2l1 1.8l1-3.2l1 4.8l1-5.1l1 4.3l1-2.6l1 1.6l1-2.4l1 2.3l1-3l1 3.4l1-4l1 5.3l1-3.6l1 1.8l1-3.4l1 3.7l1-4.5l1 4.8l1-3.6l1 4.8l1-6.5l1 5.2l1-6.8l1 7.9l1-6.1l1 7.4l1-7.6l1 5.5l1-3.8l1 2.8l1-2.6l1 3l1-4.2l1 3l1-0.9l1 3.7l1-5.2l1 3.5l1-6.2l1 5.9l1-3.9l1 3.3l1-3.1l1 2.2l1-1.7l1 3.1l1-4l1 2.9l1-4.6l1 4.7l1-4.7l1 5l1-2.2l1 2l1-4.4l1 6.5l1-4.4l1 3.4l1-3.1l1 3l1-3.4l1 2.9l1-6l1 6.7l1-3.9l1 4.3l1-3.9l1 1.9l1-1.8l1 3.4l1-5.1l1 4.3l1-4.6l1 4.2l1-4.2l1 6.2l1-5.5l1 5.2l1-2.7l1 2l1-2.1l1 3l1-4.1l1 3.7l1-4.6l1 3.7l1-3.8l1 5.7l1-7l1 3.5l1-2l1 2.8l1-4.5l1 6.7l1.1-6.3l1 2.9l1-3.4l1 4.3l1-4.4l1 4l1-4l1 5.2l1-5.5l1 1.1l1-2.7l1 2.5l1-5.3l1 4.1l1-1.4l1 1.9l1-5l1 8.1l1-3.7l1 3.7l1-3.1l1 4.6l1-5.5l1 6.2l1-5.9l1 4.3l1-3.2l1 3.5l1-3l1 2.8l1-2.2l1 3.4l1-4.6l1 6.4l1-4.5l1 3.7l1-5.6l1 8.2l1-5.7l1 5.1l1-7l1 7.2l1-2.8l1 2.2l1-4.6l1 5l1-4.8l1 6.1l1-4.8l1 1.8l1-2.3l1 2.8l1-1.9l1 3l1-4.7l1 5.6l1-4.9l1 5.8l1-5.4l1 3.9l1-3.9l1 3.7l1-2.8l1 3.8l1-1.8l1 3.2l1-5l1 3l1-2.4l1 3.9l1-5l1 3.9l1-0.9l1 1.3"/>
<path stroke="#30BFCF" stroke-width="3.60" d="M44.5 1562.1l1-3.9l1 1.9l1-2.1l1 1.2l1-2.4l1 3l1-4.2l1 2.1l1-3.1l1 3.3l1-6.4l1 4.5l1-6.3l1 4l1-5.1l1 2l1-3l1 5.3l1-1.8l1 5.3l1-1.3l1 4.6l1-1.7l1 3.1l1.1-1.2l1 3.7l1-2.5l1 5.1l1-2.4l1 2.2l1-1.3l1 3l1-1.9l1 2.4l1-2.7l1 4.6l1-4.4l1 4.2l1-2.7l1 3.1l1-4.1l1 4.1l1-1.6l1 4.5l1-3.7l1 3l1-3.8l1 4.6l1-1.7l1 2.2l1-1.7l1 3.1l1-3.8l1 4.4l1-3.4l1 2.2l1-3.7l1 6.6l1-5.6l1 3.7l1-2.9l1 3.5l1-4.7l1 4.8l1-2.3l1 3l1-2.3l1 3.5l1-2.6l1 2.7l1-5.7l1 4.4l1-3.3l1 4.4l1-4.5l1 5.6l1-6l1 3.8l1-1.4l1 2l1-2.5l1 3.5l1-4l1 4l1-1.6l1 2.2l1-3.8l1 3.5l1-3.1l1 3.3l1-3.8l1 4.5l1-3.8l1 3l1-1.7l1 2.9l1-3l1 1.7l1-2.3l1 2.7l1-2.2l1 3.1l1-2.4l1 2.2l1-3.2l1 3.8l1-2.3l1 3.5l1-3.2l1 3.5l1-4l1 4.2l1-5l1 5.5l1-3.3l1 2.6l1-2.5l1 4.2l1-4.6l1 3.7l1-3.9l1 3.6l1-4.1l1 2.7l1-3.3l1 4.1l1-2.8l1 2.9l1-2.1l1 3l1-3l1 2.9l1-3.6l1 1.8l1-2.5l1 4.2l1-5.1l1 2.5l1-3.6l1 3.6l1-2.3l1 2.3l1-2.3l1 2.8l1-4.3l1 3.9l1-2.1l1 3.6l1-4.6l1 2.7l1-2.5l1 2.2l1-5.3l1 6.4l1-4.4l1 3.3l1-4.6l1 3.5l1-2.8l1 3.1l1-4.7l1 3.6l1-3.8l1 4.1l1-3l1 3.8l1-4.8l1 3l1-3.6l1 4.1l1-4.9l1 3.8l1-4.1l1 4.9l1-4.8l1 2.9l1-5.7l1 3.7l1-2.8l1 3.2l1-5l1 2.8l1-2.5l1 3.2l1-5.4l1 1.9l1-2.1l1 2.7l1-5.7l1 3.1l1-2.2l1 1.8l1-4.1l1 4l1-4.5l1 3.9l1-4.7l1 2.9l1-4.2l1-0.1l1-4.4l1 2.7l1-7.4l1 4.6l1-5.7l1 3.4l1-3.9l1 2.2l1-6.7l1 1.9l1-7l1 0.8l1-4.9l1-3.3l1-8.4l1-5.4l1-10.9l1-7.7l1-13.5l1-13.2l1-16.6l1-15.6l1-15.1l1-3.4l1-1.1l1 4.2l1 2l1 1.6l1-5.4l1-4.4l1-10.2l1-8.9l1-13.1l1-13.4l1-15l1-13.1l1-14.3l1-9.1l1-9.1l1 2.1l1 5.7l1 14.1l1 13.2l1 17.6l1 15.6l1 19.7l1 13.4l1 13.2l1 5.8l1 8.3l1 4.5l1 6.7l1 4.3l1 6.8l1 2.9l1 4.8l1 1.3l1 4.1l1 2.1l1 4.4l1 1.5l1 3.4l1 0.6l1 3.8l1 1.3l1 3.9l1 1.7l1 4.9l1.1 0.9l1 5.2l1 0.8l1 5.3l1 1.3l1 5.8l1 1.3l1 7.2l1-2.1l1 7.7l1-0.6l1 6.2l1-4.5l1 9.2l1-1.3l1 5.9l1-6.5l1 10.9l1-6.3l1 9.7l1-8.1l1 9.4l1-7.5l1 7.6l1-3.1l1 3.4l1-3.7l1 4.8l1-2.8l1 5l1-11.2l1-7.1l1 10.1l1 7.7l1-4.6l1 6.4l1-4.4l1 3.7l1-4.9l1 5.7l1-2.9l1 2.6l1-2.9l1 3.1l1-2.8l1 4.9l1-5.5l1 5.2l1-4.5l1 5.3l1-3.9l1 4.5l1-11.2l1-12.1l1 14.5l1 5.3l1-6.5l1 7l1-4.2l1 3.8l1-4.9l1 6l1-5.4l1 6l1-3.9l1 3.5l1-7l1 5.4l1-5.8l1 6.6l1-3.7l1 5.1l1-4.3l1 5.6l1-6.8l1 7l1-4.1l1 4.8l1-3.7l1 5.1l1-8.1l1 8.4l1-5l1 5.8l1-6.9l1 5.4l1-3.2l1 7l1-6.3l1 3.6l1-2.9l1 4.8l1-6.8l1 5.5l1-7.4l1 8.2l1-6.4l1 3.7l1-2.8l1 5.8l1-5l1 5.4l1-5.2l1 3.8l1-4.1l1 4.3l1-6l1 4.9l1-6.7l1 6l1-1.2l1 2.4l1-3l1 3.5l1-3.4l1 6.9l1-4.4l1 3.9l1-6.6l1 5.6l1-4.8l1 6l1-4.9l1 3.2l1-4.6l1 6.7l1-7.2l1 7.5l1-4.2l1 4.5l1-3l1 5.2l1-4.4l1 7.3l1-4.4l1 5.4l1-6.2l1 5.7l1-2.5l1 8.7l1-8.3l1 4.2l1-4.4l1 5.1l1-2.4l1 3.6l1-3.3l1 2.9l1-7.7l1 12.2l1-8.7l1 6.6l1-5.9l1 5.6l1-3.4l1 6.3l1-7l1 4.8l1-4.4l1 3.5l1-3.2l1 2.5l1-4.2l1 5.5l1-4.7l1 5.8l1-5.3l1 4.5l1-5.2l1 1.5l1-5.8l1 4.4l1-5l1 4.5l1-7.4l1 2.3l1-3.9l1 2.2l1-5.1l1 2.4l1-6.4l1 5l1-10.3l1 2l1-7.1l1-2.6l1-8.4l1-4.1l1-12.2l1-3.1l1-1.6l1 9.2l1 4.8l1 12.1l1-1.5l1 9l1 0.9l1 8.9l1-5.1l1 6.5l1-3.2l1 7.1l1-5.1l1 10.4l1-3.5l1 4.8l1-3l1 8.8l1-6.5l1 4.7l1-5.2l1 5.2l1-3.6l1 4.8l1-5.5l1 9l1-6.8l1 6.2l1-3.7l1 5.3l1-4.8l1 5.4l1-5l1 7.8l1-7.9l1 5.5l1-4.2l1 6.1l1-3.1l1 3.5l1-1.6l1 6.4l1-4.2l1 2.9l1-3.1l1 4.7l1-4.3l1 8.4l1-7.2l1 4.6l1-2l1 4.6l1-5.8l1 4.4l1.1-2.9l1 5.7l1-6.2l1 5.7l1-2.4l1 3.3l1-3.5l1 3.7l1-5.9l1 6.1l1-5.6l1 9l1-6.2l1 4.5l1-3.3l1 5.3l1-5.6l1 3.9l1-4l1 5.4l1-5.2l1 7.5l1-5.3l1 6.7l1-9.3l1 7.4l1-4.4l1 5l1-4.9l1 6.5l1-5.8l1 4.1l1-3.2l1 4.2l1-5.8l1 5.6l1-6.3l1 7.8l1-7.7l1 7.9l1-7.8l1 7.2l1-8.6l1 8.6l1-6l1 3.6l1-6.1l1 6.6l1-5l1 5.6l1-6.7l1 5.1l1-4l1 2.8l1-5.2l1 7.1l1-6.5l1 3.7l1-4.6l1 5.2l1-3.2l1 3.4l1-4.5l1 4.2l1-4.2l1 3.2l1-8.4l1 6.9l1-4.2l1 5.8l1-5.4l1 4.7l1-7.4l1 8.6l1-5.3l1 4.3l1-3.1l1 5.6l1-3l1 4.6l1-4.9l1 9.3l1-3.8l1 2.6l1-2.3l1 4.5l1-4.2l1 3.2l1-4.7l1 4.6l1-2.4l1 2l1-5.4l1 8.7l1-4.7l1 6l1-4.4l1 5.7l1-5.2l1 2.9l1-6.1l1 10.8l1-10.5l1 5.8l1-4.5l1 7.2l1-4.9l1 4l1-4.4l1 4.2l1-3.9l1 4.4l1-1.9l1 5.4l1-8.4l1 7.3l1-5.1l1 5.7l1-4.9l1 7.2l1-11.2l1 10.1l1-6.9l1 10.3l1-6.3l1 7.7l1-6.5l1 4.6l1-3.4l1 4.5l1-3.3l1 3.3l1-4.7l1 8.7l1-8.1l1 5.8l1-3.9l1 3l1-3.6l1 2.8l1-4.6l1 5.8l1-7.7l1 7.8l1-6.9l1 6.1l1-4.8l1 3.6l1-2.1l1 3.5l1-3.6l1 4.3l1-3.7l1 3.3l1-3.8l1 5.9l1-7.2l1 6.1l1-7.3l1 8.1l1-4.6l1 4.5l1-4.4l1 8.1l1-6.9l1 5.4l1-3.8l1 5.1l1-6.1l1 4.1l1-6.6l1 6.4l1-4.5l1 7.9l1-8.9l1 8l1-6.6l1 8.2l1-7.5l1 5.1l1-5l1 3.9l1-5.7l1 4l1-2.6l1 5.1l1-5.2l1 4.6l1-4.6l1 6l1-3.4l1 4.5l1-6.1l1 4.8l1-7.7l1 8.4l1-4.1l1 6.9l1-6.3l1 4.5l1-3.3l1 3.9l1-5.1l1 6l1-6.5l1 3l1-7.2l1 5.2l1-6.7l1 11.3l1-9.3l1 8.6l1-7.5l1 6.8l1-4.4l1 3l1-7.3l1 8.6l1-5.4l1 3.5l1-3.7l1 4.9l1-5.9l1 4.7l1-4.8l1 5.2l1-4l1 6.7l1-8.1l1 5.6l1-6.1l1 3.8l1-3.6l1 3.6l1-6.1l1 6.3l1-3.8l1 2.8l1-2l1 3.5l1-7.1l1 7.8l1-3.6l1 4.4l1.1-5.8l1 3.9l1-5.7l1 5.1l1-4.3l1 3.7l1-4l1 4.7l1-5.7l1 2.8l1-3.4l1 3l1-4.8l1 6.1l1-7.5l1 6.8l1-7.4l1 5.2l1-6.4l1 4l1-3l1 7l1-9.8l1 7.5l1-4.5l1 6.2l1-6.7l1 10.1l1-7.2l1 6.4l1-4.5l1 4.6l1-3.5l1 3.8l1-2.9l1 7.4l1-9.2l1 10.8l1-9.9l1 9.6l1-6.7l1 4.5l1-3.6l1 3.7l1-4.1l1 5.1l1-4.7l1 2.7l1-2.8l1 4.2l1-5.5l1 8l1-4.5l1 5.2l1-5.7l1 5l1-4.6l1 5.2l1-3.2l1 3.6l1-4.1l1 3.9l1-5.7l1 8.1l1-8.9l1 7.4l1-3.8l1 3.9l1-2.9l1 4.8l1-3.8l1 4.8l1-6.2l1 4.8l1-3.6l1 5l1-6.3l1 6.4l1-8l1 8.2l1-6.9l1 7l1-5.4l1 8.4l1-8.3l1 6l1-5.9l1 3.9l1-2.6l1 2.8l1-4.4l1 5.8l1-5.4l1 7l1-7.1l1 6.6l1-8l1 8.4l1-7.1l1 4.8l1-2.6l1 2.8l1-4l1 3.4l1-3.7l1 4.9l1-7.1l1 5.5l1-3.1l1 3.7l1-5.7l1 5.2l1-3l1 4.8l1-4.8l1 3.2l1-7.2l1 9.5l1-6.3l1 6l1-6.4l1 5.3l1-8.1l1 7.8l1-3.5l1 6.4l1-6.8l1 2.3l1-5.3l1 5.9l1-4.4l1 4.5l1-3.3l1 6.8l1-7.6l1 6.6l1-6.2l1 4l1-4.2l1 4.5l1-6.6l1 4l1-5.9l1 4.3l1-4.6l1 5.3l1-6.9l1 6.8l1-5.4l1 5.1l1-2.5l1 5.5l1-3.5l1 4.9l1-5.1l1 5.3l1-5l1 5.9l1-4.4l1 6.1l1-7.1l1 5.9l1-5l1 4.5l1-2.9l1 2.3l1-5l1 2.9l1-4.5l1 5.1l1-5.7l1 5.9l1-2.8l1 3.4l1-4.6l1 5.2l1-3.3l1 6.8l1-4.8l1 1.8l1-2.6l1 2.9l1-1.9l1 1.4l1-3.2l1 4.7l1-2.8l1 4.3l1-6.4l1 8.3l1-5.6l1 4.3l1-5l1 4.8l1-4.8l1 4.3l1-3.7l1 7.3l1-8.7l1 4.3l1-3.3l1 3.3l1-6l1 6.9l1-3.6l1 2.5l1-3.4l1 3.2l1-4.7l1 9.1l1-9.3l1 8.6l1-8.7l1 9l1-5.3l1 4.1l1-4.7l1 3.5l1-4.1l1 5.9l1-4.5l1 4.7l1-6.3l1 6.8l1-3.5l1 2.4l1-4.3l1 6.9l1-4.2l1 6.5l1-7.3l1 3.7l1-2.4l1 5.2l1-5.4l1 4.3l1-6.8l1 7.6l1-5.3l1 4l1-7l1 6.8l1-3.5l1 2.8l1.1-4.3l1 4.9l1-5.5l1 4.9l1-5.7l1 7l1-5.9l1 4.9l1-1.9l1 2.2l1-2.3l1 3.2l1-7l1 10l1-7l1 2.7l1-2.3l1 4.2l1-4.4l1 3.1l1-5.4l1 6.3l1-4.5l1 6.3l1-6.6l1 6.7l1-5l1 2.4l1-5.8l1 8.5l1-9.3l1 7.5l1-3.4l1 2.7l1-4l1 5.1l1-4.8l1 2.4l1-1.8l1 5.3l1-5.8l1 4.9l1-5.9l1 7.5l1-8.4l1 4.3l1-4.6l1 4.4l1-3l1 3.6l1-4.9l1 4.7l1-7.4l1 9.5l1-6l1 3.3l1-2l1 3.9l1-7.1l1 8.5l1-5.3l1 2.7l1-3.9l1 5.6l1-6.7l1 5.5l1-2.2l1 1.9l1-2.7l1 2.8l1-4.5l1 4.9l1-1.9l1 2l1-4l1 4.4l1-3.8l1 5l1-6l1 4.3l1-4.5l1 3.7l1-3.3l1 5.3l1-6.8l1 3.7l1-3.3l1 3.7l1-4.7l1 2.9l1-2.5l1 5.1l1-4.6l1 2.4l1-1.4l1 3.8l1-4.2l1 2.6l1-5l1 4.6l1-4.1l1 1.9l1-0.9l1 2.8l1-2.8l1 4.6l1-3.1l1 2.9l1-4.6l1 6l1-5.6l1 4l1-3.8l1 3.7l1-4.7l1 3.1l1-6.5l1 5l1-4.2l1 4.9l1-3.5l1 2.3l1-1.4l1 3.5l1-6.9l1 4.8l1-4l1 2.4l1-3.4l1 5.2l1-5.6l1 2.5l1-2.8l1 4.8l1-6.5l1 4.9l1-4.7l1 3.5l1-4.2l1 3.1l1-3.3l1 4.1l1-4.3l1 6.8l1-4.3l1 4.4l1-1.1l1 2.5l1-2.2l1 2.2l1-3.6l1 4.1l1-1.6l1 3.9l1-4.1l1 3.3l1-2.3l1 2.7l1-3.2l1 2.9l1-4.3l1 7.5l1-4.5l1 3l1-2.7l1 1.9l1-5.3l1 5.9l1-3.5l1 3.7l1-2.7l1 1.9l1-2.7l1 3.5l1-3l1 5.1l1-8.1l1 5l1-3.6l1 5.9l1-5l1 5.2l1-5.6l1 6.9l1-4.5l1 2l1-2.8l1 3.8l1-3.2l1 3.4l1-5.1l1 3.9l1-3.9l1 6.3l1-5.2l1 3.7l1-3.5l1 2.7l1-1.8l1 2.1l1-2.6l1 3.2l1-3.4l1 6.4l1-5.1l1 2.7l1-3.2l1 4.6l1-3.2l1 2.6l1-2.6l1 2.3l1-2.1l1 4.7l1-4.6l1 3.1l1-3l1 2.2l1-3.2l1 4.1"/>
<path stroke="#000000" stroke-width="3.60" d="M48.2 1575.9l1 1.8l1-2.4l1 1.7l1-3.2l1 1.7l1-4.8l1 1.5l1-4.3l1-0.6l1-6l1 0.9l1-6.2l1 4.8l1-4.5l1 5.4l1 0.9l1 4.8l1 1.4l1 5.2l1 1.4l1 3.5l1-0.2l1 3.9l1-3.2l1 6.8l1-2.3l1 2.2l1-2.9l1 5.1l1-3.2l1 4l1-1.9l1 4.9l1-3.1l1 3.1l1-2.7l1 2.4l1-3.7l1 4.2l1-1.7l1 3.7l1-4.2l1 2.9l1-1.6l1 3.2l1-1.8l1 2.7l1-2.5l1 3.4l1-1.7l1 2.3l1-2.1l1 3.8l1-2.6l1 2.7l1-3.2l1 3.9l1-2.7l1 4l1-4.6l1 4.5l1-3.4l1 2.8l1-3.3l1 3.6l1-3.6l1 3.1l1-3.9l1 4.5l1-3.5l1 2.6l1-2.3l1 2.1l1-2.4l1 2.4l1-1.9l1 2.9l1-3.7l1 4.8l1-3.2l1 3.2l1-4.2l1 3.1l1-3.4l1 3.7l1-2.8l1 2.7l1-2.8l1 4.4l1-3.8l1 2.6l1-1.7l1 2.5l1-5.2l1 6.5l1-4.2l1 3.2l1-3.3l1 4l1-3.3l1 3.6l1-3.8l1 2.8l1-1.5l1 3.6l1-4.3l1 2.2l1-3.4l1 2.5l1-2.2l1 2.8l1-2.8l1 3.7l1-3.4l1 2.7l1-1.5l1 2.4l1-2.6l1 2l1-1.7l1 2.3l1-4.2l1.1 4.5l1-4.1l1 1.6l1-5.3l1 3.1l1-7.1l1 5.1l1 0l1 3.8l1-1.2l1 2.6l1-3.2l1 5.6l1-4.1l1 4.4l1-4l1 3.4l1-3.9l1 5l1-3.6l1 1.6l1-2.8l1 2.3l1-2.5l1 2.4l1-2.8l1 3.4l1-2.8l1 4.2l1-3.9l1 2.2l1-2.8l1 4.5l1-5.8l1 3.4l1-2.7l1 5.6l1-4.5l1 2.6l1-4.6l1 3l1-2.6l1 2.2l1-3.2l1 3.5l1-5l1 4.3l1-2.3l1 3.5l1-3.7l1 3.2l1-3.7l1 2.2l1-1.6l1 1.8l1-3.7l1 1.4l1-3.5l1 1.9l1-5.1l1 3.7l1-3.1l1 2.9l1-4.4l1 3.4l1-3.9l1 2.3l1-3.7l1 1.9l1-4.5l1 3.1l1-4.6l1 1.9l1-5.3l1 2.9l1-4.6l1 3.8l1-3.8l1 1.2l1-6.9l1 2l1-5.8l1 2l1-4.6l1 1.3l1-6.5l1 0.1l1-4.7l1 0l1-7.8l1-2.1l1-8.4l1-7.4l1-14.2l1-11.4l1-16.9l1-17.2l1-23.7l1-26.8l1-35.5l1-33.8l1-22.2l1 6l1 14l1 12.8l1 7.3l1 1.6l1-6.7l1-10.2l1-14.1l1-15.2l1-20.7l1-20.4l1-22.2l1-19.2l1-18.9l1-12.9l1-6l1 6.5l1 15.5l1 23l1 23.4l1 29.9l1 24.9l1 29.4l1 19.7l1 18.4l1 9.8l1 11.7l1 9.8l1 11.6l1 8.9l1 9.7l1 5.2l1 7.7l1 4.8l1 7.1l1 4.3l1 7.3l1 3.5l1 7l1 3.2l1 5.9l1 2.3l1 5.8l1 3.2l1 5.5l1 3.3l1 5.6l1 1.2l1 6.3l1 0l1 9.9l1-0.8l1 10.1l1-1.9l1 6.4l1-3l1 5.9l1-1.2l1 6.5l1-6.1l1 7.6l1-3.9l1 4.4l1-3.3l1 7.7l1-2l1 5.8l1-3.1l1 6.3l1-3.8l1 6.1l1-2.7l1 3.7l1-4.6l1 4l1-5l1 7.7l1-7.8l1 8.4l1-2.4l1 5.9l1-6.8l1 5.6l1-3.4l1 5.6l1-6l1 3.9l1-3.3l1 2.6l1-6.7l1 11.8l1-9l1 6.1l1-3.4l1 3.8l1-5.4l1 5.5l1-7.3l1 9.9l1-5.6l1 3.8l1-3.6l1 7.1l1-6.2l1 6l1-3.3l1 5.6l1-5.8l1 3.6l1-2l1 5.9l1-7.6l1 6.5l1-4.4l1 6.4l1-6.5l1 5.8l1-3.4l1 6l1-6.3l1 10.3l1-6.6l1 7.1l1-8.2l1 10.9l1-7.4l1 8.7l1-6.6l1 3.8l1-4.6l1 4.7l1-4.7l1 8.3l1-4.7l1 3.9l1-2.5l1 5.1l1-5l1 3.8l1-4.2l1 5.7l1.1-3.3l1 5.8l1-6.7l1 4.5l1-6.7l1 5.5l1-6.2l1 5.2l1-3.8l1 6.8l1-3.6l1 2.7l1-5.2l1 6.9l1-3.7l1 4.1l1-3.1l1 5.3l1-7.3l1 7.2l1-7.1l1 6.9l1-3.6l1 5.6l1-5.6l1 8.8l1-7.2l1 4.7l1-5.3l1 5l1-5.4l1 7.4l1-4.9l1 4.9l1-6.7l1 7.3l1-6.5l1 5.7l1-2.3l1 4.3l1-8.3l1 7.9l1-5.1l1 3.9l1-5.6l1 6.7l1-1.9l1 5.7l1-7.6l1 7.4l1-6.4l1 9l1-4.1l1 3l1-4.8l1 3.5l1-3.8l1 2.2l1-4.3l1 5.5l1-6.2l1 6.4l1-6.9l1 6.7l1-8.4l1 8.2l1-6l1 4l1-3.5l1 3.1l1-3.3l1 2.6l1-4.5l1 2.2l1-2.9l1 1.1l1-5.6l1 2.3l1-5l1 8.1l1-12.6l1 6l1-7.8l1 2.3l1-5.3l1 1.2l1-11l1 3.9l1-13.3l1-3.2l1-15.7l1-10.8l1-12.1l1 0.6l1 7.3l1 15l1 10.3l1 12.5l1 3.7l1 11.1l1-1.9l1 7.3l1-1.8l1 7l1-1.6l1 6.4l1-7.3l1 10l1-5.2l1 4.2l1-0.5l1 5.1l1-5.8l1 8.1l1-5.6l1 8.3l1-4.2l1 6.9l1-7.4l1 4.3l1-2.9l1 4.1l1-6l1 7.6l1-4.5l1 3.6l1-3.8l1 6.2l1-6.9l1 7.4l1-5.6l1 9.1l1-4.6l1 4.6l1-4.7l1 5.1l1-3.4l1 8.6l1-10.1l1 7.4l1-5.3l1 4.4l1-1.5l1 4.8l1-6.7l1 7l1-3.4l1 6.5l1-7.6l1 6.7l1-5.4l1 6.6l1-4.2l1 2.7l1-6l1 7.7l1-6.7l1 5.6l1-6.3l1 4.8l1-4.2l1 4.3l1-3.4l1 6l1-7.5l1 9.4l1-6.3l1 9.2l1-7.3l1 3.2l1-2.2l1 4l1-4.2l1 3.4l1-4.2l1 6.2l1-7.9l1 4.3l1-3.5l1 4l1-2.3l1 1.5l1-4.8l1 8.5l1-5.1l1 2.3l1-3.9l1 5.2l1-5l1 6.1l1-7.6l1 2.7l1-4.9l1 5.3l1-4.7l1 2l1-5.3l1 7l1-5.1l1 7.5l1-6.9l1 3.5l1-3.6l1 3.4l1-3.7l1 4.9l1-6.8l1 4.9l1-3.6l1 2.8l1-8.9l1 8.4l1-8.6l1 7.3l1-8.2l1 11.2l1-7.4l1 4l1-4.9l1 3.8l1-8.4l1 9.1l1-0.2l1 7.3l1-2.8l1 5.4l1-1.8l1 6.8l1-6.2l1 7.9l1-4.9l1 4l1-3.8l1 3l1-3.5l1 3.6l1-3.8l1 4l1-3.6l1 9.6l1-9l1 4.8l1-3.1l1 4.8l1-5l1.1 3.6l1-4.1l1 3.9l1-5.1l1 5.1l1-6.5l1 7.8l1-7.4l1 5.2l1-2.3l1 4.7l1-1.6l1 3l1-6.3l1 7.7l1-4.9l1 4l1-3.9l1 8.7l1-6.5l1 2l1-3.3l1 6l1-4.7l1 4.9l1-4.8l1 3.4l1-4.1l1 8l1-8.1l1 8.2l1-6.8l1 3.2l1-2.3l1 3.6l1-3.2l1 5.8l1-8.5l1 5.7l1-4.6l1 4.2l1-6.6l1 6.3l1-4.8l1 5.6l1-5.1l1 5l1-3.7l1 5.4l1-4.9l1 6.1l1-6.8l1 5.4l1-3.2l1 3.9l1-7.9l1 6.3l1-2.3l1 2.9l1-3.9l1 4.2l1-5.3l1 6.6l1-3.1l1 3.2l1-5.4l1 6.6l1-5.4l1 7.3l1-6.7l1 3.9l1-4.3l1 3.3l1-5.1l1 5.7l1-2.6l1 4.2l1-4.7l1 4.9l1-6.3l1 7.1l1-4.8l1 2.1l1-3l1 4l1-9.2l1 9.9l1-7.1l1 5.1l1-5.2l1 4.2l1-3.4l1 4.1l1-2.9l1 8.5l1-6.7l1 5.1l1-4.5l1 4.9l1-6.8l1 5.9l1-4.3l1 8.2l1-6.6l1 3.7l1-6.8l1 3.9l1-5.4l1 7.1l1-6l1 5.9l1-6l1 4.3l1-4.3l1 4l1-2.9l1 5.3l1-4.6l1 2.2l1-6.2l1 8.3l1-6.2l1 4.4l1-3.5l1 3.6l1-4.3l1 4.2l1-4.2l1 3.6l1-5.8l1 6.2l1-5.1l1 5.1l1-8.3l1 6.7l1-3.8l1 5.2l1-8.4l1 10.1l1-5.9l1 4.5l1-7.6l1 5.8l1-4.2l1 3.5l1-5.9l1 4.8l1-3.9l1 5.5l1-9l1 9.4l1-6.5l1 5.1l1-6l1 1.8l1-2.9l1 2.8l1-6.5l1 7.2l1-7.8l1 6.3l1-9.4l1 4.6l1-5.8l1 3.2l1-5.2l1 8.7l1-7.7l1 7.3l1-5.7l1 6.6l1-7.6l1 9l1-5.9l1 5.5l1-4.7l1 7.8l1-6.4l1 4l1-3.4l1 7.6l1-6.2l1 5.8l1-5.4l1 5.5l1-2.9l1 5.9l1-7.6l1 3.4l1-4.1l1 3.8l1-5.1l1 4.9l1-3.8l1 5.3l1-6.2l1 7.1l1-3l1 4.6l1-7.2l1 6.9l1-5.7l1 5.9l1-6.9l1 5.1l1-4.2l1 4.7l1-6.9l1 8.5l1-7.1l1 7.1l1-4.3l1 8l1-8.7l1 7.9l1-7.1l1 5.9l1-5l1 5.1l1-6.4l1 3.5l1-7.6l1 8.9l1-4.6l1 2.4l1-6.6l1 6.4l1-4l1 5.6l1-6.3l1 1.7l1-5.3l1 4.1l1-6.2l1 6l1-3.2l1 4.1l1-3.3l1 5.2l1-2.7l1 3.9l1-4.3l1 5l1.1-2.8l1 6.7l1-7.3l1 9.2l1-7.2l1 6.3l1-6.1l1 6l1-4.2l1 6.9l1-10l1 6.4l1-4l1 5.1l1-6.3l1 4.6l1-8l1 8.7l1-4.6l1 3.3l1-4.4l1 6l1-6.3l1 6.9l1-8.3l1 5.9l1-6.6l1 6.2l1-4.4l1 6.3l1-5l1 2.8l1-4.6l1 8.1l1-7.3l1 4.5l1-6.7l1 5.2l1-6l1 4.5l1-4.3l1 4.8l1-6.3l1 3.8l1-6.8l1 4.8l1-5.7l1 10.2l1-6.6l1 6.6l1-1.2l1 2.3l1-1.3l1 3.7l1-6.5l1 6.6l1-4.5l1 3.9l1-2.6l1 4.2l1-4.7l1 6l1-3.6l1 2.2l1-3.9l1 4l1-4l1 2.9l1-3.4l1 5l1-3.8l1 3.4l1-4.1l1 4.7l1-2.7l1 4.7l1-4.6l1 2.9l1-4.7l1 4.2l1-5.6l1 5.4l1-5.7l1 5.6l1-2.6l1 7l1-6.9l1 5.2l1-5.4l1 5.4l1-4.4l1 5.1l1-7.3l1 8.1l1-7.3l1 5.9l1-6.1l1 5.6l1-2.8l1 2.4l1-2l1 3.6l1-4.4l1 5.4l1-4.8l1 3.6l1-3.5l1 4.1l1-5.1l1 5.5l1-5.7l1 4.7l1-2.5l1 3.8l1-3.4l1 2.2l1-4.3l1 4.4l1-3.7l1 4.8l1-3l1 3.5l1-4.1l1 4.6l1-7.9l1 10.8l1-5.7l1 1.6l1-5.5l1 5.6l1-2.5l1 4.7l1-6.3l1 5.6l1-3.4l1 3.4l1-3l1 2.8l1-2.8l1 6.8l1-9l1 5.1l1-4.7l1 3.5l1-2.8l1 1.5l1-2.5l1 3.3l1-3.8l1 5.1l1-3.9l1 5l1-3.5l1 2.6l1-3.3l1 6.8l1-6.4l1 4l1-6.5l1 8.3l1-7.9l1 7.9l1-8.5l1 3.3l1-2.7l1 3.3l1-7.4l1 4.9l1-5.3l1 6.5l1-7.4l1 5.4l1-3.9l1 4l1-5.9l1 8.6l1-3.9l1 4l1-1.8l1 2.9l1-2l1 4.1l1-4.1l1 4.6l1-5.5l1 6.5l1-8l1 6.5l1-6.3l1 4.4l1-6.4l1 6.9l1-6.4l1 6.8l1-5l1 4.3l1-3.7l1 4.5l1-3.8l1 5.9l1-4.5l1 1.6l1-1.7l1 4l1-3.5l1 3.9l1-2.9l1 3.1l1-6.1l1 5.4l1-2.9l1 1.9l1-2.1l1 4.2l1-6.6l1 5.6l1-3.7l1 2.1l1-2.5l1 3.1l1-3.6l1 3.4l1-3.5l1 2l1-2.1l1 3.4l1-4.2l1 4.1l1-3.9l1 5.8l1-6.5l1 3.8l1-2.5l1 2.6l1-4.6l1 4.2l1-1.8l1 2.3l1-2.1l1 2.1l1-4.5l1 6.3l1-4.2l1 2.1l1-2.3l1.1 4.2l1-6.1l1 7.2l1-5.6l1 4.7l1-8.1l1 5.3l1-2.6l1 2.6l1-2.7l1 2.8l1-2.2l1 5l1-4.1l1 2.9l1-3.5l1 5.9l1-5.6l1 4.7l1-5.6l1 5.5l1-6l1 3.9l1-3.1l1 2.8l1-4.6l1 5.4l1-7.2l1 2.9l1-4.9l1 6.2l1-4.6l1 2.2l1-6.5l1 5.4l1-3.9l1 4l1-4.3l1 4.7l1-1.1l1 3.2l1-2.7l1 3.4l1-1.5l1 4.2l1-3.2l1 5.9l1-6l1 4l1-2.6l1 2.3l1-1.9l1 3.8l1-5.4l1 6.6l1-4.7l1 4.4l1-3.9l1 2.1l1-2.9l1 4.9l1-3.6l1 3.3l1-2.2l1 4.9l1-4.4l1 2.5l1-4.1l1 2.8l1-2.1l1 3.4l1-4.2l1 3.5l1-2.9l1 3.1l1-3l1 2.5l1-2.2l1 5.5l1-5.2l1 2.6l1-2.6l1 4.2l1-3.7l1 4.1l1-4.9l1 3.8l1-1.9l1 3.4l1-4.7l1 4.3l1-6.1l1 6.3l1-4l1 5.8l1-5.2l1 3.2l1-4.3l1 3.8l1-2.3l1 2.6l1-2.3l1 5.8l1-6.2l1 4.4l1-3.5l1 3.4l1-3.8l1 1.9l1-3.3l1 4.2l1-2.4l1 3.7l1-5.6l1 4.9l1-2.3l1 4.1l1-5l1 3.7l1-3.8l1 2.6l1-2"/>
</g>
<g stroke="#000" stroke-width="2.7" fill="none">
<path d="M32.2 827.1H1268.2"/>
<path stroke-width="2.4" d="M47.9 827.1v8.0M78.7 827.1v8.0M109.6 827.1v14.5M140.5 827.1v8.0M171.3 827.1v8.0M202.2 827.1v8.0M233.1 827.1v8.0M264.0 827.1v14.5M294.8 827.1v8.0M325.7 827.1v8.0M356.6 827.1v8.0M387.4 827.1v8.0M418.3 827.1v14.5M449.2 827.1v8.0M480.1 827.1v8.0M510.9 827.1v8.0M541.8 827.1v8.0M572.7 827.1v14.5M603.6 827.1v8.0M634.4 827.1v8.0M665.3 827.1v8.0M696.2 827.1v8.0M727.0 827.1v14.5M757.9 827.1v8.0M788.8 827.1v8.0M819.7 827.1v8.0M850.5 827.1v8.0M881.4 827.1v14.5M912.3 827.1v8.0M943.1 827.1v8.0M974.0 827.1v8.0M1004.9 827.1v8.0M1035.8 827.1v14.5M1066.6 827.1v8.0M1097.5 827.1v8.0M1128.4 827.1v8.0M1159.2 827.1v8.0M1190.1 827.1v14.5M1221.0 827.1v8.0M1251.9 827.1v8.0"/>
</g>
<g font-size="32.5" text-anchor="middle">
<text x="109.6" y="876.2">10</text>
<text x="264.0" y="876.2">20</text>
<text x="418.3" y="876.2">30</text>
<text x="572.7" y="876.2">40</text>
<text x="727.0" y="876.2">50</text>
<text x="881.4" y="876.2">60</text>
<text x="1035.8" y="876.2">70</text>
<text x="1190.1" y="876.2">80</text>
</g>
<g stroke="#000" stroke-width="2.7" fill="none">
<path d="M34.9 1730.4H1270.0"/>
<path stroke-width="2.4" d="M50.9 1730.4v8.0M81.8 1730.4v8.0M112.6 1730.4v14.5M143.4 1730.4v8.0M174.3 1730.4v8.0M205.1 1730.4v8.0M236.0 1730.4v8.0M266.8 1730.4v14.5M297.6 1730.4v8.0M328.5 1730.4v8.0M359.3 1730.4v8.0M390.2 1730.4v8.0M421.0 1730.4v14.5M451.8 1730.4v8.0M482.7 1730.4v8.0M513.5 1730.4v8.0M544.4 1730.4v8.0M575.2 1730.4v14.5M606.0 1730.4v8.0M636.9 1730.4v8.0M667.7 1730.4v8.0M698.6 1730.4v8.0M729.4 1730.4v14.5M760.2 1730.4v8.0M791.1 1730.4v8.0M821.9 1730.4v8.0M852.8 1730.4v8.0M883.6 1730.4v14.5M914.4 1730.4v8.0M945.3 1730.4v8.0M976.1 1730.4v8.0M1007.0 1730.4v8.0M1037.8 1730.4v14.5M1068.6 1730.4v8.0M1099.5 1730.4v8.0M1130.3 1730.4v8.0M1161.2 1730.4v8.0M1192.0 1730.4v14.5M1222.8 1730.4v8.0M1253.7 1730.4v8.0"/>
</g>
<g font-size="32.5" text-anchor="middle">
<text x="112.6" y="1778.6">10</text>
<text x="266.8" y="1778.6">20</text>
<text x="421.0" y="1778.6">30</text>
<text x="575.2" y="1778.6">40</text>
<text x="729.4" y="1778.6">50</text>
<text x="883.6" y="1778.6">60</text>
<text x="1037.8" y="1778.6">70</text>
<text x="1192.0" y="1778.6">80</text>
</g>
<text x="612.3" y="919.2" font-size="47.5">2<tspan dx="0.8" textLength="27" lengthAdjust="spacingAndGlyphs">θ</tspan></text>
<text x="673.5" y="913.5" font-size="31.3" font-family="'Liberation Sans', sans-serif">(degrees)</text>
<text x="595.7" y="1837.2" font-size="47.5">2<tspan dx="0.8" textLength="27" lengthAdjust="spacingAndGlyphs">θ</tspan></text>
<text x="664.3" y="1831.4" font-size="31.3" font-family="'Liberation Sans', sans-serif">(degrees)</text>
<text x="11.5" y="44.0" font-size="47.5">(a)</text>
<text x="10.0" y="988.3" font-size="47.5">(b)</text>
<g font-size="27.8">
<text transform="translate(236.3 253.2) rotate(-90)">Qz, Mog: 4.26-4.30 Å</text>
<text transform="translate(313.1 386.4) rotate(-90)">Mog: 3.49 Å</text>
<text transform="translate(407.2 403.3) rotate(-90)">Crs, Mog: 2.86 Å</text>
<text transform="translate(478.4 321.0) rotate(-90)">Crs: 2.50 Å</text>
<text transform="translate(502.8 419.5) rotate(-90)">Qz, Mog: 2.461 Å</text>
<text transform="translate(532.6 418.5) rotate(-90)">Qz, Mog: 2.28 Å</text>
<text transform="translate(557.0 425.3) rotate(-90)">Qz, Mog: 2.24 Å</text>
<text transform="translate(580.7 424.6) rotate(-90)">Qz, Mog: 2.13 Å</text>
<text transform="translate(606.1 425.3) rotate(-90)">Crs: 2.04 Å</text>
<text transform="translate(632.5 433.8) rotate(-90)">Qz, Mog: 1.98 Å</text>
<text transform="translate(699.2 433.8) rotate(-90)">Qz, Mog: 1.82 Å</text>
<text transform="translate(772.4 440.5) rotate(-90)">Qz, Mog: 1.67 Å</text>
<text transform="translate(800.2 438.9) rotate(-90)">Mog: 1.61 Å</text>
<text transform="translate(848.6 454.1) rotate(-90)">Qz, Mog: 1.54 Å</text>
<text transform="translate(917.7 445.6) rotate(-90)">Crs, Qz, Mog: 1.44 Å</text>
<text transform="translate(974.0 454.1) rotate(-90)">Qz, Mog: 1.37 Å</text>
<text transform="translate(1056.9 454.1) rotate(-90)">Qz, Mog: 1.29 Å</text>
<text transform="translate(1093.9 454.1) rotate(-90)">Crs, Qz, Mog: 1.26 Å</text>
<text transform="translate(1154.2 443.9) rotate(-90)">Crs, Qz, Mog: 1.20 Å</text>
<text transform="translate(1183.0 445.6) rotate(-90)">Qz, Mog: 1.18 Å</text>
<text transform="translate(317.6 1226.0) rotate(-90)">Mog: 3.49 Å</text>
<text transform="translate(340.0 1228.4) rotate(-90)">Qz, Mog: 3.31 Å</text>
<text transform="translate(363.3 1228.4) rotate(-90)">En: 3.18 Å</text>
<text transform="translate(402.5 1241.2) rotate(-90)">En: 2.90 Å</text>
<text transform="translate(448.2 1246.3) rotate(-90)">Qz, Mog: 2.28 Å</text>
<text transform="translate(478.7 1205.6) rotate(-90)">Crs h, Trd: 2.50 Å</text>
<text transform="translate(603.2 1297.1) rotate(-90)">Crs h, Trd: 2.06 Å</text>
<text transform="translate(794.7 1314.9) rotate(-90)">Crs h: 1.63 Å</text>
<text transform="translate(920.2 1304.8) rotate(-90)">Qz, Mog: 1.54 Å</text>
<text transform="translate(988.0 1304.8) rotate(-90)">Crs h, Qz, Mog: 1.45 Å</text>
<text transform="translate(1159.0 1337.7) rotate(-90)">Crs h, Qz, Mog: 1.20 Å</text>
<text x="260.8" y="77.9">Crs: 4.10 Å</text>
<text x="286.5" y="159.9">Qz, Mog: 3.34 Å</text>
<text x="257.6" y="1005.0">Crs h: 4.11 Å</text>
<text x="38.2" y="1064.5">Trd, Mog: 4.33 Å</text>
<text x="13.5" y="1637.9">Sep: 13.04 Å</text>
<text x="136.5" y="1691.1">Sep: 6.21 Å</text>
</g>
<path d="M232.0 254.0L236.2 279.5M307.8 387.3L307.8 413.7M398.6 405.3L398.6 425.6M493.4 420.5L493.4 440.8M523.9 419.8L523.9 434.0M546.6 427.3L536.4 445.9M569.6 426.6L569.6 437.5M596.0 426.6L596.0 440.8M622.1 435.8L622.1 453.7M762.7 442.5L762.7 461.2M790.8 440.2L790.8 453.7M908.4 447.6L908.4 461.2M1047.6 456.1L1047.6 471.3M1083.8 456.1L1083.8 469.6M1146.5 447.6L1149.9 464.6M1172.9 447.6L1170.9 466.2M310.0 1228.6L310.0 1251.0M332.8 1230.7L331.3 1245.9M355.7 1229.6L349.6 1260.0M392.3 1243.4L392.3 1267.7M440.5 1247.4L440.5 1280.4M910.0 1307.0L910.0 1331.2M979.9 1307.0L979.9 1336.3M172.8 1072.1L227.1 1102.6M63.3 1580.3L63.3 1631.1M174.5 1610.8L182.9 1672.5" stroke="#000" stroke-width="1.1" fill="none"/>
<g font-size="32.8">
<text x="1268.5" y="819.2">25 ºC</text>
<text x="1268.9" y="1694.8">25 ºC</text>
<text x="1261.8" y="787.0">100 ºC</text>
<text x="1262.9" y="1659.7">100 ºC</text>
<text x="1259.8" y="756.7">200 ºC</text>
<text x="1260.2" y="1628.7">200 ºC</text>
<text x="1255.5" y="727.0">300 ºC</text>
<text x="1257.0" y="1600.1">300 ºC</text>
<text x="1251.8" y="697.8">400 ºC</text>
<text x="1255.5" y="1570.2">400 ºC</text>
<text x="1249.0" y="666.4">500 ºC</text>
<text x="1251.6" y="1541.4">500 ºC</text>
<text x="1246.4" y="638.2">600 ºC</text>
<text x="1247.2" y="1511.7">600 ºC</text>
<text x="1242.0" y="609.0">700 ºC</text>
<text x="1242.9" y="1482.5">700 ºC</text>
<text x="1239.9" y="578.6">800 ºC</text>
<text x="1240.7" y="1451.7">800 ºC</text>
<text x="1236.0" y="549.0">900 ºC</text>
<text x="1236.4" y="1422.3">900 ºC</text>
<text x="1230.4" y="519.0">1000 ºC</text>
<text x="1231.0" y="1394.7">1000 ºC</text>
<text x="1227.9" y="488.7">25 ºC cooling</text>
<text x="1229.5" y="1361.2">25 ºC cooling</text>
</g>
</svg>
</body></html>
